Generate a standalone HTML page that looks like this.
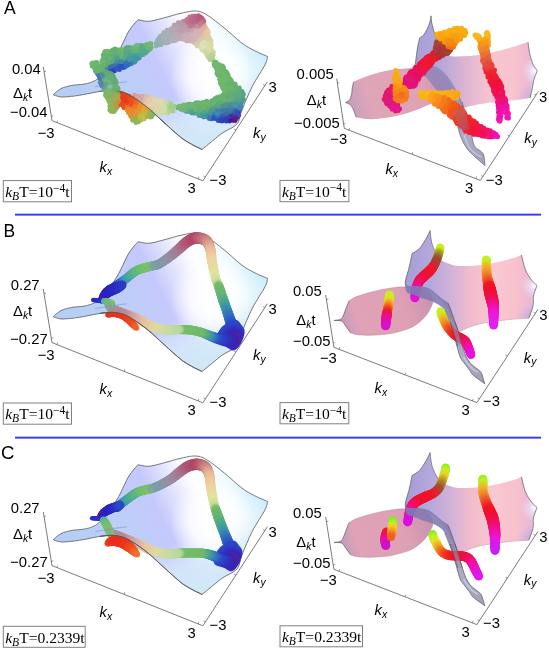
<!DOCTYPE html>
<html><head><meta charset="utf-8"><title>Figure</title>
<style>html,body{margin:0;padding:0;background:#fff}svg{display:block}</style></head>
<body><svg width="549" height="648" viewBox="0 0 549 648">
<defs><linearGradient id="ag" gradientUnits="userSpaceOnUse" x1="60" y1="94" x2="240.6" y2="3.7">
<stop offset="0" stop-color="#b4cef5"/><stop offset="0.3" stop-color="#bccff7"/><stop offset="0.5" stop-color="#c5c8fc"/><stop offset="0.72" stop-color="#ffffff"/><stop offset="0.86" stop-color="#f2fbff"/><stop offset="1" stop-color="#c6ebfa"/></linearGradient>
<radialGradient id="aw" gradientUnits="userSpaceOnUse" cx="212" cy="76" r="42"><stop offset="0" stop-color="#fff" stop-opacity="1"/><stop offset="0.5" stop-color="#fff" stop-opacity="0.8"/><stop offset="1" stop-color="#fff" stop-opacity="0"/></radialGradient>
<linearGradient id="ab" gradientUnits="userSpaceOnUse" x1="196" y1="150" x2="170" y2="100"><stop offset="0" stop-color="#cfe8f8" stop-opacity="1"/><stop offset="0.5" stop-color="#d8ecf9" stop-opacity="0.8"/><stop offset="1" stop-color="#e8f6fd" stop-opacity="0"/></linearGradient>
<clipPath id="ac"><path d="M138 19.7 L138.8 19.9 L139.9 20.1 L141.2 20.4 L142.7 20.7 L144.2 21 L145.9 21.2 L147.6 21.3 L149.3 21.2 L151.1 21 L153 20.6 L155 20.2 L157.1 19.7 L159.2 19.1 L161.3 18.6 L163.3 18 L165.3 17.5 L167.2 17 L169.1 16.5 L170.9 16 L172.7 15.4 L174.5 14.9 L176.3 14.4 L178.2 13.9 L180 13.5 L181.9 13.1 L183.8 12.6 L185.8 12.2 L187.7 11.8 L189.6 11.4 L191.5 11.2 L193.3 11 L195 11 L196.5 11.1 L197.9 11.2 L199.2 11.4 L200.5 11.8 L201.7 12.2 L203.1 12.8 L204.6 13.5 L206.3 14.5 L208.2 15.7 L210.3 17.1 L212.5 18.7 L214.8 20.5 L217.2 22.3 L219.6 24.2 L221.9 26.1 L224.2 27.9 L226.5 29.8 L228.8 31.8 L231.1 33.8 L233.4 35.9 L235.7 37.9 L237.9 39.9 L240 41.6 L242 43.2 L243.8 44.5 L245.6 45.7 L247.2 46.7 L248.7 47.6 L250.2 48.4 L251.7 49.2 L253.2 50 L254.8 50.8 L256.5 51.6 L258.3 52.5 L260.1 53.3 L262 54.1 L263.7 54.8 L265.2 55.4 L266.5 56 L267.5 56.4 L267.4 57 L267.3 57.6 L267.2 58.4 L267.1 59.2 L266.8 60.3 L266.4 61.6 L265.8 63.1 L265 64.8 L263.9 66.9 L262.5 69.2 L260.8 71.9 L259.1 74.7 L257.3 77.6 L255.5 80.6 L253.7 83.6 L252.2 86.5 L250.8 89.4 L249.3 92.5 L248 95.6 L246.6 98.7 L245.3 101.8 L244.1 104.8 L243 107.5 L242 110 L241.2 112.2 L240.6 114.3 L240.1 116.2 L239.7 117.9 L239.3 119.5 L238.7 121.1 L238 122.6 L236.9 124 L235.5 125.4 L233.9 126.6 L232.1 127.7 L230.1 128.8 L228.1 129.8 L226.1 130.8 L224.2 131.9 L222.4 133 L220.7 134.2 L219 135.5 L217.4 136.8 L215.8 138.2 L214.2 139.5 L212.7 140.7 L211.3 141.9 L210 143 L208.7 144 L207.5 145 L206.3 146 L205.2 146.9 L204.2 147.7 L203.3 148.4 L202.6 149 L202 149.5 L200.6 148.8 L198.8 147.9 L196.6 146.9 L194.2 145.7 L191.7 144.3 L189.1 142.9 L186.6 141.4 L184.2 139.9 L181.9 138.3 L179.7 136.4 L177.4 134.5 L175.1 132.5 L172.8 130.5 L170.6 128.5 L168.4 126.5 L166.3 124.6 L164.2 122.7 L162.1 120.8 L160.1 119 L158.1 117.1 L156.2 115.3 L154.3 113.6 L152.6 112 L151 110.6 L149.6 109.4 L148.3 108.3 L147.2 107.3 L146.1 106.5 L145.1 105.7 L144.1 104.9 L143.1 104.2 L142 103.4 L140.9 102.6 L139.8 101.8 L138.7 101 L137.6 100.3 L136.4 99.6 L135.4 98.8 L134.3 98.2 L133.2 97.5 L132.1 96.9 L131.1 96.2 L130.1 95.6 L129 95 L128 94.5 L127 93.9 L126 93.4 L125 93 L124 92.6 L123 92.2 L122 91.9 L121 91.6 L120 91.4 L119 91.2 L118 91 L117 90.8 L116 90.7 L115 90.5 L114 90.5 L113.1 90.4 L112.1 90.4 L111.1 90.4 L110 90.4 L109 90.4 L108 90.4 L107 90.5 L106.1 90.6 L105.1 90.7 L104 90.8 L102.9 91 L101.5 91.2 L100 91.4 L98.2 91.7 L96.1 92.1 L93.9 92.5 L91.5 93 L89.1 93.5 L86.8 93.9 L84.7 94.4 L82.8 94.7 L81.1 95 L79.6 95.2 L78.3 95.5 L77 95.7 L75.7 95.8 L74.5 96 L73.2 96.2 L71.9 96.3 L70.5 96.4 L69.1 96.6 L67.6 96.7 L66.2 96.8 L64.8 96.9 L63.4 97 L62.1 97 L60.9 96.9 L59.7 96.7 L58.5 96.5 L57.4 96.2 L56.3 95.8 L55.3 95.5 L54.4 95.2 L53.7 94.9 L53.1 94.7 L53.7 94.2 L54.4 93.6 L55.3 92.8 L56.3 91.9 L57.4 91 L58.5 90.2 L59.7 89.4 L60.9 88.7 L62.1 88.1 L63.4 87.6 L64.8 87.2 L66.2 86.7 L67.6 86.4 L69.1 86 L70.5 85.7 L71.9 85.4 L73.3 85.2 L74.7 85 L76.1 84.9 L77.5 84.8 L78.9 84.7 L80.2 84.6 L81.5 84.5 L82.8 84.3 L84 84.1 L85.2 83.9 L86.3 83.6 L87.4 83.4 L88.5 83.1 L89.5 82.8 L90.5 82.5 L91.5 82.1 L92.4 81.7 L93.2 81.4 L94 81.1 L94.7 80.7 L95.5 80.3 L96.3 79.7 L97.1 79.1 L98.1 78.3 L99.2 77.4 L100.3 76.3 L101.5 75.2 L102.8 73.9 L104.1 72.6 L105.4 71.2 L106.7 69.6 L108 68 L109.3 66.3 L110.6 64.4 L112 62.4 L113.3 60.4 L114.7 58.3 L116 56.1 L117.4 53.8 L118.7 51.5 L120 49.1 L121.3 46.4 L122.6 43.7 L123.9 40.9 L125.2 38.2 L126.4 35.6 L127.7 33.1 L128.9 31 L130.2 29.1 L131.5 27.3 L132.8 25.6 L134.1 24.1 L135.3 22.7 L136.4 21.5 L137.3 20.5 L138 19.7Z"/></clipPath>
<linearGradient id="bg" gradientUnits="userSpaceOnUse" x1="60" y1="316" x2="240.6" y2="225.7">
<stop offset="0" stop-color="#b4cef5"/><stop offset="0.3" stop-color="#bccff7"/><stop offset="0.5" stop-color="#c5c8fc"/><stop offset="0.72" stop-color="#ffffff"/><stop offset="0.86" stop-color="#f2fbff"/><stop offset="1" stop-color="#c6ebfa"/></linearGradient>
<radialGradient id="bw" gradientUnits="userSpaceOnUse" cx="212" cy="298" r="42"><stop offset="0" stop-color="#fff" stop-opacity="1"/><stop offset="0.5" stop-color="#fff" stop-opacity="0.8"/><stop offset="1" stop-color="#fff" stop-opacity="0"/></radialGradient>
<linearGradient id="bb" gradientUnits="userSpaceOnUse" x1="196" y1="372" x2="170" y2="322"><stop offset="0" stop-color="#cfe8f8" stop-opacity="1"/><stop offset="0.5" stop-color="#d8ecf9" stop-opacity="0.8"/><stop offset="1" stop-color="#e8f6fd" stop-opacity="0"/></linearGradient>
<clipPath id="bc"><path d="M138 241.7 L138.8 241.9 L139.9 242.1 L141.2 242.4 L142.7 242.7 L144.2 243 L145.9 243.2 L147.6 243.3 L149.3 243.2 L151.1 243 L153 242.6 L155 242.2 L157.1 241.7 L159.2 241.1 L161.3 240.6 L163.3 240 L165.3 239.5 L167.2 239 L169.1 238.5 L170.9 238 L172.7 237.4 L174.5 236.9 L176.3 236.4 L178.2 235.9 L180 235.5 L181.9 235.1 L183.8 234.6 L185.8 234.2 L187.7 233.8 L189.6 233.4 L191.5 233.2 L193.3 233 L195 233 L196.5 233.1 L197.9 233.2 L199.2 233.4 L200.5 233.8 L201.7 234.2 L203.1 234.8 L204.6 235.5 L206.3 236.5 L208.2 237.7 L210.3 239.1 L212.5 240.7 L214.8 242.5 L217.2 244.3 L219.6 246.2 L221.9 248.1 L224.2 249.9 L226.5 251.8 L228.8 253.8 L231.1 255.8 L233.4 257.9 L235.7 259.9 L237.9 261.9 L240 263.6 L242 265.2 L243.8 266.5 L245.6 267.7 L247.2 268.7 L248.7 269.6 L250.2 270.4 L251.7 271.2 L253.2 272 L254.8 272.8 L256.5 273.6 L258.3 274.5 L260.1 275.3 L262 276.1 L263.7 276.8 L265.2 277.4 L266.5 278 L267.5 278.4 L267.4 279 L267.3 279.6 L267.2 280.4 L267.1 281.2 L266.8 282.3 L266.4 283.6 L265.8 285.1 L265 286.8 L263.9 288.9 L262.5 291.2 L260.8 293.9 L259.1 296.7 L257.3 299.6 L255.5 302.6 L253.7 305.6 L252.2 308.5 L250.8 311.4 L249.3 314.5 L248 317.6 L246.6 320.7 L245.3 323.8 L244.1 326.8 L243 329.5 L242 332 L241.2 334.2 L240.6 336.3 L240.1 338.2 L239.7 339.9 L239.3 341.5 L238.7 343.1 L238 344.6 L236.9 346 L235.5 347.4 L233.9 348.6 L232.1 349.7 L230.1 350.8 L228.1 351.8 L226.1 352.8 L224.2 353.9 L222.4 355 L220.7 356.2 L219 357.5 L217.4 358.8 L215.8 360.2 L214.2 361.5 L212.7 362.7 L211.3 363.9 L210 365 L208.7 366 L207.5 367 L206.3 368 L205.2 368.9 L204.2 369.7 L203.3 370.4 L202.6 371 L202 371.5 L200.6 370.8 L198.8 369.9 L196.6 368.9 L194.2 367.7 L191.7 366.3 L189.1 364.9 L186.6 363.4 L184.2 361.9 L181.9 360.3 L179.7 358.4 L177.4 356.5 L175.1 354.5 L172.8 352.5 L170.6 350.5 L168.4 348.5 L166.3 346.6 L164.2 344.7 L162.1 342.8 L160.1 341 L158.1 339.1 L156.2 337.3 L154.3 335.6 L152.6 334 L151 332.6 L149.6 331.4 L148.3 330.3 L147.2 329.3 L146.1 328.5 L145.1 327.7 L144.1 326.9 L143.1 326.2 L142 325.4 L140.9 324.6 L139.8 323.8 L138.7 323 L137.6 322.3 L136.4 321.6 L135.4 320.8 L134.3 320.2 L133.2 319.5 L132.1 318.9 L131.1 318.2 L130.1 317.6 L129 317 L128 316.5 L127 315.9 L126 315.4 L125 315 L124 314.6 L123 314.2 L122 313.9 L121 313.6 L120 313.4 L119 313.2 L118 313 L117 312.8 L116 312.7 L115 312.5 L114 312.5 L113.1 312.4 L112.1 312.4 L111.1 312.4 L110 312.4 L109 312.4 L108 312.4 L107 312.5 L106.1 312.6 L105.1 312.7 L104 312.8 L102.9 313 L101.5 313.2 L100 313.4 L98.2 313.7 L96.1 314.1 L93.9 314.5 L91.5 315 L89.1 315.5 L86.8 315.9 L84.7 316.4 L82.8 316.7 L81.1 317 L79.6 317.2 L78.3 317.5 L77 317.7 L75.7 317.8 L74.5 318 L73.2 318.2 L71.9 318.3 L70.5 318.4 L69.1 318.6 L67.6 318.7 L66.2 318.8 L64.8 318.9 L63.4 319 L62.1 319 L60.9 318.9 L59.7 318.7 L58.5 318.5 L57.4 318.2 L56.3 317.8 L55.3 317.5 L54.4 317.2 L53.7 316.9 L53.1 316.7 L53.7 316.2 L54.4 315.6 L55.3 314.8 L56.3 313.9 L57.4 313 L58.5 312.2 L59.7 311.4 L60.9 310.7 L62.1 310.1 L63.4 309.6 L64.8 309.2 L66.2 308.7 L67.6 308.4 L69.1 308 L70.5 307.7 L71.9 307.4 L73.3 307.2 L74.7 307 L76.1 306.9 L77.5 306.8 L78.9 306.7 L80.2 306.6 L81.5 306.5 L82.8 306.3 L84 306.1 L85.2 305.9 L86.3 305.6 L87.4 305.4 L88.5 305.1 L89.5 304.8 L90.5 304.5 L91.5 304.1 L92.4 303.7 L93.2 303.4 L94 303.1 L94.7 302.7 L95.5 302.3 L96.3 301.7 L97.1 301.1 L98.1 300.3 L99.2 299.4 L100.3 298.3 L101.5 297.2 L102.8 295.9 L104.1 294.6 L105.4 293.2 L106.7 291.6 L108 290 L109.3 288.3 L110.6 286.4 L112 284.4 L113.3 282.4 L114.7 280.3 L116 278.1 L117.4 275.8 L118.7 273.5 L120 271.1 L121.3 268.4 L122.6 265.7 L123.9 262.9 L125.2 260.2 L126.4 257.6 L127.7 255.1 L128.9 253 L130.2 251.1 L131.5 249.3 L132.8 247.6 L134.1 246.1 L135.3 244.7 L136.4 243.5 L137.3 242.5 L138 241.7Z"/></clipPath>
<radialGradient id="cg222" gradientUnits="userSpaceOnUse" cx="234.5" cy="339" r="15"><stop offset="0" stop-color="#80168c"/><stop offset="0.3" stop-color="#5a1ea0"/><stop offset="0.6" stop-color="#3426b8"/><stop offset="1" stop-color="#2c44c8"/></radialGradient>
<clipPath id="bfe"><path d="M100 313.7 L100.7 313.6 L101.6 313.5 L102.8 313.3 L104 313.2 L105.3 313 L106.6 312.9 L107.9 312.8 L109 312.7 L110 312.7 L111.1 312.7 L112.1 312.7 L113.1 312.7 L114 312.8 L115 312.8 L116 313 L117 313.1 L118 313.3 L119 313.5 L120 313.7 L121 313.9 L122 314.2 L123 314.5 L124 314.9 L125 315.3 L126 315.7 L127 316.2 L128 316.8 L129.1 317.3 L130.1 317.9 L131.1 318.5 L132.1 319.2 L133.2 319.8 L134.3 320.5 L135.4 321.1 L136.4 321.9 L137.5 322.6 L138.7 323.3 L139.8 324.1 L140.9 324.9 L142 325.7 L143.1 326.5 L144.1 327.2 L145.1 328 L146.1 328.8 L147.2 329.6 L148.3 330.6 L149.6 331.7 L151 332.9 L152.6 334.3 L154.3 335.9 L156.2 337.6 L158.1 339.4 L160.1 341.3 L162.1 343.1 L164.2 345 L166.3 346.9 L168.4 348.8 L170.6 350.8 L172.8 352.8 L175.1 354.8 L177.4 356.8 L179.7 358.7 L181.9 360.6 L184.2 362.2 L186.6 363.7 L189.1 365.2 L191.7 366.6 L194.2 368 L196.6 369.2 L198.8 370.2 L200.6 371.1 L202 371.8 L202 422 L90 422 L90 313.6Z"/></clipPath>
<linearGradient id="cg" gradientUnits="userSpaceOnUse" x1="60" y1="539" x2="240.6" y2="448.7">
<stop offset="0" stop-color="#b4cef5"/><stop offset="0.3" stop-color="#bccff7"/><stop offset="0.5" stop-color="#c5c8fc"/><stop offset="0.72" stop-color="#ffffff"/><stop offset="0.86" stop-color="#f2fbff"/><stop offset="1" stop-color="#c6ebfa"/></linearGradient>
<radialGradient id="cw" gradientUnits="userSpaceOnUse" cx="212" cy="521" r="42"><stop offset="0" stop-color="#fff" stop-opacity="1"/><stop offset="0.5" stop-color="#fff" stop-opacity="0.8"/><stop offset="1" stop-color="#fff" stop-opacity="0"/></radialGradient>
<linearGradient id="cb" gradientUnits="userSpaceOnUse" x1="196" y1="595" x2="170" y2="545"><stop offset="0" stop-color="#cfe8f8" stop-opacity="1"/><stop offset="0.5" stop-color="#d8ecf9" stop-opacity="0.8"/><stop offset="1" stop-color="#e8f6fd" stop-opacity="0"/></linearGradient>
<clipPath id="cc"><path d="M138 464.7 L138.8 464.9 L139.9 465.1 L141.2 465.4 L142.7 465.7 L144.2 466 L145.9 466.2 L147.6 466.3 L149.3 466.2 L151.1 466 L153 465.6 L155 465.2 L157.1 464.7 L159.2 464.1 L161.3 463.6 L163.3 463 L165.3 462.5 L167.2 462 L169.1 461.5 L170.9 461 L172.7 460.4 L174.5 459.9 L176.3 459.4 L178.2 458.9 L180 458.5 L181.9 458.1 L183.8 457.6 L185.8 457.2 L187.7 456.8 L189.6 456.4 L191.5 456.2 L193.3 456 L195 456 L196.5 456.1 L197.9 456.2 L199.2 456.4 L200.5 456.8 L201.7 457.2 L203.1 457.8 L204.6 458.5 L206.3 459.5 L208.2 460.7 L210.3 462.1 L212.5 463.7 L214.8 465.5 L217.2 467.3 L219.6 469.2 L221.9 471.1 L224.2 472.9 L226.5 474.8 L228.8 476.8 L231.1 478.8 L233.4 480.9 L235.7 482.9 L237.9 484.9 L240 486.6 L242 488.2 L243.8 489.5 L245.6 490.7 L247.2 491.7 L248.7 492.6 L250.2 493.4 L251.7 494.2 L253.2 495 L254.8 495.8 L256.5 496.6 L258.3 497.5 L260.1 498.3 L262 499.1 L263.7 499.8 L265.2 500.4 L266.5 501 L267.5 501.4 L267.4 502 L267.3 502.6 L267.2 503.4 L267.1 504.2 L266.8 505.3 L266.4 506.6 L265.8 508.1 L265 509.8 L263.9 511.9 L262.5 514.2 L260.8 516.9 L259.1 519.7 L257.3 522.6 L255.5 525.6 L253.7 528.6 L252.2 531.5 L250.8 534.4 L249.3 537.5 L248 540.6 L246.6 543.7 L245.3 546.8 L244.1 549.8 L243 552.5 L242 555 L241.2 557.2 L240.6 559.3 L240.1 561.2 L239.7 562.9 L239.3 564.5 L238.7 566.1 L238 567.6 L236.9 569 L235.5 570.4 L233.9 571.6 L232.1 572.7 L230.1 573.8 L228.1 574.8 L226.1 575.8 L224.2 576.9 L222.4 578 L220.7 579.2 L219 580.5 L217.4 581.8 L215.8 583.2 L214.2 584.5 L212.7 585.7 L211.3 586.9 L210 588 L208.7 589 L207.5 590 L206.3 591 L205.2 591.9 L204.2 592.7 L203.3 593.4 L202.6 594 L202 594.5 L200.6 593.8 L198.8 592.9 L196.6 591.9 L194.2 590.7 L191.7 589.3 L189.1 587.9 L186.6 586.4 L184.2 584.9 L181.9 583.3 L179.7 581.4 L177.4 579.5 L175.1 577.5 L172.8 575.5 L170.6 573.5 L168.4 571.5 L166.3 569.6 L164.2 567.7 L162.1 565.8 L160.1 564 L158.1 562.1 L156.2 560.3 L154.3 558.6 L152.6 557 L151 555.6 L149.6 554.4 L148.3 553.3 L147.2 552.3 L146.1 551.5 L145.1 550.7 L144.1 549.9 L143.1 549.2 L142 548.4 L140.9 547.6 L139.8 546.8 L138.7 546 L137.6 545.3 L136.4 544.6 L135.4 543.8 L134.3 543.2 L133.2 542.5 L132.1 541.9 L131.1 541.2 L130.1 540.6 L129 540 L128 539.5 L127 538.9 L126 538.4 L125 538 L124 537.6 L123 537.2 L122 536.9 L121 536.6 L120 536.4 L119 536.2 L118 536 L117 535.8 L116 535.7 L115 535.5 L114 535.5 L113.1 535.4 L112.1 535.4 L111.1 535.4 L110 535.4 L109 535.4 L108 535.4 L107 535.5 L106.1 535.6 L105.1 535.7 L104 535.8 L102.9 536 L101.5 536.2 L100 536.4 L98.2 536.7 L96.1 537.1 L93.9 537.5 L91.5 538 L89.1 538.5 L86.8 538.9 L84.7 539.4 L82.8 539.7 L81.1 540 L79.6 540.2 L78.3 540.5 L77 540.7 L75.7 540.8 L74.5 541 L73.2 541.2 L71.9 541.3 L70.5 541.4 L69.1 541.6 L67.6 541.7 L66.2 541.8 L64.8 541.9 L63.4 542 L62.1 542 L60.9 541.9 L59.7 541.7 L58.5 541.5 L57.4 541.2 L56.3 540.8 L55.3 540.5 L54.4 540.2 L53.7 539.9 L53.1 539.7 L53.7 539.2 L54.4 538.6 L55.3 537.8 L56.3 536.9 L57.4 536 L58.5 535.2 L59.7 534.4 L60.9 533.7 L62.1 533.1 L63.4 532.6 L64.8 532.2 L66.2 531.7 L67.6 531.4 L69.1 531 L70.5 530.7 L71.9 530.4 L73.3 530.2 L74.7 530 L76.1 529.9 L77.5 529.8 L78.9 529.7 L80.2 529.6 L81.5 529.5 L82.8 529.3 L84 529.1 L85.2 528.9 L86.3 528.6 L87.4 528.4 L88.5 528.1 L89.5 527.8 L90.5 527.5 L91.5 527.1 L92.4 526.7 L93.2 526.4 L94 526.1 L94.7 525.7 L95.5 525.3 L96.3 524.7 L97.1 524.1 L98.1 523.3 L99.2 522.4 L100.3 521.3 L101.5 520.2 L102.8 518.9 L104.1 517.6 L105.4 516.2 L106.7 514.6 L108 513 L109.3 511.3 L110.6 509.4 L112 507.4 L113.3 505.4 L114.7 503.3 L116 501.1 L117.4 498.8 L118.7 496.5 L120 494.1 L121.3 491.4 L122.6 488.7 L123.9 485.9 L125.2 483.2 L126.4 480.6 L127.7 478.1 L128.9 476 L130.2 474.1 L131.5 472.3 L132.8 470.6 L134.1 469.1 L135.3 467.7 L136.4 466.5 L137.3 465.5 L138 464.7Z"/></clipPath>
<radialGradient id="cg445" gradientUnits="userSpaceOnUse" cx="232.3" cy="559.8" r="15"><stop offset="0" stop-color="#80168c"/><stop offset="0.3" stop-color="#5a1ea0"/><stop offset="0.6" stop-color="#3426b8"/><stop offset="1" stop-color="#2c44c8"/></radialGradient>
<clipPath id="cfe"><path d="M100 536.7 L100.7 536.6 L101.6 536.5 L102.8 536.3 L104 536.2 L105.3 536 L106.6 535.9 L107.9 535.8 L109 535.7 L110 535.7 L111.1 535.7 L112.1 535.7 L113.1 535.7 L114 535.8 L115 535.8 L116 536 L117 536.1 L118 536.3 L119 536.5 L120 536.7 L121 536.9 L122 537.2 L123 537.5 L124 537.9 L125 538.3 L126 538.7 L127 539.2 L128 539.8 L129.1 540.3 L130.1 540.9 L131.1 541.5 L132.1 542.2 L133.2 542.8 L134.3 543.5 L135.4 544.1 L136.4 544.9 L137.5 545.6 L138.7 546.3 L139.8 547.1 L140.9 547.9 L142 548.7 L143.1 549.5 L144.1 550.2 L145.1 551 L146.1 551.8 L147.2 552.6 L148.3 553.6 L149.6 554.7 L151 555.9 L152.6 557.3 L154.3 558.9 L156.2 560.6 L158.1 562.4 L160.1 564.3 L162.1 566.1 L164.2 568 L166.3 569.9 L168.4 571.8 L170.6 573.8 L172.8 575.8 L175.1 577.8 L177.4 579.8 L179.7 581.7 L181.9 583.6 L184.2 585.2 L186.6 586.7 L189.1 588.2 L191.7 589.6 L194.2 591 L196.6 592.2 L198.8 593.2 L200.6 594.1 L202 594.8 L202 645 L90 645 L90 536.6Z"/></clipPath>
<linearGradient id="rbf" gradientUnits="userSpaceOnUse" x1="405" y1="0" x2="537" y2="0">
<stop offset="0" stop-color="#a49cd6"/><stop offset="0.2" stop-color="#b5a9dc"/><stop offset="0.36" stop-color="#d4b2d6"/><stop offset="0.5" stop-color="#f2bccc"/><stop offset="0.68" stop-color="#f9c8d0"/><stop offset="0.85" stop-color="#f7c0cc"/><stop offset="0.95" stop-color="#ecb8d4"/><stop offset="1" stop-color="#dcd8fa"/></linearGradient>
<linearGradient id="rbn" gradientUnits="userSpaceOnUse" x1="340" y1="330" x2="430" y2="300">
<stop offset="0" stop-color="#bc98c0"/><stop offset="0.2" stop-color="#dfa2b6"/><stop offset="0.7" stop-color="#dea0b4"/><stop offset="1" stop-color="#cc94b0"/></linearGradient>
<linearGradient id="rbr" gradientUnits="userSpaceOnUse" x1="410" y1="282" x2="485" y2="383">
<stop offset="0" stop-color="#8078b4"/><stop offset="0.4" stop-color="#867eb0"/><stop offset="0.7" stop-color="#a8a2bc"/><stop offset="1" stop-color="#9a94ac"/></linearGradient>
<radialGradient id="rbh" gradientUnits="userSpaceOnUse" cx="534" cy="286" r="13"><stop offset="0" stop-color="#fff" stop-opacity="0.95"/><stop offset="0.4" stop-color="#e8e6ff" stop-opacity="0.6"/><stop offset="1" stop-color="#e8e6ff" stop-opacity="0"/></radialGradient>
<clipPath id="rbk"><path d="M430.1 230.5 L430.2 231.5 L430.4 232.8 L430.5 234.4 L430.7 236.2 L430.9 238 L431.2 239.9 L431.5 241.6 L431.9 243.2 L432.3 244.7 L432.8 246.2 L433.4 247.6 L434 249 L434.6 250.4 L435.2 251.7 L435.9 253 L436.5 254.1 L437.1 255.1 L437.8 256.1 L438.4 257 L439 257.8 L439.7 258.5 L440.4 259.2 L441.1 259.9 L441.9 260.5 L442.7 261.1 L443.5 261.5 L444.4 262 L445.3 262.4 L446.2 262.7 L447.1 263 L448.1 263.4 L449.1 263.7 L450.1 264 L451 264.4 L452 264.7 L453 265 L454 265.3 L455.2 265.6 L456.6 265.8 L458.2 265.9 L460 266 L462.1 266 L464.4 266 L466.7 266 L469.2 265.9 L471.6 265.8 L474.1 265.7 L476.4 265.5 L478.7 265.3 L480.9 265 L483.2 264.7 L485.5 264.4 L487.8 264.1 L490 263.7 L492.3 263.2 L494.6 262.8 L496.9 262.3 L499.4 261.8 L501.9 261.2 L504.4 260.5 L506.7 259.9 L509 259.3 L511.1 258.7 L512.9 258.2 L514.5 257.7 L515.9 257.2 L517.2 256.7 L518.3 256.2 L519.3 255.8 L520.2 255.4 L520.9 255.1 L521.5 254.8 L521.7 255.8 L522 257.2 L522.4 258.9 L522.8 260.8 L523.3 262.7 L523.8 264.6 L524.3 266.4 L524.8 268 L525.3 269.4 L525.9 270.8 L526.5 272.1 L527.2 273.4 L527.8 274.6 L528.5 275.7 L529.3 276.9 L530 278 L530.8 279.1 L531.8 280.2 L532.8 281.4 L533.8 282.4 L534.8 283.4 L535.7 284.3 L536.4 285 L537 285.6 L536.7 286.4 L536.3 287.5 L535.8 288.8 L535.3 290.2 L534.7 291.7 L534.2 293.2 L533.8 294.6 L533.5 296 L533.3 297.3 L533.2 298.5 L533.3 299.7 L533.3 300.9 L533.3 302.1 L533.3 303.4 L533.2 304.6 L533 306 L532.6 307.5 L532.1 309.2 L531.5 311 L530.9 312.7 L530.3 314.4 L529.7 316 L529.2 317.2 L528.9 318.2 L527.4 318.3 L525.4 318.4 L523 318.5 L520.4 318.7 L517.5 318.8 L514.5 319 L511.5 319.3 L508.5 319.6 L505.4 320 L501.9 320.4 L498.4 320.8 L494.7 321.4 L491.1 321.9 L487.6 322.4 L484.3 323 L481.4 323.6 L478.8 324.2 L476.4 324.9 L474.1 325.5 L472.1 326.2 L470.1 326.9 L468.3 327.6 L466.7 328.3 L465.1 329 L463.6 329.7 L462.3 330.4 L461.1 331.1 L460 331.8 L459.1 332.5 L458.3 333.1 L457.6 333.6 L457 334 L456.6 332.9 L456.1 331.5 L455.5 329.7 L454.9 327.8 L454.2 325.8 L453.4 323.8 L452.7 321.8 L452 320 L451.3 318.3 L450.6 316.6 L449.9 314.9 L449.2 313.2 L448.4 311.6 L447.7 310 L446.9 308.5 L446 307 L445.1 305.6 L444.2 304.2 L443.2 302.9 L442.2 301.6 L441.2 300.3 L440.2 299.1 L439.1 298 L438 297 L436.9 296 L435.7 295.1 L434.5 294.3 L433.2 293.6 L432 292.9 L430.7 292.2 L429.4 291.6 L428 291 L426.6 290.5 L425.1 290 L423.6 289.6 L422 289.2 L420.4 288.8 L418.9 288.5 L417.4 288.3 L416 288 L414.6 287.8 L413.1 287.6 L411.7 287.4 L410.2 287.3 L408.9 287.2 L407.8 287.1 L406.8 287.1 L406 287 L405.9 286.6 L405.8 286.1 L405.6 285.6 L405.4 284.9 L405.3 284.2 L405.2 283.3 L405.3 282.2 L405.4 281 L405.7 279.5 L406.1 277.8 L406.7 275.9 L407.3 273.9 L407.9 271.8 L408.5 269.8 L409 267.8 L409.5 266 L409.9 264.2 L410.3 262.4 L410.7 260.6 L411 258.8 L411.3 257.2 L411.6 255.7 L411.8 254.4 L412 253.5 L412.6 253.2 L413.3 252.7 L414.2 252.2 L415.2 251.7 L416.2 251 L417.3 250.3 L418.3 249.5 L419.2 248.7 L420 247.8 L420.9 246.7 L421.7 245.6 L422.5 244.4 L423.3 243.2 L424.1 242 L424.8 240.8 L425.5 239.6 L426.2 238.4 L426.9 237.1 L427.6 235.8 L428.2 234.5 L428.8 233.2 L429.3 232.1 L429.8 231.2 L430.1 230.5Z"/></clipPath>
<radialGradient id="rbl" gradientUnits="userSpaceOnUse" cx="532" cy="318" r="16"><stop offset="0" stop-color="#b8a8e8" stop-opacity="0.9"/><stop offset="1" stop-color="#c8b0e8" stop-opacity="0"/></radialGradient>
<linearGradient id="rcf" gradientUnits="userSpaceOnUse" x1="405" y1="0" x2="537" y2="0">
<stop offset="0" stop-color="#a49cd6"/><stop offset="0.2" stop-color="#b5a9dc"/><stop offset="0.36" stop-color="#d4b2d6"/><stop offset="0.5" stop-color="#f2bccc"/><stop offset="0.68" stop-color="#f9c8d0"/><stop offset="0.85" stop-color="#f7c0cc"/><stop offset="0.95" stop-color="#ecb8d4"/><stop offset="1" stop-color="#dcd8fa"/></linearGradient>
<linearGradient id="rcn" gradientUnits="userSpaceOnUse" x1="340" y1="552" x2="430" y2="522">
<stop offset="0" stop-color="#bc98c0"/><stop offset="0.2" stop-color="#dfa2b6"/><stop offset="0.7" stop-color="#dea0b4"/><stop offset="1" stop-color="#cc94b0"/></linearGradient>
<linearGradient id="rcr" gradientUnits="userSpaceOnUse" x1="410" y1="504" x2="485" y2="605">
<stop offset="0" stop-color="#8078b4"/><stop offset="0.4" stop-color="#867eb0"/><stop offset="0.7" stop-color="#a8a2bc"/><stop offset="1" stop-color="#9a94ac"/></linearGradient>
<radialGradient id="rch" gradientUnits="userSpaceOnUse" cx="534" cy="508" r="13"><stop offset="0" stop-color="#fff" stop-opacity="0.95"/><stop offset="0.4" stop-color="#e8e6ff" stop-opacity="0.6"/><stop offset="1" stop-color="#e8e6ff" stop-opacity="0"/></radialGradient>
<clipPath id="rck"><path d="M430.1 452.5 L430.2 453.5 L430.4 454.8 L430.5 456.4 L430.7 458.2 L430.9 460 L431.2 461.9 L431.5 463.6 L431.9 465.2 L432.3 466.7 L432.8 468.2 L433.4 469.6 L434 471 L434.6 472.4 L435.2 473.7 L435.9 475 L436.5 476.1 L437.1 477.1 L437.8 478.1 L438.4 479 L439 479.8 L439.7 480.5 L440.4 481.2 L441.1 481.9 L441.9 482.5 L442.7 483.1 L443.5 483.5 L444.4 484 L445.3 484.4 L446.2 484.7 L447.1 485 L448.1 485.4 L449.1 485.7 L450.1 486 L451 486.4 L452 486.7 L453 487 L454 487.3 L455.2 487.6 L456.6 487.8 L458.2 487.9 L460 488 L462.1 488 L464.4 488 L466.7 488 L469.2 487.9 L471.6 487.8 L474.1 487.7 L476.4 487.5 L478.7 487.3 L480.9 487 L483.2 486.7 L485.5 486.4 L487.8 486.1 L490 485.7 L492.3 485.2 L494.6 484.8 L496.9 484.3 L499.4 483.8 L501.9 483.2 L504.4 482.5 L506.7 481.9 L509 481.3 L511.1 480.7 L512.9 480.2 L514.5 479.7 L515.9 479.2 L517.2 478.7 L518.3 478.2 L519.3 477.8 L520.2 477.4 L520.9 477.1 L521.5 476.8 L521.7 477.8 L522 479.2 L522.4 480.9 L522.8 482.8 L523.3 484.7 L523.8 486.6 L524.3 488.4 L524.8 490 L525.3 491.4 L525.9 492.8 L526.5 494.1 L527.2 495.4 L527.8 496.6 L528.5 497.7 L529.3 498.9 L530 500 L530.8 501.1 L531.8 502.2 L532.8 503.4 L533.8 504.4 L534.8 505.4 L535.7 506.3 L536.4 507 L537 507.6 L536.7 508.4 L536.3 509.5 L535.8 510.8 L535.3 512.2 L534.7 513.7 L534.2 515.2 L533.8 516.6 L533.5 518 L533.3 519.3 L533.2 520.5 L533.3 521.7 L533.3 522.9 L533.3 524.1 L533.3 525.4 L533.2 526.6 L533 528 L532.6 529.5 L532.1 531.2 L531.5 533 L530.9 534.7 L530.3 536.4 L529.7 538 L529.2 539.2 L528.9 540.2 L527.4 540.3 L525.4 540.4 L523 540.5 L520.4 540.7 L517.5 540.8 L514.5 541 L511.5 541.3 L508.5 541.6 L505.4 542 L501.9 542.4 L498.4 542.8 L494.7 543.4 L491.1 543.9 L487.6 544.4 L484.3 545 L481.4 545.6 L478.8 546.2 L476.4 546.9 L474.1 547.5 L472.1 548.2 L470.1 548.9 L468.3 549.6 L466.7 550.3 L465.1 551 L463.6 551.7 L462.3 552.4 L461.1 553.1 L460 553.8 L459.1 554.5 L458.3 555.1 L457.6 555.6 L457 556 L456.6 554.9 L456.1 553.5 L455.5 551.7 L454.9 549.8 L454.2 547.8 L453.4 545.8 L452.7 543.8 L452 542 L451.3 540.3 L450.6 538.6 L449.9 536.9 L449.2 535.2 L448.4 533.6 L447.7 532 L446.9 530.5 L446 529 L445.1 527.6 L444.2 526.2 L443.2 524.9 L442.2 523.6 L441.2 522.3 L440.2 521.1 L439.1 520 L438 519 L436.9 518 L435.7 517.1 L434.5 516.3 L433.2 515.6 L432 514.9 L430.7 514.2 L429.4 513.6 L428 513 L426.6 512.5 L425.1 512 L423.6 511.6 L422 511.2 L420.4 510.8 L418.9 510.5 L417.4 510.3 L416 510 L414.6 509.8 L413.1 509.6 L411.7 509.4 L410.2 509.3 L408.9 509.2 L407.8 509.1 L406.8 509.1 L406 509 L405.9 508.6 L405.8 508.1 L405.6 507.6 L405.4 506.9 L405.3 506.2 L405.2 505.3 L405.3 504.2 L405.4 503 L405.7 501.5 L406.1 499.8 L406.7 497.9 L407.3 495.9 L407.9 493.8 L408.5 491.8 L409 489.8 L409.5 488 L409.9 486.2 L410.3 484.4 L410.7 482.6 L411 480.8 L411.3 479.2 L411.6 477.7 L411.8 476.4 L412 475.5 L412.6 475.2 L413.3 474.7 L414.2 474.2 L415.2 473.7 L416.2 473 L417.3 472.3 L418.3 471.5 L419.2 470.7 L420 469.8 L420.9 468.7 L421.7 467.6 L422.5 466.4 L423.3 465.2 L424.1 464 L424.8 462.8 L425.5 461.6 L426.2 460.4 L426.9 459.1 L427.6 457.8 L428.2 456.5 L428.8 455.2 L429.3 454.1 L429.8 453.2 L430.1 452.5Z"/></clipPath>
<radialGradient id="rcl" gradientUnits="userSpaceOnUse" cx="532" cy="540" r="16"><stop offset="0" stop-color="#b8a8e8" stop-opacity="0.9"/><stop offset="1" stop-color="#c8b0e8" stop-opacity="0"/></radialGradient>
<linearGradient id="raf" gradientUnits="userSpaceOnUse" x1="416" y1="0" x2="537" y2="0">
<stop offset="0" stop-color="#a8a0d6"/><stop offset="0.2" stop-color="#b3a6da"/><stop offset="0.38" stop-color="#d8b2d2"/><stop offset="0.6" stop-color="#f6c4d0"/><stop offset="0.8" stop-color="#f8c4ce"/><stop offset="0.93" stop-color="#efb8d0"/><stop offset="1" stop-color="#dcd8fa"/></linearGradient>
<linearGradient id="ran" gradientUnits="userSpaceOnUse" x1="345" y1="110" x2="450" y2="75">
<stop offset="0" stop-color="#c09cc0"/><stop offset="0.25" stop-color="#e0a6b8"/><stop offset="0.7" stop-color="#dea2b4"/><stop offset="1" stop-color="#c496b6"/></linearGradient>
<linearGradient id="rar" gradientUnits="userSpaceOnUse" x1="420" y1="66" x2="485" y2="165">
<stop offset="0" stop-color="#8a82bc"/><stop offset="0.45" stop-color="#8c84b2"/><stop offset="0.7" stop-color="#9c94b6"/><stop offset="1" stop-color="#8e86a8"/></linearGradient>
<radialGradient id="rah" gradientUnits="userSpaceOnUse" cx="534.5" cy="71" r="13"><stop offset="0" stop-color="#fff" stop-opacity="0.95"/><stop offset="0.4" stop-color="#e8e6ff" stop-opacity="0.6"/><stop offset="1" stop-color="#e8e6ff" stop-opacity="0"/></radialGradient><radialGradient id="ral" gradientUnits="userSpaceOnUse" cx="533" cy="98" r="16"><stop offset="0" stop-color="#b8a8e8" stop-opacity="0.9"/><stop offset="1" stop-color="#c8b0e8" stop-opacity="0"/></radialGradient><clipPath id="rak"><path d="M431.1 15.9 L431.1 16.3 L431.1 16.9 L431.1 17.5 L431.2 18.3 L431.2 19.1 L431.3 20 L431.4 21 L431.6 22 L431.8 23.1 L432.1 24.4 L432.5 25.8 L432.9 27.2 L433.2 28.7 L433.6 30.1 L434 31.5 L434.4 32.7 L434.7 33.8 L435.1 34.9 L435.4 35.9 L435.7 36.9 L436.1 37.8 L436.4 38.7 L436.9 39.7 L437.3 40.7 L437.8 41.7 L438.4 42.8 L438.9 43.9 L439.6 45 L440.2 46.1 L440.8 47.2 L441.4 48.1 L442 49 L442.6 49.8 L443.1 50.5 L443.7 51.2 L444.2 51.9 L444.8 52.5 L445.3 53 L445.9 53.5 L446.5 54 L447 54.4 L447.4 54.8 L447.7 55.2 L448 55.5 L448.5 55.8 L449.2 56 L450.3 56.2 L451.7 56.3 L453.6 56.4 L456 56.4 L458.6 56.4 L461.5 56.3 L464.5 56.2 L467.6 56.1 L470.6 55.9 L473.4 55.6 L476.1 55.3 L478.8 54.9 L481.5 54.5 L484.2 54 L486.9 53.5 L489.6 53 L492.3 52.4 L495 51.8 L497.8 51.1 L500.7 50.4 L503.6 49.6 L506.5 48.7 L509.3 47.9 L512 47.1 L514.5 46.4 L516.7 45.7 L518.7 45.1 L520.5 44.5 L522.2 44 L523.7 43.5 L525 43.1 L526.2 42.7 L527.2 42.4 L528 42.1 L528.1 43 L528.3 44.1 L528.4 45.5 L528.6 47.1 L528.9 48.7 L529.1 50.3 L529.4 51.9 L529.7 53.4 L530 54.8 L530.4 56.2 L530.8 57.7 L531.2 59.1 L531.6 60.5 L532.1 61.8 L532.5 63.1 L533 64.2 L533.5 65.3 L534.1 66.3 L534.7 67.2 L535.4 68.1 L536 68.9 L536.5 69.6 L537 70.2 L537.3 70.7 L537 71.4 L536.7 72.2 L536.3 73.2 L535.8 74.4 L535.3 75.6 L534.8 76.9 L534.4 78.2 L534 79.4 L533.7 80.7 L533.4 82 L533.1 83.4 L532.9 84.9 L532.6 86.3 L532.4 87.7 L532.1 89 L531.9 90.2 L531.7 91.4 L531.4 92.5 L531.2 93.6 L530.9 94.7 L530.7 95.6 L530.5 96.5 L530.3 97.2 L530.2 97.8 L529.2 98 L528 98.2 L526.5 98.5 L524.8 98.8 L523 99.1 L521 99.4 L518.9 99.7 L516.7 100 L514.4 100.3 L511.8 100.5 L509.2 100.7 L506.4 101 L503.5 101.2 L500.6 101.5 L497.8 101.8 L495 102.1 L492.2 102.5 L489.3 102.8 L486.4 103.3 L483.5 103.7 L480.7 104.1 L478 104.6 L475.6 105 L473.4 105.4 L471.5 105.8 L469.7 106.3 L468 106.7 L466.6 107.2 L465.3 107.6 L464.2 108 L463.3 108.4 L462.5 108.6 L462 107.6 L461.4 106.4 L460.6 104.9 L459.8 103.2 L458.9 101.4 L458 99.5 L457 97.7 L456 96 L455 94.3 L453.9 92.5 L452.8 90.7 L451.7 88.8 L450.5 87 L449.3 85.3 L448.1 83.6 L447 82 L445.9 80.5 L444.8 79.1 L443.7 77.7 L442.6 76.4 L441.4 75.2 L440.3 74.1 L439.2 73 L438 72 L436.8 71.1 L435.6 70.3 L434.4 69.6 L433.2 68.9 L431.9 68.4 L430.7 67.9 L429.3 67.4 L428 67 L426.5 66.7 L424.9 66.4 L423.2 66.3 L421.4 66.2 L419.8 66.1 L418.3 66.1 L417 66 L416.1 66 L415.4 66 L415.4 65.9 L415.3 65.8 L415.3 65.8 L415.3 65.7 L415.2 65.4 L415.2 65 L415.3 64.3 L415.4 63.3 L415.6 61.9 L415.8 60.1 L416.1 58 L416.4 55.7 L416.7 53.4 L417 51.2 L417.3 49.1 L417.6 47.3 L417.9 45.7 L418.2 44.2 L418.5 42.8 L418.8 41.5 L419.1 40.4 L419.4 39.4 L419.6 38.5 L419.8 37.8 L420.1 37.6 L420.6 37.3 L421.1 37 L421.7 36.6 L422.3 36.2 L422.9 35.6 L423.6 35 L424.2 34.2 L424.8 33.2 L425.5 32.1 L426.2 30.8 L426.9 29.4 L427.6 28 L428.2 26.6 L428.8 25.2 L429.3 24 L429.7 22.8 L430 21.6 L430.3 20.5 L430.5 19.3 L430.7 18.3 L430.9 17.3 L431 16.5 L431.1 15.9Z"/></clipPath></defs>
<rect width="549" height="648" fill="#fff"/>
<text x="4" y="14.2" font-size="17.5" font-family='"Liberation Sans", sans-serif' >A</text>
<text x="3.6" y="236.5" font-size="17.5" font-family='"Liberation Sans", sans-serif' >B</text>
<text x="1" y="459.3" font-size="18.6" font-family='"Liberation Sans", sans-serif' >C</text>
<rect x="15" y="213.7" width="526" height="1.9" fill="#3434ff"/>
<rect x="15" y="436.7" width="526" height="1.9" fill="#3434ff"/>
<line x1="43.3" y1="67" x2="52" y2="120.6" stroke="#5a5a5a" stroke-width="0.8"/>
<line x1="52" y1="120.6" x2="202.9" y2="180.8" stroke="#5a5a5a" stroke-width="0.8"/>
<line x1="202.9" y1="180.8" x2="267.4" y2="81.7" stroke="#5a5a5a" stroke-width="0.8"/>
<line x1="124.2" y1="149.4" x2="124.8" y2="147.2" stroke="#5a5a5a" stroke-width="0.6"/>
<line x1="57" y1="122.6" x2="57.6" y2="120.4" stroke="#5a5a5a" stroke-width="0.6"/>
<line x1="198.2" y1="179" x2="198.8" y2="176.8" stroke="#5a5a5a" stroke-width="0.6"/>
<line x1="236" y1="129.9" x2="234" y2="129.1" stroke="#5a5a5a" stroke-width="0.6"/>
<line x1="205.5" y1="176.8" x2="203.5" y2="176" stroke="#5a5a5a" stroke-width="0.6"/>
<line x1="265" y1="85.4" x2="263" y2="84.6" stroke="#5a5a5a" stroke-width="0.6"/>
<line x1="44" y1="71.5" x2="46" y2="71.2" stroke="#5a5a5a" stroke-width="0.6"/>
<line x1="51.3" y1="116.2" x2="53.3" y2="115.9" stroke="#5a5a5a" stroke-width="0.6"/>
<path d="M138 19.7 L138.8 19.9 L139.9 20.1 L141.2 20.4 L142.7 20.7 L144.2 21 L145.9 21.2 L147.6 21.3 L149.3 21.2 L151.1 21 L153 20.6 L155 20.2 L157.1 19.7 L159.2 19.1 L161.3 18.6 L163.3 18 L165.3 17.5 L167.2 17 L169.1 16.5 L170.9 16 L172.7 15.4 L174.5 14.9 L176.3 14.4 L178.2 13.9 L180 13.5 L181.9 13.1 L183.8 12.6 L185.8 12.2 L187.7 11.8 L189.6 11.4 L191.5 11.2 L193.3 11 L195 11 L196.5 11.1 L197.9 11.2 L199.2 11.4 L200.5 11.8 L201.7 12.2 L203.1 12.8 L204.6 13.5 L206.3 14.5 L208.2 15.7 L210.3 17.1 L212.5 18.7 L214.8 20.5 L217.2 22.3 L219.6 24.2 L221.9 26.1 L224.2 27.9 L226.5 29.8 L228.8 31.8 L231.1 33.8 L233.4 35.9 L235.7 37.9 L237.9 39.9 L240 41.6 L242 43.2 L243.8 44.5 L245.6 45.7 L247.2 46.7 L248.7 47.6 L250.2 48.4 L251.7 49.2 L253.2 50 L254.8 50.8 L256.5 51.6 L258.3 52.5 L260.1 53.3 L262 54.1 L263.7 54.8 L265.2 55.4 L266.5 56 L267.5 56.4 L267.4 57 L267.3 57.6 L267.2 58.4 L267.1 59.2 L266.8 60.3 L266.4 61.6 L265.8 63.1 L265 64.8 L263.9 66.9 L262.5 69.2 L260.8 71.9 L259.1 74.7 L257.3 77.6 L255.5 80.6 L253.7 83.6 L252.2 86.5 L250.8 89.4 L249.3 92.5 L248 95.6 L246.6 98.7 L245.3 101.8 L244.1 104.8 L243 107.5 L242 110 L241.2 112.2 L240.6 114.3 L240.1 116.2 L239.7 117.9 L239.3 119.5 L238.7 121.1 L238 122.6 L236.9 124 L235.5 125.4 L233.9 126.6 L232.1 127.7 L230.1 128.8 L228.1 129.8 L226.1 130.8 L224.2 131.9 L222.4 133 L220.7 134.2 L219 135.5 L217.4 136.8 L215.8 138.2 L214.2 139.5 L212.7 140.7 L211.3 141.9 L210 143 L208.7 144 L207.5 145 L206.3 146 L205.2 146.9 L204.2 147.7 L203.3 148.4 L202.6 149 L202 149.5 L200.6 148.8 L198.8 147.9 L196.6 146.9 L194.2 145.7 L191.7 144.3 L189.1 142.9 L186.6 141.4 L184.2 139.9 L181.9 138.3 L179.7 136.4 L177.4 134.5 L175.1 132.5 L172.8 130.5 L170.6 128.5 L168.4 126.5 L166.3 124.6 L164.2 122.7 L162.1 120.8 L160.1 119 L158.1 117.1 L156.2 115.3 L154.3 113.6 L152.6 112 L151 110.6 L149.6 109.4 L148.3 108.3 L147.2 107.3 L146.1 106.5 L145.1 105.7 L144.1 104.9 L143.1 104.2 L142 103.4 L140.9 102.6 L139.8 101.8 L138.7 101 L137.6 100.3 L136.4 99.6 L135.4 98.8 L134.3 98.2 L133.2 97.5 L132.1 96.9 L131.1 96.2 L130.1 95.6 L129 95 L128 94.5 L127 93.9 L126 93.4 L125 93 L124 92.6 L123 92.2 L122 91.9 L121 91.6 L120 91.4 L119 91.2 L118 91 L117 90.8 L116 90.7 L115 90.5 L114 90.5 L113.1 90.4 L112.1 90.4 L111.1 90.4 L110 90.4 L109 90.4 L108 90.4 L107 90.5 L106.1 90.6 L105.1 90.7 L104 90.8 L102.9 91 L101.5 91.2 L100 91.4 L98.2 91.7 L96.1 92.1 L93.9 92.5 L91.5 93 L89.1 93.5 L86.8 93.9 L84.7 94.4 L82.8 94.7 L81.1 95 L79.6 95.2 L78.3 95.5 L77 95.7 L75.7 95.8 L74.5 96 L73.2 96.2 L71.9 96.3 L70.5 96.4 L69.1 96.6 L67.6 96.7 L66.2 96.8 L64.8 96.9 L63.4 97 L62.1 97 L60.9 96.9 L59.7 96.7 L58.5 96.5 L57.4 96.2 L56.3 95.8 L55.3 95.5 L54.4 95.2 L53.7 94.9 L53.1 94.7 L53.7 94.2 L54.4 93.6 L55.3 92.8 L56.3 91.9 L57.4 91 L58.5 90.2 L59.7 89.4 L60.9 88.7 L62.1 88.1 L63.4 87.6 L64.8 87.2 L66.2 86.7 L67.6 86.4 L69.1 86 L70.5 85.7 L71.9 85.4 L73.3 85.2 L74.7 85 L76.1 84.9 L77.5 84.8 L78.9 84.7 L80.2 84.6 L81.5 84.5 L82.8 84.3 L84 84.1 L85.2 83.9 L86.3 83.6 L87.4 83.4 L88.5 83.1 L89.5 82.8 L90.5 82.5 L91.5 82.1 L92.4 81.7 L93.2 81.4 L94 81.1 L94.7 80.7 L95.5 80.3 L96.3 79.7 L97.1 79.1 L98.1 78.3 L99.2 77.4 L100.3 76.3 L101.5 75.2 L102.8 73.9 L104.1 72.6 L105.4 71.2 L106.7 69.6 L108 68 L109.3 66.3 L110.6 64.4 L112 62.4 L113.3 60.4 L114.7 58.3 L116 56.1 L117.4 53.8 L118.7 51.5 L120 49.1 L121.3 46.4 L122.6 43.7 L123.9 40.9 L125.2 38.2 L126.4 35.6 L127.7 33.1 L128.9 31 L130.2 29.1 L131.5 27.3 L132.8 25.6 L134.1 24.1 L135.3 22.7 L136.4 21.5 L137.3 20.5 L138 19.7Z" fill="url(#ag)" stroke="none" stroke-width="0.8" />
<g clip-path="url(#ac)"><rect x="40" y="0" width="240" height="160" fill="url(#ab)"/><circle cx="212" cy="76" r="42" fill="url(#aw)"/></g>
<path d="M138 19.7 L138.8 19.9 L139.9 20.1 L141.2 20.4 L142.7 20.7 L144.2 21 L145.9 21.2 L147.6 21.3 L149.3 21.2 L151.1 21 L153 20.6 L155 20.2 L157.1 19.7 L159.2 19.1 L161.3 18.6 L163.3 18 L165.3 17.5 L167.2 17 L169.1 16.5 L170.9 16 L172.7 15.4 L174.5 14.9 L176.3 14.4 L178.2 13.9 L180 13.5 L181.9 13.1 L183.8 12.6 L185.8 12.2 L187.7 11.8 L189.6 11.4 L191.5 11.2 L193.3 11 L195 11 L196.5 11.1 L197.9 11.2 L199.2 11.4 L200.5 11.8 L201.7 12.2 L203.1 12.8 L204.6 13.5 L206.3 14.5 L208.2 15.7 L210.3 17.1 L212.5 18.7 L214.8 20.5 L217.2 22.3 L219.6 24.2 L221.9 26.1 L224.2 27.9 L226.5 29.8 L228.8 31.8 L231.1 33.8 L233.4 35.9 L235.7 37.9 L237.9 39.9 L240 41.6 L242 43.2 L243.8 44.5 L245.6 45.7 L247.2 46.7 L248.7 47.6 L250.2 48.4 L251.7 49.2 L253.2 50 L254.8 50.8 L256.5 51.6 L258.3 52.5 L260.1 53.3 L262 54.1 L263.7 54.8 L265.2 55.4 L266.5 56 L267.5 56.4 L267.4 57 L267.3 57.6 L267.2 58.4 L267.1 59.2 L266.8 60.3 L266.4 61.6 L265.8 63.1 L265 64.8 L263.9 66.9 L262.5 69.2 L260.8 71.9 L259.1 74.7 L257.3 77.6 L255.5 80.6 L253.7 83.6 L252.2 86.5 L250.8 89.4 L249.3 92.5 L248 95.6 L246.6 98.7 L245.3 101.8 L244.1 104.8 L243 107.5 L242 110 L241.2 112.2 L240.6 114.3 L240.1 116.2 L239.7 117.9 L239.3 119.5 L238.7 121.1 L238 122.6 L236.9 124 L235.5 125.4 L233.9 126.6 L232.1 127.7 L230.1 128.8 L228.1 129.8 L226.1 130.8 L224.2 131.9 L222.4 133 L220.7 134.2 L219 135.5 L217.4 136.8 L215.8 138.2 L214.2 139.5 L212.7 140.7 L211.3 141.9 L210 143 L208.7 144 L207.5 145 L206.3 146 L205.2 146.9 L204.2 147.7 L203.3 148.4 L202.6 149 L202 149.5 L200.6 148.8 L198.8 147.9 L196.6 146.9 L194.2 145.7 L191.7 144.3 L189.1 142.9 L186.6 141.4 L184.2 139.9 L181.9 138.3 L179.7 136.4 L177.4 134.5 L175.1 132.5 L172.8 130.5 L170.6 128.5 L168.4 126.5 L166.3 124.6 L164.2 122.7 L162.1 120.8 L160.1 119 L158.1 117.1 L156.2 115.3 L154.3 113.6 L152.6 112 L151 110.6 L149.6 109.4 L148.3 108.3 L147.2 107.3 L146.1 106.5 L145.1 105.7 L144.1 104.9 L143.1 104.2 L142 103.4 L140.9 102.6 L139.8 101.8 L138.7 101 L137.6 100.3 L136.4 99.6 L135.4 98.8 L134.3 98.2 L133.2 97.5 L132.1 96.9 L131.1 96.2 L130.1 95.6 L129 95 L128 94.5 L127 93.9 L126 93.4 L125 93 L124 92.6 L123 92.2 L122 91.9 L121 91.6 L120 91.4 L119 91.2 L118 91 L117 90.8 L116 90.7 L115 90.5 L114 90.5 L113.1 90.4 L112.1 90.4 L111.1 90.4 L110 90.4 L109 90.4 L108 90.4 L107 90.5 L106.1 90.6 L105.1 90.7 L104 90.8 L102.9 91 L101.5 91.2 L100 91.4 L98.2 91.7 L96.1 92.1 L93.9 92.5 L91.5 93 L89.1 93.5 L86.8 93.9 L84.7 94.4 L82.8 94.7 L81.1 95 L79.6 95.2 L78.3 95.5 L77 95.7 L75.7 95.8 L74.5 96 L73.2 96.2 L71.9 96.3 L70.5 96.4 L69.1 96.6 L67.6 96.7 L66.2 96.8 L64.8 96.9 L63.4 97 L62.1 97 L60.9 96.9 L59.7 96.7 L58.5 96.5 L57.4 96.2 L56.3 95.8 L55.3 95.5 L54.4 95.2 L53.7 94.9 L53.1 94.7 L53.7 94.2 L54.4 93.6 L55.3 92.8 L56.3 91.9 L57.4 91 L58.5 90.2 L59.7 89.4 L60.9 88.7 L62.1 88.1 L63.4 87.6 L64.8 87.2 L66.2 86.7 L67.6 86.4 L69.1 86 L70.5 85.7 L71.9 85.4 L73.3 85.2 L74.7 85 L76.1 84.9 L77.5 84.8 L78.9 84.7 L80.2 84.6 L81.5 84.5 L82.8 84.3 L84 84.1 L85.2 83.9 L86.3 83.6 L87.4 83.4 L88.5 83.1 L89.5 82.8 L90.5 82.5 L91.5 82.1 L92.4 81.7 L93.2 81.4 L94 81.1 L94.7 80.7 L95.5 80.3 L96.3 79.7 L97.1 79.1 L98.1 78.3 L99.2 77.4 L100.3 76.3 L101.5 75.2 L102.8 73.9 L104.1 72.6 L105.4 71.2 L106.7 69.6 L108 68 L109.3 66.3 L110.6 64.4 L112 62.4 L113.3 60.4 L114.7 58.3 L116 56.1 L117.4 53.8 L118.7 51.5 L120 49.1 L121.3 46.4 L122.6 43.7 L123.9 40.9 L125.2 38.2 L126.4 35.6 L127.7 33.1 L128.9 31 L130.2 29.1 L131.5 27.3 L132.8 25.6 L134.1 24.1 L135.3 22.7 L136.4 21.5 L137.3 20.5 L138 19.7Z" fill="none" stroke="#555" stroke-width="0.8" />
<g><circle cx="207.4" cy="44.3" r="2.3" fill="#dadeaf"/><circle cx="179" cy="35.7" r="2.3" fill="#bca9b6"/><circle cx="208.5" cy="32.3" r="2.3" fill="#eecaa2"/><circle cx="204.9" cy="41" r="2.3" fill="#d9d8b1"/><circle cx="206.5" cy="53.8" r="2.3" fill="#c8d49f"/><circle cx="211.9" cy="55.5" r="2.3" fill="#b2cf90"/><circle cx="194.5" cy="26.7" r="2.3" fill="#c18497"/><circle cx="176.3" cy="39.4" r="2.3" fill="#b2aeb9"/><circle cx="201.8" cy="24.4" r="2.3" fill="#c98893"/><circle cx="193.4" cy="17.3" r="2.3" fill="#b96885"/><circle cx="203" cy="41.4" r="2.3" fill="#d9dab3"/><circle cx="183.7" cy="33.7" r="2.3" fill="#c3a9b6"/><circle cx="166.4" cy="43.2" r="2.3" fill="#a9b0b6"/><circle cx="173.7" cy="37.6" r="2.3" fill="#b1aeb9"/><circle cx="191.6" cy="17.4" r="2.3" fill="#ba6d89"/><circle cx="209.2" cy="51.8" r="2.3" fill="#d2dca2"/><circle cx="190.1" cy="41.3" r="2.3" fill="#cab0b6"/><circle cx="198.4" cy="33.7" r="2.3" fill="#d6b3b9"/><circle cx="204.1" cy="21.4" r="2.3" fill="#c37989"/><circle cx="200.3" cy="28.1" r="2.3" fill="#d0a1a2"/><circle cx="170.9" cy="35.7" r="2.3" fill="#adafb8"/><circle cx="189.7" cy="32.1" r="2.3" fill="#c9a6b0"/><circle cx="198.5" cy="15.5" r="2.3" fill="#b85a79"/><circle cx="185.9" cy="22.4" r="2.3" fill="#be8299"/><circle cx="203" cy="44.6" r="2.3" fill="#dde5b9"/><circle cx="203.7" cy="35.7" r="2.3" fill="#dec1a8"/><circle cx="159.3" cy="41.3" r="2.3" fill="#92b4ae"/><circle cx="168.6" cy="42.5" r="2.3" fill="#abaeb7"/><circle cx="170.9" cy="28.7" r="2.3" fill="#b4a8b2"/><circle cx="163" cy="37.2" r="2.3" fill="#a7b0b6"/><circle cx="187.6" cy="32.4" r="2.3" fill="#c6a6b1"/><circle cx="181.6" cy="26" r="2.3" fill="#ba9ead"/><circle cx="169.8" cy="33.8" r="2.3" fill="#afb0b9"/><circle cx="211.1" cy="48.2" r="2.3" fill="#d6de9e"/><circle cx="195.5" cy="28.3" r="2.3" fill="#cc9ba6"/><circle cx="197.5" cy="28.7" r="2.3" fill="#cda0a8"/><circle cx="184.8" cy="32.1" r="2.3" fill="#c3a7b4"/><circle cx="171.5" cy="30" r="2.3" fill="#b3a8b3"/><circle cx="201.4" cy="18.8" r="2.3" fill="#b85b79"/><circle cx="184.3" cy="37.9" r="2.3" fill="#ccb0bc"/><circle cx="209.8" cy="40.7" r="2.3" fill="#dad2a7"/><circle cx="195.8" cy="25" r="2.3" fill="#be7990"/><circle cx="177.6" cy="34.2" r="2.3" fill="#b7a5b2"/><circle cx="177.2" cy="24.7" r="2.3" fill="#b89eac"/><circle cx="178.1" cy="22.6" r="2.3" fill="#ba9dab"/><circle cx="206.1" cy="32.4" r="2.3" fill="#eac6a0"/><circle cx="199.3" cy="41.1" r="2.3" fill="#d6cdb3"/><circle cx="198.5" cy="19.2" r="2.3" fill="#b75877"/><circle cx="183.3" cy="39.5" r="2.3" fill="#cbb1bc"/><circle cx="207.7" cy="41.5" r="2.3" fill="#d8d5ab"/><circle cx="163.9" cy="32.2" r="2.3" fill="#abaeb5"/><circle cx="192.4" cy="23.3" r="2.3" fill="#ba6a8a"/><circle cx="188.8" cy="41" r="2.3" fill="#cab0b8"/><circle cx="175.7" cy="26.5" r="2.3" fill="#b7a0ae"/><circle cx="174.9" cy="35.2" r="2.3" fill="#b3abb6"/><circle cx="203.1" cy="19.6" r="2.3" fill="#bd6781"/><circle cx="195.5" cy="43" r="2.3" fill="#d3c3b3"/><circle cx="175.3" cy="40.8" r="2.3" fill="#b5b1bd"/><circle cx="209.6" cy="55.4" r="2.3" fill="#b9d195"/><circle cx="197.1" cy="30.2" r="2.3" fill="#d3abb2"/><circle cx="187.6" cy="35.3" r="2.3" fill="#ccafbb"/><circle cx="188.6" cy="26.5" r="2.3" fill="#c0879b"/><circle cx="205.1" cy="48.7" r="2.3" fill="#dae0b2"/><circle cx="204.3" cy="39.1" r="2.3" fill="#dbceae"/><circle cx="210.7" cy="57.3" r="2.3" fill="#b3d192"/><circle cx="199.5" cy="21.5" r="2.3" fill="#bc6581"/><circle cx="207.1" cy="33.5" r="2.3" fill="#eac69f"/><circle cx="213.3" cy="59.5" r="2.3" fill="#afcf8f"/><circle cx="206.6" cy="43" r="2.3" fill="#d8dbb0"/><circle cx="178.1" cy="37.1" r="2.3" fill="#b8acb7"/><circle cx="168.1" cy="39.5" r="2.3" fill="#aab2ba"/><circle cx="198.6" cy="44.7" r="2.3" fill="#d9d9b5"/><circle cx="192.4" cy="41.5" r="2.3" fill="#cfb6b6"/><circle cx="175.1" cy="28" r="2.3" fill="#b8a2b0"/><circle cx="164.4" cy="43" r="2.3" fill="#a3b0b3"/><circle cx="204.8" cy="37.1" r="2.3" fill="#e0c8aa"/><circle cx="172.7" cy="35.7" r="2.3" fill="#b3b0ba"/><circle cx="210.2" cy="39.5" r="2.3" fill="#dccea6"/><circle cx="191.9" cy="28.4" r="2.3" fill="#c592a2"/><circle cx="189.7" cy="39.1" r="2.3" fill="#cdb1ba"/><circle cx="209.1" cy="37.1" r="2.3" fill="#e1c7a3"/><circle cx="186" cy="33.6" r="2.3" fill="#c7abb7"/><circle cx="199.8" cy="42.5" r="2.3" fill="#dad9b5"/><circle cx="199.3" cy="37.6" r="2.3" fill="#d8bcb6"/><circle cx="161.5" cy="41.4" r="2.3" fill="#99b2b0"/><circle cx="167.1" cy="30" r="2.3" fill="#adaab3"/><circle cx="173.6" cy="26.9" r="2.3" fill="#b6a3af"/><circle cx="200.6" cy="26.9" r="2.3" fill="#cf9b9e"/><circle cx="193.2" cy="20.6" r="2.3" fill="#b86988"/><circle cx="171.7" cy="37.1" r="2.3" fill="#b0b0ba"/><circle cx="159.8" cy="42.7" r="2.3" fill="#91b5af"/><circle cx="198.2" cy="39.2" r="2.3" fill="#d7c0b6"/><circle cx="192.9" cy="33.9" r="2.3" fill="#d5b2b9"/><circle cx="207.9" cy="50.6" r="2.3" fill="#d3dba3"/><circle cx="211.5" cy="52.5" r="2.3" fill="#cddb9e"/><circle cx="193.4" cy="35.4" r="2.3" fill="#d4b2b8"/><circle cx="157.8" cy="42.6" r="2.3" fill="#8db4ad"/><circle cx="196.5" cy="19.5" r="2.3" fill="#b9607e"/><circle cx="196.2" cy="21.1" r="2.3" fill="#b96683"/><circle cx="209.8" cy="48.4" r="2.3" fill="#d8e0a2"/><circle cx="177.2" cy="28.1" r="2.3" fill="#b8a0af"/><circle cx="192.1" cy="18.7" r="2.3" fill="#b86987"/><circle cx="181.4" cy="24.4" r="2.3" fill="#bb9cab"/><circle cx="201.1" cy="45.2" r="2.3" fill="#dce3b7"/><circle cx="168.6" cy="36.1" r="2.3" fill="#aab1b9"/><circle cx="194.9" cy="15.8" r="2.3" fill="#ba6581"/><circle cx="202.9" cy="34.2" r="2.3" fill="#ddbda9"/><circle cx="183.1" cy="21.3" r="2.3" fill="#bd8fa1"/><circle cx="187.4" cy="39.6" r="2.3" fill="#cbafbb"/><circle cx="185.2" cy="24.7" r="2.3" fill="#bc8ea1"/><circle cx="165.4" cy="33.5" r="2.3" fill="#aaafb7"/><circle cx="206.9" cy="48" r="2.3" fill="#d8deac"/><circle cx="162.3" cy="43" r="2.3" fill="#9bb3b1"/><circle cx="182.9" cy="32.4" r="2.3" fill="#bea5b3"/><circle cx="172" cy="41.1" r="2.3" fill="#b2afba"/><circle cx="194.1" cy="42.8" r="2.3" fill="#d0bcb3"/><circle cx="194.3" cy="37.7" r="2.3" fill="#d5b5b9"/><circle cx="206.2" cy="49.8" r="2.3" fill="#d4dba9"/><circle cx="202.4" cy="28.2" r="2.3" fill="#d7aca2"/><circle cx="197.6" cy="17.5" r="2.3" fill="#b95a7a"/><circle cx="198.2" cy="24.9" r="2.3" fill="#c48193"/><circle cx="210" cy="42.9" r="2.3" fill="#d6d7a5"/><circle cx="163.2" cy="34.3" r="2.3" fill="#a8afb5"/><circle cx="188.1" cy="18.8" r="2.3" fill="#bb748e"/><circle cx="172.8" cy="28.4" r="2.3" fill="#b7a7b3"/><circle cx="168.9" cy="31.6" r="2.3" fill="#afadb6"/><circle cx="198.1" cy="32.4" r="2.3" fill="#d8b4ba"/><circle cx="201.2" cy="40.9" r="2.3" fill="#d7d3b2"/><circle cx="178.1" cy="29.7" r="2.3" fill="#b8a0b0"/><circle cx="177.9" cy="26.3" r="2.3" fill="#bba2b1"/><circle cx="202.3" cy="39.8" r="2.3" fill="#d8cfb1"/><circle cx="206" cy="35.8" r="2.3" fill="#e6c7a5"/><circle cx="180.4" cy="26.5" r="2.3" fill="#bba1b1"/><circle cx="211.2" cy="41.1" r="2.3" fill="#d9d3a6"/><circle cx="201.8" cy="35.7" r="2.3" fill="#dabdaf"/><circle cx="203.8" cy="24.8" r="2.3" fill="#ce9696"/><circle cx="207.8" cy="46.2" r="2.3" fill="#d8ddaa"/><circle cx="188" cy="29.7" r="2.3" fill="#c59eac"/><circle cx="161.7" cy="39.3" r="2.3" fill="#a1b2b4"/><circle cx="195.1" cy="41.3" r="2.3" fill="#d1bbb2"/><circle cx="196.8" cy="40.8" r="2.3" fill="#d5c2b5"/><circle cx="175.4" cy="37.4" r="2.3" fill="#b4afba"/><circle cx="190.7" cy="33.7" r="2.3" fill="#cfadb5"/><circle cx="157.8" cy="39.8" r="2.3" fill="#93b4ae"/><circle cx="189.7" cy="35.3" r="2.3" fill="#ceb0b9"/><circle cx="185.2" cy="28.5" r="2.3" fill="#be9dac"/><circle cx="180.4" cy="37.8" r="2.3" fill="#bfabb6"/><circle cx="208.2" cy="57.3" r="2.3" fill="#b9d196"/><circle cx="201.7" cy="17.7" r="2.3" fill="#b95d7b"/><circle cx="178.7" cy="24.8" r="2.3" fill="#bca1af"/><circle cx="200.1" cy="32" r="2.3" fill="#d7b3b1"/><circle cx="157.3" cy="40.6" r="2.3" fill="#90b4ae"/><circle cx="174.3" cy="24.9" r="2.3" fill="#b7a1ad"/><circle cx="173.1" cy="32.4" r="2.3" fill="#b2a8b3"/><circle cx="207.1" cy="55.5" r="2.3" fill="#c3d59d"/><circle cx="210.5" cy="46.4" r="2.3" fill="#d6dea0"/><circle cx="205.4" cy="44.4" r="2.3" fill="#d9dfb4"/><circle cx="195.8" cy="39.2" r="2.3" fill="#d3b7b5"/><circle cx="181.9" cy="22.8" r="2.3" fill="#ba94a4"/><circle cx="196.5" cy="45" r="2.3" fill="#d3ccb2"/><circle cx="194.8" cy="23" r="2.3" fill="#b96c89"/><circle cx="200.4" cy="36.1" r="2.3" fill="#d8bab4"/><circle cx="160" cy="39.3" r="2.3" fill="#98b1af"/><circle cx="181.8" cy="30.2" r="2.3" fill="#b79faf"/><circle cx="202.9" cy="22.8" r="2.3" fill="#c37c8b"/><circle cx="201.8" cy="43.2" r="2.3" fill="#dae0b6"/><circle cx="200.6" cy="33.9" r="2.3" fill="#d7b5b1"/><circle cx="210.4" cy="53.6" r="2.3" fill="#c3d599"/><circle cx="212.4" cy="57.9" r="2.3" fill="#b1d191"/><circle cx="212.6" cy="50.7" r="2.3" fill="#d6dfa1"/><circle cx="197.4" cy="35.3" r="2.3" fill="#d7b3ba"/><circle cx="161.4" cy="37.4" r="2.3" fill="#a4b2b5"/><circle cx="190.4" cy="22.3" r="2.3" fill="#b96a89"/><circle cx="186.5" cy="41.1" r="2.3" fill="#c9aeb9"/><circle cx="201.1" cy="30.3" r="2.3" fill="#d6afa8"/><circle cx="213.3" cy="55.4" r="2.3" fill="#b5d293"/><circle cx="200.3" cy="46.5" r="2.3" fill="#d9deb4"/><circle cx="197.2" cy="23.3" r="2.3" fill="#bc7089"/><circle cx="208.2" cy="38.9" r="2.3" fill="#dbcba6"/><circle cx="203.4" cy="30.2" r="2.3" fill="#dfb9a2"/><circle cx="161.2" cy="44.8" r="2.3" fill="#92b2ad"/><circle cx="197.6" cy="43.4" r="2.3" fill="#d5ceb2"/><circle cx="174.7" cy="32.2" r="2.3" fill="#b5a6b2"/><circle cx="195.6" cy="17.4" r="2.3" fill="#ba617f"/><circle cx="187.3" cy="24.2" r="2.3" fill="#bb7d94"/><circle cx="208.7" cy="54" r="2.3" fill="#c5d59c"/><circle cx="210.6" cy="50.4" r="2.3" fill="#d6dfa1"/><circle cx="200.6" cy="37.1" r="2.3" fill="#d7bcb2"/><circle cx="170.1" cy="39.3" r="2.3" fill="#aaaeb7"/><circle cx="163.8" cy="39.7" r="2.3" fill="#a4aeb4"/><circle cx="199.8" cy="39.6" r="2.3" fill="#d8c8b4"/><circle cx="205.5" cy="29.8" r="2.3" fill="#e7c3a1"/><circle cx="188.8" cy="37.9" r="2.3" fill="#cdb1bc"/><circle cx="207.9" cy="42.7" r="2.3" fill="#dbdbaf"/><circle cx="204.2" cy="31.5" r="2.3" fill="#e5c1a2"/><circle cx="197.4" cy="46.2" r="2.3" fill="#d4d1b2"/><circle cx="175.6" cy="30" r="2.3" fill="#b9a4b2"/><circle cx="184.9" cy="21.1" r="2.3" fill="#bc8499"/><circle cx="179.2" cy="32.1" r="2.3" fill="#b9a2b1"/><circle cx="162.1" cy="35.4" r="2.3" fill="#a5aeb3"/><circle cx="156.1" cy="46.1" r="2.3" fill="#8cb3ab"/><circle cx="193.6" cy="31.7" r="2.3" fill="#d6b1b9"/><circle cx="189.6" cy="20.9" r="2.3" fill="#b76a88"/><circle cx="159.2" cy="45.1" r="2.3" fill="#8db3ac"/><circle cx="204.9" cy="26.4" r="2.3" fill="#daad9e"/><circle cx="199" cy="30.3" r="2.3" fill="#d6afb1"/><circle cx="208.1" cy="35.4" r="2.3" fill="#e8c7a2"/><circle cx="184.5" cy="22.7" r="2.3" fill="#bd8b9e"/><circle cx="202.6" cy="47.9" r="2.3" fill="#dae0b5"/><circle cx="207.3" cy="52.4" r="2.3" fill="#cfd9a3"/><circle cx="203.2" cy="37.8" r="2.3" fill="#dcc8ae"/><circle cx="206" cy="39.2" r="2.3" fill="#dacdaa"/><circle cx="182.2" cy="33.4" r="2.3" fill="#bda5b3"/><circle cx="211.6" cy="45.1" r="2.3" fill="#d8dea2"/><circle cx="180.6" cy="28.8" r="2.3" fill="#b9a0b0"/><circle cx="191.3" cy="32.4" r="2.3" fill="#cda9b2"/><circle cx="189.4" cy="28.5" r="2.3" fill="#c494a4"/><circle cx="204.1" cy="50.5" r="2.3" fill="#d7ddb0"/><circle cx="200.2" cy="16.9" r="2.3" fill="#b85979"/><circle cx="213.6" cy="52.3" r="2.3" fill="#cad89c"/><circle cx="169.8" cy="30.6" r="2.3" fill="#b1acb5"/><circle cx="174.4" cy="39.3" r="2.3" fill="#b3afbb"/><circle cx="155.9" cy="43.2" r="2.3" fill="#8db4ac"/><circle cx="206.2" cy="46.3" r="2.3" fill="#d8deb0"/><circle cx="188" cy="33.9" r="2.3" fill="#c8aab5"/><circle cx="164.4" cy="35.4" r="2.3" fill="#a9b0b7"/><circle cx="193.4" cy="25" r="2.3" fill="#b9708b"/><circle cx="187.6" cy="28.7" r="2.3" fill="#c198a7"/><circle cx="187.2" cy="21.2" r="2.3" fill="#bb7791"/><circle cx="189.9" cy="24.5" r="2.3" fill="#bc738f"/><circle cx="192.5" cy="16" r="2.3" fill="#bb6d88"/><circle cx="186" cy="37.7" r="2.3" fill="#caaeba"/><circle cx="186.6" cy="26.4" r="2.3" fill="#bf90a2"/><circle cx="193.7" cy="28.6" r="2.3" fill="#ca99a6"/><circle cx="188.1" cy="22.3" r="2.3" fill="#bc7490"/><circle cx="171.2" cy="34" r="2.3" fill="#afaeb7"/><circle cx="182.1" cy="37.1" r="2.3" fill="#c6adb9"/><circle cx="169.5" cy="37.9" r="2.3" fill="#a9b0b8"/><circle cx="197" cy="37.2" r="2.3" fill="#d6b5b8"/><circle cx="212.1" cy="54.3" r="2.3" fill="#bbd396"/><circle cx="167.8" cy="37.4" r="2.3" fill="#a6aeb6"/><circle cx="166.6" cy="31.8" r="2.3" fill="#abacb4"/><circle cx="185.1" cy="39" r="2.3" fill="#caaeba"/><circle cx="189.7" cy="16.9" r="2.3" fill="#bc738e"/><circle cx="198.4" cy="22.4" r="2.3" fill="#bc6b84"/><circle cx="174.1" cy="40.7" r="2.3" fill="#b2aeba"/><circle cx="173.6" cy="30.2" r="2.3" fill="#b7a7b3"/><circle cx="166.3" cy="35.4" r="2.3" fill="#a7aeb6"/><circle cx="191" cy="24.2" r="2.3" fill="#bb6e8c"/><circle cx="209.8" cy="45.2" r="2.3" fill="#d7dca3"/><circle cx="182.8" cy="35.2" r="2.3" fill="#c3aab6"/><circle cx="204.3" cy="42.4" r="2.3" fill="#dadfb5"/><circle cx="190.5" cy="30.1" r="2.3" fill="#c79da9"/><circle cx="165.3" cy="41.3" r="2.3" fill="#a8b1b7"/><circle cx="193.4" cy="39.5" r="2.3" fill="#d1b5b6"/><circle cx="173.8" cy="33.9" r="2.3" fill="#b4abb6"/><circle cx="202.1" cy="50.3" r="2.3" fill="#d6dab0"/><circle cx="165.7" cy="37" r="2.3" fill="#a7aeb6"/><circle cx="191.6" cy="20.8" r="2.3" fill="#b76887"/><circle cx="157.3" cy="44.4" r="2.3" fill="#8db4ac"/><circle cx="192.3" cy="37.9" r="2.3" fill="#ceb0b5"/><circle cx="182.7" cy="28" r="2.3" fill="#b89ead"/><circle cx="191.6" cy="35.9" r="2.3" fill="#d2b2b9"/><circle cx="183.2" cy="25" r="2.3" fill="#ba97a7"/><circle cx="167" cy="33.4" r="2.3" fill="#acafb7"/><circle cx="186.6" cy="19.6" r="2.3" fill="#bb7a92"/><circle cx="170.7" cy="32.1" r="2.3" fill="#aeaab4"/><circle cx="202.7" cy="26.1" r="2.3" fill="#d29e9c"/><circle cx="198.3" cy="20.7" r="2.3" fill="#ba607d"/><circle cx="196.5" cy="34" r="2.3" fill="#d9b5bd"/><circle cx="203.8" cy="46.8" r="2.3" fill="#dce3b7"/><circle cx="194.8" cy="30.2" r="2.3" fill="#d2aab2"/><circle cx="211.9" cy="59.7" r="2.3" fill="#b1d191"/><circle cx="179.8" cy="29.9" r="2.3" fill="#b8a0b0"/><circle cx="194.9" cy="34.3" r="2.3" fill="#d6b2ba"/><circle cx="180.9" cy="38.9" r="2.3" fill="#c3afba"/><circle cx="205" cy="51.9" r="2.3" fill="#d0d7a7"/><circle cx="165.9" cy="38.9" r="2.3" fill="#a9b1b9"/><circle cx="191.8" cy="39" r="2.3" fill="#d0b4b9"/><circle cx="196.5" cy="26.1" r="2.3" fill="#c58899"/><circle cx="195.9" cy="32" r="2.3" fill="#d6b2ba"/><circle cx="201.8" cy="31.7" r="2.3" fill="#dab6aa"/><circle cx="183.9" cy="29.8" r="2.3" fill="#bca1b0"/><circle cx="202.3" cy="20.9" r="2.3" fill="#bd6981"/><circle cx="178.5" cy="39.2" r="2.3" fill="#b7acb7"/><circle cx="194.5" cy="18.7" r="2.3" fill="#b86684"/><circle cx="200.9" cy="48" r="2.3" fill="#d9deb4"/><circle cx="201.1" cy="23.1" r="2.3" fill="#c2788b"/><circle cx="206.2" cy="28.2" r="2.3" fill="#e2bc9e"/><circle cx="186" cy="30.5" r="2.3" fill="#c0a0ae"/><circle cx="176.4" cy="35.4" r="2.3" fill="#b6abb6"/><circle cx="160.3" cy="36" r="2.3" fill="#a2afb2"/><circle cx="190.6" cy="19.3" r="2.3" fill="#ba6d8b"/><circle cx="176.6" cy="32.4" r="2.3" fill="#b8a4b2"/><circle cx="198.6" cy="26.4" r="2.3" fill="#c88f9a"/><circle cx="162.9" cy="40.8" r="2.3" fill="#a2b1b4"/><circle cx="190.2" cy="37.6" r="2.3" fill="#cbafb7"/><circle cx="209.8" cy="59.7" r="2.3" fill="#b2ce90"/><circle cx="184.5" cy="26.9" r="2.3" fill="#be9cac"/><circle cx="196.1" cy="35.6" r="2.3" fill="#d6b3ba"/><circle cx="192.3" cy="26.8" r="2.3" fill="#bf8096"/><circle cx="172.8" cy="39.7" r="2.3" fill="#b2afba"/><circle cx="199.8" cy="24.3" r="2.3" fill="#c27e8e"/><circle cx="180.8" cy="32.2" r="2.3" fill="#b79fae"/><circle cx="179.2" cy="28.1" r="2.3" fill="#b9a1b0"/><circle cx="179.6" cy="33.8" r="2.3" fill="#baa4b2"/><circle cx="181.3" cy="35.5" r="2.3" fill="#bfa8b4"/><circle cx="169.6" cy="41.4" r="2.3" fill="#aeb1ba"/><circle cx="207.6" cy="37.7" r="2.3" fill="#e1cba8"/><circle cx="167.8" cy="41.6" r="2.3" fill="#a9afb7"/><circle cx="203.7" cy="28.3" r="2.3" fill="#dcb3a1"/><circle cx="202.1" cy="46.5" r="2.3" fill="#dbe2b7"/><circle cx="205.2" cy="34.3" r="2.3" fill="#e8c6a4"/><circle cx="159.1" cy="37.9" r="2.3" fill="#99b0af"/><circle cx="207.7" cy="30.6" r="2.3" fill="#ebc7a0"/><circle cx="192.7" cy="29.8" r="2.3" fill="#cea3ae"/><circle cx="190.7" cy="26.2" r="2.3" fill="#bc7992"/><circle cx="184.8" cy="35.5" r="2.3" fill="#caafba"/><circle cx="179.7" cy="22.6" r="2.3" fill="#b999a8"/><circle cx="176" cy="34.1" r="2.3" fill="#b7a9b5"/></g>
<g><circle cx="230.4" cy="79" r="2.3" fill="#6eb66d"/><circle cx="224.9" cy="95.1" r="2.3" fill="#68b26f"/><circle cx="223.8" cy="67.5" r="2.3" fill="#70b56e"/><circle cx="216.4" cy="117.2" r="2.3" fill="#3260be"/><circle cx="221" cy="98.9" r="2.3" fill="#6db96b"/><circle cx="214.8" cy="98.6" r="2.3" fill="#68b36e"/><circle cx="184.5" cy="105.9" r="2.3" fill="#78b973"/><circle cx="215.4" cy="115.7" r="2.3" fill="#3369b5"/><circle cx="229.6" cy="86.5" r="2.3" fill="#6ab26e"/><circle cx="233.6" cy="88" r="2.3" fill="#6ab26a"/><circle cx="214.2" cy="113.4" r="2.3" fill="#3f7faa"/><circle cx="220.4" cy="73.8" r="2.3" fill="#70b76e"/><circle cx="219.5" cy="75.6" r="2.3" fill="#6eb56c"/><circle cx="227.7" cy="104.5" r="2.3" fill="#4e908f"/><circle cx="222.5" cy="102.8" r="2.3" fill="#60a77b"/><circle cx="220.3" cy="110.3" r="2.3" fill="#3d85a7"/><circle cx="184.2" cy="108.1" r="2.3" fill="#72b471"/><circle cx="224.2" cy="104" r="2.3" fill="#599d87"/><circle cx="222.4" cy="121.1" r="2.3" fill="#2a3ac1"/><circle cx="213.8" cy="64" r="2.3" fill="#73b76d"/><circle cx="192" cy="104.2" r="2.3" fill="#75b96d"/><circle cx="229.4" cy="121.1" r="2.3" fill="#3b209f"/><circle cx="221" cy="106.4" r="2.3" fill="#539691"/><circle cx="215.8" cy="104.8" r="2.3" fill="#65af72"/><circle cx="236.5" cy="93.2" r="2.3" fill="#5da87c"/><circle cx="225.8" cy="111.7" r="2.3" fill="#4177a7"/><circle cx="222" cy="100.3" r="2.3" fill="#69b46c"/><circle cx="227.2" cy="117.2" r="2.3" fill="#3b3fa7"/><circle cx="227.6" cy="97.2" r="2.3" fill="#68b074"/><circle cx="224.4" cy="83.9" r="2.3" fill="#6bb36a"/><circle cx="239.5" cy="94.7" r="2.3" fill="#58a87f"/><circle cx="201" cy="108.3" r="2.3" fill="#65af79"/><circle cx="234.7" cy="104.7" r="2.3" fill="#4a99a1"/><circle cx="230.5" cy="100.7" r="2.3" fill="#62a979"/><circle cx="218" cy="118.5" r="2.3" fill="#325cb9"/><circle cx="234.3" cy="97.4" r="2.3" fill="#5ca67e"/><circle cx="228.8" cy="102.5" r="2.3" fill="#589d83"/><circle cx="230.3" cy="96.6" r="2.3" fill="#69b173"/><circle cx="221.6" cy="97" r="2.3" fill="#6cb768"/><circle cx="215.6" cy="101" r="2.3" fill="#6cb869"/><circle cx="195" cy="113.2" r="2.3" fill="#50a491"/><circle cx="224.4" cy="109.6" r="2.3" fill="#4681a2"/><circle cx="186.1" cy="111.6" r="2.3" fill="#62ac7d"/><circle cx="206.4" cy="113.2" r="2.3" fill="#4b9e99"/><circle cx="225.5" cy="108.3" r="2.3" fill="#4785a1"/><circle cx="224.3" cy="93.6" r="2.3" fill="#68b26c"/><circle cx="198.6" cy="107.8" r="2.3" fill="#67b177"/><circle cx="211.5" cy="108" r="2.3" fill="#59a083"/><circle cx="205.3" cy="114.8" r="2.3" fill="#3d99a7"/><circle cx="205" cy="107.8" r="2.3" fill="#68b26f"/><circle cx="211.2" cy="118.9" r="2.3" fill="#305ebe"/><circle cx="224" cy="90" r="2.3" fill="#6eb96a"/><circle cx="219.7" cy="108.3" r="2.3" fill="#468b9d"/><circle cx="232.3" cy="111.8" r="2.3" fill="#3b73a9"/><circle cx="221.6" cy="71.3" r="2.3" fill="#6db36a"/><circle cx="239.5" cy="87.9" r="2.3" fill="#63ab79"/><circle cx="218.4" cy="109.9" r="2.3" fill="#3c87aa"/><circle cx="222.7" cy="84.7" r="2.3" fill="#6cb46c"/><circle cx="193" cy="109.5" r="2.3" fill="#64b079"/><circle cx="191.1" cy="109.5" r="2.3" fill="#62af81"/><circle cx="223.4" cy="119" r="2.3" fill="#2a3bbe"/><circle cx="225.6" cy="115.3" r="2.3" fill="#3a58a8"/><circle cx="234.1" cy="108.1" r="2.3" fill="#4384a3"/><circle cx="213.3" cy="108.3" r="2.3" fill="#559c8e"/><circle cx="201.5" cy="113.1" r="2.3" fill="#4ba098"/><circle cx="226.7" cy="102.2" r="2.3" fill="#5ba180"/><circle cx="242" cy="91.3" r="2.3" fill="#5ca682"/><circle cx="181.7" cy="108.4" r="2.3" fill="#78b973"/><circle cx="230.8" cy="110" r="2.3" fill="#3a7faf"/><circle cx="225.7" cy="93.7" r="2.3" fill="#67b06d"/><circle cx="199.8" cy="106.6" r="2.3" fill="#65af76"/><circle cx="194.6" cy="107.7" r="2.3" fill="#6eb670"/><circle cx="229.8" cy="108" r="2.3" fill="#3d80ac"/><circle cx="180.1" cy="108.4" r="2.3" fill="#75b671"/><circle cx="219.5" cy="115.4" r="2.3" fill="#3872ad"/><circle cx="240" cy="106.3" r="2.3" fill="#3a8da5"/><circle cx="232.9" cy="102.5" r="2.3" fill="#509992"/><circle cx="225.5" cy="89.7" r="2.3" fill="#6cb868"/><circle cx="229.3" cy="99.2" r="2.3" fill="#68b073"/><circle cx="177.6" cy="107.9" r="2.3" fill="#74b574"/><circle cx="186.9" cy="109.3" r="2.3" fill="#69b17b"/><circle cx="197.2" cy="109.6" r="2.3" fill="#68b274"/><circle cx="238.8" cy="112" r="2.3" fill="#2948bd"/><circle cx="241.7" cy="102.3" r="2.3" fill="#4293a2"/><circle cx="217.3" cy="64" r="2.3" fill="#74b86c"/><circle cx="188" cy="108.3" r="2.3" fill="#6ab27a"/><circle cx="212.2" cy="116.9" r="2.3" fill="#2e5dbb"/><circle cx="218.1" cy="120.8" r="2.3" fill="#3053b8"/><circle cx="200" cy="113.9" r="2.3" fill="#4fa293"/><circle cx="223.4" cy="86.4" r="2.3" fill="#6cb56d"/><circle cx="190.3" cy="107.8" r="2.3" fill="#6db577"/><circle cx="216" cy="102.5" r="2.3" fill="#6ab668"/><circle cx="227.6" cy="82.8" r="2.3" fill="#6cb46e"/><circle cx="188.8" cy="110.1" r="2.3" fill="#62ae83"/><circle cx="240.9" cy="104.2" r="2.3" fill="#398fa6"/><circle cx="224.3" cy="96.8" r="2.3" fill="#68b36b"/><circle cx="239.9" cy="109.6" r="2.3" fill="#396caf"/><circle cx="229.2" cy="113.4" r="2.3" fill="#3e6ca9"/><circle cx="199.5" cy="102.9" r="2.3" fill="#67af73"/><circle cx="193.5" cy="105.8" r="2.3" fill="#71b66d"/><circle cx="233.7" cy="109.4" r="2.3" fill="#3e7aa6"/><circle cx="196.1" cy="112" r="2.3" fill="#5baa83"/><circle cx="208.1" cy="106.6" r="2.3" fill="#66af74"/><circle cx="233.2" cy="84.3" r="2.3" fill="#6bb370"/><circle cx="207.7" cy="102" r="2.3" fill="#6cb470"/><circle cx="194.6" cy="111.6" r="2.3" fill="#55a78c"/><circle cx="235.2" cy="113.1" r="2.3" fill="#3754af"/><circle cx="206.5" cy="111.6" r="2.3" fill="#5daa83"/><circle cx="225.9" cy="71.2" r="2.3" fill="#70b76b"/><circle cx="226.7" cy="84.6" r="2.3" fill="#69b26c"/><circle cx="230" cy="119.1" r="2.3" fill="#3a199f"/><circle cx="231.6" cy="102.6" r="2.3" fill="#549b8d"/><circle cx="194.2" cy="104.1" r="2.3" fill="#6fb56e"/><circle cx="213" cy="111.9" r="2.3" fill="#44889e"/><circle cx="221.9" cy="75.1" r="2.3" fill="#70b86d"/><circle cx="212.6" cy="113.4" r="2.3" fill="#4181a4"/><circle cx="221.9" cy="86.3" r="2.3" fill="#6bb46d"/><circle cx="233.5" cy="106" r="2.3" fill="#468f9e"/><circle cx="186.1" cy="104.7" r="2.3" fill="#73b675"/><circle cx="228.9" cy="80.9" r="2.3" fill="#6eb56f"/><circle cx="198.8" cy="112.1" r="2.3" fill="#5ba985"/><circle cx="237.7" cy="116.9" r="2.3" fill="#4a38a0"/><circle cx="216.3" cy="62.4" r="2.3" fill="#72b66b"/><circle cx="219.6" cy="96.6" r="2.3" fill="#68b36b"/><circle cx="222.6" cy="65.9" r="2.3" fill="#71b56d"/><circle cx="221.5" cy="107.7" r="2.3" fill="#4c8e99"/><circle cx="200.9" cy="115.7" r="2.3" fill="#439a9b"/><circle cx="222.9" cy="116.9" r="2.3" fill="#314cb3"/><circle cx="226.5" cy="121.3" r="2.3" fill="#3338af"/><circle cx="214" cy="106.3" r="2.3" fill="#5da57d"/><circle cx="210.5" cy="102.9" r="2.3" fill="#65ae71"/><circle cx="237.9" cy="105.8" r="2.3" fill="#4593a2"/><circle cx="208.3" cy="116.8" r="2.3" fill="#428aa4"/><circle cx="236.3" cy="104.6" r="2.3" fill="#46969e"/><circle cx="230.8" cy="88.4" r="2.3" fill="#6bb46e"/><circle cx="236.7" cy="96.9" r="2.3" fill="#58a880"/><circle cx="229.9" cy="104" r="2.3" fill="#509391"/><circle cx="226.2" cy="97" r="2.3" fill="#67b073"/><circle cx="183.2" cy="110.2" r="2.3" fill="#6fb374"/><circle cx="203.7" cy="102" r="2.3" fill="#6db56b"/><circle cx="192.8" cy="107.7" r="2.3" fill="#6cb472"/><circle cx="206.7" cy="115.4" r="2.3" fill="#3f95a0"/><circle cx="234.5" cy="115.2" r="2.3" fill="#4044a3"/><circle cx="203.6" cy="113.3" r="2.3" fill="#419ca3"/><circle cx="213.4" cy="100.4" r="2.3" fill="#6ab56b"/><circle cx="241.9" cy="98.8" r="2.3" fill="#55a489"/><circle cx="224.8" cy="91.2" r="2.3" fill="#6eba6a"/><circle cx="221.8" cy="103.9" r="2.3" fill="#5ba07f"/><circle cx="217.8" cy="107.5" r="2.3" fill="#4e9597"/><circle cx="210.5" cy="106.5" r="2.3" fill="#62aa7c"/><circle cx="227.8" cy="89.6" r="2.3" fill="#6ab46b"/><circle cx="233.9" cy="100.4" r="2.3" fill="#569f88"/><circle cx="235.9" cy="100.9" r="2.3" fill="#4e9a90"/><circle cx="219.6" cy="64.5" r="2.3" fill="#72b66b"/><circle cx="238.9" cy="104.2" r="2.3" fill="#3f90a2"/><circle cx="205.9" cy="116.9" r="2.3" fill="#3d94a1"/><circle cx="208.1" cy="113.6" r="2.3" fill="#4c9997"/><circle cx="216.8" cy="73.2" r="2.3" fill="#6eb36d"/><circle cx="228.4" cy="107.7" r="2.3" fill="#3e80a7"/><circle cx="218.4" cy="69.8" r="2.3" fill="#73b76e"/><circle cx="227" cy="95.4" r="2.3" fill="#65ad71"/><circle cx="231.6" cy="80.9" r="2.3" fill="#6ab26f"/><circle cx="224.2" cy="71" r="2.3" fill="#6db46a"/><circle cx="235.6" cy="102.3" r="2.3" fill="#4a979a"/><circle cx="220.6" cy="117.2" r="2.3" fill="#3256b2"/><circle cx="235.3" cy="84.1" r="2.3" fill="#68af6f"/><circle cx="216.3" cy="98.6" r="2.3" fill="#67b16e"/><circle cx="216.1" cy="66.4" r="2.3" fill="#74b86c"/><circle cx="216.7" cy="69.9" r="2.3" fill="#73b76d"/><circle cx="215.6" cy="63.9" r="2.3" fill="#73b76c"/><circle cx="234.2" cy="89.8" r="2.3" fill="#6cb46f"/><circle cx="232.3" cy="97.1" r="2.3" fill="#66ae77"/><circle cx="218.6" cy="116.9" r="2.3" fill="#3565b2"/><circle cx="188.5" cy="104" r="2.3" fill="#72b773"/><circle cx="197.1" cy="113.2" r="2.3" fill="#57a787"/><circle cx="225.6" cy="79.1" r="2.3" fill="#70b86c"/><circle cx="239.1" cy="91.3" r="2.3" fill="#5fa97e"/><circle cx="213.6" cy="115.4" r="2.3" fill="#3469b4"/><circle cx="229.4" cy="106.2" r="2.3" fill="#45869f"/><circle cx="220.8" cy="113.2" r="2.3" fill="#3b7eab"/><circle cx="226.7" cy="87.5" r="2.3" fill="#6bb66c"/><circle cx="234.5" cy="86.3" r="2.3" fill="#6cb46e"/><circle cx="228.1" cy="85.9" r="2.3" fill="#6ab36e"/><circle cx="212.5" cy="102.1" r="2.3" fill="#69b46c"/><circle cx="210.3" cy="109.6" r="2.3" fill="#5aa186"/><circle cx="215.3" cy="111.3" r="2.3" fill="#3d86a7"/><circle cx="205.9" cy="110.2" r="2.3" fill="#67b173"/><circle cx="202.7" cy="111.9" r="2.3" fill="#51a38c"/><circle cx="242.7" cy="100.6" r="2.3" fill="#499795"/><circle cx="224.8" cy="113.4" r="2.3" fill="#3f6ca7"/><circle cx="232.6" cy="93.8" r="2.3" fill="#63ac77"/><circle cx="238.3" cy="90.2" r="2.3" fill="#62ab7a"/><circle cx="183.7" cy="104.7" r="2.3" fill="#76b670"/><circle cx="226.8" cy="80.3" r="2.3" fill="#6fb76d"/><circle cx="224.8" cy="120.4" r="2.3" fill="#2c3cbe"/><circle cx="214.9" cy="107.6" r="2.3" fill="#549b8d"/><circle cx="217.5" cy="71.1" r="2.3" fill="#73b76f"/><circle cx="220.4" cy="69.6" r="2.3" fill="#6fb46b"/><circle cx="196" cy="104.6" r="2.3" fill="#6eb575"/><circle cx="242.6" cy="96.8" r="2.3" fill="#58a787"/><circle cx="228.4" cy="93.3" r="2.3" fill="#65ae70"/><circle cx="228.9" cy="77.4" r="2.3" fill="#70b86a"/><circle cx="240.4" cy="97.5" r="2.3" fill="#59aa81"/><circle cx="219.4" cy="79.2" r="2.3" fill="#6db568"/><circle cx="236.5" cy="108.3" r="2.3" fill="#4182a3"/><circle cx="218.1" cy="66.3" r="2.3" fill="#76ba6e"/><circle cx="239.9" cy="102" r="2.3" fill="#46969e"/><circle cx="223.2" cy="69.2" r="2.3" fill="#6eb46b"/><circle cx="238.3" cy="96.7" r="2.3" fill="#5bad81"/><circle cx="237.6" cy="113.1" r="2.3" fill="#2947bd"/><circle cx="241.5" cy="95.7" r="2.3" fill="#59a983"/><circle cx="209.1" cy="111.3" r="2.3" fill="#569f88"/><circle cx="211.3" cy="115.3" r="2.3" fill="#3c76ab"/><circle cx="228.1" cy="100.3" r="2.3" fill="#64ab78"/><circle cx="229" cy="110" r="2.3" fill="#397eae"/><circle cx="208.8" cy="115.4" r="2.3" fill="#438b9f"/><circle cx="213.8" cy="104.2" r="2.3" fill="#66b16c"/><circle cx="214.4" cy="62.1" r="2.3" fill="#74b86f"/><circle cx="226.7" cy="99.2" r="2.3" fill="#65ad76"/><circle cx="222.1" cy="115.8" r="2.3" fill="#385faf"/><circle cx="232.4" cy="108.4" r="2.3" fill="#4182aa"/><circle cx="232.2" cy="100.2" r="2.3" fill="#5ea57b"/><circle cx="219.5" cy="71.7" r="2.3" fill="#70b56d"/><circle cx="227.1" cy="73" r="2.3" fill="#6fb668"/><circle cx="212.4" cy="106.5" r="2.3" fill="#5fa67f"/><circle cx="188.6" cy="111.4" r="2.3" fill="#5aa883"/><circle cx="191.7" cy="113.1" r="2.3" fill="#4aa196"/><circle cx="222.1" cy="119" r="2.3" fill="#293bbc"/><circle cx="187.5" cy="105.9" r="2.3" fill="#6eb474"/><circle cx="209.2" cy="118.7" r="2.3" fill="#3975ac"/><circle cx="203.5" cy="117.1" r="2.3" fill="#3f9aa6"/><circle cx="219.7" cy="111.3" r="2.3" fill="#3b86ad"/><circle cx="217" cy="97.4" r="2.3" fill="#66b06f"/><circle cx="224.8" cy="102.9" r="2.3" fill="#5da281"/><circle cx="243.4" cy="99.2" r="2.3" fill="#509c8f"/><circle cx="230.4" cy="112" r="2.3" fill="#3a79ab"/><circle cx="208.7" cy="107.6" r="2.3" fill="#62aa76"/><circle cx="218.8" cy="105.8" r="2.3" fill="#599f88"/><circle cx="239.4" cy="98.9" r="2.3" fill="#57a882"/><circle cx="241.3" cy="106.6" r="2.3" fill="#3d90a9"/><circle cx="223.2" cy="113.5" r="2.3" fill="#4072aa"/><circle cx="224.9" cy="73.6" r="2.3" fill="#6fb669"/><circle cx="211.5" cy="100.9" r="2.3" fill="#66b06e"/><circle cx="230.4" cy="115.2" r="2.3" fill="#404aa3"/><circle cx="232.9" cy="94.7" r="2.3" fill="#60a976"/><circle cx="223.3" cy="78.9" r="2.3" fill="#70b869"/><circle cx="207.7" cy="110.3" r="2.3" fill="#5fa97a"/><circle cx="228.4" cy="118.5" r="2.3" fill="#3c2aa3"/><circle cx="226.1" cy="82.6" r="2.3" fill="#6cb46c"/><circle cx="235.7" cy="110.1" r="2.3" fill="#3a6aaa"/><circle cx="224.1" cy="74.9" r="2.3" fill="#6eb568"/><circle cx="178.5" cy="106.5" r="2.3" fill="#74b571"/><circle cx="207.4" cy="104.6" r="2.3" fill="#6bb36c"/><circle cx="243.5" cy="94.8" r="2.3" fill="#57a486"/><circle cx="220.1" cy="82.7" r="2.3" fill="#6eb66b"/><circle cx="229" cy="95.5" r="2.3" fill="#64ac71"/><circle cx="222.6" cy="72.9" r="2.3" fill="#70b76d"/><circle cx="221" cy="76.6" r="2.3" fill="#6db568"/><circle cx="235" cy="98.9" r="2.3" fill="#56a183"/><circle cx="240.2" cy="90.2" r="2.3" fill="#60a97e"/><circle cx="231.4" cy="84" r="2.3" fill="#6bb370"/><circle cx="190.4" cy="104.1" r="2.3" fill="#73b76e"/><circle cx="205.5" cy="102.8" r="2.3" fill="#6eb667"/><circle cx="223.1" cy="77.3" r="2.3" fill="#6eb668"/><circle cx="231.8" cy="118.8" r="2.3" fill="#3c1aa0"/><circle cx="228.2" cy="74.9" r="2.3" fill="#6fb767"/><circle cx="198.8" cy="115.6" r="2.3" fill="#4fa090"/><circle cx="220.5" cy="66.4" r="2.3" fill="#72b66c"/><circle cx="201.8" cy="102.9" r="2.3" fill="#6db571"/><circle cx="219.2" cy="104.5" r="2.3" fill="#5fa67f"/><circle cx="213.9" cy="117.5" r="2.3" fill="#2b55c6"/><circle cx="227.9" cy="78.5" r="2.3" fill="#70b86c"/><circle cx="233.3" cy="120.5" r="2.3" fill="#4f1a92"/><circle cx="238.8" cy="115.3" r="2.3" fill="#344ab8"/><circle cx="217.4" cy="67.7" r="2.3" fill="#74b86c"/><circle cx="218.3" cy="102.3" r="2.3" fill="#65af70"/><circle cx="240.9" cy="100.5" r="2.3" fill="#4d9c91"/><circle cx="230.8" cy="106.1" r="2.3" fill="#44879f"/><circle cx="222.5" cy="80.7" r="2.3" fill="#6fb768"/><circle cx="180.3" cy="106" r="2.3" fill="#78b871"/><circle cx="197" cy="107.7" r="2.3" fill="#6bb473"/><circle cx="191.7" cy="106.5" r="2.3" fill="#72b66d"/><circle cx="232.1" cy="86.4" r="2.3" fill="#6ab26b"/><circle cx="210.9" cy="104.6" r="2.3" fill="#65ae77"/><circle cx="235" cy="88" r="2.3" fill="#6ab26c"/><circle cx="218.3" cy="99.3" r="2.3" fill="#67b06d"/><circle cx="200.9" cy="104.3" r="2.3" fill="#6ab373"/><circle cx="209.8" cy="116.8" r="2.3" fill="#3b77aa"/><circle cx="213.6" cy="118.5" r="2.3" fill="#2951c8"/><circle cx="182.8" cy="105.9" r="2.3" fill="#78b871"/><circle cx="230.8" cy="113.3" r="2.3" fill="#3e6ba8"/><circle cx="230.9" cy="99.2" r="2.3" fill="#67af73"/><circle cx="227.1" cy="77.1" r="2.3" fill="#6eb667"/><circle cx="203" cy="104" r="2.3" fill="#6eb66b"/><circle cx="235.3" cy="91.2" r="2.3" fill="#66ae75"/><circle cx="235.9" cy="115.4" r="2.3" fill="#4046ac"/><circle cx="235.4" cy="116.9" r="2.3" fill="#4f2f97"/><circle cx="224.2" cy="108.4" r="2.3" fill="#46839a"/><circle cx="229.9" cy="82.3" r="2.3" fill="#6ab16e"/><circle cx="233.4" cy="117.2" r="2.3" fill="#482a9b"/><circle cx="222.4" cy="98.8" r="2.3" fill="#6ab667"/><circle cx="219" cy="73" r="2.3" fill="#70b66e"/><circle cx="233.2" cy="113.9" r="2.3" fill="#3f57a6"/><circle cx="228" cy="114.8" r="2.3" fill="#3e58a5"/><circle cx="232.6" cy="115.8" r="2.3" fill="#453fa2"/><circle cx="202.1" cy="106" r="2.3" fill="#68b171"/><circle cx="224.8" cy="80.6" r="2.3" fill="#70b76a"/><circle cx="229.5" cy="91.9" r="2.3" fill="#65ae6f"/><circle cx="200.9" cy="111.9" r="2.3" fill="#56a68b"/><circle cx="235.7" cy="95.3" r="2.3" fill="#5ca980"/><circle cx="224.7" cy="88.3" r="2.3" fill="#6db86a"/><circle cx="237.6" cy="91.8" r="2.3" fill="#5ea97a"/><circle cx="232.9" cy="98.5" r="2.3" fill="#63ab7a"/><circle cx="234.2" cy="119.1" r="2.3" fill="#5d1c8f"/><circle cx="219.4" cy="67.4" r="2.3" fill="#73b76c"/><circle cx="237.3" cy="103" r="2.3" fill="#46959c"/><circle cx="203.1" cy="108.2" r="2.3" fill="#66b071"/><circle cx="232.5" cy="104.2" r="2.3" fill="#4a9298"/><circle cx="221.7" cy="111.2" r="2.3" fill="#3f81a6"/><circle cx="215.5" cy="118.8" r="2.3" fill="#2a52c6"/><circle cx="224.7" cy="117.1" r="2.3" fill="#364bb3"/><circle cx="199.5" cy="110.3" r="2.3" fill="#60ac7e"/><circle cx="216.2" cy="110" r="2.3" fill="#4089a8"/><circle cx="240.5" cy="107.8" r="2.3" fill="#3f89a9"/><circle cx="211" cy="111.2" r="2.3" fill="#4f948f"/><circle cx="222.7" cy="88.2" r="2.3" fill="#6cb66b"/><circle cx="234.7" cy="111.3" r="2.3" fill="#3c67ac"/><circle cx="220.1" cy="119.2" r="2.3" fill="#2e49b8"/><circle cx="235.1" cy="120.7" r="2.3" fill="#701383"/><circle cx="227.6" cy="111.5" r="2.3" fill="#3e7bab"/><circle cx="237.8" cy="109.5" r="2.3" fill="#386bac"/><circle cx="238.5" cy="107.8" r="2.3" fill="#4086a6"/><circle cx="215.7" cy="67.5" r="2.3" fill="#73b76b"/><circle cx="201.4" cy="109.8" r="2.3" fill="#62ae7d"/><circle cx="231" cy="116.9" r="2.3" fill="#3f29a0"/><circle cx="224.1" cy="114.9" r="2.3" fill="#3a5fa9"/><circle cx="206.4" cy="106.2" r="2.3" fill="#6bb470"/><circle cx="233.2" cy="91.9" r="2.3" fill="#66ae73"/><circle cx="226.7" cy="110.3" r="2.3" fill="#3d7ba7"/><circle cx="192.4" cy="111.6" r="2.3" fill="#4ba297"/><circle cx="214.3" cy="65.7" r="2.3" fill="#72b66b"/><circle cx="229.3" cy="84.4" r="2.3" fill="#69b16d"/><circle cx="181.1" cy="109.5" r="2.3" fill="#72b471"/><circle cx="197.5" cy="102.5" r="2.3" fill="#6bb377"/><circle cx="221.2" cy="78.6" r="2.3" fill="#71b96a"/><circle cx="190" cy="112" r="2.3" fill="#54a68d"/><circle cx="217.4" cy="111.7" r="2.3" fill="#3987ae"/><circle cx="222.8" cy="94.7" r="2.3" fill="#68b26c"/><circle cx="227.2" cy="105.9" r="2.3" fill="#4b8c9a"/><circle cx="223" cy="110.2" r="2.3" fill="#4481a2"/><circle cx="235.6" cy="105.8" r="2.3" fill="#4a99a2"/><circle cx="217.8" cy="75.2" r="2.3" fill="#6db36c"/><circle cx="240.7" cy="93.1" r="2.3" fill="#5aa782"/><circle cx="230.8" cy="120.5" r="2.3" fill="#3b1aa0"/><circle cx="204" cy="109.9" r="2.3" fill="#69b373"/><circle cx="237.3" cy="87.7" r="2.3" fill="#66ae72"/><circle cx="221.7" cy="68.1" r="2.3" fill="#71b66d"/><circle cx="236" cy="86.2" r="2.3" fill="#68b06e"/><circle cx="237.2" cy="95.4" r="2.3" fill="#59a87f"/><circle cx="223.5" cy="111.4" r="2.3" fill="#417aa3"/><circle cx="221.9" cy="82" r="2.3" fill="#71b96a"/><circle cx="185.9" cy="108" r="2.3" fill="#70b476"/><circle cx="243.1" cy="93.5" r="2.3" fill="#57a383"/><circle cx="236.4" cy="90.2" r="2.3" fill="#66ae74"/><circle cx="214" cy="109.4" r="2.3" fill="#4b9197"/><circle cx="202.9" cy="114.9" r="2.3" fill="#3a97a5"/><circle cx="193.5" cy="113.3" r="2.3" fill="#49a097"/><circle cx="225.8" cy="75.1" r="2.3" fill="#6fb769"/><circle cx="236.4" cy="118.7" r="2.3" fill="#681987"/><circle cx="225.4" cy="100.4" r="2.3" fill="#65ad77"/><circle cx="210.1" cy="113.2" r="2.3" fill="#4b9099"/><circle cx="217.8" cy="100.9" r="2.3" fill="#69b36f"/><circle cx="206.7" cy="101.1" r="2.3" fill="#6bb36e"/><circle cx="213.9" cy="103" r="2.3" fill="#6cb86b"/><circle cx="228.9" cy="116.8" r="2.3" fill="#4038a4"/><circle cx="223.8" cy="100.2" r="2.3" fill="#67b16f"/><circle cx="219.6" cy="100.8" r="2.3" fill="#67b171"/><circle cx="195.8" cy="106.2" r="2.3" fill="#6eb674"/><circle cx="217.5" cy="115.8" r="2.3" fill="#3873b1"/><circle cx="227" cy="91.2" r="2.3" fill="#6bb66c"/><circle cx="225" cy="76.8" r="2.3" fill="#71b96b"/><circle cx="220.5" cy="102.2" r="2.3" fill="#63ab75"/><circle cx="195.7" cy="102.9" r="2.3" fill="#6bb171"/><circle cx="211.9" cy="110.1" r="2.3" fill="#529891"/><circle cx="226.6" cy="113.6" r="2.3" fill="#3f69a7"/><circle cx="216.4" cy="113.5" r="2.3" fill="#3d86b0"/><circle cx="230.9" cy="94.8" r="2.3" fill="#65ad74"/><circle cx="220.7" cy="83.9" r="2.3" fill="#6eb66d"/><circle cx="238.9" cy="93.8" r="2.3" fill="#5aa980"/><circle cx="226.1" cy="85.9" r="2.3" fill="#6ab46c"/><circle cx="204.5" cy="112" r="2.3" fill="#53a48b"/><circle cx="232.7" cy="90.1" r="2.3" fill="#6ab26d"/><circle cx="225.1" cy="105.7" r="2.3" fill="#4e8e90"/><circle cx="229.3" cy="88.1" r="2.3" fill="#6bb46f"/><circle cx="230.8" cy="92" r="2.3" fill="#67af72"/><circle cx="226.3" cy="118.6" r="2.3" fill="#353dae"/><circle cx="203.6" cy="106.6" r="2.3" fill="#69b270"/><circle cx="218" cy="104" r="2.3" fill="#62aa74"/><circle cx="198.6" cy="104.5" r="2.3" fill="#6ab277"/><circle cx="207" cy="107.6" r="2.3" fill="#66af71"/><circle cx="216.5" cy="106" r="2.3" fill="#5ca480"/><circle cx="224.5" cy="99" r="2.3" fill="#6ab370"/><circle cx="230.4" cy="90.2" r="2.3" fill="#6ab370"/><circle cx="185.3" cy="109.5" r="2.3" fill="#6eb479"/><circle cx="229.8" cy="93.5" r="2.3" fill="#64ac72"/><circle cx="208.8" cy="103.9" r="2.3" fill="#6ab273"/><circle cx="225.8" cy="104.6" r="2.3" fill="#52948c"/><circle cx="238.9" cy="100.7" r="2.3" fill="#509e92"/><circle cx="197.5" cy="106.2" r="2.3" fill="#69b174"/><circle cx="222.6" cy="105.8" r="2.3" fill="#51938b"/><circle cx="218.1" cy="113.2" r="2.3" fill="#3b88b0"/><circle cx="234.2" cy="93.3" r="2.3" fill="#62ab79"/><circle cx="232.6" cy="82.7" r="2.3" fill="#69b16f"/><circle cx="204.8" cy="104.3" r="2.3" fill="#6fb767"/><circle cx="236.7" cy="111.9" r="2.3" fill="#3050b9"/><circle cx="220.3" cy="81" r="2.3" fill="#70b869"/><circle cx="220.7" cy="121" r="2.3" fill="#2d41be"/><circle cx="223.3" cy="82.6" r="2.3" fill="#70b86c"/><circle cx="237.2" cy="99.4" r="2.3" fill="#56a487"/><circle cx="195.5" cy="109.7" r="2.3" fill="#6db670"/><circle cx="189.3" cy="105.9" r="2.3" fill="#6fb470"/></g>
<g><circle cx="113" cy="87.5" r="2.3" fill="#c7888f"/><circle cx="159.6" cy="105.8" r="2.3" fill="#d9d8ac"/><circle cx="137" cy="96.1" r="2.3" fill="#d5a5a9"/><circle cx="157.8" cy="104.2" r="2.3" fill="#e0d9b0"/><circle cx="165.7" cy="105.7" r="2.3" fill="#cddba5"/><circle cx="172.4" cy="107.5" r="2.3" fill="#9fcb87"/><circle cx="159.5" cy="101.8" r="2.3" fill="#e1d9b1"/><circle cx="144.4" cy="101.7" r="2.3" fill="#ddbeaa"/><circle cx="133.3" cy="96.4" r="2.3" fill="#d49ea2"/><circle cx="154.6" cy="108.8" r="2.3" fill="#ddd3ac"/><circle cx="153.5" cy="107.1" r="2.3" fill="#e3d3af"/><circle cx="168.1" cy="112.8" r="2.3" fill="#c0d69d"/><circle cx="150.5" cy="98" r="2.3" fill="#e2ccae"/><circle cx="168.1" cy="105.7" r="2.3" fill="#bdd59b"/><circle cx="162.7" cy="103.4" r="2.3" fill="#dad8ac"/><circle cx="169.4" cy="105.3" r="2.3" fill="#adce90"/><circle cx="149" cy="98.8" r="2.3" fill="#e4ccaf"/><circle cx="160.7" cy="103.7" r="2.3" fill="#ded6ae"/><circle cx="154.7" cy="105.4" r="2.3" fill="#dfd1ac"/><circle cx="152.6" cy="102" r="2.3" fill="#e7d2b1"/><circle cx="160.8" cy="109.7" r="2.3" fill="#d1dfa9"/><circle cx="142.9" cy="101.9" r="2.3" fill="#dcb7ab"/><circle cx="136.5" cy="97.8" r="2.3" fill="#d6a5a9"/><circle cx="161" cy="113.1" r="2.3" fill="#cfd9a5"/><circle cx="158.5" cy="111.1" r="2.3" fill="#d5dbaa"/><circle cx="167" cy="111.5" r="2.3" fill="#c4d79f"/><circle cx="159.8" cy="100.6" r="2.3" fill="#ded6ae"/><circle cx="150.2" cy="103.5" r="2.3" fill="#e6ceae"/><circle cx="139.9" cy="97.9" r="2.3" fill="#d3a3a7"/><circle cx="141.7" cy="100.6" r="2.3" fill="#d6aba8"/><circle cx="147.8" cy="103.4" r="2.3" fill="#e7cfaf"/><circle cx="163" cy="105.9" r="2.3" fill="#d3dfaa"/><circle cx="166.2" cy="107.2" r="2.3" fill="#cddda6"/><circle cx="146.3" cy="102" r="2.3" fill="#e3c9ad"/><circle cx="150.9" cy="102.3" r="2.3" fill="#e5ceae"/><circle cx="165.8" cy="109.8" r="2.3" fill="#cbdba4"/><circle cx="152.6" cy="109.3" r="2.3" fill="#e1d2ae"/><circle cx="152.4" cy="105.4" r="2.3" fill="#e6d0af"/><circle cx="169.1" cy="107.1" r="2.3" fill="#b0d192"/><circle cx="162.1" cy="110.9" r="2.3" fill="#cfdda6"/><circle cx="174.2" cy="106.1" r="2.3" fill="#a0cb88"/><circle cx="152.1" cy="107.4" r="2.3" fill="#e5d1b0"/><circle cx="167.7" cy="109.4" r="2.3" fill="#c1d79d"/><circle cx="143.6" cy="96" r="2.3" fill="#d7aea8"/><circle cx="161.7" cy="105.9" r="2.3" fill="#d6deac"/><circle cx="135.4" cy="96.9" r="2.3" fill="#d5a5a8"/><circle cx="154.8" cy="102" r="2.3" fill="#e1d4af"/><circle cx="171.2" cy="110.8" r="2.3" fill="#a9ce8d"/><circle cx="166" cy="112.9" r="2.3" fill="#c8d8a1"/><circle cx="157.7" cy="107.5" r="2.3" fill="#d7d7aa"/><circle cx="143" cy="100" r="2.3" fill="#d9b1a9"/><circle cx="142" cy="98" r="2.3" fill="#d4a7a6"/><circle cx="146.3" cy="105.6" r="2.3" fill="#e3cbad"/><circle cx="162.1" cy="107.4" r="2.3" fill="#cfdfa7"/><circle cx="162.9" cy="102" r="2.3" fill="#dcd9ae"/><circle cx="118.3" cy="89.3" r="2.3" fill="#c7878f"/><circle cx="164.7" cy="111.2" r="2.3" fill="#cfdea8"/><circle cx="164.5" cy="107.4" r="2.3" fill="#d1e0a9"/><circle cx="145.1" cy="96.8" r="2.3" fill="#d8b4a7"/><circle cx="138.9" cy="96.2" r="2.3" fill="#d6a6aa"/><circle cx="150.4" cy="105.7" r="2.3" fill="#e8d0b0"/><circle cx="145.6" cy="100.5" r="2.3" fill="#e0c3ac"/><circle cx="173.2" cy="110.9" r="2.3" fill="#a6cd8c"/><circle cx="164.8" cy="104" r="2.3" fill="#d4dcaa"/><circle cx="139.5" cy="100.2" r="2.3" fill="#d5a6a9"/><circle cx="144.4" cy="98.1" r="2.3" fill="#dbb6ab"/><circle cx="152.3" cy="100.1" r="2.3" fill="#e4d0af"/><circle cx="146.2" cy="98.2" r="2.3" fill="#ddbfab"/><circle cx="163.1" cy="113.3" r="2.3" fill="#cfdca7"/><circle cx="156.5" cy="100.1" r="2.3" fill="#ded5ad"/><circle cx="169.4" cy="109.1" r="2.3" fill="#b0d192"/><circle cx="160.4" cy="107.1" r="2.3" fill="#d3dca9"/><circle cx="160.1" cy="110.8" r="2.3" fill="#d3deaa"/><circle cx="157.5" cy="101.9" r="2.3" fill="#ded7af"/><circle cx="147.6" cy="96.3" r="2.3" fill="#dcc0aa"/><circle cx="155.9" cy="104.2" r="2.3" fill="#ddd4ac"/><circle cx="156.5" cy="107.5" r="2.3" fill="#d9d6ab"/><circle cx="168.9" cy="111.4" r="2.3" fill="#b8d397"/><circle cx="138.6" cy="97.9" r="2.3" fill="#d4a4a8"/><circle cx="152.7" cy="98" r="2.3" fill="#e1cfae"/><circle cx="151" cy="108.8" r="2.3" fill="#e2cead"/><circle cx="159.3" cy="109.7" r="2.3" fill="#d3dca9"/><circle cx="148.6" cy="102.3" r="2.3" fill="#e5cdae"/><circle cx="115.8" cy="89.4" r="2.3" fill="#ca8a92"/><circle cx="167" cy="103.8" r="2.3" fill="#cad9a3"/><circle cx="148.4" cy="105.4" r="2.3" fill="#e9d1b1"/><circle cx="153.6" cy="100.4" r="2.3" fill="#e3d2b0"/><circle cx="162.9" cy="109.6" r="2.3" fill="#cedea6"/><circle cx="156.8" cy="112.9" r="2.3" fill="#d5d7a9"/><circle cx="141.8" cy="96.5" r="2.3" fill="#d5a8a8"/><circle cx="154.1" cy="111.3" r="2.3" fill="#dbd3ab"/><circle cx="168.7" cy="104.1" r="2.3" fill="#b8d297"/><circle cx="156.4" cy="111.2" r="2.3" fill="#d5d5a8"/><circle cx="170.6" cy="107.8" r="2.3" fill="#a5ce8b"/><circle cx="165.8" cy="101.8" r="2.3" fill="#d1d8a7"/><circle cx="150" cy="107.5" r="2.3" fill="#e4ceae"/><circle cx="171.9" cy="109.7" r="2.3" fill="#a6cf8d"/><circle cx="157.4" cy="109.4" r="2.3" fill="#d7d9ab"/><circle cx="171.5" cy="105.4" r="2.3" fill="#a1cb88"/><circle cx="158.6" cy="99.7" r="2.3" fill="#ddd6ad"/><circle cx="153.9" cy="103.5" r="2.3" fill="#e3d2af"/><circle cx="151.9" cy="103.6" r="2.3" fill="#e6ceae"/><circle cx="148.1" cy="107.2" r="2.3" fill="#e6cfb0"/><circle cx="147.8" cy="99.8" r="2.3" fill="#e2c9ad"/><circle cx="161.7" cy="102.3" r="2.3" fill="#ded7af"/><circle cx="146" cy="104.2" r="2.3" fill="#e4cbae"/><circle cx="159" cy="112.6" r="2.3" fill="#d3daa8"/><circle cx="171" cy="103.4" r="2.3" fill="#add091"/><circle cx="134.4" cy="95.1" r="2.3" fill="#d29fa2"/><circle cx="156.7" cy="105.4" r="2.3" fill="#dbd5ac"/><circle cx="162.2" cy="100.5" r="2.3" fill="#dedab0"/><circle cx="149.8" cy="99.7" r="2.3" fill="#e3cdae"/></g>
<g><circle cx="134.5" cy="54.6" r="2.3" fill="#4a9e96"/><circle cx="125.4" cy="63.9" r="2.3" fill="#306db9"/><circle cx="112.8" cy="71" r="2.3" fill="#2939c9"/><circle cx="109.7" cy="65.5" r="2.3" fill="#4f8a8f"/><circle cx="127.7" cy="49.2" r="2.3" fill="#5ca880"/><circle cx="104.4" cy="56.9" r="2.3" fill="#67b272"/><circle cx="139.2" cy="58.2" r="2.3" fill="#409aa2"/><circle cx="128.3" cy="50.7" r="2.3" fill="#5ba886"/><circle cx="125.3" cy="60.7" r="2.3" fill="#3f83a7"/><circle cx="108.3" cy="53" r="2.3" fill="#6cb96a"/><circle cx="114.1" cy="54.7" r="2.3" fill="#5ea87b"/><circle cx="118.5" cy="67.1" r="2.3" fill="#3159be"/><circle cx="143.9" cy="45.9" r="2.3" fill="#64b080"/><circle cx="134.7" cy="47.1" r="2.3" fill="#71bb6e"/><circle cx="120.4" cy="58" r="2.3" fill="#5fa981"/><circle cx="140" cy="45.6" r="2.3" fill="#65b17d"/><circle cx="121.2" cy="67.4" r="2.3" fill="#2943c7"/><circle cx="139.3" cy="55.2" r="2.3" fill="#4aa095"/><circle cx="119.4" cy="63.6" r="2.3" fill="#3c86b2"/><circle cx="111.2" cy="69.3" r="2.3" fill="#2d42c3"/><circle cx="138.5" cy="51.2" r="2.3" fill="#5eae84"/><circle cx="120.6" cy="60.2" r="2.3" fill="#4a919b"/><circle cx="107.8" cy="62.2" r="2.3" fill="#66b075"/><circle cx="118.2" cy="62.1" r="2.3" fill="#3c89b1"/><circle cx="149" cy="47.5" r="2.3" fill="#70b673"/><circle cx="141.9" cy="53" r="2.3" fill="#51a890"/><circle cx="148.8" cy="49.8" r="2.3" fill="#64b080"/><circle cx="137.3" cy="49.4" r="2.3" fill="#6ab573"/><circle cx="116.1" cy="50.7" r="2.3" fill="#65b173"/><circle cx="127.2" cy="56.7" r="2.3" fill="#4c9e95"/><circle cx="110.4" cy="53.1" r="2.3" fill="#68b56c"/><circle cx="151.3" cy="47.3" r="2.3" fill="#71b672"/><circle cx="114" cy="69.9" r="2.3" fill="#283ac6"/><circle cx="117.6" cy="69.2" r="2.3" fill="#3257bd"/><circle cx="137.2" cy="47.8" r="2.3" fill="#6cb76e"/><circle cx="143.8" cy="52.6" r="2.3" fill="#52aa92"/><circle cx="138.2" cy="57.1" r="2.3" fill="#409aa2"/><circle cx="144.2" cy="48.9" r="2.3" fill="#59ab89"/><circle cx="118.7" cy="59.8" r="2.3" fill="#4790a0"/><circle cx="139.4" cy="53" r="2.3" fill="#52a68d"/><circle cx="123.2" cy="60.4" r="2.3" fill="#4a909b"/><circle cx="102.4" cy="63.9" r="2.3" fill="#6bb76f"/><circle cx="117.4" cy="51.4" r="2.3" fill="#68b471"/><circle cx="132.5" cy="47.7" r="2.3" fill="#6eb972"/><circle cx="130" cy="47.4" r="2.3" fill="#62ae79"/><circle cx="121.4" cy="63.8" r="2.3" fill="#3872b3"/><circle cx="109.2" cy="69.5" r="2.3" fill="#3557b2"/><circle cx="129.2" cy="63.5" r="2.3" fill="#2d6ac2"/><circle cx="110.7" cy="63.7" r="2.3" fill="#5b9f86"/><circle cx="107.3" cy="54.3" r="2.3" fill="#6ab76a"/><circle cx="137.5" cy="52.6" r="2.3" fill="#57a989"/><circle cx="139.5" cy="48.8" r="2.3" fill="#60af7d"/><circle cx="109.4" cy="55.1" r="2.3" fill="#68b46d"/><circle cx="149.5" cy="43.8" r="2.3" fill="#74b871"/><circle cx="133.7" cy="60" r="2.3" fill="#3f98a5"/><circle cx="126.7" cy="58" r="2.3" fill="#4b9b98"/><circle cx="137.8" cy="45.4" r="2.3" fill="#6bb676"/><circle cx="129" cy="49.6" r="2.3" fill="#5ca981"/><circle cx="139.6" cy="56.2" r="2.3" fill="#469e98"/><circle cx="109.9" cy="51.2" r="2.3" fill="#6cb86f"/><circle cx="130.5" cy="55" r="2.3" fill="#489d95"/><circle cx="131" cy="49.3" r="2.3" fill="#63af7a"/><circle cx="106.8" cy="63.5" r="2.3" fill="#67b074"/><circle cx="146.9" cy="44.3" r="2.3" fill="#71b775"/><circle cx="125.9" cy="51.2" r="2.3" fill="#5ca980"/><circle cx="132.8" cy="62.4" r="2.3" fill="#3f8daa"/><circle cx="118.3" cy="55" r="2.3" fill="#61ac7d"/><circle cx="138.9" cy="47.2" r="2.3" fill="#67b478"/><circle cx="135.3" cy="53.3" r="2.3" fill="#54a58d"/><circle cx="112.3" cy="63.5" r="2.3" fill="#53958e"/><circle cx="120.4" cy="61.9" r="2.3" fill="#3d84a9"/><circle cx="114.6" cy="71.1" r="2.3" fill="#2b3ec6"/><circle cx="142.7" cy="51.1" r="2.3" fill="#53aa90"/><circle cx="122.4" cy="51.4" r="2.3" fill="#67b471"/><circle cx="115.1" cy="64.2" r="2.3" fill="#3f82a8"/><circle cx="114.7" cy="52.8" r="2.3" fill="#60ab78"/><circle cx="119.1" cy="49.8" r="2.3" fill="#6cb96b"/><circle cx="105" cy="51.4" r="2.3" fill="#68b46d"/><circle cx="127.8" cy="64" r="2.3" fill="#2e6ac5"/><circle cx="114.3" cy="60.2" r="2.3" fill="#539b8f"/><circle cx="124.5" cy="51" r="2.3" fill="#62ae7a"/><circle cx="128.2" cy="65.3" r="2.3" fill="#2c69bf"/><circle cx="146.3" cy="49.1" r="2.3" fill="#5dad84"/><circle cx="129.4" cy="52.8" r="2.3" fill="#51a18d"/><circle cx="133" cy="58.1" r="2.3" fill="#449ca0"/><circle cx="114.5" cy="67.9" r="2.3" fill="#304fbb"/><circle cx="122.7" cy="53.4" r="2.3" fill="#63af76"/><circle cx="113.4" cy="62.4" r="2.3" fill="#539892"/><circle cx="102.5" cy="60.3" r="2.3" fill="#6cb86e"/><circle cx="115.6" cy="55.1" r="2.3" fill="#5fa981"/><circle cx="147.5" cy="51.3" r="2.3" fill="#57aa8a"/><circle cx="102.8" cy="58.9" r="2.3" fill="#68b36e"/><circle cx="119.7" cy="55.2" r="2.3" fill="#64af78"/><circle cx="135.7" cy="49.2" r="2.3" fill="#6db86c"/><circle cx="119.6" cy="69.7" r="2.3" fill="#3051c3"/><circle cx="128.2" cy="55.2" r="2.3" fill="#4ea096"/><circle cx="143.3" cy="47.1" r="2.3" fill="#5dac83"/><circle cx="128.1" cy="58.8" r="2.3" fill="#479a9b"/><circle cx="117" cy="63.5" r="2.3" fill="#3986ae"/><circle cx="105.4" cy="62.6" r="2.3" fill="#6bb76b"/><circle cx="115" cy="56.9" r="2.3" fill="#5aa385"/><circle cx="103.7" cy="67.4" r="2.3" fill="#5ca07e"/><circle cx="104.5" cy="60.3" r="2.3" fill="#6cb86d"/><circle cx="118.9" cy="56.9" r="2.3" fill="#5ea981"/><circle cx="112.6" cy="56.8" r="2.3" fill="#5fa978"/><circle cx="141.8" cy="45.4" r="2.3" fill="#60ad7e"/><circle cx="134.8" cy="62.2" r="2.3" fill="#3d93a5"/><circle cx="123.5" cy="49.7" r="2.3" fill="#66b273"/><circle cx="124.1" cy="61.8" r="2.3" fill="#3f80aa"/><circle cx="117.9" cy="66" r="2.3" fill="#3970b7"/><circle cx="131.3" cy="63.9" r="2.3" fill="#387cb6"/><circle cx="108.2" cy="56.7" r="2.3" fill="#67b271"/><circle cx="130.1" cy="51.4" r="2.3" fill="#59a787"/><circle cx="121.1" cy="52.7" r="2.3" fill="#66b272"/><circle cx="107.3" cy="58.1" r="2.3" fill="#67b273"/><circle cx="122.3" cy="58" r="2.3" fill="#60ac7a"/><circle cx="127" cy="60.7" r="2.3" fill="#3b80af"/><circle cx="115.5" cy="62.1" r="2.3" fill="#428ba8"/><circle cx="136" cy="60.3" r="2.3" fill="#3b98a8"/><circle cx="129.5" cy="56.5" r="2.3" fill="#489e97"/><circle cx="131.3" cy="60" r="2.3" fill="#45999f"/><circle cx="126.1" cy="47.7" r="2.3" fill="#60ac7d"/><circle cx="135.4" cy="57.1" r="2.3" fill="#3e9aa6"/><circle cx="105.5" cy="69.7" r="2.3" fill="#4c8396"/><circle cx="111.1" cy="55.2" r="2.3" fill="#67b275"/><circle cx="121.3" cy="49.3" r="2.3" fill="#6dba6d"/><circle cx="124.6" cy="66" r="2.3" fill="#3364ba"/><circle cx="136" cy="45.6" r="2.3" fill="#6fb971"/><circle cx="145.4" cy="51.3" r="2.3" fill="#52a88f"/><circle cx="115.3" cy="58" r="2.3" fill="#579f8b"/><circle cx="131.9" cy="53" r="2.3" fill="#55a58f"/><circle cx="125.6" cy="52.6" r="2.3" fill="#5ca981"/><circle cx="113.6" cy="58.7" r="2.3" fill="#5ba480"/><circle cx="111.2" cy="58.5" r="2.3" fill="#67b374"/><circle cx="119.7" cy="51.2" r="2.3" fill="#6cb96c"/><circle cx="125.8" cy="62.1" r="2.3" fill="#3473b6"/><circle cx="131.7" cy="56.8" r="2.3" fill="#479d99"/><circle cx="125" cy="67.2" r="2.3" fill="#3464bc"/><circle cx="115.7" cy="65.8" r="2.3" fill="#3973ad"/><circle cx="117" cy="56.8" r="2.3" fill="#59a287"/><circle cx="127.9" cy="47.2" r="2.3" fill="#5eaa7d"/><circle cx="106.1" cy="67.4" r="2.3" fill="#57958a"/><circle cx="116.7" cy="67.9" r="2.3" fill="#345db8"/><circle cx="110.6" cy="56.4" r="2.3" fill="#63ae72"/><circle cx="123.3" cy="63.7" r="2.3" fill="#376fb1"/><circle cx="108.4" cy="63.8" r="2.3" fill="#5fa57b"/><circle cx="116.7" cy="49.5" r="2.3" fill="#66b26f"/><circle cx="124" cy="55" r="2.3" fill="#63af7a"/><circle cx="108.8" cy="60.3" r="2.3" fill="#69b572"/><circle cx="105.3" cy="65.5" r="2.3" fill="#61a975"/><circle cx="144.7" cy="47" r="2.3" fill="#5fad7e"/><circle cx="125.3" cy="49.2" r="2.3" fill="#5fab7a"/><circle cx="137" cy="58.8" r="2.3" fill="#3a98a7"/><circle cx="135" cy="50.7" r="2.3" fill="#6ab675"/><circle cx="104.4" cy="52.6" r="2.3" fill="#68b46e"/><circle cx="116.7" cy="53.2" r="2.3" fill="#63ae79"/><circle cx="103" cy="61.6" r="2.3" fill="#6dba6c"/><circle cx="121.2" cy="56.2" r="2.3" fill="#66b273"/><circle cx="106.6" cy="52.9" r="2.3" fill="#6db96c"/><circle cx="145.8" cy="53.1" r="2.3" fill="#51a890"/><circle cx="141.4" cy="47.7" r="2.3" fill="#5dad82"/><circle cx="126.9" cy="52.8" r="2.3" fill="#58a588"/><circle cx="147.8" cy="45.7" r="2.3" fill="#71b671"/><circle cx="133.8" cy="52.8" r="2.3" fill="#58a98b"/><circle cx="113.1" cy="52.5" r="2.3" fill="#63ae76"/><circle cx="111.3" cy="51.6" r="2.3" fill="#69b572"/><circle cx="151" cy="43.6" r="2.3" fill="#71b66f"/><circle cx="105" cy="58.4" r="2.3" fill="#67b270"/><circle cx="106.3" cy="56.2" r="2.3" fill="#66b16e"/><circle cx="136.3" cy="55.1" r="2.3" fill="#479e9b"/><circle cx="133.2" cy="56.5" r="2.3" fill="#439a9b"/><circle cx="122.3" cy="66.2" r="2.3" fill="#2e4fc5"/><circle cx="145.9" cy="45.2" r="2.3" fill="#6ab276"/><circle cx="109.7" cy="58.4" r="2.3" fill="#69b473"/><circle cx="107.7" cy="69" r="2.3" fill="#4573a4"/><circle cx="115" cy="48.8" r="2.3" fill="#63ae73"/><circle cx="123.2" cy="67.7" r="2.3" fill="#2e4fc3"/><circle cx="130" cy="58.4" r="2.3" fill="#48a098"/><circle cx="117.1" cy="60.3" r="2.3" fill="#428ca3"/><circle cx="132.6" cy="55" r="2.3" fill="#489d96"/><circle cx="143.2" cy="54.7" r="2.3" fill="#50a890"/><circle cx="130.1" cy="62.1" r="2.3" fill="#3579b6"/><circle cx="108.3" cy="67.1" r="2.3" fill="#4c8298"/><circle cx="128.5" cy="61.8" r="2.3" fill="#306fbc"/><circle cx="122.2" cy="55.2" r="2.3" fill="#69b576"/><circle cx="103" cy="55.1" r="2.3" fill="#67b172"/><circle cx="113.4" cy="65.6" r="2.3" fill="#4176a9"/><circle cx="110.5" cy="59.9" r="2.3" fill="#69b571"/><circle cx="150.5" cy="45.3" r="2.3" fill="#75b971"/><circle cx="106.8" cy="59.9" r="2.3" fill="#65b06f"/><circle cx="125.8" cy="54.6" r="2.3" fill="#5aa787"/><circle cx="112.4" cy="68" r="2.3" fill="#2e48bd"/><circle cx="124.3" cy="58.8" r="2.3" fill="#539c8e"/><circle cx="133.6" cy="49.1" r="2.3" fill="#6eb86e"/><circle cx="113.9" cy="51.6" r="2.3" fill="#65af78"/><circle cx="107" cy="65.6" r="2.3" fill="#5da181"/><circle cx="103.3" cy="65.4" r="2.3" fill="#66af72"/><circle cx="129.1" cy="59.8" r="2.3" fill="#46989f"/><circle cx="126" cy="66.2" r="2.3" fill="#326aba"/><circle cx="147.2" cy="47.3" r="2.3" fill="#6db579"/><circle cx="119.4" cy="53.3" r="2.3" fill="#67b276"/><circle cx="112.8" cy="60.5" r="2.3" fill="#5da67b"/><circle cx="141.6" cy="49" r="2.3" fill="#59ab87"/><circle cx="101.5" cy="61.6" r="2.3" fill="#6bb76e"/><circle cx="134.9" cy="58.4" r="2.3" fill="#3997a6"/><circle cx="150.3" cy="49.2" r="2.3" fill="#6bb379"/><circle cx="141.3" cy="54.9" r="2.3" fill="#4ea590"/><circle cx="104.1" cy="64.4" r="2.3" fill="#69b46e"/><circle cx="110.1" cy="67.5" r="2.3" fill="#3d66ab"/><circle cx="109.1" cy="62.4" r="2.3" fill="#65ae76"/><circle cx="120.1" cy="65.9" r="2.3" fill="#2e52c0"/><circle cx="121.6" cy="61.9" r="2.3" fill="#4385a9"/><circle cx="112.7" cy="49.8" r="2.3" fill="#64af75"/><circle cx="123.4" cy="56.6" r="2.3" fill="#67b278"/><circle cx="110.6" cy="71.3" r="2.3" fill="#2e44c3"/><circle cx="111.1" cy="62.2" r="2.3" fill="#60a977"/><circle cx="107" cy="51" r="2.3" fill="#6cb86d"/><circle cx="116.2" cy="69" r="2.3" fill="#3254be"/><circle cx="140.6" cy="50.7" r="2.3" fill="#55a989"/><circle cx="124.9" cy="56.8" r="2.3" fill="#5ba783"/><circle cx="117.5" cy="58.2" r="2.3" fill="#539b91"/><circle cx="105.1" cy="55.1" r="2.3" fill="#67b36e"/><circle cx="136.3" cy="50.7" r="2.3" fill="#68b477"/><circle cx="133" cy="51.6" r="2.3" fill="#61ae81"/><circle cx="112" cy="66.2" r="2.3" fill="#3f6da8"/></g>
<path d="M202 149.5 L200.6 148.8 L198.8 147.9 L196.6 146.9 L194.2 145.7 L191.7 144.3 L189.1 142.9 L186.6 141.4 L184.2 139.9 L181.9 138.3 L179.7 136.4 L177.4 134.5 L175.1 132.5 L172.8 130.5 L170.6 128.5 L168.4 126.5 L166.3 124.6 L164.2 122.7 L162.1 120.8 L160.1 119 L158.1 117.1 L156.2 115.3 L154.3 113.6 L152.6 112 L151 110.6 L149.6 109.4 L148.3 108.3 L147.2 107.3 L146.1 106.5 L145.1 105.7 L144.1 104.9 L143.1 104.2 L142 103.4 L140.9 102.6 L139.8 101.8 L138.7 101 L137.6 100.3 L136.4 99.6 L135.4 98.8 L134.3 98.2 L133.2 97.5 L132.1 96.9 L131.1 96.2 L130.1 95.6 L129 95 L128 94.5 L127 93.9 L126 93.4 L125 93 L124 92.6 L123 92.2 L122 91.9 L121 91.6 L120 91.4 L119 91.2 L118 91 L117 90.8 L116 90.7 L115 90.5 L114 90.5 L113.1 90.4 L112.1 90.4 L111.1 90.4 L110 90.4 L109 90.4 L107.9 90.5 L106.6 90.6 L105.3 90.7 L104 90.9 L102.8 91 L101.6 91.2 L100.7 91.3 L100 91.4" fill="none" stroke="#555" stroke-width="0.8" />
<g><circle cx="121.6" cy="100.6" r="2.3" fill="#e8431c"/><circle cx="133.1" cy="113.7" r="2.3" fill="#e18a2e"/><circle cx="132.5" cy="102.4" r="2.3" fill="#e94f1c"/><circle cx="126" cy="108" r="2.3" fill="#ed7129"/><circle cx="127.8" cy="111.2" r="2.3" fill="#ef8b2f"/><circle cx="139.6" cy="117" r="2.3" fill="#babf46"/><circle cx="141" cy="109.7" r="2.3" fill="#ea9e30"/><circle cx="141.8" cy="116.7" r="2.3" fill="#b6c646"/><circle cx="133.3" cy="105.9" r="2.3" fill="#ec6323"/><circle cx="136.3" cy="103.8" r="2.3" fill="#e66e25"/><circle cx="118" cy="94.5" r="2.3" fill="#e73618"/><circle cx="115.2" cy="93.6" r="2.3" fill="#e63c19"/><circle cx="129.4" cy="104.2" r="2.3" fill="#ed501f"/><circle cx="146.4" cy="111.8" r="2.3" fill="#cda93e"/><circle cx="145.8" cy="109.9" r="2.3" fill="#e3a235"/><circle cx="120" cy="95.2" r="2.3" fill="#e93a1a"/><circle cx="142.7" cy="107.9" r="2.3" fill="#ee9e2f"/><circle cx="142" cy="111.4" r="2.3" fill="#e5a636"/><circle cx="144.9" cy="114.7" r="2.3" fill="#bdbb45"/><circle cx="117" cy="103.7" r="2.3" fill="#e95b21"/><circle cx="151.6" cy="116.9" r="2.3" fill="#82b65d"/><circle cx="133.1" cy="116.5" r="2.3" fill="#c59a3c"/><circle cx="123.8" cy="96.5" r="2.3" fill="#e83f1c"/><circle cx="141.9" cy="114.9" r="2.3" fill="#bac748"/><circle cx="137.3" cy="106.3" r="2.3" fill="#e78229"/><circle cx="144.4" cy="107.9" r="2.3" fill="#ec9f30"/><circle cx="147.3" cy="112.8" r="2.3" fill="#b5ad46"/><circle cx="133.7" cy="111.8" r="2.3" fill="#ed892a"/><circle cx="127.6" cy="104.1" r="2.3" fill="#eb5320"/><circle cx="123.9" cy="107.9" r="2.3" fill="#e85920"/><circle cx="137.6" cy="117.1" r="2.3" fill="#bbb246"/><circle cx="124.4" cy="95.2" r="2.3" fill="#e8411c"/><circle cx="136.3" cy="114.7" r="2.3" fill="#d09a36"/><circle cx="120.3" cy="101.8" r="2.3" fill="#e74a1b"/><circle cx="126.8" cy="95.2" r="2.3" fill="#e9471f"/><circle cx="115.1" cy="103.9" r="2.3" fill="#e95a21"/><circle cx="143.4" cy="110" r="2.3" fill="#ee9f2f"/><circle cx="131.8" cy="111.1" r="2.3" fill="#ec862d"/><circle cx="141.5" cy="120.1" r="2.3" fill="#b3b846"/><circle cx="150.6" cy="115.1" r="2.3" fill="#82b85f"/><circle cx="128.3" cy="102.2" r="2.3" fill="#ea4c1e"/><circle cx="131.3" cy="106.1" r="2.3" fill="#ed5921"/><circle cx="139.7" cy="109.3" r="2.3" fill="#e99b32"/><circle cx="135.9" cy="122.8" r="2.3" fill="#8ab959"/><circle cx="120.9" cy="96.5" r="2.3" fill="#e73919"/><circle cx="114.3" cy="98.6" r="2.3" fill="#e9441d"/><circle cx="121" cy="93.3" r="2.3" fill="#e9401d"/><circle cx="132.3" cy="118.4" r="2.3" fill="#aea648"/><circle cx="130.5" cy="113" r="2.3" fill="#e8862d"/><circle cx="127" cy="106" r="2.3" fill="#ec5e24"/><circle cx="115.4" cy="96.3" r="2.3" fill="#ea3a1b"/><circle cx="118.9" cy="103.7" r="2.3" fill="#ea5821"/><circle cx="143" cy="106.4" r="2.3" fill="#ed9f33"/><circle cx="134.2" cy="100.9" r="2.3" fill="#e95c21"/><circle cx="130.7" cy="116.5" r="2.3" fill="#d29339"/><circle cx="122.9" cy="106.1" r="2.3" fill="#eb4c1d"/><circle cx="118.5" cy="98.9" r="2.3" fill="#e63717"/><circle cx="138.8" cy="106.3" r="2.3" fill="#e88e2e"/><circle cx="132.1" cy="100.6" r="2.3" fill="#e9521e"/><circle cx="117.4" cy="97.3" r="2.3" fill="#ea361a"/><circle cx="124.7" cy="98.5" r="2.3" fill="#e73719"/><circle cx="148.2" cy="111.6" r="2.3" fill="#b4ac48"/><circle cx="130.5" cy="98.5" r="2.3" fill="#e84e1e"/><circle cx="135.9" cy="100.8" r="2.3" fill="#e76624"/><circle cx="144.4" cy="111.5" r="2.3" fill="#dfa536"/><circle cx="138.6" cy="111.1" r="2.3" fill="#e49732"/><circle cx="125.8" cy="104.2" r="2.3" fill="#e94e1e"/><circle cx="132.4" cy="108.2" r="2.3" fill="#ee7b29"/><circle cx="131" cy="109.9" r="2.3" fill="#ec822c"/><circle cx="128.9" cy="105.8" r="2.3" fill="#eb5820"/><circle cx="144.3" cy="118.9" r="2.3" fill="#b8be48"/><circle cx="138.5" cy="115.4" r="2.3" fill="#c4b442"/><circle cx="146.5" cy="114.7" r="2.3" fill="#b3b347"/><circle cx="149.8" cy="112.8" r="2.3" fill="#91b559"/><circle cx="119.2" cy="96.5" r="2.3" fill="#ea371a"/><circle cx="129.4" cy="96.4" r="2.3" fill="#e84c1f"/><circle cx="134.2" cy="118.8" r="2.3" fill="#9dae4e"/><circle cx="114.3" cy="95.1" r="2.3" fill="#e73d1a"/><circle cx="116" cy="102.6" r="2.3" fill="#e6561e"/><circle cx="131" cy="101.9" r="2.3" fill="#ed501f"/><circle cx="141.6" cy="113.7" r="2.3" fill="#c2bf45"/><circle cx="123.3" cy="104.2" r="2.3" fill="#ea4b1d"/><circle cx="124.3" cy="102.6" r="2.3" fill="#e8431c"/><circle cx="126.8" cy="102.6" r="2.3" fill="#e7451b"/><circle cx="130.2" cy="114.9" r="2.3" fill="#e08830"/><circle cx="126.8" cy="98.3" r="2.3" fill="#e73c1b"/><circle cx="142.2" cy="118.7" r="2.3" fill="#b9c248"/><circle cx="129.9" cy="111.4" r="2.3" fill="#ed882e"/><circle cx="122.1" cy="101.9" r="2.3" fill="#ea481e"/><circle cx="118.8" cy="100.4" r="2.3" fill="#e9461d"/><circle cx="150.8" cy="111.9" r="2.3" fill="#93b55a"/><circle cx="134.1" cy="107.9" r="2.3" fill="#ef8329"/><circle cx="139.5" cy="113.4" r="2.3" fill="#cdaf3e"/><circle cx="127.8" cy="100.7" r="2.3" fill="#e7401a"/><circle cx="134.6" cy="113" r="2.3" fill="#e88d2f"/><circle cx="117.9" cy="106.1" r="2.3" fill="#e95820"/><circle cx="130.1" cy="107.4" r="2.3" fill="#eb6824"/><circle cx="117.5" cy="93.2" r="2.3" fill="#e63918"/><circle cx="126.9" cy="110" r="2.3" fill="#f18a31"/><circle cx="145.8" cy="116.6" r="2.3" fill="#b6ba48"/><circle cx="140.2" cy="115.3" r="2.3" fill="#b9c044"/><circle cx="128" cy="96.9" r="2.3" fill="#ea471f"/><circle cx="116.4" cy="105.6" r="2.3" fill="#ea5b22"/><circle cx="128.4" cy="98.4" r="2.3" fill="#e9451e"/><circle cx="143.6" cy="117" r="2.3" fill="#b9c548"/><circle cx="138.9" cy="120.8" r="2.3" fill="#a0b24b"/><circle cx="138.5" cy="118.6" r="2.3" fill="#b1b64a"/><circle cx="137.3" cy="109.6" r="2.3" fill="#eb8929"/><circle cx="125" cy="105.6" r="2.3" fill="#ea5320"/><circle cx="136.5" cy="118.4" r="2.3" fill="#a5ad49"/><circle cx="127.4" cy="107.5" r="2.3" fill="#ec7128"/><circle cx="116.2" cy="95" r="2.3" fill="#e73718"/><circle cx="138.7" cy="103.8" r="2.3" fill="#e6812c"/><circle cx="153" cy="114.7" r="2.3" fill="#81b860"/><circle cx="135.1" cy="116.4" r="2.3" fill="#c2a03f"/><circle cx="134.2" cy="104.6" r="2.3" fill="#eb6022"/><circle cx="129.8" cy="100.3" r="2.3" fill="#e94d1e"/><circle cx="132" cy="114.9" r="2.3" fill="#db8d32"/><circle cx="115" cy="100.7" r="2.3" fill="#e94e1f"/><circle cx="143.2" cy="112.9" r="2.3" fill="#ceb440"/><circle cx="125.2" cy="100.5" r="2.3" fill="#e8361a"/><circle cx="122.1" cy="95.4" r="2.3" fill="#e93f1c"/><circle cx="137.1" cy="120.2" r="2.3" fill="#95b452"/><circle cx="128.7" cy="109.2" r="2.3" fill="#ee842d"/><circle cx="132" cy="104.2" r="2.3" fill="#eb4d1c"/><circle cx="132.7" cy="109.7" r="2.3" fill="#ee852a"/><circle cx="140" cy="118.7" r="2.3" fill="#b5bb46"/><circle cx="135.5" cy="120.2" r="2.3" fill="#8bb454"/><circle cx="123.5" cy="100.5" r="2.3" fill="#e8391a"/><circle cx="125.3" cy="96.9" r="2.3" fill="#e83d1b"/><circle cx="139.9" cy="107.8" r="2.3" fill="#ea9931"/><circle cx="149.9" cy="117.2" r="2.3" fill="#8bb559"/><circle cx="132.6" cy="120.5" r="2.3" fill="#95b253"/><circle cx="135.1" cy="109.2" r="2.3" fill="#f18929"/><circle cx="115.7" cy="98.2" r="2.3" fill="#e83b1a"/><circle cx="136.2" cy="111.5" r="2.3" fill="#ee8b2c"/><circle cx="152.1" cy="113.6" r="2.3" fill="#82b85f"/><circle cx="148" cy="109.5" r="2.3" fill="#cfa73f"/><circle cx="121" cy="104.6" r="2.3" fill="#e8491b"/><circle cx="140" cy="111.8" r="2.3" fill="#d8a134"/><circle cx="149" cy="114.8" r="2.3" fill="#90b558"/><circle cx="122.6" cy="98.4" r="2.3" fill="#e73c1a"/><circle cx="136.4" cy="107.3" r="2.3" fill="#eb8429"/><circle cx="147.2" cy="116.9" r="2.3" fill="#a8b44b"/><circle cx="120" cy="98.4" r="2.3" fill="#e93c1b"/><circle cx="132.9" cy="98.5" r="2.3" fill="#e75720"/><circle cx="141" cy="105.6" r="2.3" fill="#e7952f"/><circle cx="136.7" cy="113.6" r="2.3" fill="#dc9733"/><circle cx="135.3" cy="102.8" r="2.3" fill="#e86222"/><circle cx="116.9" cy="100.5" r="2.3" fill="#e94a1e"/><circle cx="138.6" cy="108.2" r="2.3" fill="#e68e2c"/><circle cx="137.2" cy="102.6" r="2.3" fill="#e57126"/><circle cx="128.3" cy="112.8" r="2.3" fill="#ec882e"/><circle cx="138.5" cy="121.9" r="2.3" fill="#9ab551"/><circle cx="119" cy="93.4" r="2.3" fill="#e93c1b"/><circle cx="133.8" cy="115.6" r="2.3" fill="#d19839"/><circle cx="140.3" cy="104.5" r="2.3" fill="#e68f2f"/><circle cx="134.8" cy="106.4" r="2.3" fill="#ec7728"/><circle cx="118.4" cy="102.3" r="2.3" fill="#e7531e"/><circle cx="145.5" cy="112.8" r="2.3" fill="#cbaf40"/></g>
<g><circle cx="97" cy="73.4" r="2.3" fill="#599890"/><circle cx="106.9" cy="80.8" r="2.3" fill="#6cb07d"/><circle cx="116.9" cy="97.3" r="2.3" fill="#b2aa4a"/><circle cx="109.9" cy="98.6" r="2.3" fill="#8db45c"/><circle cx="112.5" cy="97.1" r="2.3" fill="#93ac56"/><circle cx="100.8" cy="77.1" r="2.3" fill="#4375b3"/><circle cx="110.3" cy="96.6" r="2.3" fill="#89b160"/><circle cx="112.8" cy="75.1" r="2.3" fill="#5ead73"/><circle cx="115.8" cy="98.5" r="2.3" fill="#b0a94a"/><circle cx="94.1" cy="64" r="2.3" fill="#6dba6b"/><circle cx="104.3" cy="71.9" r="2.3" fill="#61a480"/><circle cx="113.8" cy="91.5" r="2.3" fill="#75b16c"/><circle cx="99.6" cy="74.7" r="2.3" fill="#487dae"/><circle cx="116.6" cy="104" r="2.3" fill="#cc8b3a"/><circle cx="98.6" cy="73.1" r="2.3" fill="#5b9d85"/><circle cx="118" cy="88" r="2.3" fill="#6aaf6c"/><circle cx="109" cy="91.7" r="2.3" fill="#7db964"/><circle cx="108.8" cy="75.5" r="2.3" fill="#62ac79"/><circle cx="109.8" cy="73" r="2.3" fill="#60a878"/><circle cx="115.9" cy="102.8" r="2.3" fill="#be933f"/><circle cx="118.7" cy="100.8" r="2.3" fill="#ba9c45"/><circle cx="116.1" cy="105.8" r="2.3" fill="#c09340"/><circle cx="105.7" cy="88.2" r="2.3" fill="#73b089"/><circle cx="115.7" cy="109.6" r="2.3" fill="#96ae53"/><circle cx="114.5" cy="100.7" r="2.3" fill="#a4ab50"/><circle cx="115.7" cy="91.2" r="2.3" fill="#74b16c"/><circle cx="111.6" cy="109.4" r="2.3" fill="#8ab959"/><circle cx="112.5" cy="104.4" r="2.3" fill="#92b155"/><circle cx="100.9" cy="84" r="2.3" fill="#4a80b4"/><circle cx="118.1" cy="98.7" r="2.3" fill="#aea647"/><circle cx="112.7" cy="100.4" r="2.3" fill="#8fb255"/><circle cx="102.5" cy="71.7" r="2.3" fill="#64aa7e"/><circle cx="105.4" cy="91.5" r="2.3" fill="#79b46a"/><circle cx="101.4" cy="66" r="2.3" fill="#67b071"/><circle cx="113.5" cy="103" r="2.3" fill="#96ae52"/><circle cx="111.2" cy="91.9" r="2.3" fill="#7cb56b"/><circle cx="111.6" cy="106.6" r="2.3" fill="#8db054"/><circle cx="105" cy="76.5" r="2.3" fill="#65a87f"/><circle cx="106.7" cy="97.3" r="2.3" fill="#82b163"/><circle cx="112.2" cy="89.6" r="2.3" fill="#71b374"/><circle cx="115.7" cy="83.8" r="2.3" fill="#6db277"/><circle cx="107.4" cy="73" r="2.3" fill="#63a77e"/><circle cx="98.2" cy="67.7" r="2.3" fill="#6bb76e"/><circle cx="102.7" cy="73" r="2.3" fill="#5e9f87"/><circle cx="106.6" cy="78.7" r="2.3" fill="#69af76"/><circle cx="116.6" cy="93.3" r="2.3" fill="#8baa5b"/><circle cx="99.2" cy="76.4" r="2.3" fill="#3a68bf"/><circle cx="95.1" cy="62.6" r="2.3" fill="#6bb76b"/><circle cx="114.6" cy="107.8" r="2.3" fill="#98ac51"/><circle cx="96.6" cy="65.6" r="2.3" fill="#68b36c"/><circle cx="107.6" cy="83.8" r="2.3" fill="#77b796"/><circle cx="100.3" cy="71.4" r="2.3" fill="#68b36e"/><circle cx="113.6" cy="94.7" r="2.3" fill="#8eab5b"/><circle cx="113.7" cy="106.2" r="2.3" fill="#9daa50"/><circle cx="118.1" cy="91.1" r="2.3" fill="#78ad66"/><circle cx="112" cy="102.7" r="2.3" fill="#8ab858"/><circle cx="104.5" cy="75.1" r="2.3" fill="#5e9f84"/><circle cx="109.2" cy="80.6" r="2.3" fill="#67af7d"/><circle cx="106.3" cy="75.2" r="2.3" fill="#64a881"/><circle cx="109.7" cy="106.2" r="2.3" fill="#8cb256"/><circle cx="104.1" cy="90" r="2.3" fill="#72ad7d"/><circle cx="116.9" cy="100.3" r="2.3" fill="#b2a449"/><circle cx="114.3" cy="111.6" r="2.3" fill="#8cb557"/><circle cx="109.9" cy="77.1" r="2.3" fill="#5dac72"/><circle cx="92.2" cy="66.2" r="2.3" fill="#6ab66a"/><circle cx="91.6" cy="63.8" r="2.3" fill="#6bb869"/><circle cx="114" cy="99.2" r="2.3" fill="#a3ac51"/><circle cx="100.2" cy="82.2" r="2.3" fill="#538ca8"/><circle cx="102.8" cy="69.5" r="2.3" fill="#66ae74"/><circle cx="109.6" cy="88.4" r="2.3" fill="#7ab98b"/><circle cx="108.8" cy="96.9" r="2.3" fill="#86b262"/><circle cx="112.1" cy="107.7" r="2.3" fill="#8cb557"/><circle cx="112.2" cy="93.4" r="2.3" fill="#81b267"/><circle cx="117.7" cy="102.2" r="2.3" fill="#c78d3c"/><circle cx="115" cy="82.3" r="2.3" fill="#6bb179"/><circle cx="113.6" cy="84" r="2.3" fill="#6cb17b"/><circle cx="104.5" cy="82.9" r="2.3" fill="#5e9c90"/><circle cx="105.4" cy="73.6" r="2.3" fill="#5fa281"/><circle cx="114.6" cy="79.2" r="2.3" fill="#5fad72"/><circle cx="96.7" cy="62.2" r="2.3" fill="#69b46c"/><circle cx="98.6" cy="65.9" r="2.3" fill="#6bb572"/><circle cx="106.1" cy="86.3" r="2.3" fill="#74b297"/><circle cx="110.9" cy="111.3" r="2.3" fill="#88b757"/><circle cx="111.5" cy="87.7" r="2.3" fill="#76b785"/><circle cx="116.4" cy="89.7" r="2.3" fill="#69b06c"/><circle cx="113.7" cy="77" r="2.3" fill="#5bac6f"/><circle cx="107.8" cy="98.9" r="2.3" fill="#8ab45f"/><circle cx="112.8" cy="86.6" r="2.3" fill="#6cb378"/><circle cx="115.1" cy="104.1" r="2.3" fill="#b79b46"/><circle cx="110.1" cy="78.4" r="2.3" fill="#5faf74"/><circle cx="101.2" cy="73.2" r="2.3" fill="#5b9c8b"/><circle cx="108.2" cy="85.6" r="2.3" fill="#81c1a1"/><circle cx="98.2" cy="74.9" r="2.3" fill="#4679b2"/><circle cx="94.4" cy="65.7" r="2.3" fill="#6ab66a"/><circle cx="111.4" cy="73.7" r="2.3" fill="#5faa74"/><circle cx="111.6" cy="99.1" r="2.3" fill="#8eb257"/><circle cx="97.6" cy="63.8" r="2.3" fill="#6bb570"/><circle cx="92.3" cy="62.7" r="2.3" fill="#6ebb6c"/><circle cx="101.6" cy="79.2" r="2.3" fill="#61a089"/><circle cx="106.2" cy="82.4" r="2.3" fill="#68aa84"/><circle cx="110.9" cy="108.4" r="2.3" fill="#8bb859"/><circle cx="103.2" cy="80.9" r="2.3" fill="#6bb16e"/><circle cx="97.1" cy="69.7" r="2.3" fill="#6cb86f"/><circle cx="101.2" cy="80.6" r="2.3" fill="#5e9c91"/><circle cx="95.1" cy="69.8" r="2.3" fill="#67b075"/><circle cx="111.2" cy="95.2" r="2.3" fill="#86b263"/><circle cx="99.6" cy="67.4" r="2.3" fill="#69b56d"/><circle cx="118.3" cy="95.4" r="2.3" fill="#a5a74d"/><circle cx="110.5" cy="82.6" r="2.3" fill="#71b489"/><circle cx="112.8" cy="79" r="2.3" fill="#5bac6f"/><circle cx="110.8" cy="75.2" r="2.3" fill="#5fad74"/><circle cx="108.4" cy="89.6" r="2.3" fill="#79b572"/><circle cx="110.5" cy="93.7" r="2.3" fill="#7db365"/><circle cx="114.9" cy="93.5" r="2.3" fill="#89ad60"/><circle cx="106.9" cy="87.5" r="2.3" fill="#7ab893"/><circle cx="106.1" cy="89.9" r="2.3" fill="#78b473"/><circle cx="107.4" cy="76.8" r="2.3" fill="#64ab7a"/><circle cx="116.2" cy="88.3" r="2.3" fill="#66b16e"/><circle cx="111.1" cy="76.8" r="2.3" fill="#5eaf72"/><circle cx="110.3" cy="90.1" r="2.3" fill="#79b572"/><circle cx="101.8" cy="86.1" r="2.3" fill="#4f86ac"/><circle cx="108.4" cy="78.4" r="2.3" fill="#65ae7a"/><circle cx="99" cy="70" r="2.3" fill="#6cb96a"/><circle cx="105.3" cy="95.3" r="2.3" fill="#7db269"/><circle cx="101.8" cy="82.1" r="2.3" fill="#558fa5"/><circle cx="113.8" cy="109.4" r="2.3" fill="#8bb657"/><circle cx="107.8" cy="91.6" r="2.3" fill="#7cb862"/><circle cx="111.9" cy="80.5" r="2.3" fill="#60ae75"/><circle cx="116.3" cy="82.6" r="2.3" fill="#6cb177"/><circle cx="109.2" cy="84.3" r="2.3" fill="#7ebe9c"/><circle cx="113.6" cy="88" r="2.3" fill="#66b06d"/><circle cx="99.8" cy="78.5" r="2.3" fill="#4374b8"/><circle cx="111.3" cy="83.9" r="2.3" fill="#76b88e"/><circle cx="106.1" cy="93.3" r="2.3" fill="#7cb666"/><circle cx="94.1" cy="67.7" r="2.3" fill="#6ab470"/><circle cx="109.3" cy="102.6" r="2.3" fill="#8ab859"/><circle cx="109.6" cy="110" r="2.3" fill="#8ab758"/><circle cx="108.7" cy="82.2" r="2.3" fill="#6eb188"/><circle cx="112.3" cy="82.3" r="2.3" fill="#6cb280"/><circle cx="104.1" cy="86.6" r="2.3" fill="#5f9a9d"/><circle cx="107.7" cy="95.7" r="2.3" fill="#81b567"/><circle cx="105.1" cy="80.7" r="2.3" fill="#6fb66e"/><circle cx="110.9" cy="100.4" r="2.3" fill="#88b556"/><circle cx="110.4" cy="104.4" r="2.3" fill="#8eb759"/><circle cx="108.6" cy="100.5" r="2.3" fill="#8bb75b"/><circle cx="114.9" cy="96.6" r="2.3" fill="#a8aa4f"/><circle cx="113.9" cy="80.9" r="2.3" fill="#62ad75"/><circle cx="109.4" cy="94.9" r="2.3" fill="#7fb464"/><circle cx="114.5" cy="89.6" r="2.3" fill="#66af6c"/><circle cx="110.4" cy="86.5" r="2.3" fill="#7fbf9c"/><circle cx="104.4" cy="78.6" r="2.3" fill="#6fb66f"/><circle cx="112.2" cy="111.8" r="2.3" fill="#87b556"/><circle cx="95.7" cy="63.8" r="2.3" fill="#6bb76b"/><circle cx="95.7" cy="68.2" r="2.3" fill="#69b471"/><circle cx="115.4" cy="94.9" r="2.3" fill="#9daa54"/><circle cx="95.6" cy="71.5" r="2.3" fill="#64ab7b"/><circle cx="103.4" cy="87.7" r="2.3" fill="#649e98"/><circle cx="103.3" cy="76.9" r="2.3" fill="#5f9f84"/><circle cx="101.4" cy="69.2" r="2.3" fill="#6bb671"/><circle cx="102" cy="75.4" r="2.3" fill="#508a9b"/><circle cx="116.6" cy="86.4" r="2.3" fill="#67b06e"/><circle cx="102.8" cy="84.2" r="2.3" fill="#4b81b6"/><circle cx="114.9" cy="85.7" r="2.3" fill="#68b171"/><circle cx="97.7" cy="71.2" r="2.3" fill="#68b46d"/><circle cx="108.1" cy="93.4" r="2.3" fill="#7db965"/><circle cx="117.2" cy="107.5" r="2.3" fill="#b49743"/><circle cx="105.5" cy="84" r="2.3" fill="#64a195"/><circle cx="101.9" cy="68.3" r="2.3" fill="#68b170"/><circle cx="106.7" cy="71.9" r="2.3" fill="#63a77f"/><circle cx="115.8" cy="80.7" r="2.3" fill="#64ac74"/></g>
<path d="M166.3 124.6 L165.1 123.5 L163.4 121.9 L161.4 120.1 L159.2 118 L156.9 116 L154.7 113.9 L152.7 112.1 L151 110.6 L149.6 109.4 L148.3 108.3 L147.2 107.3 L146.1 106.5 L145.1 105.7 L144.1 104.9 L143.1 104.2 L142 103.4 L140.9 102.6 L139.8 101.8 L138.7 101 L137.6 100.3 L136.4 99.6 L135.4 98.8 L134.3 98.2 L133.2 97.5 L132.1 96.9 L131.1 96.2 L130.1 95.6 L129 95 L128 94.5 L127 93.9 L126 93.4 L125 93 L123.9 92.6 L122.8 92.2 L121.6 91.9 L120.5 91.6 L119.4 91.4 L118.4 91.1 L117.6 91 L117 90.8" fill="none" stroke="#555" stroke-width="0.8" />
<path d="M95 86.6 L95.8 86.5 L96.8 86.3 L98 86.1 L99.4 85.9 L100.8 85.7 L102.3 85.4 L103.7 85.2 L105 85 L106.2 84.8 L107.5 84.6 L108.7 84.4 L109.9 84.1 L111.1 83.9 L112.4 83.7 L113.7 83.5 L115 83.3 L116.5 83.1 L118.1 82.9 L119.9 82.7 L121.6 82.4 L123.3 82.2 L124.8 82.1 L126.1 81.9 L127 81.8" fill="none" stroke="#6880c0" stroke-width="0.7" stroke-opacity="0.7"/>
<text x="11.9" y="73.6" font-size="14.8" font-family='"Liberation Sans", sans-serif' >0.04</text>
<text x="13" y="98.2" font-size="14.8" font-family='"Liberation Sans", sans-serif' >Δ<tspan font-style="italic" font-size="10.4" dy="2.8">k</tspan><tspan dy="-2.8">t</tspan></text>
<text x="10" y="117" font-size="14.8" font-family='"Liberation Sans", sans-serif' >−0.04</text>
<text x="37.7" y="138.4" font-size="14.8" font-family='"Liberation Sans", sans-serif' >−3</text>
<text x="99.5" y="171.8" font-size="14.8" font-family='"Liberation Sans", sans-serif' ><tspan font-style="italic">k</tspan><tspan font-style="italic" font-size="10.4" dy="2.8">x</tspan></text>
<text x="187.5" y="193.4" font-size="14.8" font-family='"Liberation Sans", sans-serif' >3</text>
<text x="209.5" y="184.8" font-size="14.8" font-family='"Liberation Sans", sans-serif' >−3</text>
<text x="253.1" y="138.3" font-size="14.8" font-family='"Liberation Sans", sans-serif' ><tspan font-style="italic">k</tspan><tspan font-style="italic" font-size="10.4" dy="2.8">y</tspan></text>
<text x="268.5" y="92.1" font-size="14.8" font-family='"Liberation Sans", sans-serif' >3</text>
<rect x="3.3" y="180.6" width="68.2" height="21.2" fill="#fff" stroke="#808080" stroke-width="1"/>
<text x="5.2" y="196.9" font-size="15.6" font-family='"Liberation Serif", serif' ><tspan font-style="italic">k</tspan><tspan font-style="italic" font-size="11.5" dy="3">B</tspan><tspan dy="-3">T=10</tspan><tspan font-size="11.5" dy="-5.4">−4</tspan><tspan dy="5.4">t</tspan></text>
<line x1="43.3" y1="289" x2="52" y2="342.6" stroke="#5a5a5a" stroke-width="0.8"/>
<line x1="52" y1="342.6" x2="202.9" y2="402.8" stroke="#5a5a5a" stroke-width="0.8"/>
<line x1="202.9" y1="402.8" x2="267.4" y2="303.7" stroke="#5a5a5a" stroke-width="0.8"/>
<line x1="124.2" y1="371.4" x2="124.8" y2="369.2" stroke="#5a5a5a" stroke-width="0.6"/>
<line x1="57" y1="344.6" x2="57.6" y2="342.4" stroke="#5a5a5a" stroke-width="0.6"/>
<line x1="198.2" y1="401" x2="198.8" y2="398.8" stroke="#5a5a5a" stroke-width="0.6"/>
<line x1="236" y1="351.9" x2="234" y2="351.1" stroke="#5a5a5a" stroke-width="0.6"/>
<line x1="205.5" y1="398.8" x2="203.5" y2="398" stroke="#5a5a5a" stroke-width="0.6"/>
<line x1="265" y1="307.4" x2="263" y2="306.6" stroke="#5a5a5a" stroke-width="0.6"/>
<line x1="44" y1="293.5" x2="46" y2="293.2" stroke="#5a5a5a" stroke-width="0.6"/>
<line x1="51.3" y1="338.2" x2="53.3" y2="337.9" stroke="#5a5a5a" stroke-width="0.6"/>
<path d="M138 241.7 L138.8 241.9 L139.9 242.1 L141.2 242.4 L142.7 242.7 L144.2 243 L145.9 243.2 L147.6 243.3 L149.3 243.2 L151.1 243 L153 242.6 L155 242.2 L157.1 241.7 L159.2 241.1 L161.3 240.6 L163.3 240 L165.3 239.5 L167.2 239 L169.1 238.5 L170.9 238 L172.7 237.4 L174.5 236.9 L176.3 236.4 L178.2 235.9 L180 235.5 L181.9 235.1 L183.8 234.6 L185.8 234.2 L187.7 233.8 L189.6 233.4 L191.5 233.2 L193.3 233 L195 233 L196.5 233.1 L197.9 233.2 L199.2 233.4 L200.5 233.8 L201.7 234.2 L203.1 234.8 L204.6 235.5 L206.3 236.5 L208.2 237.7 L210.3 239.1 L212.5 240.7 L214.8 242.5 L217.2 244.3 L219.6 246.2 L221.9 248.1 L224.2 249.9 L226.5 251.8 L228.8 253.8 L231.1 255.8 L233.4 257.9 L235.7 259.9 L237.9 261.9 L240 263.6 L242 265.2 L243.8 266.5 L245.6 267.7 L247.2 268.7 L248.7 269.6 L250.2 270.4 L251.7 271.2 L253.2 272 L254.8 272.8 L256.5 273.6 L258.3 274.5 L260.1 275.3 L262 276.1 L263.7 276.8 L265.2 277.4 L266.5 278 L267.5 278.4 L267.4 279 L267.3 279.6 L267.2 280.4 L267.1 281.2 L266.8 282.3 L266.4 283.6 L265.8 285.1 L265 286.8 L263.9 288.9 L262.5 291.2 L260.8 293.9 L259.1 296.7 L257.3 299.6 L255.5 302.6 L253.7 305.6 L252.2 308.5 L250.8 311.4 L249.3 314.5 L248 317.6 L246.6 320.7 L245.3 323.8 L244.1 326.8 L243 329.5 L242 332 L241.2 334.2 L240.6 336.3 L240.1 338.2 L239.7 339.9 L239.3 341.5 L238.7 343.1 L238 344.6 L236.9 346 L235.5 347.4 L233.9 348.6 L232.1 349.7 L230.1 350.8 L228.1 351.8 L226.1 352.8 L224.2 353.9 L222.4 355 L220.7 356.2 L219 357.5 L217.4 358.8 L215.8 360.2 L214.2 361.5 L212.7 362.7 L211.3 363.9 L210 365 L208.7 366 L207.5 367 L206.3 368 L205.2 368.9 L204.2 369.7 L203.3 370.4 L202.6 371 L202 371.5 L200.6 370.8 L198.8 369.9 L196.6 368.9 L194.2 367.7 L191.7 366.3 L189.1 364.9 L186.6 363.4 L184.2 361.9 L181.9 360.3 L179.7 358.4 L177.4 356.5 L175.1 354.5 L172.8 352.5 L170.6 350.5 L168.4 348.5 L166.3 346.6 L164.2 344.7 L162.1 342.8 L160.1 341 L158.1 339.1 L156.2 337.3 L154.3 335.6 L152.6 334 L151 332.6 L149.6 331.4 L148.3 330.3 L147.2 329.3 L146.1 328.5 L145.1 327.7 L144.1 326.9 L143.1 326.2 L142 325.4 L140.9 324.6 L139.8 323.8 L138.7 323 L137.6 322.3 L136.4 321.6 L135.4 320.8 L134.3 320.2 L133.2 319.5 L132.1 318.9 L131.1 318.2 L130.1 317.6 L129 317 L128 316.5 L127 315.9 L126 315.4 L125 315 L124 314.6 L123 314.2 L122 313.9 L121 313.6 L120 313.4 L119 313.2 L118 313 L117 312.8 L116 312.7 L115 312.5 L114 312.5 L113.1 312.4 L112.1 312.4 L111.1 312.4 L110 312.4 L109 312.4 L108 312.4 L107 312.5 L106.1 312.6 L105.1 312.7 L104 312.8 L102.9 313 L101.5 313.2 L100 313.4 L98.2 313.7 L96.1 314.1 L93.9 314.5 L91.5 315 L89.1 315.5 L86.8 315.9 L84.7 316.4 L82.8 316.7 L81.1 317 L79.6 317.2 L78.3 317.5 L77 317.7 L75.7 317.8 L74.5 318 L73.2 318.2 L71.9 318.3 L70.5 318.4 L69.1 318.6 L67.6 318.7 L66.2 318.8 L64.8 318.9 L63.4 319 L62.1 319 L60.9 318.9 L59.7 318.7 L58.5 318.5 L57.4 318.2 L56.3 317.8 L55.3 317.5 L54.4 317.2 L53.7 316.9 L53.1 316.7 L53.7 316.2 L54.4 315.6 L55.3 314.8 L56.3 313.9 L57.4 313 L58.5 312.2 L59.7 311.4 L60.9 310.7 L62.1 310.1 L63.4 309.6 L64.8 309.2 L66.2 308.7 L67.6 308.4 L69.1 308 L70.5 307.7 L71.9 307.4 L73.3 307.2 L74.7 307 L76.1 306.9 L77.5 306.8 L78.9 306.7 L80.2 306.6 L81.5 306.5 L82.8 306.3 L84 306.1 L85.2 305.9 L86.3 305.6 L87.4 305.4 L88.5 305.1 L89.5 304.8 L90.5 304.5 L91.5 304.1 L92.4 303.7 L93.2 303.4 L94 303.1 L94.7 302.7 L95.5 302.3 L96.3 301.7 L97.1 301.1 L98.1 300.3 L99.2 299.4 L100.3 298.3 L101.5 297.2 L102.8 295.9 L104.1 294.6 L105.4 293.2 L106.7 291.6 L108 290 L109.3 288.3 L110.6 286.4 L112 284.4 L113.3 282.4 L114.7 280.3 L116 278.1 L117.4 275.8 L118.7 273.5 L120 271.1 L121.3 268.4 L122.6 265.7 L123.9 262.9 L125.2 260.2 L126.4 257.6 L127.7 255.1 L128.9 253 L130.2 251.1 L131.5 249.3 L132.8 247.6 L134.1 246.1 L135.3 244.7 L136.4 243.5 L137.3 242.5 L138 241.7Z" fill="url(#bg)" stroke="none" stroke-width="0.8" />
<g clip-path="url(#bc)"><rect x="40" y="222" width="240" height="160" fill="url(#bb)"/><circle cx="212" cy="298" r="42" fill="url(#bw)"/></g>
<path d="M138 241.7 L138.8 241.9 L139.9 242.1 L141.2 242.4 L142.7 242.7 L144.2 243 L145.9 243.2 L147.6 243.3 L149.3 243.2 L151.1 243 L153 242.6 L155 242.2 L157.1 241.7 L159.2 241.1 L161.3 240.6 L163.3 240 L165.3 239.5 L167.2 239 L169.1 238.5 L170.9 238 L172.7 237.4 L174.5 236.9 L176.3 236.4 L178.2 235.9 L180 235.5 L181.9 235.1 L183.8 234.6 L185.8 234.2 L187.7 233.8 L189.6 233.4 L191.5 233.2 L193.3 233 L195 233 L196.5 233.1 L197.9 233.2 L199.2 233.4 L200.5 233.8 L201.7 234.2 L203.1 234.8 L204.6 235.5 L206.3 236.5 L208.2 237.7 L210.3 239.1 L212.5 240.7 L214.8 242.5 L217.2 244.3 L219.6 246.2 L221.9 248.1 L224.2 249.9 L226.5 251.8 L228.8 253.8 L231.1 255.8 L233.4 257.9 L235.7 259.9 L237.9 261.9 L240 263.6 L242 265.2 L243.8 266.5 L245.6 267.7 L247.2 268.7 L248.7 269.6 L250.2 270.4 L251.7 271.2 L253.2 272 L254.8 272.8 L256.5 273.6 L258.3 274.5 L260.1 275.3 L262 276.1 L263.7 276.8 L265.2 277.4 L266.5 278 L267.5 278.4 L267.4 279 L267.3 279.6 L267.2 280.4 L267.1 281.2 L266.8 282.3 L266.4 283.6 L265.8 285.1 L265 286.8 L263.9 288.9 L262.5 291.2 L260.8 293.9 L259.1 296.7 L257.3 299.6 L255.5 302.6 L253.7 305.6 L252.2 308.5 L250.8 311.4 L249.3 314.5 L248 317.6 L246.6 320.7 L245.3 323.8 L244.1 326.8 L243 329.5 L242 332 L241.2 334.2 L240.6 336.3 L240.1 338.2 L239.7 339.9 L239.3 341.5 L238.7 343.1 L238 344.6 L236.9 346 L235.5 347.4 L233.9 348.6 L232.1 349.7 L230.1 350.8 L228.1 351.8 L226.1 352.8 L224.2 353.9 L222.4 355 L220.7 356.2 L219 357.5 L217.4 358.8 L215.8 360.2 L214.2 361.5 L212.7 362.7 L211.3 363.9 L210 365 L208.7 366 L207.5 367 L206.3 368 L205.2 368.9 L204.2 369.7 L203.3 370.4 L202.6 371 L202 371.5 L200.6 370.8 L198.8 369.9 L196.6 368.9 L194.2 367.7 L191.7 366.3 L189.1 364.9 L186.6 363.4 L184.2 361.9 L181.9 360.3 L179.7 358.4 L177.4 356.5 L175.1 354.5 L172.8 352.5 L170.6 350.5 L168.4 348.5 L166.3 346.6 L164.2 344.7 L162.1 342.8 L160.1 341 L158.1 339.1 L156.2 337.3 L154.3 335.6 L152.6 334 L151 332.6 L149.6 331.4 L148.3 330.3 L147.2 329.3 L146.1 328.5 L145.1 327.7 L144.1 326.9 L143.1 326.2 L142 325.4 L140.9 324.6 L139.8 323.8 L138.7 323 L137.6 322.3 L136.4 321.6 L135.4 320.8 L134.3 320.2 L133.2 319.5 L132.1 318.9 L131.1 318.2 L130.1 317.6 L129 317 L128 316.5 L127 315.9 L126 315.4 L125 315 L124 314.6 L123 314.2 L122 313.9 L121 313.6 L120 313.4 L119 313.2 L118 313 L117 312.8 L116 312.7 L115 312.5 L114 312.5 L113.1 312.4 L112.1 312.4 L111.1 312.4 L110 312.4 L109 312.4 L108 312.4 L107 312.5 L106.1 312.6 L105.1 312.7 L104 312.8 L102.9 313 L101.5 313.2 L100 313.4 L98.2 313.7 L96.1 314.1 L93.9 314.5 L91.5 315 L89.1 315.5 L86.8 315.9 L84.7 316.4 L82.8 316.7 L81.1 317 L79.6 317.2 L78.3 317.5 L77 317.7 L75.7 317.8 L74.5 318 L73.2 318.2 L71.9 318.3 L70.5 318.4 L69.1 318.6 L67.6 318.7 L66.2 318.8 L64.8 318.9 L63.4 319 L62.1 319 L60.9 318.9 L59.7 318.7 L58.5 318.5 L57.4 318.2 L56.3 317.8 L55.3 317.5 L54.4 317.2 L53.7 316.9 L53.1 316.7 L53.7 316.2 L54.4 315.6 L55.3 314.8 L56.3 313.9 L57.4 313 L58.5 312.2 L59.7 311.4 L60.9 310.7 L62.1 310.1 L63.4 309.6 L64.8 309.2 L66.2 308.7 L67.6 308.4 L69.1 308 L70.5 307.7 L71.9 307.4 L73.3 307.2 L74.7 307 L76.1 306.9 L77.5 306.8 L78.9 306.7 L80.2 306.6 L81.5 306.5 L82.8 306.3 L84 306.1 L85.2 305.9 L86.3 305.6 L87.4 305.4 L88.5 305.1 L89.5 304.8 L90.5 304.5 L91.5 304.1 L92.4 303.7 L93.2 303.4 L94 303.1 L94.7 302.7 L95.5 302.3 L96.3 301.7 L97.1 301.1 L98.1 300.3 L99.2 299.4 L100.3 298.3 L101.5 297.2 L102.8 295.9 L104.1 294.6 L105.4 293.2 L106.7 291.6 L108 290 L109.3 288.3 L110.6 286.4 L112 284.4 L113.3 282.4 L114.7 280.3 L116 278.1 L117.4 275.8 L118.7 273.5 L120 271.1 L121.3 268.4 L122.6 265.7 L123.9 262.9 L125.2 260.2 L126.4 257.6 L127.7 255.1 L128.9 253 L130.2 251.1 L131.5 249.3 L132.8 247.6 L134.1 246.1 L135.3 244.7 L136.4 243.5 L137.3 242.5 L138 241.7Z" fill="none" stroke="#555" stroke-width="0.8" />
<g><circle cx="114.4" cy="287.2" r="4.6" fill="#2a30c4"/><circle cx="115.2" cy="286.6" r="4.6" fill="#2a36c4"/><circle cx="116" cy="286" r="4.5" fill="#2b3bc4"/><circle cx="116.8" cy="285.4" r="4.5" fill="#2b41c4"/><circle cx="117.6" cy="284.8" r="4.5" fill="#2b47c4"/><circle cx="118.4" cy="284.2" r="4.5" fill="#2b4dc4"/><circle cx="119.2" cy="283.6" r="4.4" fill="#2c52c4"/><circle cx="120" cy="283" r="4.4" fill="#2c58c4"/><circle cx="120.8" cy="282.4" r="4.4" fill="#2e61c1"/><circle cx="121.7" cy="281.8" r="4.4" fill="#3069bf"/><circle cx="122.5" cy="281.2" r="4.4" fill="#3171bc"/><circle cx="123.3" cy="280.7" r="4.4" fill="#337aba"/><circle cx="124.1" cy="280.1" r="4.4" fill="#3582b7"/><circle cx="124.9" cy="279.5" r="4.4" fill="#378bb5"/><circle cx="125.7" cy="278.9" r="4.4" fill="#3993b2"/><circle cx="126.5" cy="278.3" r="4.4" fill="#3a9aaf"/><circle cx="127.3" cy="277.7" r="4.4" fill="#3d9dab"/><circle cx="128.1" cy="277" r="4.4" fill="#409fa8"/><circle cx="128.9" cy="276.4" r="4.4" fill="#43a1a4"/><circle cx="129.6" cy="275.7" r="4.4" fill="#45a3a0"/><circle cx="130.4" cy="275.1" r="4.4" fill="#48a69c"/><circle cx="131.2" cy="274.4" r="4.4" fill="#4ba898"/><circle cx="132" cy="273.8" r="4.5" fill="#4eaa94"/><circle cx="132.7" cy="273.2" r="4.5" fill="#50ad90"/><circle cx="133.5" cy="272.6" r="4.5" fill="#53af8c"/><circle cx="134.4" cy="272" r="4.5" fill="#56b188"/><circle cx="135.2" cy="271.4" r="4.5" fill="#59b385"/><circle cx="136" cy="270.9" r="4.5" fill="#5bb681"/><circle cx="136.9" cy="270.4" r="4.5" fill="#5eb77e"/><circle cx="137.8" cy="270" r="4.5" fill="#61b87c"/><circle cx="138.8" cy="269.6" r="4.5" fill="#64b979"/><circle cx="139.7" cy="269.3" r="4.5" fill="#66ba77"/><circle cx="140.7" cy="269" r="4.5" fill="#69bb75"/><circle cx="141.6" cy="268.7" r="4.6" fill="#6cbc72"/><circle cx="142.6" cy="268.4" r="4.6" fill="#6ebd70"/><circle cx="143.6" cy="268.2" r="4.6" fill="#71be6e"/><circle cx="144.5" cy="267.9" r="4.6" fill="#74bf6c"/><circle cx="145.5" cy="267.6" r="4.6" fill="#77c069"/><circle cx="146.5" cy="267.4" r="4.6" fill="#78c068"/><circle cx="147.4" cy="267.1" r="4.6" fill="#79c068"/><circle cx="148.4" cy="266.9" r="4.6" fill="#79c068"/><circle cx="149.4" cy="266.6" r="4.6" fill="#79c068"/><circle cx="150.4" cy="266.4" r="4.6" fill="#7ac068"/><circle cx="151.4" cy="266.2" r="4.6" fill="#7ac068"/><circle cx="152.3" cy="266" r="4.6" fill="#7ab87b"/><circle cx="153.3" cy="265.8" r="4.6" fill="#7aaf91"/><circle cx="154.3" cy="265.5" r="4.6" fill="#7aa7a0"/><circle cx="155.3" cy="265.4" r="4.6" fill="#7aa5a1"/><circle cx="156.3" cy="265.2" r="4.6" fill="#7ba3a2"/><circle cx="157.2" cy="264.9" r="4.6" fill="#7ba1a2"/><circle cx="158.2" cy="264.5" r="4.6" fill="#7c9fa3"/><circle cx="159.1" cy="264.1" r="4.6" fill="#7c9ca4"/><circle cx="159.9" cy="263.6" r="4.6" fill="#7e9ba4"/><circle cx="160.8" cy="263.1" r="4.6" fill="#7f9aa4"/><circle cx="161.6" cy="262.5" r="4.6" fill="#8199a4"/><circle cx="162.5" cy="262" r="4.7" fill="#8398a4"/><circle cx="163.3" cy="261.4" r="4.7" fill="#8598a4"/><circle cx="164.1" cy="260.8" r="4.7" fill="#8797a4"/><circle cx="165" cy="260.3" r="4.7" fill="#8996a4"/><circle cx="165.8" cy="259.7" r="4.7" fill="#8a95a4"/><circle cx="166.6" cy="259.1" r="4.7" fill="#8c94a4"/><circle cx="167.4" cy="258.5" r="4.8" fill="#8e93a4"/><circle cx="168.2" cy="257.9" r="4.8" fill="#9092a4"/><circle cx="169" cy="257.3" r="4.8" fill="#9291a4"/><circle cx="169.8" cy="256.7" r="4.8" fill="#9490a4"/><circle cx="170.6" cy="256.1" r="4.8" fill="#958fa3"/><circle cx="171.4" cy="255.5" r="4.9" fill="#968da2"/><circle cx="172.2" cy="254.8" r="4.9" fill="#988ba1"/><circle cx="173" cy="254.2" r="4.9" fill="#998a9f"/><circle cx="173.7" cy="253.5" r="4.9" fill="#9b889e"/><circle cx="174.5" cy="252.9" r="5" fill="#9c869d"/><circle cx="175.2" cy="252.2" r="5" fill="#9d859c"/><circle cx="176" cy="251.6" r="5" fill="#9f839b"/><circle cx="176.7" cy="250.9" r="5.1" fill="#a08199"/><circle cx="177.5" cy="250.2" r="5.1" fill="#a18098"/><circle cx="178.2" cy="249.5" r="5.1" fill="#a37e97"/><circle cx="179" cy="248.9" r="5.2" fill="#a47c96"/><circle cx="179.7" cy="248.2" r="5.2" fill="#a67b94"/><circle cx="180.5" cy="247.6" r="5.2" fill="#a77892"/><circle cx="181.2" cy="246.9" r="5.3" fill="#a87490"/><circle cx="182" cy="246.2" r="5.3" fill="#a9718d"/><circle cx="182.7" cy="245.5" r="5.3" fill="#aa6d8a"/><circle cx="183.4" cy="244.8" r="5.3" fill="#ab6a88"/><circle cx="184.2" cy="244.1" r="5.4" fill="#ac6785"/><circle cx="184.9" cy="243.5" r="5.4" fill="#ad6382"/><circle cx="185.7" cy="242.8" r="5.4" fill="#ae6080"/><circle cx="186.5" cy="242.2" r="5.5" fill="#af5c7d"/><circle cx="187.3" cy="241.6" r="5.5" fill="#b0597b"/><circle cx="188.2" cy="241.1" r="5.5" fill="#b05678"/><circle cx="189" cy="240.6" r="5.6" fill="#b05476"/><circle cx="189.9" cy="240.1" r="5.6" fill="#b15274"/><circle cx="190.8" cy="239.6" r="5.6" fill="#b15072"/><circle cx="191.7" cy="239.1" r="5.7" fill="#b14e70"/><circle cx="192.6" cy="238.7" r="5.7" fill="#b14b6d"/><circle cx="193.5" cy="238.4" r="5.7" fill="#b1496b"/><circle cx="194.5" cy="238.2" r="5.8" fill="#b24769"/><circle cx="195.5" cy="238" r="5.8" fill="#b24567"/><circle cx="196.5" cy="238" r="5.8" fill="#b34767"/><circle cx="197.5" cy="238" r="5.8" fill="#b44c69"/><circle cx="198.5" cy="238" r="5.8" fill="#b6526b"/><circle cx="199.5" cy="238.2" r="5.7" fill="#b7576e"/><circle cx="200.5" cy="238.3" r="5.7" fill="#b95c70"/><circle cx="201.5" cy="238.5" r="5.7" fill="#ba6272"/><circle cx="202.5" cy="238.8" r="5.7" fill="#bc6774"/><circle cx="203.4" cy="239.1" r="5.7" fill="#be6c76"/><circle cx="204.3" cy="239.5" r="5.6" fill="#bf7278"/><circle cx="205.2" cy="239.9" r="5.6" fill="#c1777a"/><circle cx="206" cy="240.5" r="5.6" fill="#c27c7c"/><circle cx="206.7" cy="241.2" r="5.5" fill="#c6827f"/><circle cx="207.4" cy="242" r="5.5" fill="#c98881"/><circle cx="207.9" cy="242.9" r="5.4" fill="#cd8d84"/><circle cx="208.4" cy="243.8" r="5.4" fill="#d09387"/><circle cx="208.8" cy="244.7" r="5.3" fill="#d49989"/><circle cx="209.1" cy="245.6" r="5.3" fill="#d89e8c"/><circle cx="209.5" cy="246.6" r="5.2" fill="#dba48f"/><circle cx="209.8" cy="247.5" r="5.1" fill="#dfa991"/><circle cx="210.1" cy="248.5" r="5.1" fill="#e2af94"/><circle cx="210.3" cy="249.5" r="5" fill="#e6b596"/><circle cx="210.6" cy="250.4" r="5" fill="#e8b998"/><circle cx="210.8" cy="251.4" r="5" fill="#e9bb99"/><circle cx="211" cy="252.4" r="5" fill="#eabe9a"/><circle cx="211.1" cy="253.4" r="4.9" fill="#ebc09b"/><circle cx="211.2" cy="254.4" r="4.9" fill="#ecc39c"/><circle cx="211.3" cy="255.4" r="4.9" fill="#ecc59c"/><circle cx="211.4" cy="256.4" r="4.9" fill="#edc79d"/><circle cx="211.4" cy="257.4" r="4.9" fill="#eeca9e"/><circle cx="211.6" cy="258.4" r="4.8" fill="#efcc9f"/><circle cx="211.7" cy="259.4" r="4.8" fill="#f0cfa0"/><circle cx="211.9" cy="260.4" r="4.8" fill="#f0d0a0"/><circle cx="212" cy="261.4" r="4.8" fill="#efd2a0"/><circle cx="212.2" cy="262.3" r="4.8" fill="#eed3a0"/><circle cx="212.4" cy="263.3" r="4.8" fill="#edd4a0"/><circle cx="212.6" cy="264.3" r="4.7" fill="#ecd5a0"/><circle cx="212.8" cy="265.3" r="4.7" fill="#ebd7a0"/><circle cx="213" cy="266.3" r="4.7" fill="#ead8a0"/><circle cx="213.2" cy="267.3" r="4.7" fill="#e9d9a0"/><circle cx="213.3" cy="268.3" r="4.7" fill="#e8daa0"/><circle cx="213.5" cy="269.2" r="4.7" fill="#e7dca0"/><circle cx="213.7" cy="270.2" r="4.7" fill="#e6dda0"/><circle cx="213.9" cy="271.2" r="4.7" fill="#e5dea0"/><circle cx="214.2" cy="272.2" r="4.6" fill="#e4dfa0"/><circle cx="214.4" cy="273.2" r="4.6" fill="#e3e0a0"/><circle cx="214.6" cy="274.2" r="4.6" fill="#e2e2a0"/><circle cx="214.8" cy="275.1" r="4.6" fill="#e1e3a0"/><circle cx="215" cy="276.1" r="4.6" fill="#e0e4a0"/><circle cx="215.3" cy="277.1" r="4.6" fill="#dde39f"/><circle cx="215.5" cy="278.1" r="4.6" fill="#dae29e"/><circle cx="215.8" cy="279" r="4.6" fill="#d6e19d"/><circle cx="216.2" cy="280" r="4.6" fill="#d3e09c"/><circle cx="216.5" cy="280.9" r="4.6" fill="#d0df9b"/><circle cx="216.9" cy="281.9" r="4.6" fill="#cdde9a"/><circle cx="217.2" cy="282.8" r="4.6" fill="#cadd99"/><circle cx="217.6" cy="283.7" r="4.6" fill="#c3da95"/><circle cx="218" cy="284.7" r="4.7" fill="#add288"/><circle cx="218.4" cy="285.5" r="4.7" fill="#96c97c"/><circle cx="218.8" cy="286.5" r="4.8" fill="#80c16f"/><circle cx="219.1" cy="287.4" r="4.8" fill="#73bc68"/><circle cx="219.5" cy="288.4" r="4.8" fill="#72bb6a"/><circle cx="219.8" cy="289.3" r="4.8" fill="#70ba6b"/><circle cx="220.1" cy="290.3" r="4.9" fill="#6fba6c"/><circle cx="220.4" cy="291.3" r="4.9" fill="#6db96d"/><circle cx="220.7" cy="292.2" r="4.9" fill="#6bb86e"/><circle cx="221" cy="293.2" r="4.9" fill="#6ab86f"/><circle cx="221.3" cy="294.1" r="4.9" fill="#68b770"/><circle cx="221.6" cy="295.1" r="4.9" fill="#67b671"/><circle cx="221.9" cy="296" r="5" fill="#65b572"/><circle cx="222.2" cy="297" r="5" fill="#64b573"/><circle cx="222.5" cy="298" r="5" fill="#62b474"/><circle cx="222.8" cy="298.9" r="5" fill="#5fb278"/><circle cx="223.1" cy="299.9" r="5" fill="#5baf7d"/><circle cx="223.5" cy="300.8" r="5" fill="#58ad81"/><circle cx="223.8" cy="301.7" r="5" fill="#55ab85"/><circle cx="224.2" cy="302.7" r="5" fill="#51a88a"/><circle cx="224.5" cy="303.6" r="5" fill="#4ea68e"/><circle cx="224.9" cy="304.6" r="5" fill="#4ba493"/><circle cx="225.2" cy="305.5" r="5" fill="#47a197"/><circle cx="225.5" cy="306.5" r="5" fill="#449f9b"/><circle cx="225.9" cy="307.4" r="5" fill="#409ca0"/><circle cx="226.2" cy="308.4" r="5" fill="#3d9aa4"/><circle cx="226.5" cy="309.3" r="5" fill="#3a98a8"/><circle cx="226.9" cy="310.3" r="5" fill="#3993aa"/><circle cx="227.2" cy="311.2" r="5.1" fill="#388fad"/><circle cx="227.5" cy="312.2" r="5.1" fill="#378baf"/><circle cx="227.8" cy="313.1" r="5.2" fill="#3687b1"/><circle cx="228.1" cy="314.1" r="5.2" fill="#3682b3"/><circle cx="228.4" cy="315" r="5.2" fill="#357eb6"/><circle cx="228.8" cy="316" r="5.3" fill="#347ab8"/><circle cx="229.1" cy="316.9" r="5.3" fill="#3376ba"/><circle cx="229.4" cy="317.9" r="5.3" fill="#3271bc"/><circle cx="229.7" cy="318.8" r="5.4" fill="#316dbf"/><circle cx="230" cy="319.8" r="5.4" fill="#3069c1"/><circle cx="230.3" cy="320.7" r="5.5" fill="#2f65c3"/><circle cx="230.7" cy="321.7" r="5.5" fill="#2f61c5"/><circle cx="231" cy="322.6" r="5.5" fill="#2e5cc8"/><circle cx="231.3" cy="323.6" r="5.6" fill="#2d58ca"/><circle cx="231.6" cy="324.5" r="5.6" fill="#2c54cc"/><circle cx="231.9" cy="325.5" r="5.7" fill="#2d4fca"/><circle cx="232.3" cy="326.4" r="5.9" fill="#2d4bc8"/><circle cx="232.6" cy="327.4" r="6" fill="#2e47c6"/><circle cx="232.9" cy="328.3" r="6.2" fill="#2f42c4"/><circle cx="233.3" cy="329.3" r="6.3" fill="#303ec2"/><circle cx="233.6" cy="330.2" r="6.4" fill="#303ac0"/><circle cx="234" cy="331.2" r="6.6" fill="#3135be"/><circle cx="234.3" cy="332.1" r="6.7" fill="#3231bc"/><circle cx="234.7" cy="333.1" r="6.9" fill="#322cba"/><circle cx="235" cy="334" r="7" fill="#3328b8"/></g>
<path d="M222.7 326 L223.2 325.7 L223.8 325.2 L224.5 324.7 L225.4 324.1 L226.3 323.5 L227.2 323 L228.1 322.4 L229 322 L229.9 321.6 L230.8 321.2 L231.8 320.8 L232.8 320.4 L233.8 320.1 L234.8 320 L235.7 319.9 L236.5 320 L237.3 320.3 L238 320.7 L238.6 321.3 L239.3 322 L239.9 322.8 L240.4 323.6 L241 324.3 L241.5 325 L242 325.6 L242.5 326.3 L243 326.9 L243.5 327.5 L243.9 328.2 L244.2 328.9 L244.5 329.7 L244.6 330.5 L244.6 331.4 L244.6 332.4 L244.5 333.5 L244.3 334.6 L244 335.7 L243.7 336.8 L243.4 337.9 L243 339 L242.6 340.1 L242.1 341.1 L241.6 342.2 L241 343.3 L240.4 344.4 L239.8 345.3 L239.1 346.2 L238.5 347 L237.9 347.7 L237.2 348.4 L236.6 348.9 L235.9 349.5 L235.2 349.9 L234.5 350.2 L233.8 350.4 L233 350.5 L232.2 350.4 L231.4 350.1 L230.6 349.7 L229.7 349.2 L228.8 348.6 L227.9 348 L227 347.5 L226 347 L224.9 346.6 L223.7 346.2 L222.4 345.9 L221.1 345.5 L219.8 345.1 L218.7 344.7 L217.7 344.1 L217 343.5 L216.5 342.7 L216.2 341.9 L216 340.9 L216 339.9 L216.1 338.9 L216.2 337.9 L216.3 336.9 L216.5 336 L216.7 335.2 L217 334.3 L217.4 333.6 L217.8 332.8 L218.2 332 L218.7 331.3 L219.1 330.6 L219.5 330 L219.9 329.4 L220.4 328.8 L220.8 328.2 L221.3 327.6 L221.7 327.1 L222.1 326.7 L222.5 326.3 L222.7 326Z" fill="url(#cg222)" stroke="none" stroke-width="0.8" />
<g><circle cx="232" cy="340" r="7" fill="#4420a8"/><circle cx="231" cy="339.9" r="6.9" fill="#4122ab"/><circle cx="230" cy="339.9" r="6.7" fill="#3e25ae"/><circle cx="229" cy="339.8" r="6.6" fill="#3b27b1"/><circle cx="228" cy="339.8" r="6.4" fill="#3929b3"/><circle cx="227" cy="339.7" r="6.3" fill="#362bb6"/><circle cx="226" cy="339.6" r="6.1" fill="#332eb9"/><circle cx="225" cy="339.5" r="6" fill="#3030bc"/><circle cx="224" cy="339.4" r="5.9" fill="#3033be"/><circle cx="223" cy="339.2" r="5.8" fill="#2f36c0"/><circle cx="222" cy="339.1" r="5.7" fill="#2f39c1"/><circle cx="221" cy="339" r="5.6" fill="#2e3cc3"/><circle cx="220" cy="338.8" r="5.6" fill="#2e3fc5"/><circle cx="219" cy="338.6" r="5.5" fill="#2d43c7"/><circle cx="218" cy="338.4" r="5.4" fill="#2d46c8"/><circle cx="217" cy="338.2" r="5.3" fill="#2c49ca"/><circle cx="216.1" cy="338" r="5.2" fill="#2c4ccc"/><circle cx="215.1" cy="337.8" r="5.1" fill="#2e55c8"/><circle cx="214.1" cy="337.5" r="5.1" fill="#305ec5"/><circle cx="213.2" cy="337.1" r="5" fill="#3267c1"/><circle cx="212.2" cy="336.8" r="5" fill="#3370bd"/><circle cx="211.3" cy="336.4" r="4.9" fill="#3579b9"/><circle cx="210.4" cy="336" r="4.9" fill="#3782b6"/><circle cx="209.4" cy="335.7" r="4.8" fill="#398cb2"/><circle cx="208.5" cy="335.3" r="4.8" fill="#3d93ac"/><circle cx="207.6" cy="334.9" r="4.8" fill="#4298a4"/><circle cx="206.7" cy="334.5" r="4.7" fill="#479c9c"/><circle cx="205.7" cy="334.1" r="4.7" fill="#4da194"/><circle cx="204.8" cy="333.8" r="4.7" fill="#52a68c"/><circle cx="203.9" cy="333.4" r="4.6" fill="#57ab84"/><circle cx="203" cy="333" r="4.6" fill="#5cb07c"/><circle cx="202" cy="332.6" r="4.6" fill="#63b375"/><circle cx="201.1" cy="332.3" r="4.6" fill="#69b56f"/><circle cx="200.1" cy="332" r="4.6" fill="#6fb869"/><circle cx="199.1" cy="331.8" r="4.6" fill="#70b868"/><circle cx="198.1" cy="331.6" r="4.6" fill="#71b968"/><circle cx="197.2" cy="331.4" r="4.6" fill="#71b968"/><circle cx="196.2" cy="331.1" r="4.6" fill="#72ba68"/><circle cx="195.2" cy="330.9" r="4.6" fill="#72ba68"/><circle cx="194.2" cy="330.7" r="4.6" fill="#72ba68"/><circle cx="193.2" cy="330.5" r="4.6" fill="#73bb68"/><circle cx="192.2" cy="330.3" r="4.6" fill="#73bb68"/><circle cx="191.2" cy="330.2" r="4.6" fill="#74bc68"/><circle cx="190.3" cy="330" r="4.6" fill="#74bc68"/><circle cx="189.3" cy="329.9" r="4.6" fill="#74bc68"/><circle cx="188.3" cy="329.8" r="4.6" fill="#74bc68"/><circle cx="187.3" cy="329.8" r="4.6" fill="#74bc68"/><circle cx="186.3" cy="329.7" r="4.6" fill="#74bc68"/><circle cx="185.2" cy="329.7" r="4.6" fill="#74bc68"/><circle cx="184.2" cy="329.7" r="4.6" fill="#74bc68"/><circle cx="183.2" cy="329.6" r="4.6" fill="#74bc68"/><circle cx="182.2" cy="329.6" r="4.6" fill="#74bc68"/><circle cx="181.2" cy="329.6" r="4.6" fill="#74bc68"/><circle cx="180.2" cy="329.6" r="4.6" fill="#85c374"/><circle cx="179.2" cy="329.6" r="4.6" fill="#9acb84"/><circle cx="178.2" cy="329.6" r="4.6" fill="#afd495"/><circle cx="177.2" cy="329.6" r="4.6" fill="#b5d699"/><circle cx="176.2" cy="329.7" r="4.6" fill="#b7d799"/><circle cx="175.2" cy="329.8" r="4.6" fill="#b8d89a"/><circle cx="174.2" cy="329.9" r="4.6" fill="#bad89b"/><circle cx="173.2" cy="330" r="4.6" fill="#bbd99b"/><circle cx="172.2" cy="330.1" r="4.6" fill="#bcd99c"/><circle cx="171.2" cy="330.1" r="4.6" fill="#beda9d"/><circle cx="170.2" cy="330.2" r="4.6" fill="#bfda9e"/><circle cx="169.2" cy="330.2" r="4.6" fill="#c1db9e"/><circle cx="168.2" cy="330.1" r="4.6" fill="#c2db9f"/><circle cx="167.2" cy="330" r="4.6" fill="#c4dca0"/><circle cx="166.2" cy="329.9" r="4.6" fill="#c6dca0"/><circle cx="165.2" cy="329.7" r="4.6" fill="#c8dca0"/><circle cx="164.2" cy="329.6" r="4.6" fill="#c9db9f"/><circle cx="163.2" cy="329.4" r="4.6" fill="#cbdb9f"/><circle cx="162.2" cy="329.2" r="4.6" fill="#cddb9f"/><circle cx="161.2" cy="329" r="4.6" fill="#cfda9e"/><circle cx="160.3" cy="328.8" r="4.6" fill="#d1da9e"/><circle cx="159.3" cy="328.6" r="4.7" fill="#d3da9e"/><circle cx="158.3" cy="328.4" r="4.7" fill="#d5da9e"/><circle cx="157.3" cy="328.1" r="4.7" fill="#d7d99d"/><circle cx="156.4" cy="327.9" r="4.7" fill="#d9d99d"/><circle cx="155.4" cy="327.6" r="4.7" fill="#dbd99d"/><circle cx="154.4" cy="327.3" r="4.7" fill="#ddd99d"/><circle cx="153.5" cy="327" r="4.7" fill="#dfd89c"/><circle cx="152.5" cy="326.7" r="4.7" fill="#e1d89c"/><circle cx="151.6" cy="326.3" r="4.7" fill="#e2d79c"/><circle cx="150.7" cy="326" r="4.7" fill="#e3d69d"/><circle cx="149.7" cy="325.5" r="4.7" fill="#e3d49e"/><circle cx="148.8" cy="325.1" r="4.7" fill="#e4d29e"/><circle cx="148" cy="324.6" r="4.7" fill="#e4d19f"/><circle cx="147.1" cy="324.1" r="4.7" fill="#e5cf9f"/><circle cx="146.2" cy="323.6" r="4.8" fill="#e5cea0"/><circle cx="145.4" cy="323" r="4.8" fill="#e6cca1"/><circle cx="144.5" cy="322.5" r="4.8" fill="#e6caa1"/><circle cx="143.7" cy="322" r="4.8" fill="#e7c9a2"/><circle cx="142.8" cy="321.5" r="4.8" fill="#e7c7a3"/><circle cx="141.9" cy="321" r="4.8" fill="#e7c6a3"/><circle cx="141" cy="320.5" r="4.8" fill="#e8c4a4"/><circle cx="140.1" cy="320.1" r="4.8" fill="#e6c1a4"/><circle cx="139.2" cy="319.7" r="4.8" fill="#e5bfa4"/><circle cx="138.3" cy="319.3" r="4.9" fill="#e3bca4"/><circle cx="137.4" cy="318.9" r="4.9" fill="#e1b9a4"/><circle cx="136.4" cy="318.5" r="4.9" fill="#e0b7a4"/><circle cx="135.5" cy="318.1" r="4.9" fill="#deb4a4"/><circle cx="134.6" cy="317.8" r="4.9" fill="#dcb1a4"/><circle cx="133.6" cy="317.4" r="4.9" fill="#dbaea4"/><circle cx="132.7" cy="317" r="5" fill="#d9aca4"/><circle cx="131.8" cy="316.7" r="5" fill="#d7a9a4"/><circle cx="130.8" cy="316.3" r="5" fill="#d5a6a4"/><circle cx="129.9" cy="316" r="5" fill="#d4a4a4"/><circle cx="128.9" cy="315.6" r="5" fill="#d1a1a2"/><circle cx="128" cy="315.3" r="5" fill="#cf9ea1"/><circle cx="127" cy="314.9" r="5" fill="#cd9c9f"/><circle cx="126.1" cy="314.6" r="5" fill="#cb999e"/><circle cx="125.1" cy="314.3" r="5" fill="#c8969c"/><circle cx="124.2" cy="314" r="5" fill="#c6949b"/><circle cx="123.2" cy="313.6" r="5" fill="#c49199"/><circle cx="122.3" cy="313.3" r="5" fill="#c28e98"/><circle cx="121.3" cy="313" r="5" fill="#bf8c96"/><circle cx="120.4" cy="312.6" r="5" fill="#bd8995"/><circle cx="119.5" cy="312.3" r="5" fill="#ba8894"/><circle cx="118.5" cy="311.9" r="4.9" fill="#b88995"/><circle cx="117.6" cy="311.5" r="4.9" fill="#b58995"/><circle cx="116.7" cy="311.1" r="4.8" fill="#b38a96"/><circle cx="115.8" cy="310.7" r="4.8" fill="#b08a96"/><circle cx="114.8" cy="310.3" r="4.7" fill="#ad8b97"/><circle cx="113.9" cy="309.9" r="4.7" fill="#ab8b97"/><circle cx="113" cy="309.5" r="4.6" fill="#a88c98"/></g>
<g><circle cx="93.3" cy="300" r="2.3" fill="#2a2ac8"/><circle cx="94.4" cy="300.1" r="2.3" fill="#2a2ac8"/><circle cx="95.5" cy="300.3" r="2.3" fill="#2a2ac8"/><circle cx="96.6" cy="300.4" r="2.4" fill="#2a2ac8"/><circle cx="97.7" cy="300.6" r="2.4" fill="#2a2ac8"/><circle cx="98.8" cy="300.7" r="2.4" fill="#2a2cc8"/><circle cx="99.8" cy="300.9" r="2.4" fill="#2a2fc8"/><circle cx="100.9" cy="301.1" r="2.4" fill="#2a31c8"/><circle cx="102" cy="301.3" r="2.4" fill="#2a34c8"/></g>
<g><circle cx="101" cy="298" r="2.6" fill="#4a1cac"/><circle cx="101.7" cy="297.4" r="2.9" fill="#471dae"/><circle cx="102.4" cy="296.7" r="3.3" fill="#441daf"/><circle cx="103" cy="296.1" r="3.6" fill="#411eb1"/><circle cx="103.7" cy="295.5" r="3.9" fill="#3e1eb3"/><circle cx="104.4" cy="294.9" r="4.2" fill="#3b1fb4"/><circle cx="105.1" cy="294.3" r="4.6" fill="#381fb6"/><circle cx="105.8" cy="293.7" r="4.9" fill="#3520b8"/><circle cx="106.5" cy="293.1" r="5.1" fill="#3320b9"/><circle cx="107.3" cy="292.5" r="5.2" fill="#3121ba"/><circle cx="108" cy="291.9" r="5.3" fill="#3021bb"/><circle cx="108.7" cy="291.4" r="5.5" fill="#2e21bd"/><circle cx="109.5" cy="290.9" r="5.6" fill="#2d21be"/><circle cx="110.3" cy="290.4" r="5.7" fill="#2b22bf"/><circle cx="111.1" cy="290" r="5.8" fill="#2a22c0"/><circle cx="111.9" cy="289.6" r="5.7" fill="#2a23c1"/><circle cx="112.8" cy="289.3" r="5.7" fill="#2a24c1"/><circle cx="113.7" cy="289" r="5.6" fill="#2a25c2"/><circle cx="114.6" cy="288.7" r="5.5" fill="#2a26c3"/><circle cx="115.4" cy="288.4" r="5.5" fill="#2a27c3"/><circle cx="116.3" cy="288.1" r="5.4" fill="#2a28c4"/><circle cx="117.1" cy="287.7" r="5.3" fill="#2a2ac4"/><circle cx="118" cy="287.3" r="5.2" fill="#2a2cc5"/><circle cx="118.8" cy="286.8" r="5.1" fill="#2a2fc6"/><circle cx="119.6" cy="286.4" r="5" fill="#2a31c6"/><circle cx="120.4" cy="285.9" r="4.8" fill="#2a33c7"/><circle cx="121.2" cy="285.5" r="4.7" fill="#2a36c7"/><circle cx="122" cy="285" r="4.6" fill="#2a38c8"/></g>
<g><circle cx="104" cy="301" r="3" fill="#40b0b0"/><circle cx="104.9" cy="301.2" r="3.1" fill="#49b3a5"/><circle cx="105.8" cy="301.4" r="3.3" fill="#51b59a"/><circle cx="106.7" cy="301.6" r="3.4" fill="#5ab88f"/><circle cx="107.6" cy="301.9" r="3.5" fill="#62bb85"/><circle cx="108.5" cy="302.2" r="3.5" fill="#69bd7d"/><circle cx="109.4" cy="302.5" r="3.5" fill="#6ebd79"/><circle cx="110.3" cy="302.8" r="3.4" fill="#72be75"/><circle cx="111.1" cy="303.2" r="3.3" fill="#77bf70"/><circle cx="112" cy="303.5" r="3.2" fill="#7cc06c"/></g>
<g><circle cx="108" cy="305" r="3.4" fill="#7cb080"/><circle cx="108.4" cy="305.9" r="3.4" fill="#7fae84"/><circle cx="108.8" cy="306.8" r="3.3" fill="#81ac87"/><circle cx="109.3" cy="307.7" r="3.3" fill="#84ab8b"/><circle cx="109.8" cy="308.6" r="3.2" fill="#87a98e"/><circle cx="110.3" cy="309.4" r="3.2" fill="#8ca491"/><circle cx="111" cy="310.2" r="3.1" fill="#929e92"/><circle cx="111.8" cy="310.8" r="3.1" fill="#999793"/><circle cx="112.5" cy="311.5" r="3" fill="#a09094"/></g>
<path d="M202 371.5 L200.6 370.8 L198.8 369.9 L196.6 368.9 L194.2 367.7 L191.7 366.3 L189.1 364.9 L186.6 363.4 L184.2 361.9 L181.9 360.3 L179.7 358.4 L177.4 356.5 L175.1 354.5 L172.8 352.5 L170.6 350.5 L168.4 348.5 L166.3 346.6 L164.2 344.7 L162.1 342.8 L160.1 341 L158.1 339.1 L156.2 337.3 L154.3 335.6 L152.6 334 L151 332.6 L149.6 331.4 L148.3 330.3 L147.2 329.3 L146.1 328.5 L145.1 327.7 L144.1 326.9 L143.1 326.2 L142 325.4 L140.9 324.6 L139.8 323.8 L138.7 323 L137.6 322.3 L136.4 321.6 L135.4 320.8 L134.3 320.2 L133.2 319.5 L132.1 318.9 L131.1 318.2 L130.1 317.6 L129 317 L128 316.5 L127 315.9 L126 315.4 L125 315 L124 314.6 L123 314.2 L122 313.9 L121 313.6 L120 313.4 L119 313.2 L118 313 L117 312.8 L116 312.7 L115 312.5 L114 312.5 L113.1 312.4 L112.1 312.4 L111.1 312.4 L110 312.4 L109 312.4 L107.9 312.5 L106.6 312.6 L105.3 312.7 L104 312.9 L102.8 313 L101.6 313.2 L100.7 313.3 L100 313.4" fill="none" stroke="#555" stroke-width="0.8" />
<g clip-path="url(#bfe)">
<g><circle cx="108" cy="314.8" r="2.8" fill="#e8301a"/><circle cx="108.8" cy="314.5" r="3" fill="#e8301a"/><circle cx="109.5" cy="314.2" r="3.1" fill="#e8301a"/><circle cx="110.3" cy="313.9" r="3.3" fill="#e8301a"/><circle cx="111" cy="313.7" r="3.4" fill="#e8301a"/><circle cx="111.8" cy="313.5" r="3.6" fill="#e8301a"/><circle cx="112.6" cy="313.4" r="3.6" fill="#e8301a"/><circle cx="113.4" cy="313.4" r="3.7" fill="#e8301a"/><circle cx="114.3" cy="313.3" r="3.7" fill="#e8301a"/><circle cx="115.1" cy="313.4" r="3.7" fill="#e8301a"/><circle cx="115.9" cy="313.4" r="3.8" fill="#e8301a"/><circle cx="116.7" cy="313.5" r="3.8" fill="#e8301a"/><circle cx="117.5" cy="313.7" r="3.8" fill="#e8301a"/><circle cx="118.3" cy="313.9" r="3.8" fill="#e8311a"/><circle cx="119" cy="314.1" r="3.8" fill="#e9311a"/><circle cx="119.8" cy="314.3" r="3.8" fill="#e9321a"/><circle cx="120.6" cy="314.6" r="3.8" fill="#e9321a"/><circle cx="121.3" cy="314.9" r="3.8" fill="#e9331a"/><circle cx="122.1" cy="315.2" r="3.8" fill="#ea331a"/><circle cx="122.8" cy="315.5" r="3.8" fill="#ea341a"/><circle cx="123.5" cy="315.9" r="3.8" fill="#ea351a"/><circle cx="124.2" cy="316.3" r="3.8" fill="#ea361a"/><circle cx="124.9" cy="316.7" r="3.8" fill="#eb371b"/><circle cx="125.6" cy="317.2" r="3.8" fill="#eb381b"/><circle cx="126.3" cy="317.7" r="3.8" fill="#eb391b"/><circle cx="126.9" cy="318.2" r="3.8" fill="#eb3a1b"/><circle cx="127.5" cy="318.7" r="3.8" fill="#ec3a1c"/><circle cx="128.1" cy="319.2" r="3.8" fill="#ec3b1c"/><circle cx="128.7" cy="319.7" r="3.8" fill="#ec3d1c"/><circle cx="129.3" cy="320.3" r="3.7" fill="#ec3f1d"/><circle cx="129.9" cy="320.9" r="3.7" fill="#ed411d"/><circle cx="130.4" cy="321.5" r="3.6" fill="#ed431e"/><circle cx="130.9" cy="322.1" r="3.6" fill="#ed451e"/><circle cx="131.5" cy="322.7" r="3.5" fill="#ed461f"/><circle cx="132" cy="323.4" r="3.5" fill="#ee481f"/><circle cx="132.5" cy="324" r="3.4" fill="#ee4a20"/><circle cx="133.1" cy="324.6" r="3.4" fill="#ee4c20"/><circle cx="133.6" cy="325.1" r="3.3" fill="#ee5021"/><circle cx="134.2" cy="325.7" r="3.2" fill="#ef5423"/><circle cx="134.8" cy="326.3" r="3.1" fill="#ef5824"/><circle cx="135.3" cy="326.9" r="3" fill="#ef5c25"/><circle cx="135.9" cy="327.4" r="2.9" fill="#f06027"/><circle cx="136.5" cy="328" r="2.8" fill="#f06428"/></g>
</g>
<path d="M151 332.6 L150.3 332 L149.4 331.3 L148.3 330.4 L147 329.4 L145.8 328.3 L144.4 327.3 L143.2 326.3 L142 325.4 L140.9 324.6 L139.8 323.8 L138.7 323 L137.6 322.3 L136.4 321.6 L135.4 320.8 L134.3 320.2 L133.2 319.5 L132.1 318.9 L131.1 318.2 L130.1 317.6 L129 317 L128 316.5 L127 315.9 L126 315.4 L125 315 L124 314.6 L123 314.2 L122 313.9 L121 313.6 L120 313.4 L119 313.2 L118 313 L117 312.8 L116 312.7 L115 312.5 L114 312.5 L113.1 312.4 L112.1 312.4 L111.1 312.4 L110 312.4 L109 312.4 L107.9 312.5 L106.6 312.6 L105.3 312.7 L104 312.9 L102.8 313 L101.6 313.2 L100.7 313.3 L100 313.4" fill="none" stroke="#555" stroke-width="0.8" />
<path d="M95 308.6 L95.8 308.5 L96.8 308.3 L98 308.1 L99.4 307.9 L100.8 307.7 L102.3 307.4 L103.7 307.2 L105 307 L106.2 306.8 L107.5 306.6 L108.7 306.4 L109.9 306.1 L111.1 305.9 L112.4 305.7 L113.7 305.5 L115 305.3 L116.5 305.1 L118.1 304.9 L119.9 304.7 L121.6 304.4 L123.3 304.2 L124.8 304.1 L126.1 303.9 L127 303.8" fill="none" stroke="#6880c0" stroke-width="0.7" stroke-opacity="0.7"/>
<text x="10.8" y="289.8" font-size="14.8" font-family='"Liberation Sans", sans-serif' >0.27</text>
<text x="13" y="315.9" font-size="14.8" font-family='"Liberation Sans", sans-serif' >Δ<tspan font-style="italic" font-size="10.4" dy="2.8">k</tspan><tspan dy="-2.8">t</tspan></text>
<text x="10.2" y="344" font-size="14.8" font-family='"Liberation Sans", sans-serif' >−0.27</text>
<text x="37.7" y="360.4" font-size="14.8" font-family='"Liberation Sans", sans-serif' >−3</text>
<text x="99.5" y="393.8" font-size="14.8" font-family='"Liberation Sans", sans-serif' ><tspan font-style="italic">k</tspan><tspan font-style="italic" font-size="10.4" dy="2.8">x</tspan></text>
<text x="187.5" y="415.4" font-size="14.8" font-family='"Liberation Sans", sans-serif' >3</text>
<text x="209.5" y="406.8" font-size="14.8" font-family='"Liberation Sans", sans-serif' >−3</text>
<text x="253.1" y="360.3" font-size="14.8" font-family='"Liberation Sans", sans-serif' ><tspan font-style="italic">k</tspan><tspan font-style="italic" font-size="10.4" dy="2.8">y</tspan></text>
<text x="268.5" y="314.1" font-size="14.8" font-family='"Liberation Sans", sans-serif' >3</text>
<rect x="3.3" y="403" width="68.2" height="21.2" fill="#fff" stroke="#808080" stroke-width="1"/>
<text x="5.2" y="419.3" font-size="15.6" font-family='"Liberation Serif", serif' ><tspan font-style="italic">k</tspan><tspan font-style="italic" font-size="11.5" dy="3">B</tspan><tspan dy="-3">T=10</tspan><tspan font-size="11.5" dy="-5.4">−4</tspan><tspan dy="5.4">t</tspan></text>
<line x1="43.3" y1="512" x2="52" y2="565.6" stroke="#5a5a5a" stroke-width="0.8"/>
<line x1="52" y1="565.6" x2="202.9" y2="625.8" stroke="#5a5a5a" stroke-width="0.8"/>
<line x1="202.9" y1="625.8" x2="267.4" y2="526.7" stroke="#5a5a5a" stroke-width="0.8"/>
<line x1="124.2" y1="594.4" x2="124.8" y2="592.2" stroke="#5a5a5a" stroke-width="0.6"/>
<line x1="57" y1="567.6" x2="57.6" y2="565.4" stroke="#5a5a5a" stroke-width="0.6"/>
<line x1="198.2" y1="624" x2="198.8" y2="621.8" stroke="#5a5a5a" stroke-width="0.6"/>
<line x1="236" y1="574.9" x2="234" y2="574.1" stroke="#5a5a5a" stroke-width="0.6"/>
<line x1="205.5" y1="621.8" x2="203.5" y2="621" stroke="#5a5a5a" stroke-width="0.6"/>
<line x1="265" y1="530.4" x2="263" y2="529.6" stroke="#5a5a5a" stroke-width="0.6"/>
<line x1="44" y1="516.5" x2="46" y2="516.2" stroke="#5a5a5a" stroke-width="0.6"/>
<line x1="51.3" y1="561.2" x2="53.3" y2="560.9" stroke="#5a5a5a" stroke-width="0.6"/>
<path d="M138 464.7 L138.8 464.9 L139.9 465.1 L141.2 465.4 L142.7 465.7 L144.2 466 L145.9 466.2 L147.6 466.3 L149.3 466.2 L151.1 466 L153 465.6 L155 465.2 L157.1 464.7 L159.2 464.1 L161.3 463.6 L163.3 463 L165.3 462.5 L167.2 462 L169.1 461.5 L170.9 461 L172.7 460.4 L174.5 459.9 L176.3 459.4 L178.2 458.9 L180 458.5 L181.9 458.1 L183.8 457.6 L185.8 457.2 L187.7 456.8 L189.6 456.4 L191.5 456.2 L193.3 456 L195 456 L196.5 456.1 L197.9 456.2 L199.2 456.4 L200.5 456.8 L201.7 457.2 L203.1 457.8 L204.6 458.5 L206.3 459.5 L208.2 460.7 L210.3 462.1 L212.5 463.7 L214.8 465.5 L217.2 467.3 L219.6 469.2 L221.9 471.1 L224.2 472.9 L226.5 474.8 L228.8 476.8 L231.1 478.8 L233.4 480.9 L235.7 482.9 L237.9 484.9 L240 486.6 L242 488.2 L243.8 489.5 L245.6 490.7 L247.2 491.7 L248.7 492.6 L250.2 493.4 L251.7 494.2 L253.2 495 L254.8 495.8 L256.5 496.6 L258.3 497.5 L260.1 498.3 L262 499.1 L263.7 499.8 L265.2 500.4 L266.5 501 L267.5 501.4 L267.4 502 L267.3 502.6 L267.2 503.4 L267.1 504.2 L266.8 505.3 L266.4 506.6 L265.8 508.1 L265 509.8 L263.9 511.9 L262.5 514.2 L260.8 516.9 L259.1 519.7 L257.3 522.6 L255.5 525.6 L253.7 528.6 L252.2 531.5 L250.8 534.4 L249.3 537.5 L248 540.6 L246.6 543.7 L245.3 546.8 L244.1 549.8 L243 552.5 L242 555 L241.2 557.2 L240.6 559.3 L240.1 561.2 L239.7 562.9 L239.3 564.5 L238.7 566.1 L238 567.6 L236.9 569 L235.5 570.4 L233.9 571.6 L232.1 572.7 L230.1 573.8 L228.1 574.8 L226.1 575.8 L224.2 576.9 L222.4 578 L220.7 579.2 L219 580.5 L217.4 581.8 L215.8 583.2 L214.2 584.5 L212.7 585.7 L211.3 586.9 L210 588 L208.7 589 L207.5 590 L206.3 591 L205.2 591.9 L204.2 592.7 L203.3 593.4 L202.6 594 L202 594.5 L200.6 593.8 L198.8 592.9 L196.6 591.9 L194.2 590.7 L191.7 589.3 L189.1 587.9 L186.6 586.4 L184.2 584.9 L181.9 583.3 L179.7 581.4 L177.4 579.5 L175.1 577.5 L172.8 575.5 L170.6 573.5 L168.4 571.5 L166.3 569.6 L164.2 567.7 L162.1 565.8 L160.1 564 L158.1 562.1 L156.2 560.3 L154.3 558.6 L152.6 557 L151 555.6 L149.6 554.4 L148.3 553.3 L147.2 552.3 L146.1 551.5 L145.1 550.7 L144.1 549.9 L143.1 549.2 L142 548.4 L140.9 547.6 L139.8 546.8 L138.7 546 L137.6 545.3 L136.4 544.6 L135.4 543.8 L134.3 543.2 L133.2 542.5 L132.1 541.9 L131.1 541.2 L130.1 540.6 L129 540 L128 539.5 L127 538.9 L126 538.4 L125 538 L124 537.6 L123 537.2 L122 536.9 L121 536.6 L120 536.4 L119 536.2 L118 536 L117 535.8 L116 535.7 L115 535.5 L114 535.5 L113.1 535.4 L112.1 535.4 L111.1 535.4 L110 535.4 L109 535.4 L108 535.4 L107 535.5 L106.1 535.6 L105.1 535.7 L104 535.8 L102.9 536 L101.5 536.2 L100 536.4 L98.2 536.7 L96.1 537.1 L93.9 537.5 L91.5 538 L89.1 538.5 L86.8 538.9 L84.7 539.4 L82.8 539.7 L81.1 540 L79.6 540.2 L78.3 540.5 L77 540.7 L75.7 540.8 L74.5 541 L73.2 541.2 L71.9 541.3 L70.5 541.4 L69.1 541.6 L67.6 541.7 L66.2 541.8 L64.8 541.9 L63.4 542 L62.1 542 L60.9 541.9 L59.7 541.7 L58.5 541.5 L57.4 541.2 L56.3 540.8 L55.3 540.5 L54.4 540.2 L53.7 539.9 L53.1 539.7 L53.7 539.2 L54.4 538.6 L55.3 537.8 L56.3 536.9 L57.4 536 L58.5 535.2 L59.7 534.4 L60.9 533.7 L62.1 533.1 L63.4 532.6 L64.8 532.2 L66.2 531.7 L67.6 531.4 L69.1 531 L70.5 530.7 L71.9 530.4 L73.3 530.2 L74.7 530 L76.1 529.9 L77.5 529.8 L78.9 529.7 L80.2 529.6 L81.5 529.5 L82.8 529.3 L84 529.1 L85.2 528.9 L86.3 528.6 L87.4 528.4 L88.5 528.1 L89.5 527.8 L90.5 527.5 L91.5 527.1 L92.4 526.7 L93.2 526.4 L94 526.1 L94.7 525.7 L95.5 525.3 L96.3 524.7 L97.1 524.1 L98.1 523.3 L99.2 522.4 L100.3 521.3 L101.5 520.2 L102.8 518.9 L104.1 517.6 L105.4 516.2 L106.7 514.6 L108 513 L109.3 511.3 L110.6 509.4 L112 507.4 L113.3 505.4 L114.7 503.3 L116 501.1 L117.4 498.8 L118.7 496.5 L120 494.1 L121.3 491.4 L122.6 488.7 L123.9 485.9 L125.2 483.2 L126.4 480.6 L127.7 478.1 L128.9 476 L130.2 474.1 L131.5 472.3 L132.8 470.6 L134.1 469.1 L135.3 467.7 L136.4 466.5 L137.3 465.5 L138 464.7Z" fill="url(#cg)" stroke="none" stroke-width="0.8" />
<g clip-path="url(#cc)"><rect x="40" y="445" width="240" height="160" fill="url(#cb)"/><circle cx="212" cy="521" r="42" fill="url(#cw)"/></g>
<path d="M138 464.7 L138.8 464.9 L139.9 465.1 L141.2 465.4 L142.7 465.7 L144.2 466 L145.9 466.2 L147.6 466.3 L149.3 466.2 L151.1 466 L153 465.6 L155 465.2 L157.1 464.7 L159.2 464.1 L161.3 463.6 L163.3 463 L165.3 462.5 L167.2 462 L169.1 461.5 L170.9 461 L172.7 460.4 L174.5 459.9 L176.3 459.4 L178.2 458.9 L180 458.5 L181.9 458.1 L183.8 457.6 L185.8 457.2 L187.7 456.8 L189.6 456.4 L191.5 456.2 L193.3 456 L195 456 L196.5 456.1 L197.9 456.2 L199.2 456.4 L200.5 456.8 L201.7 457.2 L203.1 457.8 L204.6 458.5 L206.3 459.5 L208.2 460.7 L210.3 462.1 L212.5 463.7 L214.8 465.5 L217.2 467.3 L219.6 469.2 L221.9 471.1 L224.2 472.9 L226.5 474.8 L228.8 476.8 L231.1 478.8 L233.4 480.9 L235.7 482.9 L237.9 484.9 L240 486.6 L242 488.2 L243.8 489.5 L245.6 490.7 L247.2 491.7 L248.7 492.6 L250.2 493.4 L251.7 494.2 L253.2 495 L254.8 495.8 L256.5 496.6 L258.3 497.5 L260.1 498.3 L262 499.1 L263.7 499.8 L265.2 500.4 L266.5 501 L267.5 501.4 L267.4 502 L267.3 502.6 L267.2 503.4 L267.1 504.2 L266.8 505.3 L266.4 506.6 L265.8 508.1 L265 509.8 L263.9 511.9 L262.5 514.2 L260.8 516.9 L259.1 519.7 L257.3 522.6 L255.5 525.6 L253.7 528.6 L252.2 531.5 L250.8 534.4 L249.3 537.5 L248 540.6 L246.6 543.7 L245.3 546.8 L244.1 549.8 L243 552.5 L242 555 L241.2 557.2 L240.6 559.3 L240.1 561.2 L239.7 562.9 L239.3 564.5 L238.7 566.1 L238 567.6 L236.9 569 L235.5 570.4 L233.9 571.6 L232.1 572.7 L230.1 573.8 L228.1 574.8 L226.1 575.8 L224.2 576.9 L222.4 578 L220.7 579.2 L219 580.5 L217.4 581.8 L215.8 583.2 L214.2 584.5 L212.7 585.7 L211.3 586.9 L210 588 L208.7 589 L207.5 590 L206.3 591 L205.2 591.9 L204.2 592.7 L203.3 593.4 L202.6 594 L202 594.5 L200.6 593.8 L198.8 592.9 L196.6 591.9 L194.2 590.7 L191.7 589.3 L189.1 587.9 L186.6 586.4 L184.2 584.9 L181.9 583.3 L179.7 581.4 L177.4 579.5 L175.1 577.5 L172.8 575.5 L170.6 573.5 L168.4 571.5 L166.3 569.6 L164.2 567.7 L162.1 565.8 L160.1 564 L158.1 562.1 L156.2 560.3 L154.3 558.6 L152.6 557 L151 555.6 L149.6 554.4 L148.3 553.3 L147.2 552.3 L146.1 551.5 L145.1 550.7 L144.1 549.9 L143.1 549.2 L142 548.4 L140.9 547.6 L139.8 546.8 L138.7 546 L137.6 545.3 L136.4 544.6 L135.4 543.8 L134.3 543.2 L133.2 542.5 L132.1 541.9 L131.1 541.2 L130.1 540.6 L129 540 L128 539.5 L127 538.9 L126 538.4 L125 538 L124 537.6 L123 537.2 L122 536.9 L121 536.6 L120 536.4 L119 536.2 L118 536 L117 535.8 L116 535.7 L115 535.5 L114 535.5 L113.1 535.4 L112.1 535.4 L111.1 535.4 L110 535.4 L109 535.4 L108 535.4 L107 535.5 L106.1 535.6 L105.1 535.7 L104 535.8 L102.9 536 L101.5 536.2 L100 536.4 L98.2 536.7 L96.1 537.1 L93.9 537.5 L91.5 538 L89.1 538.5 L86.8 538.9 L84.7 539.4 L82.8 539.7 L81.1 540 L79.6 540.2 L78.3 540.5 L77 540.7 L75.7 540.8 L74.5 541 L73.2 541.2 L71.9 541.3 L70.5 541.4 L69.1 541.6 L67.6 541.7 L66.2 541.8 L64.8 541.9 L63.4 542 L62.1 542 L60.9 541.9 L59.7 541.7 L58.5 541.5 L57.4 541.2 L56.3 540.8 L55.3 540.5 L54.4 540.2 L53.7 539.9 L53.1 539.7 L53.7 539.2 L54.4 538.6 L55.3 537.8 L56.3 536.9 L57.4 536 L58.5 535.2 L59.7 534.4 L60.9 533.7 L62.1 533.1 L63.4 532.6 L64.8 532.2 L66.2 531.7 L67.6 531.4 L69.1 531 L70.5 530.7 L71.9 530.4 L73.3 530.2 L74.7 530 L76.1 529.9 L77.5 529.8 L78.9 529.7 L80.2 529.6 L81.5 529.5 L82.8 529.3 L84 529.1 L85.2 528.9 L86.3 528.6 L87.4 528.4 L88.5 528.1 L89.5 527.8 L90.5 527.5 L91.5 527.1 L92.4 526.7 L93.2 526.4 L94 526.1 L94.7 525.7 L95.5 525.3 L96.3 524.7 L97.1 524.1 L98.1 523.3 L99.2 522.4 L100.3 521.3 L101.5 520.2 L102.8 518.9 L104.1 517.6 L105.4 516.2 L106.7 514.6 L108 513 L109.3 511.3 L110.6 509.4 L112 507.4 L113.3 505.4 L114.7 503.3 L116 501.1 L117.4 498.8 L118.7 496.5 L120 494.1 L121.3 491.4 L122.6 488.7 L123.9 485.9 L125.2 483.2 L126.4 480.6 L127.7 478.1 L128.9 476 L130.2 474.1 L131.5 472.3 L132.8 470.6 L134.1 469.1 L135.3 467.7 L136.4 466.5 L137.3 465.5 L138 464.7Z" fill="none" stroke="#555" stroke-width="0.8" />
<g><circle cx="117" cy="507.5" r="4.6" fill="#2a30c4"/><circle cx="117.8" cy="506.8" r="4.6" fill="#2a39c4"/><circle cx="118.5" cy="506.2" r="4.5" fill="#2b41c4"/><circle cx="119.3" cy="505.5" r="4.5" fill="#2b4ac4"/><circle cx="120" cy="504.9" r="4.4" fill="#2c53c4"/><circle cx="120.8" cy="504.2" r="4.4" fill="#2d5dc2"/><circle cx="121.6" cy="503.6" r="4.4" fill="#306abf"/><circle cx="122.3" cy="502.9" r="4.4" fill="#3277bb"/><circle cx="123.1" cy="502.3" r="4.4" fill="#3583b7"/><circle cx="123.9" cy="501.7" r="4.4" fill="#3890b3"/><circle cx="124.7" cy="501.1" r="4.4" fill="#3b9aaf"/><circle cx="125.5" cy="500.5" r="4.4" fill="#3d9cac"/><circle cx="126.3" cy="499.9" r="4.4" fill="#3f9ea9"/><circle cx="127.1" cy="499.3" r="4.4" fill="#42a0a5"/><circle cx="127.9" cy="498.7" r="4.4" fill="#44a2a2"/><circle cx="128.7" cy="498.1" r="4.4" fill="#46a49f"/><circle cx="129.5" cy="497.5" r="4.4" fill="#48a69c"/><circle cx="130.3" cy="496.9" r="4.4" fill="#4ba898"/><circle cx="131.1" cy="496.3" r="4.5" fill="#4daa95"/><circle cx="132" cy="495.7" r="4.5" fill="#4fac92"/><circle cx="132.8" cy="495.2" r="4.5" fill="#52ae8e"/><circle cx="133.6" cy="494.6" r="4.5" fill="#54b08b"/><circle cx="134.4" cy="494" r="4.5" fill="#56b188"/><circle cx="135.3" cy="493.5" r="4.5" fill="#59b385"/><circle cx="136.2" cy="493" r="4.5" fill="#5bb581"/><circle cx="137" cy="492.5" r="4.5" fill="#5eb77e"/><circle cx="137.9" cy="492.1" r="4.5" fill="#61b87c"/><circle cx="138.9" cy="491.7" r="4.5" fill="#64b979"/><circle cx="139.8" cy="491.4" r="4.5" fill="#67ba76"/><circle cx="140.8" cy="491.1" r="4.6" fill="#6abb74"/><circle cx="141.7" cy="490.8" r="4.6" fill="#6ebc71"/><circle cx="142.7" cy="490.6" r="4.6" fill="#71bd6e"/><circle cx="143.7" cy="490.3" r="4.6" fill="#74be6c"/><circle cx="144.7" cy="490.1" r="4.6" fill="#77c069"/><circle cx="145.6" cy="489.8" r="4.6" fill="#78c068"/><circle cx="146.6" cy="489.6" r="4.6" fill="#79c068"/><circle cx="147.6" cy="489.4" r="4.6" fill="#79c068"/><circle cx="148.6" cy="489.2" r="4.6" fill="#79c068"/><circle cx="149.6" cy="489" r="4.6" fill="#7ac068"/><circle cx="150.5" cy="488.8" r="4.6" fill="#7ac069"/><circle cx="151.5" cy="488.6" r="4.6" fill="#7ab67f"/><circle cx="152.5" cy="488.4" r="4.6" fill="#7aad94"/><circle cx="153.4" cy="488" r="4.6" fill="#7aa7a0"/><circle cx="154.4" cy="487.7" r="4.6" fill="#7aa6a1"/><circle cx="155.3" cy="487.3" r="4.6" fill="#7ba4a1"/><circle cx="156.2" cy="486.9" r="4.6" fill="#7ba3a2"/><circle cx="157.2" cy="486.5" r="4.6" fill="#7ba1a2"/><circle cx="158.1" cy="486.1" r="4.6" fill="#7b9fa3"/><circle cx="159" cy="485.7" r="4.6" fill="#7c9ea3"/><circle cx="159.9" cy="485.3" r="4.6" fill="#7c9ca4"/><circle cx="160.8" cy="484.8" r="4.6" fill="#7e9ba4"/><circle cx="161.7" cy="484.3" r="4.6" fill="#809aa4"/><circle cx="162.5" cy="483.9" r="4.6" fill="#8199a4"/><circle cx="163.4" cy="483.4" r="4.7" fill="#8398a4"/><circle cx="164.3" cy="482.9" r="4.7" fill="#8597a4"/><circle cx="165.2" cy="482.5" r="4.7" fill="#8796a4"/><circle cx="166.1" cy="482" r="4.7" fill="#8995a4"/><circle cx="166.9" cy="481.5" r="4.7" fill="#8b95a4"/><circle cx="167.8" cy="481" r="4.7" fill="#8d94a4"/><circle cx="168.7" cy="480.5" r="4.8" fill="#8f93a4"/><circle cx="169.5" cy="479.9" r="4.8" fill="#9192a4"/><circle cx="170.4" cy="479.4" r="4.8" fill="#9391a4"/><circle cx="171.2" cy="478.9" r="4.8" fill="#9490a4"/><circle cx="172" cy="478.3" r="4.8" fill="#968ea2"/><circle cx="172.8" cy="477.7" r="4.9" fill="#978ca1"/><circle cx="173.6" cy="477.1" r="4.9" fill="#998aa0"/><circle cx="174.4" cy="476.4" r="4.9" fill="#9a889e"/><circle cx="175.2" cy="475.8" r="5" fill="#9c869d"/><circle cx="176" cy="475.2" r="5" fill="#9d859c"/><circle cx="176.7" cy="474.5" r="5" fill="#9f839a"/><circle cx="177.5" cy="473.9" r="5.1" fill="#a08199"/><circle cx="178.3" cy="473.2" r="5.1" fill="#a27f98"/><circle cx="179.1" cy="472.6" r="5.1" fill="#a37d96"/><circle cx="179.8" cy="472" r="5.2" fill="#a57b95"/><circle cx="180.6" cy="471.4" r="5.2" fill="#a67993"/><circle cx="181.4" cy="470.8" r="5.2" fill="#a77691"/><circle cx="182.2" cy="470.2" r="5.3" fill="#a8728e"/><circle cx="183" cy="469.6" r="5.3" fill="#a96f8b"/><circle cx="183.8" cy="469" r="5.3" fill="#aa6b88"/><circle cx="184.6" cy="468.4" r="5.4" fill="#ab6786"/><circle cx="185.5" cy="467.8" r="5.4" fill="#ad6483"/><circle cx="186.3" cy="467.2" r="5.4" fill="#ae6080"/><circle cx="187.2" cy="466.7" r="5.5" fill="#af5c7d"/><circle cx="188.1" cy="466.3" r="5.5" fill="#b0597b"/><circle cx="189" cy="465.9" r="5.5" fill="#b05678"/><circle cx="189.9" cy="465.6" r="5.6" fill="#b05476"/><circle cx="190.9" cy="465.2" r="5.6" fill="#b15274"/><circle cx="191.8" cy="465" r="5.6" fill="#b15072"/><circle cx="192.8" cy="464.7" r="5.7" fill="#b14e70"/><circle cx="193.8" cy="464.5" r="5.7" fill="#b14b6d"/><circle cx="194.8" cy="464.4" r="5.7" fill="#b1496b"/><circle cx="195.8" cy="464.3" r="5.8" fill="#b24769"/><circle cx="196.8" cy="464.3" r="5.8" fill="#b24567"/><circle cx="197.8" cy="464.3" r="5.8" fill="#b34867"/><circle cx="198.8" cy="464.5" r="5.8" fill="#b54e6a"/><circle cx="199.8" cy="464.6" r="5.7" fill="#b7546c"/><circle cx="200.8" cy="464.9" r="5.7" fill="#b85a6f"/><circle cx="201.7" cy="465.2" r="5.7" fill="#ba6171"/><circle cx="202.7" cy="465.5" r="5.7" fill="#bc6774"/><circle cx="203.6" cy="465.9" r="5.7" fill="#be6d76"/><circle cx="204.4" cy="466.4" r="5.6" fill="#c07379"/><circle cx="205.2" cy="467.1" r="5.6" fill="#c17a7b"/><circle cx="205.9" cy="467.8" r="5.6" fill="#c4807e"/><circle cx="206.5" cy="468.6" r="5.5" fill="#c88681"/><circle cx="207.1" cy="469.4" r="5.4" fill="#cc8c84"/><circle cx="207.5" cy="470.3" r="5.4" fill="#d09286"/><circle cx="207.9" cy="471.2" r="5.3" fill="#d49889"/><circle cx="208.3" cy="472.1" r="5.3" fill="#d89f8c"/><circle cx="208.6" cy="473.1" r="5.2" fill="#dca58f"/><circle cx="208.9" cy="474.1" r="5.1" fill="#e0ab92"/><circle cx="209.2" cy="475" r="5.1" fill="#e4b195"/><circle cx="209.5" cy="476" r="5" fill="#e8b798"/><circle cx="209.7" cy="477" r="5" fill="#e9ba99"/><circle cx="209.9" cy="477.9" r="5" fill="#e9bc99"/><circle cx="210" cy="478.9" r="4.9" fill="#eabe9a"/><circle cx="210.1" cy="479.9" r="4.9" fill="#ebc09b"/><circle cx="210.2" cy="480.9" r="4.9" fill="#ecc39c"/><circle cx="210.3" cy="481.9" r="4.9" fill="#ecc59c"/><circle cx="210.4" cy="482.9" r="4.9" fill="#edc79d"/><circle cx="210.4" cy="483.9" r="4.9" fill="#eec99e"/><circle cx="210.5" cy="484.9" r="4.8" fill="#eecb9e"/><circle cx="210.7" cy="485.9" r="4.8" fill="#efce9f"/><circle cx="210.8" cy="486.9" r="4.8" fill="#f0d0a0"/><circle cx="210.9" cy="487.9" r="4.8" fill="#efd1a0"/><circle cx="211.1" cy="488.9" r="4.8" fill="#eed3a0"/><circle cx="211.3" cy="489.9" r="4.8" fill="#edd4a0"/><circle cx="211.4" cy="490.9" r="4.7" fill="#ecd6a0"/><circle cx="211.6" cy="491.9" r="4.7" fill="#ead7a0"/><circle cx="211.8" cy="492.9" r="4.7" fill="#e9d8a0"/><circle cx="212" cy="493.8" r="4.7" fill="#e8daa0"/><circle cx="212.1" cy="494.8" r="4.7" fill="#e7dba0"/><circle cx="212.3" cy="495.8" r="4.7" fill="#e6dda0"/><circle cx="212.5" cy="496.8" r="4.7" fill="#e5dea0"/><circle cx="212.7" cy="497.8" r="4.6" fill="#e4dfa0"/><circle cx="212.9" cy="498.8" r="4.6" fill="#e3e1a0"/><circle cx="213.1" cy="499.8" r="4.6" fill="#e1e2a0"/><circle cx="213.2" cy="500.7" r="4.6" fill="#e0e4a0"/><circle cx="213.4" cy="501.7" r="4.6" fill="#dde39f"/><circle cx="213.7" cy="502.7" r="4.6" fill="#d9e29e"/><circle cx="213.9" cy="503.7" r="4.6" fill="#d5e09c"/><circle cx="214.1" cy="504.7" r="4.6" fill="#d1df9b"/><circle cx="214.4" cy="505.6" r="4.6" fill="#cede9a"/><circle cx="214.7" cy="506.6" r="4.6" fill="#cadd99"/><circle cx="215" cy="507.5" r="4.6" fill="#bbd791"/><circle cx="215.3" cy="508.5" r="4.7" fill="#a4ce84"/><circle cx="215.6" cy="509.4" r="4.7" fill="#8ec677"/><circle cx="216" cy="510.4" r="4.8" fill="#77bd6a"/><circle cx="216.3" cy="511.3" r="4.8" fill="#73bb69"/><circle cx="216.6" cy="512.3" r="4.8" fill="#71bb6a"/><circle cx="216.9" cy="513.2" r="4.9" fill="#6fba6b"/><circle cx="217.3" cy="514.2" r="4.9" fill="#6db96c"/><circle cx="217.6" cy="515.1" r="4.9" fill="#6cb86e"/><circle cx="217.9" cy="516.1" r="4.9" fill="#6ab86f"/><circle cx="218.2" cy="517" r="4.9" fill="#68b770"/><circle cx="218.6" cy="518" r="4.9" fill="#67b671"/><circle cx="218.9" cy="518.9" r="5" fill="#65b572"/><circle cx="219.3" cy="519.8" r="5" fill="#63b573"/><circle cx="219.6" cy="520.8" r="5" fill="#61b375"/><circle cx="220" cy="521.7" r="5" fill="#5eb179"/><circle cx="220.3" cy="522.7" r="5" fill="#5baf7e"/><circle cx="220.7" cy="523.6" r="5" fill="#57ad82"/><circle cx="221" cy="524.5" r="5" fill="#54aa86"/><circle cx="221.4" cy="525.5" r="5" fill="#51a88a"/><circle cx="221.7" cy="526.4" r="5" fill="#4ea68e"/><circle cx="222.1" cy="527.3" r="5" fill="#4ba492"/><circle cx="222.5" cy="528.3" r="5" fill="#47a197"/><circle cx="222.8" cy="529.2" r="5" fill="#449f9b"/><circle cx="223.2" cy="530.1" r="5" fill="#419d9f"/><circle cx="223.6" cy="531.1" r="5" fill="#3e9ba3"/><circle cx="223.9" cy="532" r="5" fill="#3b98a7"/><circle cx="224.3" cy="533" r="5" fill="#3994aa"/><circle cx="224.7" cy="533.9" r="5.1" fill="#388fad"/><circle cx="225" cy="534.8" r="5.1" fill="#378aaf"/><circle cx="225.4" cy="535.8" r="5.2" fill="#3685b2"/><circle cx="225.8" cy="536.7" r="5.2" fill="#3580b5"/><circle cx="226.1" cy="537.6" r="5.3" fill="#347bb7"/><circle cx="226.5" cy="538.6" r="5.3" fill="#3376ba"/><circle cx="226.9" cy="539.5" r="5.3" fill="#3271bc"/><circle cx="227.2" cy="540.4" r="5.4" fill="#316cbf"/><circle cx="227.6" cy="541.4" r="5.4" fill="#3067c2"/><circle cx="228" cy="542.3" r="5.5" fill="#2f62c4"/><circle cx="228.3" cy="543.2" r="5.5" fill="#2e5dc7"/><circle cx="228.7" cy="544.2" r="5.6" fill="#2d58ca"/><circle cx="229" cy="545.1" r="5.6" fill="#2c54cc"/><circle cx="229.4" cy="546" r="5.8" fill="#2d4fca"/><circle cx="229.7" cy="547" r="5.9" fill="#2d4bc8"/><circle cx="230.1" cy="547.9" r="6" fill="#2e47c6"/><circle cx="230.4" cy="548.8" r="6.2" fill="#2f42c4"/><circle cx="230.8" cy="549.8" r="6.3" fill="#303ec2"/><circle cx="231.1" cy="550.7" r="6.4" fill="#3039c0"/><circle cx="231.5" cy="551.7" r="6.6" fill="#3135be"/><circle cx="231.8" cy="552.6" r="6.7" fill="#3231bc"/><circle cx="232.2" cy="553.6" r="6.9" fill="#322cba"/><circle cx="232.5" cy="554.5" r="7" fill="#3328b8"/></g>
<path d="M220.5 546.8 L221 546.5 L221.6 546 L222.3 545.5 L223.2 544.9 L224.1 544.3 L225 543.8 L225.9 543.2 L226.8 542.8 L227.7 542.4 L228.6 542 L229.6 541.6 L230.6 541.2 L231.6 540.9 L232.6 540.8 L233.5 540.7 L234.3 540.8 L235.1 541.1 L235.8 541.5 L236.4 542.1 L237.1 542.8 L237.7 543.6 L238.2 544.4 L238.8 545.1 L239.3 545.8 L239.8 546.4 L240.3 547.1 L240.8 547.7 L241.3 548.3 L241.7 549 L242 549.7 L242.3 550.5 L242.4 551.3 L242.4 552.2 L242.4 553.2 L242.3 554.3 L242.1 555.4 L241.8 556.5 L241.5 557.6 L241.2 558.7 L240.8 559.8 L240.4 560.9 L239.9 561.9 L239.4 563 L238.8 564.1 L238.2 565.2 L237.6 566.1 L236.9 567 L236.3 567.8 L235.7 568.5 L235 569.2 L234.4 569.7 L233.7 570.3 L233 570.7 L232.3 571 L231.6 571.2 L230.8 571.3 L230 571.2 L229.2 570.9 L228.4 570.5 L227.5 570 L226.6 569.4 L225.7 568.8 L224.8 568.3 L223.8 567.8 L222.7 567.4 L221.5 567 L220.2 566.7 L218.9 566.3 L217.6 565.9 L216.5 565.5 L215.5 564.9 L214.8 564.3 L214.3 563.5 L214 562.7 L213.8 561.7 L213.8 560.7 L213.9 559.7 L214 558.7 L214.1 557.7 L214.3 556.8 L214.5 556 L214.8 555.1 L215.2 554.4 L215.6 553.6 L216 552.8 L216.5 552.1 L216.9 551.4 L217.3 550.8 L217.7 550.2 L218.2 549.6 L218.6 549 L219.1 548.4 L219.5 547.9 L219.9 547.5 L220.3 547.1 L220.5 546.8Z" fill="url(#cg445)" stroke="none" stroke-width="0.8" />
<g><circle cx="230" cy="561.5" r="7" fill="#4420a8"/><circle cx="229" cy="561.4" r="6.8" fill="#4123ab"/><circle cx="228" cy="561.3" r="6.7" fill="#3d25af"/><circle cx="227" cy="561.1" r="6.5" fill="#3a28b2"/><circle cx="226" cy="561" r="6.3" fill="#372bb5"/><circle cx="225" cy="560.8" r="6.2" fill="#342db8"/><circle cx="224.1" cy="560.5" r="6" fill="#3030bc"/><circle cx="223.1" cy="560.2" r="5.9" fill="#3033be"/><circle cx="222.2" cy="559.8" r="5.8" fill="#2f37c0"/><circle cx="221.3" cy="559.4" r="5.7" fill="#2e3bc2"/><circle cx="220.4" cy="559" r="5.6" fill="#2e3ec4"/><circle cx="219.5" cy="558.6" r="5.5" fill="#2d42c6"/><circle cx="218.5" cy="558.2" r="5.4" fill="#2d46c8"/><circle cx="217.6" cy="557.8" r="5.3" fill="#2c4acb"/><circle cx="216.7" cy="557.4" r="5.2" fill="#2d4fcb"/><circle cx="215.8" cy="557" r="5.1" fill="#2e57c8"/><circle cx="214.8" cy="556.6" r="5.1" fill="#305fc4"/><circle cx="213.9" cy="556.3" r="5" fill="#3167c1"/><circle cx="213" cy="555.9" r="5" fill="#336fbe"/><circle cx="212" cy="555.5" r="5" fill="#3576bb"/><circle cx="211.1" cy="555.2" r="4.9" fill="#367eb7"/><circle cx="210.1" cy="554.9" r="4.9" fill="#3886b4"/><circle cx="209.2" cy="554.6" r="4.8" fill="#3a8eb1"/><circle cx="208.2" cy="554.3" r="4.8" fill="#3e94a9"/><circle cx="207.3" cy="554" r="4.7" fill="#4499a1"/><circle cx="206.3" cy="553.8" r="4.7" fill="#4a9f98"/><circle cx="205.3" cy="553.7" r="4.7" fill="#4fa490"/><circle cx="204.3" cy="553.5" r="4.6" fill="#55a987"/><circle cx="203.3" cy="553.3" r="4.6" fill="#5aae7f"/><circle cx="202.3" cy="553.2" r="4.6" fill="#61b277"/><circle cx="201.3" cy="553" r="4.6" fill="#67b471"/><circle cx="200.3" cy="553" r="4.6" fill="#6eb76a"/><circle cx="199.3" cy="553" r="4.6" fill="#70b868"/><circle cx="198.3" cy="553" r="4.6" fill="#71b968"/><circle cx="197.3" cy="553" r="4.6" fill="#71b968"/><circle cx="196.3" cy="553" r="4.6" fill="#71b968"/><circle cx="195.3" cy="553" r="4.6" fill="#72ba68"/><circle cx="194.3" cy="553" r="4.6" fill="#72ba68"/><circle cx="193.3" cy="553" r="4.6" fill="#73bb68"/><circle cx="192.3" cy="553" r="4.6" fill="#73bb68"/><circle cx="191.3" cy="553" r="4.6" fill="#73bb68"/><circle cx="190.3" cy="553" r="4.6" fill="#74bc68"/><circle cx="189.3" cy="553" r="4.6" fill="#74bc68"/><circle cx="188.3" cy="553" r="4.6" fill="#74bc68"/><circle cx="187.3" cy="553" r="4.6" fill="#74bc68"/><circle cx="186.3" cy="553.1" r="4.6" fill="#74bc68"/><circle cx="185.3" cy="553.1" r="4.6" fill="#74bc68"/><circle cx="184.3" cy="553.1" r="4.6" fill="#74bc68"/><circle cx="183.3" cy="553.1" r="4.6" fill="#74bc68"/><circle cx="182.3" cy="553.2" r="4.6" fill="#74bc68"/><circle cx="181.3" cy="553.2" r="4.6" fill="#74bc68"/><circle cx="180.3" cy="553.2" r="4.6" fill="#84c274"/><circle cx="179.3" cy="553.3" r="4.6" fill="#99cb84"/><circle cx="178.3" cy="553.4" r="4.6" fill="#aed494"/><circle cx="177.3" cy="553.5" r="4.6" fill="#b5d699"/><circle cx="176.3" cy="553.6" r="4.6" fill="#b7d799"/><circle cx="175.3" cy="553.7" r="4.6" fill="#b8d79a"/><circle cx="174.3" cy="553.8" r="4.6" fill="#b9d89b"/><circle cx="173.3" cy="553.9" r="4.6" fill="#bbd99b"/><circle cx="172.3" cy="554" r="4.6" fill="#bcd99c"/><circle cx="171.3" cy="554.1" r="4.6" fill="#beda9d"/><circle cx="170.3" cy="554.1" r="4.6" fill="#bfda9e"/><circle cx="169.3" cy="554.1" r="4.6" fill="#c1db9e"/><circle cx="168.3" cy="554.1" r="4.6" fill="#c2db9f"/><circle cx="167.3" cy="554" r="4.6" fill="#c4dca0"/><circle cx="166.3" cy="553.9" r="4.6" fill="#c5dca0"/><circle cx="165.3" cy="553.8" r="4.6" fill="#c7dca0"/><circle cx="164.3" cy="553.7" r="4.6" fill="#c9db9f"/><circle cx="163.3" cy="553.5" r="4.6" fill="#cbdb9f"/><circle cx="162.3" cy="553.3" r="4.6" fill="#cddb9f"/><circle cx="161.3" cy="553.1" r="4.6" fill="#cfdb9f"/><circle cx="160.3" cy="553" r="4.6" fill="#d1da9e"/><circle cx="159.4" cy="552.8" r="4.7" fill="#d3da9e"/><circle cx="158.4" cy="552.5" r="4.7" fill="#d5da9e"/><circle cx="157.4" cy="552.3" r="4.7" fill="#d7d99d"/><circle cx="156.4" cy="552.1" r="4.7" fill="#d9d99d"/><circle cx="155.5" cy="551.8" r="4.7" fill="#dbd99d"/><circle cx="154.5" cy="551.6" r="4.7" fill="#ddd99d"/><circle cx="153.5" cy="551.3" r="4.7" fill="#dfd89c"/><circle cx="152.6" cy="551" r="4.7" fill="#e1d89c"/><circle cx="151.6" cy="550.7" r="4.7" fill="#e2d79c"/><circle cx="150.7" cy="550.3" r="4.7" fill="#e3d69d"/><circle cx="149.8" cy="549.9" r="4.7" fill="#e3d49e"/><circle cx="148.9" cy="549.5" r="4.7" fill="#e4d29e"/><circle cx="148" cy="549" r="4.7" fill="#e4d19f"/><circle cx="147.1" cy="548.6" r="4.7" fill="#e5cfa0"/><circle cx="146.2" cy="548.1" r="4.8" fill="#e5cea0"/><circle cx="145.3" cy="547.6" r="4.8" fill="#e6cca1"/><circle cx="144.5" cy="547.1" r="4.8" fill="#e6caa1"/><circle cx="143.6" cy="546.6" r="4.8" fill="#e7c9a2"/><circle cx="142.7" cy="546.1" r="4.8" fill="#e7c7a3"/><circle cx="141.8" cy="545.7" r="4.8" fill="#e8c5a3"/><circle cx="140.9" cy="545.3" r="4.8" fill="#e8c4a4"/><circle cx="140" cy="544.9" r="4.8" fill="#e6c1a4"/><circle cx="139" cy="544.5" r="4.8" fill="#e4bea4"/><circle cx="138.1" cy="544.1" r="4.9" fill="#e3bca4"/><circle cx="137.2" cy="543.7" r="4.9" fill="#e1b9a4"/><circle cx="136.2" cy="543.4" r="4.9" fill="#dfb6a4"/><circle cx="135.3" cy="543" r="4.9" fill="#deb3a4"/><circle cx="134.4" cy="542.7" r="4.9" fill="#dcb1a4"/><circle cx="133.4" cy="542.3" r="4.9" fill="#daaea4"/><circle cx="132.5" cy="542" r="5" fill="#d9aba4"/><circle cx="131.6" cy="541.6" r="5" fill="#d7a9a4"/><circle cx="130.6" cy="541.2" r="5" fill="#d5a6a4"/><circle cx="129.7" cy="540.9" r="5" fill="#d3a3a3"/><circle cx="128.8" cy="540.5" r="5" fill="#d1a1a2"/><circle cx="127.8" cy="540.1" r="5" fill="#cf9ea1"/><circle cx="126.9" cy="539.8" r="5" fill="#cd9b9f"/><circle cx="126" cy="539.4" r="5" fill="#ca999e"/><circle cx="125" cy="539" r="5" fill="#c8969c"/><circle cx="124.1" cy="538.7" r="5" fill="#c6939b"/><circle cx="123.2" cy="538.3" r="5" fill="#c49199"/><circle cx="122.2" cy="537.9" r="5" fill="#c18e98"/><circle cx="121.3" cy="537.5" r="5" fill="#bf8c96"/><circle cx="120.4" cy="537.2" r="5" fill="#bd8995"/><circle cx="119.4" cy="536.8" r="5" fill="#ba8894"/><circle cx="118.5" cy="536.4" r="4.9" fill="#b88995"/><circle cx="117.6" cy="536" r="4.9" fill="#b58995"/><circle cx="116.7" cy="535.6" r="4.8" fill="#b38a96"/><circle cx="115.8" cy="535.2" r="4.8" fill="#b08a96"/><circle cx="114.8" cy="534.8" r="4.7" fill="#ad8b97"/><circle cx="113.9" cy="534.4" r="4.7" fill="#ab8b97"/><circle cx="113" cy="534" r="4.6" fill="#a88c98"/></g>
<g><circle cx="92.2" cy="518.2" r="2.3" fill="#2a2ac8"/><circle cx="93.3" cy="518.3" r="2.3" fill="#2a2ac8"/><circle cx="94.4" cy="518.3" r="2.4" fill="#2a2ac8"/><circle cx="95.5" cy="518.4" r="2.4" fill="#2a2ac8"/><circle cx="96.7" cy="518.4" r="2.4" fill="#2a2cc8"/><circle cx="97.8" cy="518.5" r="2.4" fill="#2a2ec8"/><circle cx="98.9" cy="518.5" r="2.4" fill="#2a31c8"/><circle cx="100" cy="518.6" r="2.4" fill="#2a34c8"/></g>
<g><circle cx="99.5" cy="516" r="2.4" fill="#5a1ca4"/><circle cx="100.2" cy="515.4" r="2.7" fill="#551da7"/><circle cx="100.9" cy="514.9" r="3" fill="#501da9"/><circle cx="101.6" cy="514.3" r="3.3" fill="#4b1eac"/><circle cx="102.3" cy="513.7" r="3.5" fill="#461fae"/><circle cx="103" cy="513.2" r="3.8" fill="#411fb1"/><circle cx="103.8" cy="512.7" r="4.1" fill="#3c20b3"/><circle cx="104.5" cy="512.2" r="4.3" fill="#3820b5"/><circle cx="105.3" cy="511.7" r="4.4" fill="#3621b7"/><circle cx="106" cy="511.2" r="4.4" fill="#3321b9"/><circle cx="106.8" cy="510.7" r="4.5" fill="#3121bb"/><circle cx="107.6" cy="510.3" r="4.6" fill="#2e21bd"/><circle cx="108.4" cy="509.8" r="4.7" fill="#2c22bf"/><circle cx="109.2" cy="509.4" r="4.8" fill="#2a22c0"/><circle cx="110" cy="509" r="4.8" fill="#2a24c1"/><circle cx="110.8" cy="508.7" r="4.7" fill="#2a25c1"/><circle cx="111.6" cy="508.3" r="4.7" fill="#2a26c2"/><circle cx="112.5" cy="508" r="4.7" fill="#2a28c2"/><circle cx="113.3" cy="507.7" r="4.7" fill="#2a29c3"/><circle cx="114.1" cy="507.3" r="4.6" fill="#2a2bc3"/><circle cx="115" cy="507" r="4.6" fill="#2a2cc4"/><circle cx="115.8" cy="506.7" r="4.6" fill="#2a31c5"/><circle cx="116.7" cy="506.3" r="4.5" fill="#2a35c5"/><circle cx="117.5" cy="506" r="4.5" fill="#2a3ac6"/><circle cx="118.3" cy="505.7" r="4.5" fill="#2a3fc7"/><circle cx="119.2" cy="505.3" r="4.4" fill="#2a43c7"/><circle cx="120" cy="505" r="4.4" fill="#2a48c8"/></g>
<g><circle cx="103.5" cy="520" r="3.6" fill="#48b0a8"/><circle cx="104" cy="520.8" r="3.7" fill="#50b29e"/><circle cx="104.5" cy="521.5" r="3.8" fill="#58b594"/><circle cx="105" cy="522.3" r="4" fill="#5fb789"/><circle cx="105.5" cy="523.1" r="4.1" fill="#67b97f"/><circle cx="105.9" cy="523.9" r="4.2" fill="#6fbc75"/><circle cx="106.4" cy="524.7" r="4.2" fill="#72bd73"/><circle cx="106.8" cy="525.5" r="4.2" fill="#74bd72"/><circle cx="107.2" cy="526.4" r="4.2" fill="#76be70"/><circle cx="107.7" cy="527.2" r="4.2" fill="#78bf6f"/><circle cx="108" cy="528" r="4.2" fill="#7abf6e"/><circle cx="108.4" cy="528.9" r="4.2" fill="#7cc06c"/><circle cx="108.8" cy="529.7" r="4.1" fill="#7dbe6e"/><circle cx="109.2" cy="530.6" r="4.1" fill="#7fbc71"/><circle cx="109.5" cy="531.4" r="4" fill="#80ba74"/><circle cx="109.8" cy="532.3" r="3.9" fill="#81b877"/><circle cx="110.2" cy="533.1" r="3.9" fill="#83b679"/><circle cx="110.5" cy="534" r="3.8" fill="#84b47c"/></g>
<path d="M202 594.5 L200.6 593.8 L198.8 592.9 L196.6 591.9 L194.2 590.7 L191.7 589.3 L189.1 587.9 L186.6 586.4 L184.2 584.9 L181.9 583.3 L179.7 581.4 L177.4 579.5 L175.1 577.5 L172.8 575.5 L170.6 573.5 L168.4 571.5 L166.3 569.6 L164.2 567.7 L162.1 565.8 L160.1 564 L158.1 562.1 L156.2 560.3 L154.3 558.6 L152.6 557 L151 555.6 L149.6 554.4 L148.3 553.3 L147.2 552.3 L146.1 551.5 L145.1 550.7 L144.1 549.9 L143.1 549.2 L142 548.4 L140.9 547.6 L139.8 546.8 L138.7 546 L137.6 545.3 L136.4 544.6 L135.4 543.8 L134.3 543.2 L133.2 542.5 L132.1 541.9 L131.1 541.2 L130.1 540.6 L129 540 L128 539.5 L127 538.9 L126 538.4 L125 538 L124 537.6 L123 537.2 L122 536.9 L121 536.6 L120 536.4 L119 536.2 L118 536 L117 535.8 L116 535.7 L115 535.5 L114 535.5 L113.1 535.4 L112.1 535.4 L111.1 535.4 L110 535.4 L109 535.4 L107.9 535.5 L106.6 535.6 L105.3 535.7 L104 535.9 L102.8 536 L101.6 536.2 L100.7 536.3 L100 536.4" fill="none" stroke="#555" stroke-width="0.8" />
<g clip-path="url(#cfe)">
<g><circle cx="107.5" cy="543.5" r="3" fill="#ec5024"/><circle cx="108.2" cy="543.1" r="3.3" fill="#eb4b22"/><circle cx="108.8" cy="542.6" r="3.6" fill="#ea4621"/><circle cx="109.5" cy="542.2" r="4" fill="#ea421f"/><circle cx="110.2" cy="541.8" r="4.3" fill="#e93d1e"/><circle cx="111" cy="541.5" r="4.6" fill="#e8381c"/><circle cx="111.8" cy="541.3" r="4.7" fill="#e8371c"/><circle cx="112.6" cy="541.1" r="4.8" fill="#e8351b"/><circle cx="113.4" cy="541" r="4.9" fill="#e8341b"/><circle cx="114.2" cy="541" r="5" fill="#e8331b"/><circle cx="115" cy="540.9" r="5.1" fill="#e8321a"/><circle cx="115.8" cy="541" r="5.2" fill="#e8301a"/><circle cx="116.6" cy="541.1" r="5.2" fill="#e8301a"/><circle cx="117.4" cy="541.2" r="5.2" fill="#e8301a"/><circle cx="118.2" cy="541.3" r="5.3" fill="#e8301a"/><circle cx="118.9" cy="541.5" r="5.3" fill="#e8301a"/><circle cx="119.7" cy="541.7" r="5.3" fill="#e8301a"/><circle cx="120.5" cy="541.9" r="5.3" fill="#e8301a"/><circle cx="121.3" cy="542.2" r="5.4" fill="#e8301a"/><circle cx="122" cy="542.5" r="5.4" fill="#e8301a"/><circle cx="122.7" cy="542.8" r="5.4" fill="#e8311a"/><circle cx="123.5" cy="543.2" r="5.4" fill="#e8321a"/><circle cx="124.2" cy="543.6" r="5.3" fill="#e9331b"/><circle cx="124.9" cy="544" r="5.3" fill="#e9341b"/><circle cx="125.6" cy="544.4" r="5.3" fill="#e9351b"/><circle cx="126.3" cy="544.8" r="5.3" fill="#e9361b"/><circle cx="126.9" cy="545.2" r="5.2" fill="#ea361c"/><circle cx="127.6" cy="545.7" r="5.2" fill="#ea371c"/><circle cx="128.2" cy="546.2" r="5.2" fill="#ea391c"/><circle cx="128.9" cy="546.7" r="5.1" fill="#eb3c1d"/><circle cx="129.5" cy="547.2" r="5" fill="#eb3f1d"/><circle cx="130.1" cy="547.7" r="4.9" fill="#ec421e"/><circle cx="130.7" cy="548.3" r="4.8" fill="#ec451e"/><circle cx="131.3" cy="548.8" r="4.7" fill="#ed471f"/><circle cx="131.8" cy="549.4" r="4.6" fill="#ed4a1f"/><circle cx="132.4" cy="550" r="4.5" fill="#ee4d20"/><circle cx="133" cy="550.5" r="4.4" fill="#ee5020"/><circle cx="133.6" cy="551.1" r="4.2" fill="#ee5522"/><circle cx="134.2" cy="551.6" r="4" fill="#ef5925"/><circle cx="134.7" cy="552.2" r="3.8" fill="#ef5e27"/><circle cx="135.3" cy="552.8" r="3.6" fill="#ef6229"/><circle cx="135.9" cy="553.3" r="3.4" fill="#ef672b"/><circle cx="136.4" cy="553.9" r="3.2" fill="#f06b2e"/><circle cx="137" cy="554.5" r="3" fill="#f07030"/></g>
</g>
<path d="M151 555.6 L150.3 555 L149.4 554.3 L148.3 553.4 L147 552.4 L145.8 551.3 L144.4 550.3 L143.2 549.3 L142 548.4 L140.9 547.6 L139.8 546.8 L138.7 546 L137.6 545.3 L136.4 544.6 L135.4 543.8 L134.3 543.2 L133.2 542.5 L132.1 541.9 L131.1 541.2 L130.1 540.6 L129 540 L128 539.5 L127 538.9 L126 538.4 L125 538 L124 537.6 L123 537.2 L122 536.9 L121 536.6 L120 536.4 L119 536.2 L118 536 L117 535.8 L116 535.7 L115 535.5 L114 535.5 L113.1 535.4 L112.1 535.4 L111.1 535.4 L110 535.4 L109 535.4 L107.9 535.5 L106.6 535.6 L105.3 535.7 L104 535.9 L102.8 536 L101.6 536.2 L100.7 536.3 L100 536.4" fill="none" stroke="#555" stroke-width="0.8" />
<path d="M95 531.6 L95.8 531.5 L96.8 531.3 L98 531.1 L99.4 530.9 L100.8 530.7 L102.3 530.4 L103.7 530.2 L105 530 L106.2 529.8 L107.5 529.6 L108.7 529.4 L109.9 529.1 L111.1 528.9 L112.4 528.7 L113.7 528.5 L115 528.3 L116.5 528.1 L118.1 527.9 L119.9 527.7 L121.6 527.4 L123.3 527.2 L124.8 527.1 L126.1 526.9 L127 526.8" fill="none" stroke="#6880c0" stroke-width="0.7" stroke-opacity="0.7"/>
<text x="10.8" y="512.8" font-size="14.8" font-family='"Liberation Sans", sans-serif' >0.27</text>
<text x="13" y="538.9" font-size="14.8" font-family='"Liberation Sans", sans-serif' >Δ<tspan font-style="italic" font-size="10.4" dy="2.8">k</tspan><tspan dy="-2.8">t</tspan></text>
<text x="10.2" y="567" font-size="14.8" font-family='"Liberation Sans", sans-serif' >−0.27</text>
<text x="37.7" y="583.4" font-size="14.8" font-family='"Liberation Sans", sans-serif' >−3</text>
<text x="99.5" y="616.8" font-size="14.8" font-family='"Liberation Sans", sans-serif' ><tspan font-style="italic">k</tspan><tspan font-style="italic" font-size="10.4" dy="2.8">x</tspan></text>
<text x="187.5" y="638.4" font-size="14.8" font-family='"Liberation Sans", sans-serif' >3</text>
<text x="209.5" y="629.8" font-size="14.8" font-family='"Liberation Sans", sans-serif' >−3</text>
<text x="253.1" y="583.3" font-size="14.8" font-family='"Liberation Sans", sans-serif' ><tspan font-style="italic">k</tspan><tspan font-style="italic" font-size="10.4" dy="2.8">y</tspan></text>
<text x="268.5" y="537.1" font-size="14.8" font-family='"Liberation Sans", sans-serif' >3</text>
<rect x="3.3" y="626.3" width="81.9" height="21" fill="#fff" stroke="#808080" stroke-width="1"/>
<text x="5.2" y="642.6" font-size="15.6" font-family='"Liberation Serif", serif' ><tspan font-style="italic">k</tspan><tspan font-style="italic" font-size="11.5" dy="3">B</tspan><tspan dy="-3">T=0.2339t</tspan></text>
<line x1="325.7" y1="295" x2="333.9" y2="347.3" stroke="#5a5a5a" stroke-width="0.8"/>
<line x1="333.9" y1="347.3" x2="476.9" y2="402.6" stroke="#5a5a5a" stroke-width="0.8"/>
<line x1="476.9" y1="402.6" x2="537.9" y2="309.5" stroke="#5a5a5a" stroke-width="0.8"/>
<line x1="405" y1="374.8" x2="405.6" y2="372.6" stroke="#5a5a5a" stroke-width="0.6"/>
<line x1="339" y1="349.3" x2="339.6" y2="347.1" stroke="#5a5a5a" stroke-width="0.6"/>
<line x1="472.5" y1="400.9" x2="473.1" y2="398.7" stroke="#5a5a5a" stroke-width="0.6"/>
<line x1="507.5" y1="356" x2="505.5" y2="355.2" stroke="#5a5a5a" stroke-width="0.6"/>
<line x1="479.5" y1="398.6" x2="477.5" y2="397.8" stroke="#5a5a5a" stroke-width="0.6"/>
<line x1="535.5" y1="313.2" x2="533.5" y2="312.4" stroke="#5a5a5a" stroke-width="0.6"/>
<line x1="326.4" y1="299.5" x2="328.4" y2="299.2" stroke="#5a5a5a" stroke-width="0.6"/>
<line x1="333.2" y1="343" x2="335.2" y2="342.7" stroke="#5a5a5a" stroke-width="0.6"/>
<path d="M430.1 230.5 L430.2 231.5 L430.4 232.8 L430.5 234.4 L430.7 236.2 L430.9 238 L431.2 239.9 L431.5 241.6 L431.9 243.2 L432.3 244.7 L432.8 246.2 L433.4 247.6 L434 249 L434.6 250.4 L435.2 251.7 L435.9 253 L436.5 254.1 L437.1 255.1 L437.8 256.1 L438.4 257 L439 257.8 L439.7 258.5 L440.4 259.2 L441.1 259.9 L441.9 260.5 L442.7 261.1 L443.5 261.5 L444.4 262 L445.3 262.4 L446.2 262.7 L447.1 263 L448.1 263.4 L449.1 263.7 L450.1 264 L451 264.4 L452 264.7 L453 265 L454 265.3 L455.2 265.6 L456.6 265.8 L458.2 265.9 L460 266 L462.1 266 L464.4 266 L466.7 266 L469.2 265.9 L471.6 265.8 L474.1 265.7 L476.4 265.5 L478.7 265.3 L480.9 265 L483.2 264.7 L485.5 264.4 L487.8 264.1 L490 263.7 L492.3 263.2 L494.6 262.8 L496.9 262.3 L499.4 261.8 L501.9 261.2 L504.4 260.5 L506.7 259.9 L509 259.3 L511.1 258.7 L512.9 258.2 L514.5 257.7 L515.9 257.2 L517.2 256.7 L518.3 256.2 L519.3 255.8 L520.2 255.4 L520.9 255.1 L521.5 254.8 L521.7 255.8 L522 257.2 L522.4 258.9 L522.8 260.8 L523.3 262.7 L523.8 264.6 L524.3 266.4 L524.8 268 L525.3 269.4 L525.9 270.8 L526.5 272.1 L527.2 273.4 L527.8 274.6 L528.5 275.7 L529.3 276.9 L530 278 L530.8 279.1 L531.8 280.2 L532.8 281.4 L533.8 282.4 L534.8 283.4 L535.7 284.3 L536.4 285 L537 285.6 L536.7 286.4 L536.3 287.5 L535.8 288.8 L535.3 290.2 L534.7 291.7 L534.2 293.2 L533.8 294.6 L533.5 296 L533.3 297.3 L533.2 298.5 L533.3 299.7 L533.3 300.9 L533.3 302.1 L533.3 303.4 L533.2 304.6 L533 306 L532.6 307.5 L532.1 309.2 L531.5 311 L530.9 312.7 L530.3 314.4 L529.7 316 L529.2 317.2 L528.9 318.2 L527.4 318.3 L525.4 318.4 L523 318.5 L520.4 318.7 L517.5 318.8 L514.5 319 L511.5 319.3 L508.5 319.6 L505.4 320 L501.9 320.4 L498.4 320.8 L494.7 321.4 L491.1 321.9 L487.6 322.4 L484.3 323 L481.4 323.6 L478.8 324.2 L476.4 324.9 L474.1 325.5 L472.1 326.2 L470.1 326.9 L468.3 327.6 L466.7 328.3 L465.1 329 L463.6 329.7 L462.3 330.4 L461.1 331.1 L460 331.8 L459.1 332.5 L458.3 333.1 L457.6 333.6 L457 334 L456.6 332.9 L456.1 331.5 L455.5 329.7 L454.9 327.8 L454.2 325.8 L453.4 323.8 L452.7 321.8 L452 320 L451.3 318.3 L450.6 316.6 L449.9 314.9 L449.2 313.2 L448.4 311.6 L447.7 310 L446.9 308.5 L446 307 L445.1 305.6 L444.2 304.2 L443.2 302.9 L442.2 301.6 L441.2 300.3 L440.2 299.1 L439.1 298 L438 297 L436.9 296 L435.7 295.1 L434.5 294.3 L433.2 293.6 L432 292.9 L430.7 292.2 L429.4 291.6 L428 291 L426.6 290.5 L425.1 290 L423.6 289.6 L422 289.2 L420.4 288.8 L418.9 288.5 L417.4 288.3 L416 288 L414.6 287.8 L413.1 287.6 L411.7 287.4 L410.2 287.3 L408.9 287.2 L407.8 287.1 L406.8 287.1 L406 287 L405.9 286.6 L405.8 286.1 L405.6 285.6 L405.4 284.9 L405.3 284.2 L405.2 283.3 L405.3 282.2 L405.4 281 L405.7 279.5 L406.1 277.8 L406.7 275.9 L407.3 273.9 L407.9 271.8 L408.5 269.8 L409 267.8 L409.5 266 L409.9 264.2 L410.3 262.4 L410.7 260.6 L411 258.8 L411.3 257.2 L411.6 255.7 L411.8 254.4 L412 253.5 L412.6 253.2 L413.3 252.7 L414.2 252.2 L415.2 251.7 L416.2 251 L417.3 250.3 L418.3 249.5 L419.2 248.7 L420 247.8 L420.9 246.7 L421.7 245.6 L422.5 244.4 L423.3 243.2 L424.1 242 L424.8 240.8 L425.5 239.6 L426.2 238.4 L426.9 237.1 L427.6 235.8 L428.2 234.5 L428.8 233.2 L429.3 232.1 L429.8 231.2 L430.1 230.5Z" fill="url(#rbf)" stroke="none" stroke-width="0.8" />
<g clip-path="url(#rbk)"><circle cx="532" cy="318" r="16" fill="url(#rbl)"/><circle cx="534" cy="286" r="13" fill="url(#rbh)"/></g>
<path d="M521.5 254.8 L521.7 255.8 L522 257.2 L522.4 258.9 L522.8 260.8 L523.3 262.7 L523.8 264.6 L524.3 266.4 L524.8 268 L525.3 269.4 L525.9 270.8 L526.5 272.1 L527.2 273.4 L527.8 274.6 L528.5 275.7 L529.3 276.9 L530 278 L530.8 279.1 L531.8 280.2 L532.8 281.4 L533.8 282.4 L534.8 283.4 L535.7 284.3 L536.4 285 L537 285.6" fill="none" stroke="#555" stroke-width="0.7" />
<path d="M537 285.6 L536.7 286.4 L536.3 287.5 L535.8 288.8 L535.3 290.2 L534.7 291.7 L534.2 293.2 L533.8 294.6 L533.5 296 L533.3 297.3 L533.2 298.5 L533.3 299.7 L533.3 300.9 L533.3 302.1 L533.3 303.4 L533.2 304.6 L533 306 L532.6 307.5 L532.1 309.2 L531.5 311 L530.9 312.7 L530.3 314.4 L529.7 316 L529.2 317.2 L528.9 318.2" fill="none" stroke="#555" stroke-width="0.7" />
<path d="M406 287 L405.9 286.6 L405.8 286.1 L405.6 285.6 L405.4 284.9 L405.3 284.2 L405.2 283.3 L405.3 282.2 L405.4 281 L405.7 279.5 L406.1 277.8 L406.7 275.9 L407.3 273.9 L407.9 271.8 L408.5 269.8 L409 267.8 L409.5 266 L409.9 264.2 L410.3 262.4 L410.7 260.6 L411 258.8 L411.3 257.2 L411.6 255.7 L411.8 254.4 L412 253.5" fill="none" stroke="#555" stroke-width="0.7" />
<path d="M412 253.5 L412.6 253.2 L413.3 252.7 L414.2 252.2 L415.2 251.7 L416.2 251 L417.3 250.3 L418.3 249.5 L419.2 248.7 L420 247.8 L420.9 246.7 L421.7 245.6 L422.5 244.4 L423.3 243.2 L424.1 242 L424.8 240.8 L425.5 239.6 L426.2 238.4 L426.9 237.1 L427.6 235.8 L428.2 234.5 L428.8 233.2 L429.3 232.1 L429.8 231.2 L430.1 230.5" fill="none" stroke="#555" stroke-width="0.7" />
<path d="M430.1 230.5 L430.2 231.5 L430.4 232.8 L430.5 234.4 L430.7 236.2 L430.9 238 L431.2 239.9 L431.5 241.6 L431.9 243.2 L432.3 244.7 L432.9 246.2 L433.4 247.7 L434 249.1 L434.7 250.5 L435.3 251.8 L435.9 253 L436.5 254.1 L437.1 255.1 L437.7 256 L438.4 256.8 L439 257.5 L439.6 258.1 L440.2 258.7 L440.7 259.1 L441 259.5" fill="none" stroke="#666" stroke-width="0.7" />
<path d="M528.9 318.2 L527.4 318.3 L525.4 318.4 L523 318.5 L520.4 318.7 L517.5 318.8 L514.5 319 L511.5 319.3 L508.5 319.6 L505.4 320 L501.9 320.4 L498.4 320.8 L494.7 321.4 L491.1 321.9 L487.6 322.4 L484.3 323 L481.4 323.6 L478.8 324.2 L476.4 324.9 L474.1 325.5 L472.1 326.2 L470.1 326.9 L468.3 327.6 L466.7 328.3 L465.1 329 L463.6 329.7 L462.3 330.4 L461.1 331.1 L460 331.8 L459.1 332.5 L458.3 333.1 L457.6 333.6 L457 334" fill="none" stroke="#c8a0b4" stroke-width="0.6" />
<g><circle cx="486.3" cy="259.9" r="4.5" fill="#c4f020"/><circle cx="486.3" cy="260.9" r="4.5" fill="#c4f020"/><circle cx="486.3" cy="261.9" r="4.6" fill="#c4f020"/><circle cx="486.4" cy="262.9" r="4.7" fill="#c4f020"/><circle cx="486.4" cy="263.9" r="4.7" fill="#c4f020"/><circle cx="486.4" cy="265" r="4.7" fill="#d0e324"/><circle cx="486.4" cy="266" r="4.7" fill="#dcd428"/><circle cx="486.5" cy="267" r="4.7" fill="#e8c62c"/><circle cx="486.5" cy="268" r="4.7" fill="#f4b830"/><circle cx="486.5" cy="269" r="4.7" fill="#f4b230"/><circle cx="486.5" cy="270" r="4.8" fill="#f3ad2f"/><circle cx="486.5" cy="271" r="4.8" fill="#f3a72f"/><circle cx="486.6" cy="272" r="4.8" fill="#f2a12e"/><circle cx="486.6" cy="273.1" r="4.9" fill="#f29b2e"/><circle cx="486.6" cy="274.1" r="4.9" fill="#f1962d"/><circle cx="486.7" cy="275.1" r="4.9" fill="#f1902d"/><circle cx="486.8" cy="276.1" r="5" fill="#f08a2c"/><circle cx="487" cy="277.1" r="5" fill="#f0822c"/><circle cx="487.2" cy="278.1" r="5.1" fill="#f0792b"/><circle cx="487.4" cy="279.1" r="5.2" fill="#f0712b"/><circle cx="487.6" cy="280.1" r="5.2" fill="#f0692b"/><circle cx="487.9" cy="281" r="5.3" fill="#f0612b"/><circle cx="488.2" cy="282" r="5.4" fill="#f0582a"/><circle cx="488.4" cy="283" r="5.4" fill="#f0502a"/><circle cx="488.6" cy="284" r="5.6" fill="#f0442a"/><circle cx="488.8" cy="285" r="5.7" fill="#f03829"/><circle cx="489" cy="286" r="5.8" fill="#f02c29"/><circle cx="489.2" cy="287" r="6" fill="#f02028"/><circle cx="489.4" cy="288" r="6.1" fill="#f01528"/><circle cx="489.6" cy="288.9" r="6.2" fill="#f01329"/><circle cx="489.8" cy="289.9" r="6.2" fill="#f0132a"/><circle cx="490" cy="290.9" r="6.2" fill="#f0122b"/><circle cx="490.2" cy="291.9" r="6.3" fill="#f0122c"/><circle cx="490.4" cy="292.9" r="6.3" fill="#f0112e"/><circle cx="490.6" cy="293.9" r="6.3" fill="#f0112f"/><circle cx="490.9" cy="294.9" r="6.4" fill="#f01030"/><circle cx="491.1" cy="295.9" r="6.3" fill="#f01035"/><circle cx="491.3" cy="296.9" r="6.3" fill="#f0103a"/><circle cx="491.6" cy="297.8" r="6.3" fill="#f01040"/><circle cx="491.8" cy="298.8" r="6.2" fill="#f01046"/><circle cx="492.1" cy="299.8" r="6.2" fill="#f0104b"/><circle cx="492.3" cy="300.8" r="6.2" fill="#f01051"/><circle cx="492.6" cy="301.8" r="6.1" fill="#f01057"/><circle cx="492.7" cy="302.8" r="6" fill="#f01061"/><circle cx="492.9" cy="303.8" r="5.9" fill="#f0106d"/><circle cx="493.1" cy="304.8" r="5.8" fill="#f01079"/><circle cx="493.2" cy="305.8" r="5.7" fill="#f01085"/><circle cx="493.3" cy="306.8" r="5.6" fill="#f01091"/><circle cx="493.4" cy="307.8" r="5.5" fill="#f0109d"/><circle cx="493.4" cy="308.8" r="5.4" fill="#f011a6"/><circle cx="493.5" cy="309.8" r="5.3" fill="#f012ad"/><circle cx="493.5" cy="310.8" r="5.3" fill="#f013b4"/><circle cx="493.6" cy="311.8" r="5.2" fill="#f014bb"/><circle cx="493.6" cy="312.8" r="5.1" fill="#f015c2"/><circle cx="493.6" cy="313.9" r="5.1" fill="#f016c9"/><circle cx="493.6" cy="314.9" r="5" fill="#f017d0"/><circle cx="493.6" cy="315.9" r="5" fill="#f018d7"/><circle cx="493.6" cy="316.9" r="4.9" fill="#ee19da"/><circle cx="493.6" cy="317.9" r="4.9" fill="#ed1add"/><circle cx="493.6" cy="318.9" r="4.8" fill="#eb1be0"/><circle cx="493.6" cy="319.9" r="4.7" fill="#e91be2"/><circle cx="493.6" cy="320.9" r="4.7" fill="#e71ce5"/><circle cx="493.6" cy="322" r="4.6" fill="#e51de8"/><circle cx="493.6" cy="323" r="4.6" fill="#e41eeb"/><circle cx="493.6" cy="324" r="4.5" fill="#e21fed"/><circle cx="493.6" cy="325" r="4.5" fill="#e020f0"/></g>
<g><circle cx="440.2" cy="247.6" r="4.2" fill="#c4f020"/><circle cx="440" cy="248.6" r="4.3" fill="#c4f020"/><circle cx="439.8" cy="249.6" r="4.4" fill="#c4f020"/><circle cx="439.6" cy="250.6" r="4.5" fill="#c4f020"/><circle cx="439.3" cy="251.6" r="4.5" fill="#c0e221"/><circle cx="439" cy="252.5" r="4.5" fill="#bac922"/><circle cx="438.7" cy="253.5" r="4.5" fill="#b3b123"/><circle cx="438.4" cy="254.5" r="4.5" fill="#ad9e25"/><circle cx="438.1" cy="255.4" r="4.5" fill="#a79226"/><circle cx="437.8" cy="256.4" r="4.5" fill="#a18627"/><circle cx="437.5" cy="257.4" r="4.5" fill="#9a7a29"/><circle cx="437.2" cy="258.3" r="4.5" fill="#946e2a"/><circle cx="436.8" cy="259.3" r="4.5" fill="#8e622b"/><circle cx="436.5" cy="260.2" r="4.5" fill="#8d582c"/><circle cx="436" cy="261.2" r="4.5" fill="#95512d"/><circle cx="435.6" cy="262.1" r="4.6" fill="#9d4b2d"/><circle cx="435.2" cy="263" r="4.6" fill="#a5452e"/><circle cx="434.7" cy="263.9" r="4.6" fill="#ad3f2f"/><circle cx="434.2" cy="264.8" r="4.7" fill="#b5392f"/><circle cx="433.7" cy="265.7" r="4.7" fill="#bd3230"/><circle cx="433.2" cy="266.5" r="4.8" fill="#c52d2f"/><circle cx="432.6" cy="267.4" r="4.9" fill="#cd292e"/><circle cx="432" cy="268.2" r="4.9" fill="#d6252c"/><circle cx="431.4" cy="269" r="5" fill="#de212b"/><circle cx="430.7" cy="269.8" r="5.1" fill="#e61d2a"/><circle cx="430" cy="270.5" r="5.2" fill="#ee1928"/><circle cx="429.3" cy="271.3" r="5.2" fill="#f01729"/><circle cx="428.6" cy="272" r="5.2" fill="#f0162a"/><circle cx="427.8" cy="272.6" r="5.2" fill="#f0152b"/><circle cx="427.1" cy="273.3" r="5.2" fill="#f0142c"/><circle cx="426.3" cy="273.9" r="5.2" fill="#f0132d"/><circle cx="425.5" cy="274.6" r="5.2" fill="#f0122e"/><circle cx="424.8" cy="275.3" r="5.2" fill="#f0112f"/><circle cx="424" cy="276" r="5.2" fill="#f01030"/><circle cx="423.3" cy="276.7" r="5.2" fill="#f01034"/><circle cx="422.6" cy="277.4" r="5.1" fill="#f01039"/><circle cx="421.8" cy="278.1" r="5.1" fill="#f0103d"/><circle cx="421.1" cy="278.8" r="5.1" fill="#f01041"/><circle cx="420.4" cy="279.6" r="5" fill="#f01045"/><circle cx="419.8" cy="280.4" r="5" fill="#f0104a"/><circle cx="419.2" cy="281.2" r="5" fill="#f0104e"/><circle cx="418.7" cy="282.1" r="4.9" fill="#ef1055"/><circle cx="418.3" cy="283" r="4.9" fill="#ef105e"/><circle cx="417.9" cy="284" r="4.9" fill="#ee1067"/><circle cx="417.5" cy="284.9" r="4.9" fill="#ed1070"/><circle cx="417.2" cy="285.9" r="4.8" fill="#ec1079"/><circle cx="416.9" cy="286.8" r="4.8" fill="#eb1083"/><circle cx="416.6" cy="287.8" r="4.8" fill="#ea108c"/><circle cx="416.3" cy="288.8" r="4.8" fill="#e91095"/><circle cx="416.1" cy="289.8" r="4.7" fill="#e8109e"/><circle cx="415.8" cy="290.8" r="4.7" fill="#e710a5"/><circle cx="415.6" cy="291.7" r="4.7" fill="#e610ad"/><circle cx="415.5" cy="292.8" r="4.6" fill="#e510b4"/><circle cx="415.3" cy="293.8" r="4.6" fill="#e410bb"/><circle cx="415.2" cy="294.8" r="4.6" fill="#e310c2"/><circle cx="415.1" cy="295.8" r="4.5" fill="#e210ca"/><circle cx="415" cy="296.8" r="4.5" fill="#e110d1"/><circle cx="414.9" cy="297.8" r="4.5" fill="#e010d8"/></g>
<path d="M334.1 320.5 L334.7 320.4 L335.4 320.3 L336.3 320.2 L337.3 320.1 L338.3 319.9 L339.3 319.7 L340.2 319.4 L340.9 319.1 L341.4 318.7 L341.9 318.3 L342.2 317.8 L342.6 317.2 L342.8 316.6 L343.1 316 L343.4 315.3 L343.7 314.6 L344 313.8 L344.4 313 L344.7 312 L345.1 311.1 L345.4 310.1 L345.7 309.1 L346.1 308.2 L346.4 307.3 L346.8 306.4 L347.1 305.4 L347.5 304.5 L347.9 303.5 L348.3 302.7 L348.6 301.9 L348.9 301.2 L349.1 300.7 L349.5 300.4 L350.1 300.1 L350.7 299.7 L351.5 299.2 L352.3 298.7 L353.2 298.2 L354.1 297.7 L355 297.3 L356 296.9 L357 296.5 L358.1 296.1 L359.3 295.7 L360.5 295.3 L361.7 294.9 L363 294.5 L364.2 294.1 L365.5 293.7 L366.8 293.3 L368.1 293 L369.4 292.6 L370.8 292.2 L372.2 291.9 L373.6 291.5 L375 291.2 L376.4 290.9 L377.9 290.5 L379.3 290.2 L380.8 289.9 L382.3 289.6 L383.8 289.3 L385.3 289 L386.9 288.7 L388.5 288.4 L390.1 288.2 L391.8 287.9 L393.4 287.7 L395.1 287.5 L396.8 287.3 L398.4 287.1 L400 287 L401.6 286.9 L403.1 286.9 L404.7 286.9 L406.2 286.9 L407.7 286.9 L409.2 287 L410.6 287.1 L412 287.2 L413.4 287.3 L414.7 287.5 L416 287.6 L417.2 287.8 L418.5 288.1 L419.7 288.3 L420.9 288.6 L422 289 L423.1 289.4 L424.3 289.9 L425.4 290.4 L426.4 290.9 L427.5 291.5 L428.4 292.1 L429.3 292.8 L430 293.5 L430.7 294.3 L431.2 295.2 L431.8 296.1 L432.2 297 L432.5 298 L432.8 299 L432.9 300 L433 301 L432.9 302 L432.7 303 L432.4 304 L432 305 L431.5 306 L431 307 L430.5 308 L430 309 L429.5 310 L429.1 310.9 L428.6 311.8 L428.1 312.7 L427.5 313.6 L426.8 314.6 L426 315.6 L425 316.7 L423.8 317.9 L422.6 319.2 L421.2 320.5 L419.7 321.9 L418 323.2 L416.3 324.6 L414.4 325.8 L412.4 326.9 L410.2 327.9 L407.8 328.9 L405.2 329.8 L402.5 330.6 L399.7 331.4 L397 332.1 L394.4 332.8 L392 333.3 L389.7 333.7 L387.3 334.1 L385 334.3 L382.8 334.5 L380.6 334.7 L378.6 334.8 L376.7 334.9 L375 335 L373.5 335.1 L372.2 335.2 L371 335.2 L370 335.2 L369 335.2 L368.1 335.2 L367.1 335.2 L366 335.2 L364.8 335.2 L363.7 335.1 L362.5 335.1 L361.3 335 L360.1 334.9 L359 334.9 L357.9 334.7 L356.9 334.6 L355.9 334.4 L355 334.2 L354 333.9 L353.1 333.7 L352.3 333.4 L351.6 333.2 L351 332.9 L350.5 332.8 L350.1 332.3 L349.7 331.6 L349.1 330.8 L348.5 329.9 L347.8 329 L347.1 328.1 L346.5 327.2 L345.9 326.4 L345.4 325.7 L344.9 324.9 L344.5 324.2 L344 323.4 L343.6 322.8 L343.1 322.2 L342.5 321.6 L341.8 321.2 L341 320.9 L339.9 320.7 L338.8 320.6 L337.7 320.5 L336.6 320.5 L335.6 320.5 L334.7 320.5 L334.1 320.5Z" fill="url(#rbn)" stroke="none" stroke-width="0.8" />
<path d="M334.1 320.5 L334.7 320.4 L335.4 320.3 L336.3 320.2 L337.3 320.1 L338.3 319.9 L339.3 319.7 L340.2 319.4 L340.9 319.1 L341.4 318.7 L341.9 318.3 L342.2 317.8 L342.6 317.2 L342.8 316.6 L343.1 316 L343.4 315.3 L343.7 314.6 L344 313.8 L344.4 313 L344.7 312 L345.1 311.1 L345.4 310.1 L345.7 309.1 L346.1 308.2 L346.4 307.3 L346.8 306.4 L347.1 305.4 L347.5 304.5 L347.9 303.5 L348.3 302.7 L348.6 301.9 L348.9 301.2 L349.1 300.7" fill="none" stroke="#555" stroke-width="0.7" />
<path d="M350.5 332.8 L350.1 332.3 L349.7 331.6 L349.1 330.8 L348.5 329.9 L347.8 329 L347.1 328.1 L346.5 327.2 L345.9 326.4 L345.4 325.7 L344.9 324.9 L344.5 324.2 L344 323.4 L343.6 322.8 L343.1 322.2 L342.5 321.6 L341.8 321.2 L341 320.9 L339.9 320.7 L338.8 320.6 L337.7 320.5 L336.6 320.5 L335.6 320.5 L334.7 320.5 L334.1 320.5" fill="none" stroke="#555" stroke-width="0.7" />
<path d="M349.1 300.7 L349.5 300.4 L350.1 300.1 L350.7 299.7 L351.5 299.2 L352.3 298.7 L353.2 298.2 L354.1 297.7 L355 297.3 L356 296.9 L357 296.5 L358.1 296.1 L359.3 295.7 L360.5 295.3 L361.7 294.9 L363 294.5 L364.2 294.1 L365.5 293.7 L366.8 293.3 L368.1 293 L369.4 292.6 L370.8 292.2 L372.2 291.9 L373.6 291.5 L375 291.2 L376.4 290.9 L377.9 290.5 L379.3 290.2 L380.8 289.9 L382.3 289.6 L383.8 289.3 L385.3 289 L386.9 288.7 L388.5 288.4 L390.1 288.2 L391.8 287.9 L393.4 287.7 L395.1 287.5 L396.8 287.3 L398.4 287.1 L400 287 L401.6 286.9 L403.1 286.9 L404.7 286.9 L406.2 286.9 L407.7 286.9 L409.2 287 L410.6 287.1 L412 287.2 L413.4 287.3 L414.7 287.5 L416 287.6 L417.2 287.8 L418.5 288.1 L419.7 288.3 L420.9 288.6 L422 289 L423.1 289.4 L424.3 289.9 L425.4 290.4 L426.4 290.9 L427.5 291.5 L428.4 292.1 L429.3 292.8 L430 293.5 L430.7 294.3 L431.2 295.2 L431.8 296.1 L432.2 297 L432.5 298 L432.8 299 L432.9 300 L433 301 L432.9 302 L432.7 303 L432.4 304 L432 305 L431.5 306 L431 307 L430.5 308 L430 309 L429.5 310 L429.1 310.9 L428.6 311.8 L428.1 312.7 L427.5 313.6 L426.8 314.6 L426 315.6 L425 316.7 L423.8 317.9 L422.6 319.2 L421.2 320.5 L419.7 321.9 L418 323.2 L416.3 324.6 L414.4 325.8 L412.4 326.9 L410.2 327.9 L407.8 328.9 L405.2 329.8 L402.5 330.6 L399.7 331.4 L397 332.1 L394.4 332.8 L392 333.3 L389.7 333.7 L387.3 334.1 L385 334.3 L382.8 334.5 L380.6 334.7 L378.6 334.8 L376.7 334.9 L375 335 L373.5 335.1 L372.2 335.2 L371 335.2 L370 335.2 L369 335.2 L368.1 335.2 L367.1 335.2 L366 335.2 L364.8 335.2 L363.7 335.1 L362.5 335.1 L361.3 335 L360.1 334.9 L359 334.9 L357.9 334.7 L356.9 334.6 L355.9 334.4 L355 334.2 L354 333.9 L353.1 333.7 L352.3 333.4 L351.6 333.2 L351 332.9 L350.5 332.8" fill="none" stroke="#b88ca4" stroke-width="0.6" />
<g><circle cx="424" cy="276" r="5.2" fill="#f01030"/><circle cx="423.3" cy="276.7" r="5.2" fill="#f01034"/><circle cx="422.6" cy="277.4" r="5.1" fill="#f01039"/><circle cx="421.8" cy="278.1" r="5.1" fill="#f0103d"/><circle cx="421.1" cy="278.9" r="5.1" fill="#f01041"/><circle cx="420.4" cy="279.6" r="5" fill="#f01046"/><circle cx="419.8" cy="280.4" r="5" fill="#f0104a"/><circle cx="419.2" cy="281.2" r="5" fill="#f0104e"/><circle cx="418.7" cy="282.1" r="4.9" fill="#ef1055"/><circle cx="418.3" cy="283" r="4.9" fill="#ef105e"/><circle cx="417.9" cy="284" r="4.9" fill="#ee1067"/><circle cx="417.5" cy="284.9" r="4.9" fill="#ed1071"/><circle cx="417.2" cy="285.9" r="4.8" fill="#ec107a"/><circle cx="416.9" cy="286.8" r="4.8" fill="#eb1083"/><circle cx="416.6" cy="287.8" r="4.8" fill="#ea108c"/><circle cx="416.3" cy="288.8" r="4.8" fill="#e91095"/><circle cx="416.1" cy="289.8" r="4.7" fill="#e8109e"/><circle cx="415.8" cy="290.8" r="4.7" fill="#e710a6"/><circle cx="415.6" cy="291.8" r="4.7" fill="#e610ad"/><circle cx="415.5" cy="292.8" r="4.6" fill="#e510b4"/><circle cx="415.3" cy="293.8" r="4.6" fill="#e410bb"/><circle cx="415.2" cy="294.8" r="4.6" fill="#e310c2"/><circle cx="415.1" cy="295.8" r="4.5" fill="#e210ca"/><circle cx="415" cy="296.8" r="4.5" fill="#e110d1"/><circle cx="414.9" cy="297.8" r="4.5" fill="#e010d8"/></g>
<g><circle cx="389.5" cy="295" r="4.5" fill="#c4f020"/><circle cx="389.4" cy="296" r="4.5" fill="#c4f020"/><circle cx="389.3" cy="297" r="4.6" fill="#c4f020"/><circle cx="389.2" cy="298.1" r="4.6" fill="#c5f020"/><circle cx="389.1" cy="299.1" r="4.6" fill="#d3ea20"/><circle cx="388.9" cy="300.1" r="4.6" fill="#e0e520"/><circle cx="388.8" cy="301.1" r="4.6" fill="#ecde20"/><circle cx="388.7" cy="302.2" r="4.6" fill="#edcf20"/><circle cx="388.6" cy="303.2" r="4.6" fill="#eec020"/><circle cx="388.5" cy="304.2" r="4.7" fill="#eeb120"/><circle cx="388.4" cy="305.2" r="4.7" fill="#efa320"/><circle cx="388.2" cy="306.2" r="4.7" fill="#f09420"/><circle cx="388.1" cy="307.3" r="4.7" fill="#f08220"/><circle cx="387.9" cy="308.3" r="4.7" fill="#f07020"/><circle cx="387.7" cy="309.3" r="4.7" fill="#f05e20"/><circle cx="387.5" cy="310.3" r="4.7" fill="#f04c20"/><circle cx="387.3" cy="311.3" r="4.7" fill="#f03c22"/><circle cx="387.2" cy="312.3" r="4.8" fill="#f02f2a"/><circle cx="387" cy="313.3" r="4.9" fill="#f02332"/><circle cx="386.9" cy="314.4" r="5" fill="#f0183a"/><circle cx="386.7" cy="315.4" r="5" fill="#ee164a"/><circle cx="386.5" cy="316.4" r="5" fill="#ed1559"/><circle cx="386.4" cy="317.4" r="5" fill="#ec1469"/><circle cx="386.2" cy="318.4" r="5" fill="#ea1278"/><circle cx="386.1" cy="319.4" r="5" fill="#e91188"/><circle cx="386" cy="320.5" r="4.9" fill="#e71095"/><circle cx="385.9" cy="321.5" r="4.9" fill="#e4109f"/><circle cx="385.8" cy="322.5" r="4.8" fill="#e110a9"/><circle cx="385.7" cy="323.5" r="4.8" fill="#de10b3"/><circle cx="385.7" cy="324.6" r="4.8" fill="#db10be"/><circle cx="385.6" cy="325.6" r="4.7" fill="#d810c8"/></g>
<path d="M405.4 281 L405.5 281.4 L405.6 281.9 L405.7 282.5 L405.8 283.2 L406 283.9 L406.3 284.6 L406.7 285.1 L407.3 285.5 L408.1 285.7 L409 285.9 L410.1 285.9 L411.3 285.9 L412.5 285.9 L413.8 285.9 L415.1 285.9 L416.4 286 L417.7 286.1 L419.1 286.3 L420.6 286.5 L422 286.6 L423.5 286.9 L424.9 287.1 L426.2 287.4 L427.4 287.8 L428.5 288.2 L429.5 288.7 L430.4 289.3 L431.2 289.8 L432.1 290.4 L432.9 291.1 L433.7 291.7 L434.6 292.4 L435.5 293.1 L436.5 293.9 L437.4 294.7 L438.3 295.5 L439.3 296.3 L440.2 297.1 L441.1 297.8 L441.9 298.5 L442.7 299.1 L443.5 299.6 L444.3 300.1 L445.1 300.5 L445.9 301 L446.6 301.4 L447.2 302 L447.8 302.7 L448.3 303.4 L448.7 304.2 L449.1 305 L449.4 305.8 L449.7 306.8 L450 307.8 L450.4 309 L450.9 310.4 L451.5 312 L452.1 313.7 L452.8 315.6 L453.5 317.7 L454.2 319.8 L455 321.8 L455.6 323.9 L456.3 325.9 L456.9 327.8 L457.5 329.8 L458 331.7 L458.6 333.6 L459.2 335.5 L459.7 337.5 L460.3 339.4 L460.9 341.3 L461.5 343.3 L462.2 345.3 L462.9 347.4 L463.5 349.5 L464.2 351.5 L464.9 353.4 L465.6 355.1 L466.3 356.7 L467 358 L467.6 359.2 L468.2 360.2 L468.9 361.1 L469.5 362 L470.2 362.8 L470.9 363.6 L471.7 364.4 L472.6 365.3 L473.6 366.1 L474.7 367 L475.7 367.8 L476.8 368.6 L477.8 369.3 L478.7 370 L479.4 370.6 L479.9 371.1 L480.3 371.4 L480.6 371.7 L480.8 371.9 L481 372.2 L481.2 372.5 L481.4 373 L481.7 373.7 L482.1 374.7 L482.5 375.9 L482.9 377.4 L483.4 378.9 L483.8 380.4 L484.2 381.7 L484.6 382.9 L484.8 383.7 L483.9 383.1 L482.6 382.2 L481.1 381.1 L479.4 379.9 L477.7 378.7 L476.1 377.6 L474.7 376.5 L473.6 375.6 L472.8 374.9 L472.2 374.2 L471.8 373.7 L471.5 373.2 L471.2 372.7 L471 372.2 L470.6 371.6 L470.2 371 L469.7 370.3 L469.2 369.6 L468.6 368.9 L468 368.1 L467.4 367.3 L466.8 366.5 L466.2 365.7 L465.6 364.8 L465 364 L464.3 363.1 L463.6 362.3 L462.9 361.5 L462.2 360.6 L461.5 359.5 L460.8 358.4 L460.2 357 L459.6 355.4 L459 353.7 L458.4 351.7 L457.9 349.7 L457.3 347.6 L456.7 345.5 L456.2 343.5 L455.6 341.5 L455 339.6 L454.5 337.7 L453.9 335.7 L453.3 333.8 L452.8 331.9 L452.2 330 L451.6 328.1 L450.9 326.2 L450.2 324.2 L449.5 322.2 L448.8 320.1 L448 318.1 L447.2 316.1 L446.4 314.2 L445.6 312.5 L444.8 311 L443.9 309.7 L443.1 308.6 L442.2 307.6 L441.3 306.8 L440.3 306 L439.4 305.3 L438.5 304.7 L437.5 304 L436.5 303.4 L435.5 302.9 L434.6 302.4 L433.5 302 L432.5 301.6 L431.5 301.2 L430.5 300.9 L429.5 300.5 L428.5 300.1 L427.5 299.8 L426.5 299.5 L425.5 299.2 L424.5 299 L423.5 298.7 L422.5 298.4 L421.5 298 L420.5 297.6 L419.5 297.2 L418.5 296.7 L417.4 296.3 L416.4 295.8 L415.4 295.4 L414.5 294.9 L413.5 294.5 L412.5 294.2 L411.5 293.9 L410.5 293.7 L409.5 293.4 L408.6 293.2 L407.7 292.8 L407 292.2 L406.4 291.5 L406 290.5 L405.7 289.2 L405.5 287.7 L405.5 286.1 L405.4 284.5 L405.4 283.1 L405.4 281.9 L405.4 281Z" fill="url(#rbr)" stroke="none" stroke-width="0.7" fill-opacity="0.9"/>
<path d="M447.8 302.7 L448 303.2 L448.3 303.9 L448.6 304.7 L449 305.6 L449.4 306.6 L449.9 307.7 L450.4 309 L450.9 310.4 L451.5 312 L452.1 313.7 L452.8 315.6 L453.5 317.7 L454.2 319.8 L455 321.8 L455.6 323.9 L456.3 325.9 L456.9 327.8 L457.5 329.8 L458 331.7 L458.6 333.6 L459.2 335.5 L459.7 337.5 L460.3 339.4 L460.9 341.3 L461.5 343.3 L462.2 345.3 L462.9 347.4 L463.5 349.5 L464.2 351.5 L464.9 353.4 L465.6 355.1 L466.3 356.7 L467 358 L467.6 359.2 L468.2 360.2 L468.9 361.1 L469.5 362 L470.2 362.8 L470.9 363.6 L471.7 364.4 L472.6 365.3 L473.6 366.1 L474.7 367 L475.7 367.8 L476.8 368.6 L477.8 369.3 L478.7 370 L479.4 370.6 L479.9 371.1 L480.3 371.4 L480.6 371.7 L480.8 371.9 L481 372.2 L481.2 372.5 L481.4 373 L481.7 373.7 L482.1 374.7 L482.5 375.9 L482.9 377.4 L483.4 378.9 L483.8 380.4 L484.2 381.7 L484.6 382.9 L484.8 383.7" fill="none" stroke="#555" stroke-width="0.7" />
<path d="M484.8 383.7 L483.9 383.1 L482.6 382.2 L481.1 381.1 L479.4 379.9 L477.7 378.7 L476.1 377.6 L474.7 376.5 L473.6 375.6 L472.8 374.9 L472.2 374.2 L471.8 373.7 L471.5 373.2 L471.2 372.7 L471 372.2 L470.6 371.6 L470.2 371 L469.7 370.3 L469.2 369.6 L468.6 368.9 L468 368.1 L467.4 367.3 L466.8 366.5 L466.2 365.7 L465.6 364.8 L465 364 L464.3 363.1 L463.6 362.3 L462.9 361.5 L462.2 360.6 L461.5 359.5 L460.8 358.4 L460.2 357 L459.6 355.4 L459 353.7 L458.4 351.7 L457.9 349.7 L457.3 347.6 L456.7 345.5 L456.2 343.5 L455.6 341.5 L455 339.6 L454.5 337.7 L453.9 335.7 L453.3 333.8 L452.8 331.9 L452.2 330 L451.6 328.1 L450.9 326.2 L450.2 324.2 L449.3 322 L448.4 319.8 L447.6 317.6 L446.7 315.6 L445.9 313.7 L445.3 312.2 L444.8 311" fill="none" stroke="#555" stroke-width="0.7" />
<path d="M463.5 357 L463.9 357.6 L464.4 358.4 L465 359.4 L465.7 360.4 L466.4 361.5 L467.1 362.6 L467.8 363.6 L468.5 364.5 L469.1 365.3 L469.8 366 L470.4 366.7 L471 367.3 L471.7 367.9 L472.3 368.5 L472.9 369 L473.5 369.5 L474.1 369.9 L474.8 370.4 L475.4 370.7 L476.1 371.1 L476.7 371.4 L477.2 371.6 L477.7 371.8 L478 372" fill="none" stroke="#bcd2ec" stroke-width="1.6" stroke-opacity="0.9"/>
<g><circle cx="440.7" cy="311.4" r="4.2" fill="#c4f020"/><circle cx="440.9" cy="312.4" r="4.3" fill="#c4f020"/><circle cx="441.1" cy="313.4" r="4.3" fill="#c4f020"/><circle cx="441.4" cy="314.4" r="4.3" fill="#c4f020"/><circle cx="441.7" cy="315.3" r="4.4" fill="#c8ed20"/><circle cx="442.1" cy="316.3" r="4.4" fill="#d3e320"/><circle cx="442.6" cy="317.2" r="4.4" fill="#ded920"/><circle cx="443" cy="318.1" r="4.4" fill="#e8cf20"/><circle cx="443.4" cy="319" r="4.4" fill="#e9c720"/><circle cx="443.8" cy="320" r="4.4" fill="#eabe20"/><circle cx="444.2" cy="320.9" r="4.4" fill="#ebb620"/><circle cx="444.6" cy="321.8" r="4.4" fill="#ecad20"/><circle cx="445" cy="322.8" r="4.4" fill="#eda520"/><circle cx="445.4" cy="323.7" r="4.5" fill="#ee9c20"/><circle cx="445.9" cy="324.6" r="4.5" fill="#f09420"/><circle cx="446.4" cy="325.5" r="4.5" fill="#f08a20"/><circle cx="447" cy="326.3" r="4.5" fill="#f08020"/><circle cx="447.6" cy="327.1" r="4.6" fill="#f07620"/><circle cx="448.2" cy="327.9" r="4.6" fill="#f06c20"/><circle cx="448.9" cy="328.7" r="4.7" fill="#f06120"/><circle cx="449.5" cy="329.5" r="4.7" fill="#f05720"/><circle cx="450.2" cy="330.2" r="4.7" fill="#f04e20"/><circle cx="450.9" cy="331" r="4.7" fill="#f04620"/><circle cx="451.5" cy="331.8" r="4.7" fill="#f03e20"/><circle cx="452.2" cy="332.5" r="4.7" fill="#f03620"/><circle cx="452.9" cy="333.3" r="4.7" fill="#f02e20"/><circle cx="453.7" cy="334" r="4.7" fill="#f02620"/><circle cx="454.4" cy="334.6" r="4.7" fill="#f02020"/><circle cx="455.3" cy="335.2" r="4.8" fill="#f01d23"/><circle cx="456.1" cy="335.8" r="4.8" fill="#f01b25"/><circle cx="457" cy="336.3" r="4.8" fill="#f01828"/><circle cx="457.9" cy="336.8" r="4.9" fill="#f0162a"/><circle cx="458.8" cy="337.3" r="4.9" fill="#f0132d"/><circle cx="459.6" cy="337.8" r="4.9" fill="#f0112f"/><circle cx="460.5" cy="338.3" r="5" fill="#f01033"/><circle cx="461.4" cy="338.8" r="5" fill="#f01038"/><circle cx="462.3" cy="339.3" r="5" fill="#f0103e"/><circle cx="463.2" cy="339.7" r="5" fill="#f01043"/><circle cx="464" cy="340.3" r="5" fill="#f01048"/><circle cx="464.8" cy="341" r="5" fill="#f0104e"/><circle cx="465.5" cy="341.8" r="4.9" fill="#f01056"/><circle cx="466" cy="342.6" r="4.9" fill="#f01061"/><circle cx="466.5" cy="343.5" r="4.9" fill="#f0106c"/><circle cx="467" cy="344.4" r="4.8" fill="#f01077"/><circle cx="467.4" cy="345.3" r="4.8" fill="#f01081"/><circle cx="467.8" cy="346.3" r="4.8" fill="#f0108c"/><circle cx="468.2" cy="347.2" r="4.7" fill="#f01097"/><circle cx="468.6" cy="348.2" r="4.7" fill="#f010a1"/><circle cx="469" cy="349.1" r="4.6" fill="#ef10aa"/><circle cx="469.3" cy="350" r="4.6" fill="#ee10b3"/><circle cx="469.7" cy="351" r="4.5" fill="#ec10bc"/><circle cx="470.1" cy="351.9" r="4.4" fill="#eb10c5"/><circle cx="470.4" cy="352.9" r="4.4" fill="#ea10ce"/><circle cx="470.7" cy="353.8" r="4.3" fill="#e910d7"/><circle cx="471.1" cy="354.8" r="4.2" fill="#e810e0"/></g>
<path d="M455 322 L456.3 325.9 L458.8 333.5 L460.9 341.3 L462.5 346 L458 346 L456.3 341.3 L453.8 333.5 L451.6 325.9 L450.3 322Z" fill="url(#rbr)" stroke="none" stroke-width="0.7" fill-opacity="0.6"/>
<path d="M455 322 L455.1 322.3 L455.2 322.6 L455.3 323 L455.5 323.5 L455.7 324 L455.9 324.6 L456.1 325.2 L456.3 325.9 L456.6 326.7 L456.9 327.5 L457.2 328.5 L457.5 329.5 L457.8 330.5 L458.2 331.5 L458.5 332.5 L458.8 333.5 L459.1 334.5 L459.4 335.5 L459.6 336.5 L459.9 337.6 L460.2 338.6 L460.4 339.6 L460.7 340.5 L460.9 341.3 L461.1 342.1 L461.4 342.8 L461.6 343.5 L461.8 344.1 L462 344.7 L462.2 345.2 L462.4 345.7 L462.5 346" fill="none" stroke="#555" stroke-width="0.7" />
<path d="M458 346 L457.9 345.7 L457.7 345.2 L457.5 344.7 L457.3 344.1 L457.1 343.5 L456.8 342.8 L456.6 342.1 L456.3 341.3 L456 340.5 L455.7 339.6 L455.4 338.6 L455.1 337.6 L454.8 336.5 L454.4 335.5 L454.1 334.5 L453.8 333.5 L453.5 332.5 L453.2 331.5 L452.9 330.5 L452.6 329.5 L452.3 328.5 L452.1 327.5 L451.8 326.7 L451.6 325.9 L451.4 325.2 L451.2 324.6 L451 324 L450.8 323.5 L450.7 323 L450.5 322.6 L450.4 322.3 L450.3 322" fill="none" stroke="#555" stroke-width="0.7" />
<text x="292.9" y="295.5" font-size="14.8" font-family='"Liberation Sans", sans-serif' >0.05</text>
<text x="296.3" y="325.2" font-size="14.8" font-family='"Liberation Sans", sans-serif' >Δ<tspan font-style="italic" font-size="10.4" dy="2.8">k</tspan><tspan dy="-2.8">t</tspan></text>
<text x="293.1" y="346.2" font-size="14.8" font-family='"Liberation Sans", sans-serif' >−0.05</text>
<text x="319.9" y="363.2" font-size="14.8" font-family='"Liberation Sans", sans-serif' >−3</text>
<text x="374.5" y="393" font-size="14.8" font-family='"Liberation Sans", sans-serif' ><tspan font-style="italic">k</tspan><tspan font-style="italic" font-size="10.4" dy="2.8">x</tspan></text>
<text x="461.4" y="415.1" font-size="14.8" font-family='"Liberation Sans", sans-serif' >3</text>
<text x="483" y="406.3" font-size="14.8" font-family='"Liberation Sans", sans-serif' >−3</text>
<text x="523.8" y="362.5" font-size="14.8" font-family='"Liberation Sans", sans-serif' ><tspan font-style="italic">k</tspan><tspan font-style="italic" font-size="10.4" dy="2.8">y</tspan></text>
<text x="539.3" y="319.6" font-size="14.8" font-family='"Liberation Sans", sans-serif' >3</text>
<rect x="280" y="402.6" width="68.8" height="21.2" fill="#fff" stroke="#808080" stroke-width="1"/>
<text x="281.9" y="418.9" font-size="15.6" font-family='"Liberation Serif", serif' ><tspan font-style="italic">k</tspan><tspan font-style="italic" font-size="11.5" dy="3">B</tspan><tspan dy="-3">T=10</tspan><tspan font-size="11.5" dy="-5.4">−4</tspan><tspan dy="5.4">t</tspan></text>
<line x1="325.7" y1="517" x2="333.9" y2="569.3" stroke="#5a5a5a" stroke-width="0.8"/>
<line x1="333.9" y1="569.3" x2="476.9" y2="624.6" stroke="#5a5a5a" stroke-width="0.8"/>
<line x1="476.9" y1="624.6" x2="537.9" y2="531.5" stroke="#5a5a5a" stroke-width="0.8"/>
<line x1="405" y1="596.8" x2="405.6" y2="594.6" stroke="#5a5a5a" stroke-width="0.6"/>
<line x1="339" y1="571.3" x2="339.6" y2="569.1" stroke="#5a5a5a" stroke-width="0.6"/>
<line x1="472.5" y1="622.9" x2="473.1" y2="620.7" stroke="#5a5a5a" stroke-width="0.6"/>
<line x1="507.5" y1="578" x2="505.5" y2="577.2" stroke="#5a5a5a" stroke-width="0.6"/>
<line x1="479.5" y1="620.6" x2="477.5" y2="619.8" stroke="#5a5a5a" stroke-width="0.6"/>
<line x1="535.5" y1="535.2" x2="533.5" y2="534.4" stroke="#5a5a5a" stroke-width="0.6"/>
<line x1="326.4" y1="521.5" x2="328.4" y2="521.2" stroke="#5a5a5a" stroke-width="0.6"/>
<line x1="333.2" y1="565" x2="335.2" y2="564.7" stroke="#5a5a5a" stroke-width="0.6"/>
<path d="M430.1 452.5 L430.2 453.5 L430.4 454.8 L430.5 456.4 L430.7 458.2 L430.9 460 L431.2 461.9 L431.5 463.6 L431.9 465.2 L432.3 466.7 L432.8 468.2 L433.4 469.6 L434 471 L434.6 472.4 L435.2 473.7 L435.9 475 L436.5 476.1 L437.1 477.1 L437.8 478.1 L438.4 479 L439 479.8 L439.7 480.5 L440.4 481.2 L441.1 481.9 L441.9 482.5 L442.7 483.1 L443.5 483.5 L444.4 484 L445.3 484.4 L446.2 484.7 L447.1 485 L448.1 485.4 L449.1 485.7 L450.1 486 L451 486.4 L452 486.7 L453 487 L454 487.3 L455.2 487.6 L456.6 487.8 L458.2 487.9 L460 488 L462.1 488 L464.4 488 L466.7 488 L469.2 487.9 L471.6 487.8 L474.1 487.7 L476.4 487.5 L478.7 487.3 L480.9 487 L483.2 486.7 L485.5 486.4 L487.8 486.1 L490 485.7 L492.3 485.2 L494.6 484.8 L496.9 484.3 L499.4 483.8 L501.9 483.2 L504.4 482.5 L506.7 481.9 L509 481.3 L511.1 480.7 L512.9 480.2 L514.5 479.7 L515.9 479.2 L517.2 478.7 L518.3 478.2 L519.3 477.8 L520.2 477.4 L520.9 477.1 L521.5 476.8 L521.7 477.8 L522 479.2 L522.4 480.9 L522.8 482.8 L523.3 484.7 L523.8 486.6 L524.3 488.4 L524.8 490 L525.3 491.4 L525.9 492.8 L526.5 494.1 L527.2 495.4 L527.8 496.6 L528.5 497.7 L529.3 498.9 L530 500 L530.8 501.1 L531.8 502.2 L532.8 503.4 L533.8 504.4 L534.8 505.4 L535.7 506.3 L536.4 507 L537 507.6 L536.7 508.4 L536.3 509.5 L535.8 510.8 L535.3 512.2 L534.7 513.7 L534.2 515.2 L533.8 516.6 L533.5 518 L533.3 519.3 L533.2 520.5 L533.3 521.7 L533.3 522.9 L533.3 524.1 L533.3 525.4 L533.2 526.6 L533 528 L532.6 529.5 L532.1 531.2 L531.5 533 L530.9 534.7 L530.3 536.4 L529.7 538 L529.2 539.2 L528.9 540.2 L527.4 540.3 L525.4 540.4 L523 540.5 L520.4 540.7 L517.5 540.8 L514.5 541 L511.5 541.3 L508.5 541.6 L505.4 542 L501.9 542.4 L498.4 542.8 L494.7 543.4 L491.1 543.9 L487.6 544.4 L484.3 545 L481.4 545.6 L478.8 546.2 L476.4 546.9 L474.1 547.5 L472.1 548.2 L470.1 548.9 L468.3 549.6 L466.7 550.3 L465.1 551 L463.6 551.7 L462.3 552.4 L461.1 553.1 L460 553.8 L459.1 554.5 L458.3 555.1 L457.6 555.6 L457 556 L456.6 554.9 L456.1 553.5 L455.5 551.7 L454.9 549.8 L454.2 547.8 L453.4 545.8 L452.7 543.8 L452 542 L451.3 540.3 L450.6 538.6 L449.9 536.9 L449.2 535.2 L448.4 533.6 L447.7 532 L446.9 530.5 L446 529 L445.1 527.6 L444.2 526.2 L443.2 524.9 L442.2 523.6 L441.2 522.3 L440.2 521.1 L439.1 520 L438 519 L436.9 518 L435.7 517.1 L434.5 516.3 L433.2 515.6 L432 514.9 L430.7 514.2 L429.4 513.6 L428 513 L426.6 512.5 L425.1 512 L423.6 511.6 L422 511.2 L420.4 510.8 L418.9 510.5 L417.4 510.3 L416 510 L414.6 509.8 L413.1 509.6 L411.7 509.4 L410.2 509.3 L408.9 509.2 L407.8 509.1 L406.8 509.1 L406 509 L405.9 508.6 L405.8 508.1 L405.6 507.6 L405.4 506.9 L405.3 506.2 L405.2 505.3 L405.3 504.2 L405.4 503 L405.7 501.5 L406.1 499.8 L406.7 497.9 L407.3 495.9 L407.9 493.8 L408.5 491.8 L409 489.8 L409.5 488 L409.9 486.2 L410.3 484.4 L410.7 482.6 L411 480.8 L411.3 479.2 L411.6 477.7 L411.8 476.4 L412 475.5 L412.6 475.2 L413.3 474.7 L414.2 474.2 L415.2 473.7 L416.2 473 L417.3 472.3 L418.3 471.5 L419.2 470.7 L420 469.8 L420.9 468.7 L421.7 467.6 L422.5 466.4 L423.3 465.2 L424.1 464 L424.8 462.8 L425.5 461.6 L426.2 460.4 L426.9 459.1 L427.6 457.8 L428.2 456.5 L428.8 455.2 L429.3 454.1 L429.8 453.2 L430.1 452.5Z" fill="url(#rcf)" stroke="none" stroke-width="0.8" />
<g clip-path="url(#rck)"><circle cx="532" cy="540" r="16" fill="url(#rcl)"/><circle cx="534" cy="508" r="13" fill="url(#rch)"/></g>
<path d="M521.5 476.8 L521.7 477.8 L522 479.2 L522.4 480.9 L522.8 482.8 L523.3 484.7 L523.8 486.6 L524.3 488.4 L524.8 490 L525.3 491.4 L525.9 492.8 L526.5 494.1 L527.2 495.4 L527.8 496.6 L528.5 497.7 L529.3 498.9 L530 500 L530.8 501.1 L531.8 502.2 L532.8 503.4 L533.8 504.4 L534.8 505.4 L535.7 506.3 L536.4 507 L537 507.6" fill="none" stroke="#555" stroke-width="0.7" />
<path d="M537 507.6 L536.7 508.4 L536.3 509.5 L535.8 510.8 L535.3 512.2 L534.7 513.7 L534.2 515.2 L533.8 516.6 L533.5 518 L533.3 519.3 L533.2 520.5 L533.3 521.7 L533.3 522.9 L533.3 524.1 L533.3 525.4 L533.2 526.6 L533 528 L532.6 529.5 L532.1 531.2 L531.5 533 L530.9 534.7 L530.3 536.4 L529.7 538 L529.2 539.2 L528.9 540.2" fill="none" stroke="#555" stroke-width="0.7" />
<path d="M406 509 L405.9 508.6 L405.8 508.1 L405.6 507.6 L405.4 506.9 L405.3 506.2 L405.2 505.3 L405.3 504.2 L405.4 503 L405.7 501.5 L406.1 499.8 L406.7 497.9 L407.3 495.9 L407.9 493.8 L408.5 491.8 L409 489.8 L409.5 488 L409.9 486.2 L410.3 484.4 L410.7 482.6 L411 480.8 L411.3 479.2 L411.6 477.7 L411.8 476.4 L412 475.5" fill="none" stroke="#555" stroke-width="0.7" />
<path d="M412 475.5 L412.6 475.2 L413.3 474.7 L414.2 474.2 L415.2 473.7 L416.2 473 L417.3 472.3 L418.3 471.5 L419.2 470.7 L420 469.8 L420.9 468.7 L421.7 467.6 L422.5 466.4 L423.3 465.2 L424.1 464 L424.8 462.8 L425.5 461.6 L426.2 460.4 L426.9 459.1 L427.6 457.8 L428.2 456.5 L428.8 455.2 L429.3 454.1 L429.8 453.2 L430.1 452.5" fill="none" stroke="#555" stroke-width="0.7" />
<path d="M430.1 452.5 L430.2 453.5 L430.4 454.8 L430.5 456.4 L430.7 458.2 L430.9 460 L431.2 461.9 L431.5 463.6 L431.9 465.2 L432.3 466.7 L432.9 468.2 L433.4 469.7 L434 471.1 L434.7 472.5 L435.3 473.8 L435.9 475 L436.5 476.1 L437.1 477.1 L437.7 478 L438.4 478.8 L439 479.5 L439.6 480.1 L440.2 480.7 L440.7 481.1 L441 481.5" fill="none" stroke="#666" stroke-width="0.7" />
<path d="M528.9 540.2 L527.4 540.3 L525.4 540.4 L523 540.5 L520.4 540.7 L517.5 540.8 L514.5 541 L511.5 541.3 L508.5 541.6 L505.4 542 L501.9 542.4 L498.4 542.8 L494.7 543.4 L491.1 543.9 L487.6 544.4 L484.3 545 L481.4 545.6 L478.8 546.2 L476.4 546.9 L474.1 547.5 L472.1 548.2 L470.1 548.9 L468.3 549.6 L466.7 550.3 L465.1 551 L463.6 551.7 L462.3 552.4 L461.1 553.1 L460 553.8 L459.1 554.5 L458.3 555.1 L457.6 555.6 L457 556" fill="none" stroke="#c8a0b4" stroke-width="0.6" />
<g><circle cx="482.8" cy="479.3" r="4.5" fill="#90f020"/><circle cx="482.8" cy="480.3" r="4.5" fill="#9bf020"/><circle cx="482.8" cy="481.3" r="4.6" fill="#a6f020"/><circle cx="482.8" cy="482.3" r="4.6" fill="#b1f020"/><circle cx="482.8" cy="483.3" r="4.7" fill="#bcf020"/><circle cx="482.8" cy="484.3" r="4.7" fill="#c6ed21"/><circle cx="482.8" cy="485.3" r="4.7" fill="#cde423"/><circle cx="482.7" cy="486.3" r="4.7" fill="#d4da25"/><circle cx="482.7" cy="487.3" r="4.7" fill="#dcd028"/><circle cx="482.7" cy="488.3" r="4.7" fill="#e3c72a"/><circle cx="482.7" cy="489.3" r="4.7" fill="#eabd2d"/><circle cx="482.8" cy="490.3" r="4.7" fill="#f1b42f"/><circle cx="482.9" cy="491.3" r="4.7" fill="#f4ac30"/><circle cx="483" cy="492.3" r="4.8" fill="#f3a62f"/><circle cx="483.2" cy="493.3" r="4.8" fill="#f39f2f"/><circle cx="483.5" cy="494.2" r="4.8" fill="#f2992e"/><circle cx="483.7" cy="495.2" r="4.9" fill="#f2932e"/><circle cx="484" cy="496.2" r="4.9" fill="#f18c2d"/><circle cx="484.2" cy="497.1" r="4.9" fill="#f0862c"/><circle cx="484.5" cy="498.1" r="5" fill="#f07f2c"/><circle cx="484.8" cy="499.1" r="5" fill="#f0762b"/><circle cx="485.2" cy="500" r="5" fill="#f06d2b"/><circle cx="485.5" cy="500.9" r="5.1" fill="#f0642a"/><circle cx="485.9" cy="501.9" r="5.1" fill="#f05b2a"/><circle cx="486.2" cy="502.8" r="5.1" fill="#f05229"/><circle cx="486.6" cy="503.7" r="5.2" fill="#f04928"/><circle cx="486.9" cy="504.7" r="5.2" fill="#f04128"/><circle cx="487.3" cy="505.6" r="5.3" fill="#f03b28"/><circle cx="487.7" cy="506.5" r="5.4" fill="#f03428"/><circle cx="488.1" cy="507.5" r="5.5" fill="#f02d28"/><circle cx="488.4" cy="508.4" r="5.6" fill="#f02728"/><circle cx="488.8" cy="509.3" r="5.7" fill="#f02028"/><circle cx="489.2" cy="510.2" r="5.8" fill="#f01928"/><circle cx="489.6" cy="511.2" r="5.9" fill="#f01428"/><circle cx="490" cy="512.1" r="5.9" fill="#f01329"/><circle cx="490.4" cy="513" r="6" fill="#f0132a"/><circle cx="490.8" cy="513.9" r="6" fill="#f0122b"/><circle cx="491.2" cy="514.8" r="6" fill="#f0122d"/><circle cx="491.6" cy="515.7" r="6.1" fill="#f0112e"/><circle cx="491.9" cy="516.7" r="6.1" fill="#f0112f"/><circle cx="492.2" cy="517.6" r="6.1" fill="#f01030"/><circle cx="492.5" cy="518.6" r="6.1" fill="#f01035"/><circle cx="492.8" cy="519.6" r="6.1" fill="#f0103a"/><circle cx="493" cy="520.5" r="6.1" fill="#f01040"/><circle cx="493.2" cy="521.5" r="6" fill="#f01046"/><circle cx="493.4" cy="522.5" r="6" fill="#f0104c"/><circle cx="493.6" cy="523.5" r="6" fill="#f01051"/><circle cx="493.7" cy="524.5" r="5.9" fill="#f01057"/><circle cx="493.9" cy="525.5" r="5.9" fill="#f0105d"/><circle cx="494.1" cy="526.4" r="5.9" fill="#f01064"/><circle cx="494.2" cy="527.4" r="5.8" fill="#f0106d"/><circle cx="494.4" cy="528.4" r="5.8" fill="#f01076"/><circle cx="494.5" cy="529.4" r="5.7" fill="#f0107e"/><circle cx="494.6" cy="530.4" r="5.6" fill="#f01087"/><circle cx="494.8" cy="531.4" r="5.6" fill="#f01090"/><circle cx="494.9" cy="532.4" r="5.5" fill="#f01099"/><circle cx="495" cy="533.4" r="5.5" fill="#f010a2"/><circle cx="495" cy="534.4" r="5.4" fill="#f010aa"/><circle cx="495.1" cy="535.4" r="5.4" fill="#ef11b1"/><circle cx="495.1" cy="536.4" r="5.3" fill="#ee12b8"/><circle cx="495.1" cy="537.4" r="5.2" fill="#ed13bf"/><circle cx="495.1" cy="538.4" r="5.2" fill="#ec14c6"/><circle cx="495" cy="539.4" r="5.1" fill="#eb15ce"/><circle cx="495" cy="540.4" r="5.1" fill="#ea16d5"/><circle cx="495" cy="541.4" r="5" fill="#e917dc"/><circle cx="495" cy="542.4" r="4.9" fill="#e618e1"/><circle cx="495" cy="543.4" r="4.9" fill="#e319e3"/><circle cx="495" cy="544.4" r="4.8" fill="#df1ae5"/><circle cx="495" cy="545.4" r="4.8" fill="#db1be6"/><circle cx="495" cy="546.4" r="4.7" fill="#d71ce8"/><circle cx="495" cy="547.4" r="4.7" fill="#d31dea"/><circle cx="495" cy="548.4" r="4.6" fill="#d01eec"/><circle cx="495" cy="549.4" r="4.5" fill="#cc1fee"/><circle cx="495" cy="550.4" r="4.5" fill="#c820f0"/></g>
<g><circle cx="445.6" cy="467.6" r="4.2" fill="#80f020"/><circle cx="445.5" cy="468.6" r="4.3" fill="#8ff020"/><circle cx="445.4" cy="469.6" r="4.4" fill="#9ff020"/><circle cx="445.3" cy="470.6" r="4.4" fill="#aef020"/><circle cx="445.1" cy="471.6" r="4.5" fill="#bdf020"/><circle cx="444.9" cy="472.5" r="4.5" fill="#c8ed21"/><circle cx="444.6" cy="473.5" r="4.5" fill="#cfe822"/><circle cx="444.3" cy="474.5" r="4.5" fill="#d5e324"/><circle cx="444" cy="475.4" r="4.5" fill="#dcdd25"/><circle cx="443.6" cy="476.4" r="4.5" fill="#e3d827"/><circle cx="443.3" cy="477.3" r="4.5" fill="#e6d228"/><circle cx="443" cy="478.3" r="4.5" fill="#dfc728"/><circle cx="442.7" cy="479.2" r="4.5" fill="#d7bd28"/><circle cx="442.4" cy="480.2" r="4.5" fill="#cfb228"/><circle cx="442.1" cy="481.1" r="4.5" fill="#c8a828"/><circle cx="441.8" cy="482.1" r="4.5" fill="#c09e28"/><circle cx="441.4" cy="483" r="4.5" fill="#b89328"/><circle cx="441" cy="483.9" r="4.5" fill="#b18928"/><circle cx="440.6" cy="484.8" r="4.5" fill="#ae7f29"/><circle cx="440.2" cy="485.8" r="4.5" fill="#ab762b"/><circle cx="439.7" cy="486.7" r="4.5" fill="#a86d2c"/><circle cx="439.3" cy="487.5" r="4.6" fill="#a6642d"/><circle cx="438.7" cy="488.4" r="4.6" fill="#a35b2e"/><circle cx="438.1" cy="489.2" r="4.6" fill="#a05230"/><circle cx="437.4" cy="489.9" r="4.6" fill="#a74b30"/><circle cx="436.7" cy="490.6" r="4.6" fill="#b04530"/><circle cx="436" cy="491.3" r="4.7" fill="#b83f30"/><circle cx="435.2" cy="491.9" r="4.7" fill="#c13930"/><circle cx="434.4" cy="492.5" r="4.7" fill="#c93230"/><circle cx="433.6" cy="493.1" r="4.7" fill="#d22c30"/><circle cx="432.8" cy="493.6" r="4.7" fill="#d92730"/><circle cx="431.9" cy="494.1" r="4.8" fill="#dd242e"/><circle cx="431" cy="494.5" r="4.8" fill="#e1212d"/><circle cx="430" cy="494.9" r="4.8" fill="#e41e2c"/><circle cx="429.1" cy="495.2" r="4.9" fill="#e81b2b"/><circle cx="428.2" cy="495.6" r="4.9" fill="#ec1829"/><circle cx="427.2" cy="496" r="5" fill="#ef1528"/><circle cx="426.3" cy="496.5" r="5" fill="#f01429"/><circle cx="425.4" cy="496.9" r="5" fill="#f01329"/><circle cx="424.5" cy="497.3" r="5" fill="#f0132a"/><circle cx="423.6" cy="497.7" r="5" fill="#f0132b"/><circle cx="422.7" cy="498.2" r="5" fill="#f0122b"/><circle cx="421.8" cy="498.6" r="5" fill="#f0122c"/><circle cx="420.9" cy="499" r="5" fill="#f0122d"/><circle cx="420" cy="499.5" r="5" fill="#f0112d"/><circle cx="419.1" cy="499.9" r="5" fill="#f0112e"/><circle cx="418.2" cy="500.4" r="5" fill="#f0112e"/><circle cx="417.4" cy="500.9" r="5" fill="#f0102f"/><circle cx="416.5" cy="501.4" r="5" fill="#f01030"/><circle cx="415.7" cy="502" r="5" fill="#f01035"/><circle cx="414.9" cy="502.7" r="5" fill="#f0103b"/><circle cx="414.2" cy="503.4" r="5" fill="#f01042"/><circle cx="413.5" cy="504.1" r="5" fill="#f01049"/><circle cx="412.9" cy="504.9" r="5" fill="#f0104f"/><circle cx="412.3" cy="505.7" r="5" fill="#f01056"/><circle cx="411.8" cy="506.5" r="5" fill="#f0105c"/><circle cx="411.3" cy="507.4" r="4.9" fill="#ef1066"/><circle cx="410.8" cy="508.3" r="4.9" fill="#ee1072"/><circle cx="410.4" cy="509.2" r="4.9" fill="#ed107f"/><circle cx="410.1" cy="510.1" r="4.8" fill="#eb108b"/><circle cx="409.8" cy="511.1" r="4.8" fill="#ea1097"/><circle cx="409.6" cy="512.1" r="4.7" fill="#e810a4"/><circle cx="409.3" cy="513.1" r="4.7" fill="#e710ac"/><circle cx="409.1" cy="514" r="4.7" fill="#e510b2"/><circle cx="408.9" cy="515" r="4.7" fill="#e410b7"/><circle cx="408.7" cy="516" r="4.6" fill="#e210bd"/><circle cx="408.5" cy="517" r="4.6" fill="#e010c3"/><circle cx="408.3" cy="518" r="4.6" fill="#df10c9"/><circle cx="408.2" cy="518.9" r="4.6" fill="#dd10cf"/><circle cx="408" cy="519.9" r="4.5" fill="#db10d4"/><circle cx="407.8" cy="520.9" r="4.5" fill="#da10da"/><circle cx="407.6" cy="521.9" r="4.5" fill="#d810e0"/></g>
<path d="M334.1 542.5 L334.7 542.4 L335.4 542.3 L336.3 542.2 L337.3 542.1 L338.3 541.9 L339.3 541.7 L340.2 541.4 L340.9 541.1 L341.4 540.7 L341.9 540.3 L342.2 539.8 L342.6 539.2 L342.8 538.6 L343.1 538 L343.4 537.3 L343.7 536.6 L344 535.8 L344.4 535 L344.7 534 L345.1 533.1 L345.4 532.1 L345.7 531.1 L346.1 530.2 L346.4 529.3 L346.8 528.4 L347.1 527.4 L347.5 526.5 L347.9 525.5 L348.3 524.7 L348.6 523.9 L348.9 523.2 L349.1 522.7 L349.5 522.4 L350.1 522.1 L350.7 521.7 L351.5 521.2 L352.3 520.7 L353.2 520.2 L354.1 519.7 L355 519.3 L356 518.9 L357 518.5 L358.1 518.1 L359.3 517.7 L360.5 517.3 L361.7 516.9 L363 516.5 L364.2 516.1 L365.5 515.7 L366.8 515.3 L368.1 515 L369.4 514.6 L370.8 514.2 L372.2 513.9 L373.6 513.5 L375 513.2 L376.4 512.9 L377.9 512.5 L379.3 512.2 L380.8 511.9 L382.3 511.6 L383.8 511.3 L385.3 511 L386.9 510.7 L388.5 510.4 L390.1 510.2 L391.8 509.9 L393.4 509.7 L395.1 509.5 L396.8 509.3 L398.4 509.1 L400 509 L401.6 508.9 L403.1 508.9 L404.7 508.9 L406.2 508.9 L407.7 508.9 L409.2 509 L410.6 509.1 L412 509.2 L413.4 509.3 L414.7 509.5 L416 509.6 L417.2 509.8 L418.5 510.1 L419.7 510.3 L420.9 510.6 L422 511 L423.1 511.4 L424.3 511.9 L425.4 512.4 L426.4 512.9 L427.5 513.5 L428.4 514.1 L429.3 514.8 L430 515.5 L430.7 516.3 L431.2 517.2 L431.8 518.1 L432.2 519 L432.5 520 L432.8 521 L432.9 522 L433 523 L432.9 524 L432.7 525 L432.4 526 L432 527 L431.5 528 L431 529 L430.5 530 L430 531 L429.5 532 L429.1 532.9 L428.6 533.8 L428.1 534.7 L427.5 535.6 L426.8 536.6 L426 537.6 L425 538.7 L423.8 539.9 L422.6 541.2 L421.2 542.5 L419.7 543.9 L418 545.2 L416.3 546.6 L414.4 547.8 L412.4 548.9 L410.2 549.9 L407.8 550.9 L405.2 551.8 L402.5 552.6 L399.7 553.4 L397 554.1 L394.4 554.8 L392 555.3 L389.7 555.7 L387.3 556.1 L385 556.3 L382.8 556.5 L380.6 556.7 L378.6 556.8 L376.7 556.9 L375 557 L373.5 557.1 L372.2 557.2 L371 557.2 L370 557.2 L369 557.2 L368.1 557.2 L367.1 557.2 L366 557.2 L364.8 557.2 L363.7 557.1 L362.5 557.1 L361.3 557 L360.1 556.9 L359 556.9 L357.9 556.7 L356.9 556.6 L355.9 556.4 L355 556.2 L354 555.9 L353.1 555.7 L352.3 555.4 L351.6 555.2 L351 554.9 L350.5 554.8 L350.1 554.3 L349.7 553.6 L349.1 552.8 L348.5 551.9 L347.8 551 L347.1 550.1 L346.5 549.2 L345.9 548.4 L345.4 547.7 L344.9 546.9 L344.5 546.2 L344 545.4 L343.6 544.8 L343.1 544.2 L342.5 543.6 L341.8 543.2 L341 542.9 L339.9 542.7 L338.8 542.6 L337.7 542.5 L336.6 542.5 L335.6 542.5 L334.7 542.5 L334.1 542.5Z" fill="url(#rcn)" stroke="none" stroke-width="0.8" />
<path d="M334.1 542.5 L334.7 542.4 L335.4 542.3 L336.3 542.2 L337.3 542.1 L338.3 541.9 L339.3 541.7 L340.2 541.4 L340.9 541.1 L341.4 540.7 L341.9 540.3 L342.2 539.8 L342.6 539.2 L342.8 538.6 L343.1 538 L343.4 537.3 L343.7 536.6 L344 535.8 L344.4 535 L344.7 534 L345.1 533.1 L345.4 532.1 L345.7 531.1 L346.1 530.2 L346.4 529.3 L346.8 528.4 L347.1 527.4 L347.5 526.5 L347.9 525.5 L348.3 524.7 L348.6 523.9 L348.9 523.2 L349.1 522.7" fill="none" stroke="#555" stroke-width="0.7" />
<path d="M350.5 554.8 L350.1 554.3 L349.7 553.6 L349.1 552.8 L348.5 551.9 L347.8 551 L347.1 550.1 L346.5 549.2 L345.9 548.4 L345.4 547.7 L344.9 546.9 L344.5 546.2 L344 545.4 L343.6 544.8 L343.1 544.2 L342.5 543.6 L341.8 543.2 L341 542.9 L339.9 542.7 L338.8 542.6 L337.7 542.5 L336.6 542.5 L335.6 542.5 L334.7 542.5 L334.1 542.5" fill="none" stroke="#555" stroke-width="0.7" />
<path d="M349.1 522.7 L349.5 522.4 L350.1 522.1 L350.7 521.7 L351.5 521.2 L352.3 520.7 L353.2 520.2 L354.1 519.7 L355 519.3 L356 518.9 L357 518.5 L358.1 518.1 L359.3 517.7 L360.5 517.3 L361.7 516.9 L363 516.5 L364.2 516.1 L365.5 515.7 L366.8 515.3 L368.1 515 L369.4 514.6 L370.8 514.2 L372.2 513.9 L373.6 513.5 L375 513.2 L376.4 512.9 L377.9 512.5 L379.3 512.2 L380.8 511.9 L382.3 511.6 L383.8 511.3 L385.3 511 L386.9 510.7 L388.5 510.4 L390.1 510.2 L391.8 509.9 L393.4 509.7 L395.1 509.5 L396.8 509.3 L398.4 509.1 L400 509 L401.6 508.9 L403.1 508.9 L404.7 508.9 L406.2 508.9 L407.7 508.9 L409.2 509 L410.6 509.1 L412 509.2 L413.4 509.3 L414.7 509.5 L416 509.6 L417.2 509.8 L418.5 510.1 L419.7 510.3 L420.9 510.6 L422 511 L423.1 511.4 L424.3 511.9 L425.4 512.4 L426.4 512.9 L427.5 513.5 L428.4 514.1 L429.3 514.8 L430 515.5 L430.7 516.3 L431.2 517.2 L431.8 518.1 L432.2 519 L432.5 520 L432.8 521 L432.9 522 L433 523 L432.9 524 L432.7 525 L432.4 526 L432 527 L431.5 528 L431 529 L430.5 530 L430 531 L429.5 532 L429.1 532.9 L428.6 533.8 L428.1 534.7 L427.5 535.6 L426.8 536.6 L426 537.6 L425 538.7 L423.8 539.9 L422.6 541.2 L421.2 542.5 L419.7 543.9 L418 545.2 L416.3 546.6 L414.4 547.8 L412.4 548.9 L410.2 549.9 L407.8 550.9 L405.2 551.8 L402.5 552.6 L399.7 553.4 L397 554.1 L394.4 554.8 L392 555.3 L389.7 555.7 L387.3 556.1 L385 556.3 L382.8 556.5 L380.6 556.7 L378.6 556.8 L376.7 556.9 L375 557 L373.5 557.1 L372.2 557.2 L371 557.2 L370 557.2 L369 557.2 L368.1 557.2 L367.1 557.2 L366 557.2 L364.8 557.2 L363.7 557.1 L362.5 557.1 L361.3 557 L360.1 556.9 L359 556.9 L357.9 556.7 L356.9 556.6 L355.9 556.4 L355 556.2 L354 555.9 L353.1 555.7 L352.3 555.4 L351.6 555.2 L351 554.9 L350.5 554.8" fill="none" stroke="#b88ca4" stroke-width="0.6" />
<g><circle cx="427.1" cy="496.1" r="5" fill="#f01428"/><circle cx="426.2" cy="496.5" r="5" fill="#f01429"/><circle cx="425.2" cy="497" r="5" fill="#f01329"/><circle cx="424.3" cy="497.4" r="5" fill="#f0132a"/><circle cx="423.4" cy="497.9" r="5" fill="#f0132b"/><circle cx="422.5" cy="498.3" r="5" fill="#f0122b"/><circle cx="421.5" cy="498.7" r="5" fill="#f0122c"/><circle cx="420.6" cy="499.2" r="5" fill="#f0122d"/><circle cx="419.7" cy="499.7" r="5" fill="#f0112d"/><circle cx="418.8" cy="500.1" r="5" fill="#f0112e"/><circle cx="417.9" cy="500.6" r="5" fill="#f0112f"/><circle cx="417" cy="501.1" r="5" fill="#f0102f"/><circle cx="416.2" cy="501.7" r="5" fill="#f01031"/><circle cx="415.3" cy="502.3" r="5" fill="#f01038"/><circle cx="414.6" cy="503" r="5" fill="#f0103f"/><circle cx="413.8" cy="503.7" r="5" fill="#f01046"/><circle cx="413.2" cy="504.5" r="5" fill="#f0104c"/><circle cx="412.6" cy="505.3" r="5" fill="#f01053"/><circle cx="412" cy="506.2" r="5" fill="#f0105a"/><circle cx="411.5" cy="507.1" r="5" fill="#f01061"/><circle cx="410.9" cy="508" r="4.9" fill="#ee106e"/><circle cx="410.5" cy="508.9" r="4.9" fill="#ed107b"/><circle cx="410.2" cy="509.9" r="4.8" fill="#ec1087"/><circle cx="409.9" cy="510.9" r="4.8" fill="#ea1094"/><circle cx="409.6" cy="511.8" r="4.7" fill="#e910a1"/><circle cx="409.4" cy="512.8" r="4.7" fill="#e710ab"/><circle cx="409.2" cy="513.8" r="4.7" fill="#e610b1"/><circle cx="408.9" cy="514.8" r="4.7" fill="#e410b6"/><circle cx="408.7" cy="515.8" r="4.6" fill="#e210bc"/><circle cx="408.5" cy="516.9" r="4.6" fill="#e010c2"/><circle cx="408.4" cy="517.9" r="4.6" fill="#df10c8"/><circle cx="408.2" cy="518.9" r="4.6" fill="#dd10ce"/><circle cx="408" cy="519.9" r="4.5" fill="#db10d4"/><circle cx="407.8" cy="520.9" r="4.5" fill="#da10da"/><circle cx="407.6" cy="521.9" r="4.5" fill="#d810e0"/></g>
<g><circle cx="386.5" cy="532" r="4.5" fill="#f01830"/><circle cx="386.2" cy="533" r="4.5" fill="#f01638"/><circle cx="385.9" cy="534" r="4.6" fill="#f01540"/><circle cx="385.6" cy="535.1" r="4.6" fill="#f01349"/><circle cx="385.4" cy="536.1" r="4.7" fill="#f01151"/><circle cx="385.2" cy="537.1" r="4.7" fill="#f0105a"/><circle cx="385" cy="538.2" r="4.7" fill="#ee106d"/><circle cx="385" cy="539.2" r="4.7" fill="#ec1080"/><circle cx="385" cy="540.3" r="4.7" fill="#e91093"/><circle cx="385" cy="541.3" r="4.7" fill="#e610a3"/><circle cx="385.2" cy="542.4" r="4.6" fill="#e110ac"/><circle cx="385.4" cy="543.4" r="4.6" fill="#db10b5"/><circle cx="385.6" cy="544.5" r="4.5" fill="#d610bf"/><circle cx="385.8" cy="545.5" r="4.5" fill="#d010c8"/></g>
<g><circle cx="392.6" cy="520.5" r="4.2" fill="#70f020"/><circle cx="392.6" cy="521.5" r="4.3" fill="#7ef020"/><circle cx="392.6" cy="522.6" r="4.4" fill="#8cf020"/><circle cx="392.6" cy="523.6" r="4.5" fill="#9bf020"/><circle cx="392.6" cy="524.7" r="4.5" fill="#aced20"/><circle cx="392.5" cy="525.7" r="4.5" fill="#bee920"/><circle cx="392.4" cy="526.7" r="4.5" fill="#d1e520"/><circle cx="392.3" cy="527.8" r="4.5" fill="#e4e120"/><circle cx="392.2" cy="528.8" r="4.5" fill="#ebd620"/><circle cx="392.1" cy="529.8" r="4.5" fill="#eec920"/><circle cx="392" cy="530.9" r="4.5" fill="#f1bb20"/><circle cx="391.9" cy="531.9" r="4.5" fill="#f4ae20"/><circle cx="391.8" cy="532.9" r="4.5" fill="#f8a120"/><circle cx="391.6" cy="534" r="4.4" fill="#f69120"/><circle cx="391.4" cy="535" r="4.3" fill="#f48120"/><circle cx="391.2" cy="536" r="4.1" fill="#f27020"/><circle cx="391" cy="537" r="4" fill="#f06020"/></g>
<path d="M405.4 503 L405.5 503.4 L405.6 503.9 L405.7 504.5 L405.8 505.2 L406 505.9 L406.3 506.6 L406.7 507.1 L407.3 507.5 L408.1 507.7 L409 507.9 L410.1 507.9 L411.3 507.9 L412.5 507.9 L413.8 507.9 L415.1 507.9 L416.4 508 L417.7 508.1 L419.1 508.3 L420.6 508.5 L422 508.6 L423.5 508.9 L424.9 509.1 L426.2 509.4 L427.4 509.8 L428.5 510.2 L429.5 510.7 L430.4 511.3 L431.2 511.8 L432.1 512.4 L432.9 513.1 L433.7 513.7 L434.6 514.4 L435.5 515.1 L436.5 515.9 L437.4 516.7 L438.3 517.5 L439.3 518.3 L440.2 519.1 L441.1 519.8 L441.9 520.5 L442.7 521.1 L443.5 521.6 L444.3 522.1 L445.1 522.5 L445.9 523 L446.6 523.4 L447.2 524 L447.8 524.7 L448.3 525.4 L448.7 526.2 L449.1 527 L449.4 527.8 L449.7 528.8 L450 529.8 L450.4 531 L450.9 532.4 L451.5 534 L452.1 535.7 L452.8 537.6 L453.5 539.7 L454.2 541.8 L455 543.8 L455.6 545.9 L456.3 547.9 L456.9 549.8 L457.5 551.8 L458 553.7 L458.6 555.6 L459.2 557.5 L459.7 559.5 L460.3 561.4 L460.9 563.3 L461.5 565.3 L462.2 567.3 L462.9 569.4 L463.5 571.5 L464.2 573.5 L464.9 575.4 L465.6 577.1 L466.3 578.7 L467 580 L467.6 581.2 L468.2 582.2 L468.9 583.1 L469.5 584 L470.2 584.8 L470.9 585.6 L471.7 586.4 L472.6 587.3 L473.6 588.1 L474.7 589 L475.7 589.8 L476.8 590.6 L477.8 591.3 L478.7 592 L479.4 592.6 L479.9 593.1 L480.3 593.4 L480.6 593.7 L480.8 593.9 L481 594.2 L481.2 594.5 L481.4 595 L481.7 595.7 L482.1 596.7 L482.5 597.9 L482.9 599.4 L483.4 600.9 L483.8 602.4 L484.2 603.7 L484.6 604.9 L484.8 605.7 L483.9 605.1 L482.6 604.2 L481.1 603.1 L479.4 601.9 L477.7 600.7 L476.1 599.6 L474.7 598.5 L473.6 597.6 L472.8 596.9 L472.2 596.2 L471.8 595.7 L471.5 595.2 L471.2 594.7 L471 594.2 L470.6 593.6 L470.2 593 L469.7 592.3 L469.2 591.6 L468.6 590.9 L468 590.1 L467.4 589.3 L466.8 588.5 L466.2 587.7 L465.6 586.8 L465 586 L464.3 585.1 L463.6 584.3 L462.9 583.5 L462.2 582.6 L461.5 581.5 L460.8 580.4 L460.2 579 L459.6 577.4 L459 575.7 L458.4 573.7 L457.9 571.7 L457.3 569.6 L456.7 567.5 L456.2 565.5 L455.6 563.5 L455 561.6 L454.5 559.7 L453.9 557.7 L453.3 555.8 L452.8 553.9 L452.2 552 L451.6 550.1 L450.9 548.2 L450.2 546.2 L449.5 544.2 L448.8 542.1 L448 540.1 L447.2 538.1 L446.4 536.2 L445.6 534.5 L444.8 533 L443.9 531.7 L443.1 530.6 L442.2 529.6 L441.3 528.8 L440.3 528 L439.4 527.3 L438.5 526.7 L437.5 526 L436.5 525.4 L435.5 524.9 L434.6 524.4 L433.5 524 L432.5 523.6 L431.5 523.2 L430.5 522.9 L429.5 522.5 L428.5 522.1 L427.5 521.8 L426.5 521.5 L425.5 521.2 L424.5 521 L423.5 520.7 L422.5 520.4 L421.5 520 L420.5 519.6 L419.5 519.2 L418.5 518.7 L417.4 518.3 L416.4 517.8 L415.4 517.4 L414.5 516.9 L413.5 516.5 L412.5 516.2 L411.5 515.9 L410.5 515.7 L409.5 515.4 L408.6 515.2 L407.7 514.8 L407 514.2 L406.4 513.5 L406 512.5 L405.7 511.2 L405.5 509.7 L405.5 508.1 L405.4 506.5 L405.4 505.1 L405.4 503.9 L405.4 503Z" fill="url(#rcr)" stroke="none" stroke-width="0.7" fill-opacity="0.9"/>
<path d="M447.8 524.7 L448 525.2 L448.3 525.9 L448.6 526.7 L449 527.6 L449.4 528.6 L449.9 529.7 L450.4 531 L450.9 532.4 L451.5 534 L452.1 535.7 L452.8 537.6 L453.5 539.7 L454.2 541.8 L455 543.8 L455.6 545.9 L456.3 547.9 L456.9 549.8 L457.5 551.8 L458 553.7 L458.6 555.6 L459.2 557.5 L459.7 559.5 L460.3 561.4 L460.9 563.3 L461.5 565.3 L462.2 567.3 L462.9 569.4 L463.5 571.5 L464.2 573.5 L464.9 575.4 L465.6 577.1 L466.3 578.7 L467 580 L467.6 581.2 L468.2 582.2 L468.9 583.1 L469.5 584 L470.2 584.8 L470.9 585.6 L471.7 586.4 L472.6 587.3 L473.6 588.1 L474.7 589 L475.7 589.8 L476.8 590.6 L477.8 591.3 L478.7 592 L479.4 592.6 L479.9 593.1 L480.3 593.4 L480.6 593.7 L480.8 593.9 L481 594.2 L481.2 594.5 L481.4 595 L481.7 595.7 L482.1 596.7 L482.5 597.9 L482.9 599.4 L483.4 600.9 L483.8 602.4 L484.2 603.7 L484.6 604.9 L484.8 605.7" fill="none" stroke="#555" stroke-width="0.7" />
<path d="M484.8 605.7 L483.9 605.1 L482.6 604.2 L481.1 603.1 L479.4 601.9 L477.7 600.7 L476.1 599.6 L474.7 598.5 L473.6 597.6 L472.8 596.9 L472.2 596.2 L471.8 595.7 L471.5 595.2 L471.2 594.7 L471 594.2 L470.6 593.6 L470.2 593 L469.7 592.3 L469.2 591.6 L468.6 590.9 L468 590.1 L467.4 589.3 L466.8 588.5 L466.2 587.7 L465.6 586.8 L465 586 L464.3 585.1 L463.6 584.3 L462.9 583.5 L462.2 582.6 L461.5 581.5 L460.8 580.4 L460.2 579 L459.6 577.4 L459 575.7 L458.4 573.7 L457.9 571.7 L457.3 569.6 L456.7 567.5 L456.2 565.5 L455.6 563.5 L455 561.6 L454.5 559.7 L453.9 557.7 L453.3 555.8 L452.8 553.9 L452.2 552 L451.6 550.1 L450.9 548.2 L450.2 546.2 L449.3 544 L448.4 541.8 L447.6 539.6 L446.7 537.6 L445.9 535.7 L445.3 534.2 L444.8 533" fill="none" stroke="#555" stroke-width="0.7" />
<path d="M463.5 579 L463.9 579.6 L464.4 580.4 L465 581.4 L465.7 582.4 L466.4 583.5 L467.1 584.6 L467.8 585.6 L468.5 586.5 L469.1 587.3 L469.8 588 L470.4 588.7 L471 589.3 L471.7 589.9 L472.3 590.5 L472.9 591 L473.5 591.5 L474.1 591.9 L474.8 592.4 L475.4 592.7 L476.1 593.1 L476.7 593.4 L477.2 593.6 L477.7 593.8 L478 594" fill="none" stroke="#bcd2ec" stroke-width="1.6" stroke-opacity="0.9"/>
<g><circle cx="432.6" cy="534.1" r="4.2" fill="#80f020"/><circle cx="432.8" cy="535.1" r="4.3" fill="#8ef020"/><circle cx="433.1" cy="536.1" r="4.3" fill="#9bf020"/><circle cx="433.3" cy="537" r="4.3" fill="#a9f020"/><circle cx="433.6" cy="538" r="4.3" fill="#b6f020"/><circle cx="434" cy="539" r="4.4" fill="#c4f020"/><circle cx="434.4" cy="539.9" r="4.4" fill="#cbed20"/><circle cx="434.9" cy="540.8" r="4.4" fill="#d2ea20"/><circle cx="435.4" cy="541.6" r="4.4" fill="#d8e720"/><circle cx="436" cy="542.5" r="4.5" fill="#dfe420"/><circle cx="436.5" cy="543.4" r="4.5" fill="#e6e120"/><circle cx="437" cy="544.3" r="4.5" fill="#e9d820"/><circle cx="437.4" cy="545.2" r="4.5" fill="#eace20"/><circle cx="437.8" cy="546.1" r="4.5" fill="#ecc320"/><circle cx="438.3" cy="547" r="4.5" fill="#edb820"/><circle cx="438.8" cy="547.9" r="4.5" fill="#eeae20"/><circle cx="439.3" cy="548.7" r="4.5" fill="#f0a320"/><circle cx="439.9" cy="549.6" r="4.5" fill="#f09820"/><circle cx="440.5" cy="550.4" r="4.5" fill="#f08d20"/><circle cx="441.2" cy="551.1" r="4.5" fill="#f08120"/><circle cx="441.9" cy="551.9" r="4.6" fill="#f07620"/><circle cx="442.7" cy="552.5" r="4.6" fill="#f06a20"/><circle cx="443.5" cy="553.1" r="4.6" fill="#f05f20"/><circle cx="444.3" cy="553.7" r="4.6" fill="#f05620"/><circle cx="445.2" cy="554.1" r="4.6" fill="#f04e20"/><circle cx="446.2" cy="554.5" r="4.7" fill="#f04520"/><circle cx="447.1" cy="554.8" r="4.7" fill="#f03c20"/><circle cx="448.1" cy="555.1" r="4.7" fill="#f03320"/><circle cx="449.1" cy="555.3" r="4.7" fill="#f02d21"/><circle cx="450.1" cy="555.5" r="4.7" fill="#f02922"/><circle cx="451.1" cy="555.6" r="4.7" fill="#f02524"/><circle cx="452.1" cy="555.7" r="4.7" fill="#f02125"/><circle cx="453.1" cy="555.7" r="4.7" fill="#f01d26"/><circle cx="454.1" cy="555.8" r="4.7" fill="#f01928"/><circle cx="455.2" cy="555.8" r="4.7" fill="#f01729"/><circle cx="456.2" cy="555.9" r="4.8" fill="#f0162a"/><circle cx="457.2" cy="555.9" r="4.8" fill="#f0142c"/><circle cx="458.2" cy="555.9" r="4.8" fill="#f0132d"/><circle cx="459.2" cy="555.9" r="4.8" fill="#f0122e"/><circle cx="460.2" cy="556" r="4.8" fill="#f01030"/><circle cx="461.2" cy="556.1" r="4.8" fill="#f01032"/><circle cx="462.2" cy="556.2" r="4.8" fill="#f01035"/><circle cx="463.2" cy="556.3" r="4.8" fill="#f01037"/><circle cx="464.2" cy="556.5" r="4.8" fill="#f0103a"/><circle cx="465.2" cy="556.8" r="4.8" fill="#f0103c"/><circle cx="466.2" cy="557.1" r="4.8" fill="#f0103f"/><circle cx="467.1" cy="557.5" r="4.8" fill="#f01044"/><circle cx="468" cy="558" r="4.8" fill="#f0104a"/><circle cx="468.8" cy="558.7" r="4.8" fill="#f01051"/><circle cx="469.5" cy="559.4" r="4.8" fill="#f01057"/><circle cx="470.2" cy="560.1" r="4.8" fill="#f0105d"/><circle cx="470.8" cy="560.9" r="4.8" fill="#f01066"/><circle cx="471.4" cy="561.7" r="4.8" fill="#f01071"/><circle cx="471.9" cy="562.6" r="4.8" fill="#f0107d"/><circle cx="472.4" cy="563.5" r="4.8" fill="#f01089"/><circle cx="472.8" cy="564.4" r="4.7" fill="#f01094"/><circle cx="473.3" cy="565.3" r="4.7" fill="#f010a0"/><circle cx="473.8" cy="566.2" r="4.7" fill="#f010a6"/><circle cx="474.2" cy="567.1" r="4.7" fill="#f010ad"/><circle cx="474.6" cy="568" r="4.7" fill="#f010b3"/><circle cx="475" cy="569" r="4.6" fill="#f010ba"/><circle cx="475.5" cy="569.9" r="4.6" fill="#f010c0"/><circle cx="475.9" cy="570.8" r="4.6" fill="#f010c7"/><circle cx="476.4" cy="571.7" r="4.6" fill="#ee11cc"/><circle cx="476.8" cy="572.6" r="4.5" fill="#eb12d2"/><circle cx="477.3" cy="573.5" r="4.5" fill="#e814d7"/><circle cx="477.8" cy="574.4" r="4.4" fill="#e615dd"/><circle cx="478.2" cy="575.3" r="4.4" fill="#e317e2"/><circle cx="478.7" cy="576.2" r="4.4" fill="#e018e8"/></g>
<path d="M455 544 L456.3 547.9 L458.8 555.5 L460.9 563.3 L462.5 568 L458 568 L456.3 563.3 L453.8 555.5 L451.6 547.9 L450.3 544Z" fill="url(#rcr)" stroke="none" stroke-width="0.7" fill-opacity="0.6"/>
<path d="M455 544 L455.1 544.3 L455.2 544.6 L455.3 545 L455.5 545.5 L455.7 546 L455.9 546.6 L456.1 547.2 L456.3 547.9 L456.6 548.7 L456.9 549.5 L457.2 550.5 L457.5 551.5 L457.8 552.5 L458.2 553.5 L458.5 554.5 L458.8 555.5 L459.1 556.5 L459.4 557.5 L459.6 558.5 L459.9 559.6 L460.2 560.6 L460.4 561.6 L460.7 562.5 L460.9 563.3 L461.1 564.1 L461.4 564.8 L461.6 565.5 L461.8 566.1 L462 566.7 L462.2 567.2 L462.4 567.7 L462.5 568" fill="none" stroke="#555" stroke-width="0.7" />
<path d="M458 568 L457.9 567.7 L457.7 567.2 L457.5 566.7 L457.3 566.1 L457.1 565.5 L456.8 564.8 L456.6 564.1 L456.3 563.3 L456 562.5 L455.7 561.6 L455.4 560.6 L455.1 559.6 L454.8 558.5 L454.4 557.5 L454.1 556.5 L453.8 555.5 L453.5 554.5 L453.2 553.5 L452.9 552.5 L452.6 551.5 L452.3 550.5 L452.1 549.5 L451.8 548.7 L451.6 547.9 L451.4 547.2 L451.2 546.6 L451 546 L450.8 545.5 L450.7 545 L450.5 544.6 L450.4 544.3 L450.3 544" fill="none" stroke="#555" stroke-width="0.7" />
<text x="292.9" y="517.5" font-size="14.8" font-family='"Liberation Sans", sans-serif' >0.05</text>
<text x="296.3" y="547.2" font-size="14.8" font-family='"Liberation Sans", sans-serif' >Δ<tspan font-style="italic" font-size="10.4" dy="2.8">k</tspan><tspan dy="-2.8">t</tspan></text>
<text x="293.1" y="568.2" font-size="14.8" font-family='"Liberation Sans", sans-serif' >−0.05</text>
<text x="319.9" y="585.2" font-size="14.8" font-family='"Liberation Sans", sans-serif' >−3</text>
<text x="374.5" y="615" font-size="14.8" font-family='"Liberation Sans", sans-serif' ><tspan font-style="italic">k</tspan><tspan font-style="italic" font-size="10.4" dy="2.8">x</tspan></text>
<text x="461.4" y="637.1" font-size="14.8" font-family='"Liberation Sans", sans-serif' >3</text>
<text x="483" y="628.3" font-size="14.8" font-family='"Liberation Sans", sans-serif' >−3</text>
<text x="523.8" y="584.5" font-size="14.8" font-family='"Liberation Sans", sans-serif' ><tspan font-style="italic">k</tspan><tspan font-style="italic" font-size="10.4" dy="2.8">y</tspan></text>
<text x="539.3" y="541.6" font-size="14.8" font-family='"Liberation Sans", sans-serif' >3</text>
<rect x="280" y="625.8" width="82.5" height="21" fill="#fff" stroke="#808080" stroke-width="1"/>
<text x="281.9" y="642.1" font-size="15.6" font-family='"Liberation Serif", serif' ><tspan font-style="italic">k</tspan><tspan font-style="italic" font-size="11.5" dy="3">B</tspan><tspan dy="-3">T=0.2339t</tspan></text>
<line x1="336.7" y1="78.7" x2="344.3" y2="128.4" stroke="#5a5a5a" stroke-width="0.8"/>
<line x1="344.3" y1="128.4" x2="480.4" y2="180.4" stroke="#5a5a5a" stroke-width="0.8"/>
<line x1="480.4" y1="180.4" x2="538.4" y2="91.4" stroke="#5a5a5a" stroke-width="0.8"/>
<line x1="412" y1="154.2" x2="412.6" y2="152" stroke="#5a5a5a" stroke-width="0.6"/>
<line x1="349" y1="130.3" x2="349.6" y2="128.1" stroke="#5a5a5a" stroke-width="0.6"/>
<line x1="476" y1="178.7" x2="476.6" y2="176.5" stroke="#5a5a5a" stroke-width="0.6"/>
<line x1="509.5" y1="136" x2="507.5" y2="135.2" stroke="#5a5a5a" stroke-width="0.6"/>
<line x1="483" y1="176.4" x2="481" y2="175.6" stroke="#5a5a5a" stroke-width="0.6"/>
<line x1="536" y1="95" x2="534" y2="94.2" stroke="#5a5a5a" stroke-width="0.6"/>
<line x1="337.3" y1="83" x2="339.3" y2="82.7" stroke="#5a5a5a" stroke-width="0.6"/>
<line x1="343.6" y1="124" x2="345.6" y2="123.7" stroke="#5a5a5a" stroke-width="0.6"/>
<path d="M431.1 15.9 L431.1 16.3 L431.1 16.9 L431.1 17.5 L431.2 18.3 L431.2 19.1 L431.3 20 L431.4 21 L431.6 22 L431.8 23.1 L432.1 24.4 L432.5 25.8 L432.9 27.2 L433.2 28.7 L433.6 30.1 L434 31.5 L434.4 32.7 L434.7 33.8 L435.1 34.9 L435.4 35.9 L435.7 36.9 L436.1 37.8 L436.4 38.7 L436.9 39.7 L437.3 40.7 L437.8 41.7 L438.4 42.8 L438.9 43.9 L439.6 45 L440.2 46.1 L440.8 47.2 L441.4 48.1 L442 49 L442.6 49.8 L443.1 50.5 L443.7 51.2 L444.2 51.9 L444.8 52.5 L445.3 53 L445.9 53.5 L446.5 54 L447 54.4 L447.4 54.8 L447.7 55.2 L448 55.5 L448.5 55.8 L449.2 56 L450.3 56.2 L451.7 56.3 L453.6 56.4 L456 56.4 L458.6 56.4 L461.5 56.3 L464.5 56.2 L467.6 56.1 L470.6 55.9 L473.4 55.6 L476.1 55.3 L478.8 54.9 L481.5 54.5 L484.2 54 L486.9 53.5 L489.6 53 L492.3 52.4 L495 51.8 L497.8 51.1 L500.7 50.4 L503.6 49.6 L506.5 48.7 L509.3 47.9 L512 47.1 L514.5 46.4 L516.7 45.7 L518.7 45.1 L520.5 44.5 L522.2 44 L523.7 43.5 L525 43.1 L526.2 42.7 L527.2 42.4 L528 42.1 L528.1 43 L528.3 44.1 L528.4 45.5 L528.6 47.1 L528.9 48.7 L529.1 50.3 L529.4 51.9 L529.7 53.4 L530 54.8 L530.4 56.2 L530.8 57.7 L531.2 59.1 L531.6 60.5 L532.1 61.8 L532.5 63.1 L533 64.2 L533.5 65.3 L534.1 66.3 L534.7 67.2 L535.4 68.1 L536 68.9 L536.5 69.6 L537 70.2 L537.3 70.7 L537 71.4 L536.7 72.2 L536.3 73.2 L535.8 74.4 L535.3 75.6 L534.8 76.9 L534.4 78.2 L534 79.4 L533.7 80.7 L533.4 82 L533.1 83.4 L532.9 84.9 L532.6 86.3 L532.4 87.7 L532.1 89 L531.9 90.2 L531.7 91.4 L531.4 92.5 L531.2 93.6 L530.9 94.7 L530.7 95.6 L530.5 96.5 L530.3 97.2 L530.2 97.8 L529.2 98 L528 98.2 L526.5 98.5 L524.8 98.8 L523 99.1 L521 99.4 L518.9 99.7 L516.7 100 L514.4 100.3 L511.8 100.5 L509.2 100.7 L506.4 101 L503.5 101.2 L500.6 101.5 L497.8 101.8 L495 102.1 L492.2 102.5 L489.3 102.8 L486.4 103.3 L483.5 103.7 L480.7 104.1 L478 104.6 L475.6 105 L473.4 105.4 L471.5 105.8 L469.7 106.3 L468 106.7 L466.6 107.2 L465.3 107.6 L464.2 108 L463.3 108.4 L462.5 108.6 L462 107.6 L461.4 106.4 L460.6 104.9 L459.8 103.2 L458.9 101.4 L458 99.5 L457 97.7 L456 96 L455 94.3 L453.9 92.5 L452.8 90.7 L451.7 88.8 L450.5 87 L449.3 85.3 L448.1 83.6 L447 82 L445.9 80.5 L444.8 79.1 L443.7 77.7 L442.6 76.4 L441.4 75.2 L440.3 74.1 L439.2 73 L438 72 L436.8 71.1 L435.6 70.3 L434.4 69.6 L433.2 68.9 L431.9 68.4 L430.7 67.9 L429.3 67.4 L428 67 L426.5 66.7 L424.9 66.4 L423.2 66.3 L421.4 66.2 L419.8 66.1 L418.3 66.1 L417 66 L416.1 66 L415.4 66 L415.4 65.9 L415.3 65.8 L415.3 65.8 L415.3 65.7 L415.2 65.4 L415.2 65 L415.3 64.3 L415.4 63.3 L415.6 61.9 L415.8 60.1 L416.1 58 L416.4 55.7 L416.7 53.4 L417 51.2 L417.3 49.1 L417.6 47.3 L417.9 45.7 L418.2 44.2 L418.5 42.8 L418.8 41.5 L419.1 40.4 L419.4 39.4 L419.6 38.5 L419.8 37.8 L420.1 37.6 L420.6 37.3 L421.1 37 L421.7 36.6 L422.3 36.2 L422.9 35.6 L423.6 35 L424.2 34.2 L424.8 33.2 L425.5 32.1 L426.2 30.8 L426.9 29.4 L427.6 28 L428.2 26.6 L428.8 25.2 L429.3 24 L429.7 22.8 L430 21.6 L430.3 20.5 L430.5 19.3 L430.7 18.3 L430.9 17.3 L431 16.5 L431.1 15.9Z" fill="url(#raf)" stroke="none" stroke-width="0.8" />
<g clip-path="url(#rak)"><circle cx="533" cy="98" r="16" fill="url(#ral)"/><circle cx="534.5" cy="71" r="13" fill="url(#rah)"/></g>
<path d="M528 42.1 L528.1 43 L528.3 44.1 L528.4 45.5 L528.6 47.1 L528.9 48.7 L529.1 50.3 L529.4 51.9 L529.7 53.4 L530 54.8 L530.4 56.2 L530.8 57.7 L531.2 59.1 L531.6 60.5 L532.1 61.8 L532.5 63.1 L533 64.2 L533.5 65.3 L534.1 66.3 L534.7 67.2 L535.4 68.1 L536 68.9 L536.5 69.6 L537 70.2 L537.3 70.7" fill="none" stroke="#555" stroke-width="0.7" />
<path d="M537.3 70.7 L537 71.4 L536.7 72.2 L536.3 73.2 L535.8 74.4 L535.3 75.6 L534.8 76.9 L534.4 78.2 L534 79.4 L533.7 80.7 L533.4 82 L533.1 83.4 L532.9 84.9 L532.6 86.3 L532.4 87.7 L532.1 89 L531.9 90.2 L531.7 91.4 L531.4 92.5 L531.2 93.6 L530.9 94.7 L530.7 95.6 L530.5 96.5 L530.3 97.2 L530.2 97.8" fill="none" stroke="#555" stroke-width="0.7" />
<path d="M415.4 66 L415.4 65.9 L415.3 65.8 L415.3 65.8 L415.3 65.7 L415.2 65.4 L415.2 65 L415.3 64.3 L415.4 63.3 L415.6 61.9 L415.8 60.1 L416.1 58 L416.4 55.7 L416.7 53.4 L417 51.2 L417.3 49.1 L417.6 47.3 L417.9 45.7 L418.2 44.2 L418.5 42.8 L418.8 41.5 L419.1 40.4 L419.4 39.4 L419.6 38.5 L419.8 37.8" fill="none" stroke="#555" stroke-width="0.7" />
<path d="M419.8 37.8 L420.1 37.6 L420.6 37.3 L421.1 37 L421.7 36.6 L422.3 36.2 L422.9 35.6 L423.6 35 L424.2 34.2 L424.8 33.2 L425.5 32.1 L426.2 30.8 L426.9 29.4 L427.6 28 L428.2 26.6 L428.8 25.2 L429.3 24 L429.7 22.8 L430 21.6 L430.3 20.5 L430.5 19.3 L430.7 18.3 L430.9 17.3 L431 16.5 L431.1 15.9" fill="none" stroke="#555" stroke-width="0.7" />
<path d="M431.1 15.9 L431.1 16.3 L431.1 16.9 L431.1 17.5 L431.2 18.3 L431.2 19.1 L431.3 20 L431.4 21 L431.6 22 L431.8 23.1 L432.1 24.4 L432.5 25.8 L432.9 27.2 L433.2 28.7 L433.6 30.1 L434 31.5 L434.4 32.7 L434.8 33.9 L435.2 35.1 L435.6 36.2 L436 37.4 L436.4 38.4 L436.8 39.3 L437.1 40.1 L437.3 40.7" fill="none" stroke="#555" stroke-width="0.7" />
<g><circle cx="479.3" cy="40.2" r="2.6" fill="#f6aa16"/><circle cx="483.9" cy="49.8" r="2.6" fill="#f89118"/><circle cx="483.1" cy="44" r="2.6" fill="#f59d15"/><circle cx="480.8" cy="44" r="2.6" fill="#faa41a"/><circle cx="479.1" cy="36.6" r="2.6" fill="#f9b319"/><circle cx="484.8" cy="45.9" r="2.6" fill="#f69816"/><circle cx="484.2" cy="42.9" r="2.6" fill="#faa31a"/><circle cx="481.9" cy="45.8" r="2.6" fill="#fa9f1a"/><circle cx="480.6" cy="48.7" r="2.6" fill="#f69816"/><circle cx="486.1" cy="49.6" r="2.6" fill="#f79317"/><circle cx="479.9" cy="39" r="2.6" fill="#f7ae17"/><circle cx="482.9" cy="40.2" r="2.6" fill="#f6a616"/><circle cx="480.9" cy="41" r="2.6" fill="#faab1a"/><circle cx="485" cy="44.4" r="2.6" fill="#f69c16"/><circle cx="482.9" cy="51.4" r="2.6" fill="#f59315"/><circle cx="477.6" cy="38" r="2.6" fill="#fab31a"/><circle cx="481.8" cy="42.3" r="2.6" fill="#f6a416"/><circle cx="480.3" cy="41.9" r="2.6" fill="#f9a919"/><circle cx="482" cy="50.5" r="2.6" fill="#f69416"/><circle cx="480" cy="46.3" r="2.6" fill="#faa11a"/><circle cx="476.7" cy="37" r="2.6" fill="#f8b418"/><circle cx="485.7" cy="47.9" r="2.6" fill="#f69316"/><circle cx="483.6" cy="47.8" r="2.6" fill="#fa971a"/><circle cx="475.1" cy="35.1" r="2.6" fill="#f9b719"/><circle cx="477.3" cy="35.3" r="2.6" fill="#fbb91b"/></g>
<g><circle cx="487.8" cy="43.1" r="2.6" fill="#f8a318"/><circle cx="481.4" cy="47.4" r="2.6" fill="#fb9b1b"/><circle cx="482.6" cy="47.9" r="2.6" fill="#f79417"/><circle cx="486.9" cy="40" r="2.6" fill="#fbad1b"/><circle cx="488.1" cy="38.1" r="2.6" fill="#f5ac15"/><circle cx="486.9" cy="49.3" r="2.6" fill="#f59415"/><circle cx="487.9" cy="35.9" r="2.6" fill="#f6b116"/><circle cx="485.9" cy="37.6" r="2.6" fill="#f9b019"/><circle cx="486.5" cy="45" r="2.6" fill="#f89d18"/><circle cx="488" cy="34.4" r="2.6" fill="#f5b415"/><circle cx="484.9" cy="43.5" r="2.6" fill="#f79f17"/><circle cx="483.4" cy="43.5" r="2.6" fill="#f8a018"/><circle cx="482.7" cy="51.3" r="2.6" fill="#f89518"/><circle cx="481.8" cy="49" r="2.6" fill="#f59215"/><circle cx="487.2" cy="32.5" r="2.6" fill="#f9b719"/><circle cx="483.6" cy="49.5" r="2.6" fill="#fb941b"/><circle cx="486.9" cy="47.1" r="2.6" fill="#fa9b1a"/><circle cx="485.4" cy="51" r="2.6" fill="#fb971b"/><circle cx="485.4" cy="39.7" r="2.6" fill="#f7a917"/><circle cx="483.6" cy="45.2" r="2.6" fill="#f79a17"/><circle cx="488.2" cy="45.2" r="2.6" fill="#f89f18"/><circle cx="488.4" cy="41.7" r="2.6" fill="#faa81a"/><circle cx="484" cy="41.5" r="2.6" fill="#f9a619"/><circle cx="486.3" cy="33.6" r="2.6" fill="#fab91a"/><circle cx="484.9" cy="47.7" r="2.6" fill="#fa971a"/><circle cx="486.6" cy="41.2" r="2.6" fill="#f6a516"/></g>
<g><circle cx="504.9" cy="98.5" r="2.6" fill="#f11276"/><circle cx="500.4" cy="102.3" r="2.6" fill="#f11183"/><circle cx="502" cy="98.1" r="2.6" fill="#f21275"/><circle cx="483.6" cy="46.5" r="2.6" fill="#f59521"/><circle cx="501.7" cy="86.6" r="2.6" fill="#f1134a"/><circle cx="487.4" cy="51" r="2.6" fill="#eb7a2c"/><circle cx="503.8" cy="108.4" r="2.6" fill="#ef0f98"/><circle cx="496.3" cy="89.1" r="2.6" fill="#f3134b"/><circle cx="498.8" cy="100.6" r="2.6" fill="#ee0f77"/><circle cx="491.7" cy="84.6" r="2.6" fill="#f2163d"/><circle cx="502.7" cy="110.4" r="2.6" fill="#f212a1"/><circle cx="497.8" cy="98.2" r="2.6" fill="#ee0f6c"/><circle cx="500.1" cy="98.7" r="2.6" fill="#f01073"/><circle cx="494.6" cy="77.5" r="2.6" fill="#f21a33"/><circle cx="485.9" cy="70.1" r="2.6" fill="#e93638"/><circle cx="501.2" cy="108" r="2.6" fill="#ee0e93"/><circle cx="487.8" cy="65.4" r="2.6" fill="#e4463f"/><circle cx="485.5" cy="50.3" r="2.6" fill="#ee832a"/><circle cx="487" cy="60.2" r="2.6" fill="#e1573a"/><circle cx="485.5" cy="42.8" r="2.6" fill="#f4951c"/><circle cx="488.4" cy="75.7" r="2.6" fill="#ee2233"/><circle cx="488.2" cy="61.5" r="2.6" fill="#e1523b"/><circle cx="496" cy="90.8" r="2.6" fill="#ef104e"/><circle cx="485.3" cy="65.6" r="2.6" fill="#e1443a"/><circle cx="485.2" cy="57.7" r="2.6" fill="#e6663a"/><circle cx="489.5" cy="71.7" r="2.6" fill="#ed2833"/><circle cx="499.6" cy="86.7" r="2.6" fill="#ed0e43"/><circle cx="485.9" cy="54.8" r="2.6" fill="#ec7439"/><circle cx="490" cy="69.7" r="2.6" fill="#ed3138"/><circle cx="494.3" cy="85.4" r="2.6" fill="#f1123d"/><circle cx="483.9" cy="57.8" r="2.6" fill="#e9673b"/><circle cx="502.9" cy="96.3" r="2.6" fill="#ef106b"/><circle cx="498.6" cy="97" r="2.6" fill="#ed0d67"/><circle cx="495.1" cy="94.1" r="2.6" fill="#f1125b"/><circle cx="483.8" cy="43" r="2.6" fill="#f79d19"/><circle cx="486.7" cy="56.8" r="2.6" fill="#e7683a"/><circle cx="484.9" cy="56.3" r="2.6" fill="#e66a37"/><circle cx="488.2" cy="54.3" r="2.6" fill="#ea7036"/><circle cx="503.3" cy="111.7" r="2.6" fill="#f2129d"/><circle cx="493" cy="86.6" r="2.6" fill="#f21442"/><circle cx="488.6" cy="56.1" r="2.6" fill="#e76738"/><circle cx="484.9" cy="68.1" r="2.6" fill="#e43c38"/><circle cx="483.1" cy="50.5" r="2.6" fill="#ef842b"/><circle cx="482" cy="44.4" r="2.6" fill="#f5991b"/><circle cx="486.6" cy="45.1" r="2.6" fill="#f69324"/><circle cx="505.1" cy="111.4" r="2.6" fill="#ee0f96"/><circle cx="487.9" cy="69.3" r="2.6" fill="#e73336"/><circle cx="497.5" cy="90.4" r="2.6" fill="#ee0e4c"/><circle cx="482.8" cy="48" r="2.6" fill="#f18d23"/><circle cx="489.5" cy="68.1" r="2.6" fill="#e83739"/><circle cx="500.5" cy="90.8" r="2.6" fill="#ed0e51"/><circle cx="504.9" cy="101.7" r="2.6" fill="#f01181"/><circle cx="484.1" cy="52.4" r="2.6" fill="#eb7a2f"/><circle cx="484" cy="45" r="2.6" fill="#f99d1f"/><circle cx="493.4" cy="82.5" r="2.6" fill="#ef1234"/><circle cx="495.7" cy="83.5" r="2.6" fill="#ee0e36"/><circle cx="500.6" cy="84.6" r="2.6" fill="#f21545"/><circle cx="496.1" cy="86.7" r="2.6" fill="#ef0f40"/><circle cx="499.4" cy="88.6" r="2.6" fill="#f0114b"/><circle cx="502.7" cy="92.2" r="2.6" fill="#f2135e"/><circle cx="504.9" cy="110.2" r="2.6" fill="#ef0f99"/><circle cx="494.4" cy="70.1" r="2.6" fill="#ea2933"/><circle cx="486.3" cy="72.1" r="2.6" fill="#e82c34"/><circle cx="484.7" cy="59.8" r="2.6" fill="#e25b39"/><circle cx="491.6" cy="83" r="2.6" fill="#ee1436"/><circle cx="499.7" cy="105.5" r="2.6" fill="#f2128d"/><circle cx="492.8" cy="80.6" r="2.6" fill="#ee1230"/><circle cx="500.5" cy="111.8" r="2.6" fill="#f01095"/><circle cx="504.6" cy="106.6" r="2.6" fill="#f11193"/><circle cx="495.6" cy="79.1" r="2.6" fill="#ed122f"/><circle cx="496.8" cy="96.7" r="2.6" fill="#f31368"/><circle cx="498.8" cy="85" r="2.6" fill="#f31443"/><circle cx="490" cy="81.6" r="2.6" fill="#ed1634"/><circle cx="496.8" cy="84.8" r="2.6" fill="#f0113d"/><circle cx="491.2" cy="64" r="2.6" fill="#e7473d"/><circle cx="497.5" cy="79.8" r="2.6" fill="#f01435"/><circle cx="499.2" cy="92.3" r="2.6" fill="#f01057"/><circle cx="481.8" cy="52.1" r="2.6" fill="#ef7d31"/><circle cx="491.7" cy="69.5" r="2.6" fill="#ec3037"/><circle cx="498.2" cy="105.5" r="2.6" fill="#ed0e83"/><circle cx="501.2" cy="96.3" r="2.6" fill="#f0106b"/><circle cx="490" cy="73.6" r="2.6" fill="#ee2030"/><circle cx="505.7" cy="103.7" r="2.6" fill="#f01087"/><circle cx="487" cy="67.8" r="2.6" fill="#e73d3b"/><circle cx="498.5" cy="80.7" r="2.6" fill="#f3173b"/><circle cx="480.9" cy="46.8" r="2.6" fill="#f38f23"/><circle cx="482.9" cy="54.6" r="2.6" fill="#e76f32"/><circle cx="491.5" cy="67.7" r="2.6" fill="#e93638"/><circle cx="495.1" cy="75.3" r="2.6" fill="#ee1a31"/><circle cx="498.8" cy="108.5" r="2.6" fill="#ee0e8c"/><circle cx="505.6" cy="100.7" r="2.6" fill="#f0117c"/><circle cx="501.6" cy="104.2" r="2.6" fill="#f2128d"/><circle cx="498.2" cy="82.6" r="2.6" fill="#ee1038"/><circle cx="483.8" cy="62.4" r="2.6" fill="#e7573f"/><circle cx="494.8" cy="81.5" r="2.6" fill="#f11231"/><circle cx="485" cy="64.1" r="2.6" fill="#e44e3e"/><circle cx="485.6" cy="61.9" r="2.6" fill="#e3553e"/><circle cx="496.4" cy="81.6" r="2.6" fill="#f01134"/><circle cx="500.5" cy="94.3" r="2.6" fill="#f11162"/><circle cx="493.1" cy="75.4" r="2.6" fill="#f11d32"/><circle cx="482.8" cy="56.2" r="2.6" fill="#eb6f39"/><circle cx="485.5" cy="46.5" r="2.6" fill="#f18f1f"/><circle cx="484.5" cy="49.2" r="2.6" fill="#f08927"/><circle cx="492.7" cy="76.9" r="2.6" fill="#ef182f"/><circle cx="493.3" cy="78.9" r="2.6" fill="#ee142e"/><circle cx="489.6" cy="61.8" r="2.6" fill="#e34f3b"/><circle cx="487" cy="64.3" r="2.6" fill="#e34b41"/><circle cx="505.9" cy="107.9" r="2.6" fill="#f11193"/><circle cx="497.6" cy="94.6" r="2.6" fill="#ed0e5c"/><circle cx="501.8" cy="90.6" r="2.6" fill="#f21357"/><circle cx="502.3" cy="94.4" r="2.6" fill="#ee0f62"/><circle cx="486.6" cy="52.8" r="2.6" fill="#e97630"/><circle cx="499" cy="103.7" r="2.6" fill="#ee0e81"/><circle cx="496.7" cy="92.4" r="2.6" fill="#ee0f53"/><circle cx="491.4" cy="79" r="2.6" fill="#f21a34"/><circle cx="489.1" cy="60.2" r="2.6" fill="#e4573c"/><circle cx="492.8" cy="71.9" r="2.6" fill="#ef2533"/><circle cx="482.6" cy="60.4" r="2.6" fill="#e75c3b"/><circle cx="490.5" cy="77.3" r="2.6" fill="#ed192f"/><circle cx="500.1" cy="109.7" r="2.6" fill="#f11195"/><circle cx="493.9" cy="88.7" r="2.6" fill="#ee1045"/><circle cx="501.7" cy="106.2" r="2.6" fill="#f31394"/><circle cx="488.1" cy="74.1" r="2.6" fill="#ef2735"/><circle cx="497.6" cy="102.1" r="2.6" fill="#f1127c"/><circle cx="501" cy="100.5" r="2.6" fill="#ef0f7c"/><circle cx="493.9" cy="73.5" r="2.6" fill="#ed1e30"/><circle cx="500.5" cy="92.6" r="2.6" fill="#f3135d"/><circle cx="499.8" cy="82.7" r="2.6" fill="#ed113b"/><circle cx="493.7" cy="91.1" r="2.6" fill="#f0134f"/><circle cx="488.5" cy="63.4" r="2.6" fill="#e34c3f"/><circle cx="491.7" cy="71.6" r="2.6" fill="#ee2633"/><circle cx="486.7" cy="48.8" r="2.6" fill="#ef8527"/><circle cx="491.9" cy="65.6" r="2.6" fill="#e63d39"/><circle cx="502.9" cy="103.7" r="2.6" fill="#f0118a"/><circle cx="488.1" cy="77.1" r="2.6" fill="#ec1e32"/><circle cx="481.4" cy="49.9" r="2.6" fill="#f1852b"/><circle cx="492.2" cy="73" r="2.6" fill="#f12232"/><circle cx="506.4" cy="106.6" r="2.6" fill="#ee0f8c"/><circle cx="490.8" cy="75.6" r="2.6" fill="#ee1c2f"/><circle cx="496.3" cy="77.4" r="2.6" fill="#f21a35"/><circle cx="502.6" cy="102.7" r="2.6" fill="#ed0d83"/><circle cx="497.6" cy="87.3" r="2.6" fill="#ef0f43"/><circle cx="501" cy="88.3" r="2.6" fill="#ef114c"/><circle cx="481" cy="43.3" r="2.6" fill="#f5951e"/><circle cx="503.5" cy="99.8" r="2.6" fill="#ef107a"/><circle cx="488.4" cy="57.9" r="2.6" fill="#e6613a"/><circle cx="490.1" cy="65.7" r="2.6" fill="#e6413c"/></g>
<g><circle cx="499.6" cy="117.4" r="2.6" fill="#f016b2"/><circle cx="500.9" cy="111.6" r="2.6" fill="#ef11a6"/><circle cx="498.7" cy="108" r="2.6" fill="#f112a3"/><circle cx="499.4" cy="109.8" r="2.6" fill="#f213a5"/><circle cx="500.6" cy="108.6" r="2.6" fill="#ee0e9f"/><circle cx="499.8" cy="106.8" r="2.6" fill="#ef0fa0"/><circle cx="500.2" cy="119.4" r="2.6" fill="#ed14b2"/><circle cx="500.8" cy="116" r="2.6" fill="#ee13ad"/><circle cx="500.2" cy="113.8" r="2.6" fill="#f317ae"/><circle cx="498.5" cy="119.2" r="2.6" fill="#f219b7"/><circle cx="499.6" cy="121.1" r="2.6" fill="#f018b7"/><circle cx="498.6" cy="112.2" r="2.6" fill="#ee11a7"/><circle cx="499" cy="116.1" r="2.6" fill="#ee13ad"/></g>
<g><circle cx="507.9" cy="115.7" r="2.6" fill="#ef16b4"/><circle cx="505.7" cy="108.4" r="2.6" fill="#f214a7"/><circle cx="506.9" cy="117.4" r="2.6" fill="#ee16b5"/><circle cx="507.5" cy="112.3" r="2.6" fill="#ed12ab"/><circle cx="504.6" cy="106.3" r="2.6" fill="#f212a2"/><circle cx="508.3" cy="113.7" r="2.6" fill="#f218b3"/><circle cx="507.1" cy="108.5" r="2.6" fill="#f012a7"/><circle cx="506.3" cy="109.4" r="2.6" fill="#f013a7"/><circle cx="507" cy="105.8" r="2.6" fill="#ef10a2"/><circle cx="508.3" cy="117.9" r="2.6" fill="#ef17b7"/><circle cx="505.2" cy="112.2" r="2.6" fill="#f317af"/><circle cx="506.9" cy="113.9" r="2.6" fill="#f117b2"/></g>
<g><circle cx="411" cy="86.2" r="2.6" fill="#e5137c"/><circle cx="444" cy="44.3" r="2.6" fill="#ad3739"/><circle cx="410.5" cy="77.1" r="2.6" fill="#e51275"/><circle cx="408.3" cy="84.6" r="2.6" fill="#e2117f"/><circle cx="406.1" cy="77.3" r="2.6" fill="#e51272"/><circle cx="437.5" cy="51.6" r="2.6" fill="#cb232f"/><circle cx="428.4" cy="57.2" r="2.6" fill="#ed1b2e"/><circle cx="421.6" cy="62" r="2.6" fill="#ef1a3c"/><circle cx="431.3" cy="63.5" r="2.6" fill="#ea162c"/><circle cx="442.5" cy="52.2" r="2.6" fill="#b02d34"/><circle cx="410.2" cy="81.2" r="2.6" fill="#de0d81"/><circle cx="425.8" cy="65.2" r="2.6" fill="#ef1734"/><circle cx="421.4" cy="65.8" r="2.6" fill="#ee173f"/><circle cx="421.9" cy="68.8" r="2.6" fill="#eb1341"/><circle cx="409.4" cy="82.9" r="2.6" fill="#e11187"/><circle cx="443.3" cy="49.7" r="2.6" fill="#a93538"/><circle cx="427.3" cy="63" r="2.6" fill="#f11930"/><circle cx="441.2" cy="54.3" r="2.6" fill="#bf2631"/><circle cx="407.8" cy="85.9" r="2.6" fill="#e21179"/><circle cx="414.4" cy="69.5" r="2.6" fill="#e91256"/><circle cx="448.1" cy="46.3" r="2.6" fill="#a43736"/><circle cx="409.4" cy="75.2" r="2.6" fill="#e5116d"/><circle cx="425" cy="63.8" r="2.6" fill="#f11936"/><circle cx="446.5" cy="52.3" r="2.6" fill="#b43439"/><circle cx="407.6" cy="75.6" r="2.6" fill="#e4116d"/><circle cx="423.9" cy="69.1" r="2.6" fill="#ed1640"/><circle cx="431.9" cy="56.4" r="2.6" fill="#e81829"/><circle cx="436.4" cy="57.6" r="2.6" fill="#de1828"/><circle cx="449.8" cy="46" r="2.6" fill="#a93335"/><circle cx="441.8" cy="49.9" r="2.6" fill="#aa3035"/><circle cx="428.7" cy="61.3" r="2.6" fill="#ed152a"/><circle cx="417.4" cy="76.7" r="2.6" fill="#e71163"/><circle cx="414.3" cy="82.8" r="2.6" fill="#e10e74"/><circle cx="412.1" cy="77" r="2.6" fill="#e20e70"/><circle cx="414.5" cy="80.8" r="2.6" fill="#e61277"/><circle cx="412.4" cy="84" r="2.6" fill="#e10f7b"/><circle cx="447.8" cy="50" r="2.6" fill="#ad3739"/><circle cx="420.7" cy="64.1" r="2.6" fill="#ef183f"/><circle cx="436.6" cy="53.5" r="2.6" fill="#d81b2a"/><circle cx="414.3" cy="84.1" r="2.6" fill="#e41276"/><circle cx="431.4" cy="59.7" r="2.6" fill="#ed1829"/><circle cx="426.4" cy="57.5" r="2.6" fill="#ee1b31"/><circle cx="441.7" cy="45.8" r="2.6" fill="#af3236"/><circle cx="439.3" cy="53.7" r="2.6" fill="#c4222d"/><circle cx="435.6" cy="51.8" r="2.6" fill="#d11c2a"/><circle cx="413.8" cy="71.5" r="2.6" fill="#eb145f"/><circle cx="423.5" cy="65.1" r="2.6" fill="#ef1738"/><circle cx="410" cy="72.8" r="2.6" fill="#e61164"/><circle cx="410.6" cy="84.2" r="2.6" fill="#df0e7e"/><circle cx="418.4" cy="78.3" r="2.6" fill="#e61063"/><circle cx="432.6" cy="53.7" r="2.6" fill="#e31c2c"/><circle cx="413.6" cy="74.4" r="2.6" fill="#e60f65"/><circle cx="416.3" cy="74.6" r="2.6" fill="#e60e5f"/><circle cx="418" cy="66.9" r="2.6" fill="#ee174c"/><circle cx="406.4" cy="80.5" r="2.6" fill="#e00e77"/><circle cx="411.9" cy="78.3" r="2.6" fill="#e51278"/><circle cx="426.8" cy="67.5" r="2.6" fill="#f11a3c"/><circle cx="445.1" cy="52.2" r="2.6" fill="#b03035"/><circle cx="415.3" cy="72.7" r="2.6" fill="#eb1360"/><circle cx="419.8" cy="73.6" r="2.6" fill="#eb1457"/><circle cx="424.8" cy="59.8" r="2.6" fill="#eb1630"/><circle cx="419" cy="76.6" r="2.6" fill="#e9125f"/><circle cx="414.9" cy="76.9" r="2.6" fill="#e6106b"/><circle cx="414.2" cy="78.8" r="2.6" fill="#e51173"/><circle cx="425.8" cy="69.9" r="2.6" fill="#ee1741"/><circle cx="435.6" cy="59.2" r="2.6" fill="#e21829"/><circle cx="411.3" cy="75.3" r="2.6" fill="#e40f6b"/><circle cx="438.8" cy="57.6" r="2.6" fill="#d71e2d"/><circle cx="422.1" cy="67.4" r="2.6" fill="#f01843"/><circle cx="405" cy="78.5" r="2.6" fill="#e31071"/><circle cx="424.8" cy="67.6" r="2.6" fill="#f0193d"/><circle cx="430.6" cy="57.8" r="2.6" fill="#ee1a2b"/><circle cx="410.7" cy="87.9" r="2.6" fill="#e61477"/><circle cx="435.4" cy="56.4" r="2.6" fill="#e51b2b"/><circle cx="417.5" cy="69.3" r="2.6" fill="#ed1552"/><circle cx="426.9" cy="60" r="2.6" fill="#eb152b"/><circle cx="422.7" cy="63.4" r="2.6" fill="#eb1536"/><circle cx="440.3" cy="56.3" r="2.6" fill="#cd222f"/><circle cx="432.4" cy="61.9" r="2.6" fill="#ed1a2e"/><circle cx="445.7" cy="46.2" r="2.6" fill="#a33d39"/><circle cx="408.4" cy="80.4" r="2.6" fill="#e2107e"/><circle cx="437.2" cy="50.3" r="2.6" fill="#c72430"/><circle cx="411.6" cy="82.2" r="2.6" fill="#e00f80"/><circle cx="443.9" cy="45.7" r="2.6" fill="#a63536"/><circle cx="445.1" cy="47.9" r="2.6" fill="#a33937"/><circle cx="434.2" cy="54.2" r="2.6" fill="#e21b2b"/><circle cx="444" cy="54" r="2.6" fill="#b72b33"/><circle cx="415.8" cy="82.2" r="2.6" fill="#e20f6e"/><circle cx="442.4" cy="48.5" r="2.6" fill="#ad3639"/><circle cx="417.4" cy="72.7" r="2.6" fill="#ec145a"/><circle cx="449.2" cy="47.9" r="2.6" fill="#a83435"/><circle cx="413.7" cy="85.9" r="2.6" fill="#e41275"/><circle cx="445.5" cy="49.7" r="2.6" fill="#a83637"/><circle cx="412.2" cy="73.3" r="2.6" fill="#e91367"/><circle cx="423.5" cy="61.3" r="2.6" fill="#ed1734"/><circle cx="419.8" cy="74.7" r="2.6" fill="#eb1459"/><circle cx="442.6" cy="44" r="2.6" fill="#b13438"/><circle cx="447.2" cy="48.5" r="2.6" fill="#a53837"/><circle cx="421" cy="70.7" r="2.6" fill="#ed154d"/><circle cx="428.9" cy="63.4" r="2.6" fill="#f11a31"/><circle cx="418.1" cy="74.8" r="2.6" fill="#e60e5a"/><circle cx="438.8" cy="49.8" r="2.6" fill="#bb2731"/><circle cx="437.9" cy="55.7" r="2.6" fill="#d51a29"/><circle cx="404.6" cy="82.6" r="2.6" fill="#e21074"/><circle cx="433.1" cy="59.7" r="2.6" fill="#e81728"/><circle cx="419.4" cy="65.2" r="2.6" fill="#eb1441"/><circle cx="447.3" cy="44.3" r="2.6" fill="#aa3939"/><circle cx="422.4" cy="70.9" r="2.6" fill="#ea1246"/><circle cx="439.9" cy="47.8" r="2.6" fill="#b83037"/><circle cx="418.4" cy="71.7" r="2.6" fill="#ed1656"/><circle cx="427.8" cy="65.2" r="2.6" fill="#f01934"/><circle cx="429.4" cy="59.9" r="2.6" fill="#f11a2b"/><circle cx="432.5" cy="57.2" r="2.6" fill="#e71626"/><circle cx="420.5" cy="67.2" r="2.6" fill="#ed1543"/><circle cx="412" cy="71.6" r="2.6" fill="#e5105e"/><circle cx="423.9" cy="73.1" r="2.6" fill="#e91349"/><circle cx="417.2" cy="81.2" r="2.6" fill="#e7136d"/><circle cx="415.9" cy="67.4" r="2.6" fill="#ec1651"/><circle cx="409.2" cy="86.3" r="2.6" fill="#e4127b"/><circle cx="433.8" cy="52.4" r="2.6" fill="#dc1d2d"/><circle cx="430.6" cy="62.2" r="2.6" fill="#f01a2e"/><circle cx="434.1" cy="56.1" r="2.6" fill="#e61828"/><circle cx="429" cy="56" r="2.6" fill="#e7172a"/><circle cx="430.4" cy="65.6" r="2.6" fill="#ef1b35"/><circle cx="421.9" cy="73.1" r="2.6" fill="#e8114c"/><circle cx="407.8" cy="77" r="2.6" fill="#e20e70"/><circle cx="425.4" cy="61.3" r="2.6" fill="#f01a33"/><circle cx="407.6" cy="83.2" r="2.6" fill="#e41381"/><circle cx="405.6" cy="84.6" r="2.6" fill="#e41279"/><circle cx="416.3" cy="79.4" r="2.6" fill="#e40f6a"/><circle cx="440.5" cy="51.7" r="2.6" fill="#b82c35"/><circle cx="409.1" cy="78.4" r="2.6" fill="#e41279"/><circle cx="412.7" cy="81.2" r="2.6" fill="#e3117d"/><circle cx="416" cy="71.3" r="2.6" fill="#ea135a"/><circle cx="407.1" cy="79.4" r="2.6" fill="#e00e75"/><circle cx="434.5" cy="58.2" r="2.6" fill="#e81b2b"/><circle cx="418.7" cy="69.4" r="2.6" fill="#eb134d"/></g>
<g><circle cx="437.3" cy="44.5" r="2.5" fill="#a64237"/><circle cx="436" cy="53.3" r="2.5" fill="#aa3538"/><circle cx="436.7" cy="48.1" r="2.5" fill="#a73b3b"/><circle cx="440.8" cy="41" r="2.5" fill="#a84738"/><circle cx="438.7" cy="52" r="2.5" fill="#b03339"/><circle cx="441.6" cy="53.4" r="2.5" fill="#b1333a"/><circle cx="441.6" cy="43" r="2.5" fill="#aa493a"/><circle cx="437.9" cy="53.8" r="2.5" fill="#ae3238"/><circle cx="449" cy="48.4" r="2.5" fill="#a23d33"/><circle cx="435.8" cy="46.3" r="2.5" fill="#aa3f3d"/><circle cx="445.3" cy="44.3" r="2.5" fill="#a34139"/><circle cx="446.3" cy="53.5" r="2.5" fill="#a73e31"/><circle cx="439.8" cy="46.5" r="2.5" fill="#a84139"/><circle cx="447.7" cy="53.6" r="2.5" fill="#a84031"/><circle cx="447" cy="47.8" r="2.5" fill="#9f3e38"/><circle cx="437.2" cy="51.3" r="2.5" fill="#a93738"/><circle cx="442.4" cy="49.7" r="2.5" fill="#a43b38"/><circle cx="444.6" cy="47.9" r="2.5" fill="#9b3b37"/><circle cx="443.2" cy="51.9" r="2.5" fill="#a83636"/><circle cx="439.3" cy="41.6" r="2.5" fill="#a74637"/><circle cx="438.5" cy="48.5" r="2.5" fill="#a73a39"/><circle cx="446.1" cy="50.4" r="2.5" fill="#a23d33"/><circle cx="439.9" cy="53.5" r="2.5" fill="#af2f37"/><circle cx="440.7" cy="44.6" r="2.5" fill="#a64536"/><circle cx="440.7" cy="51.4" r="2.5" fill="#ad3137"/><circle cx="438" cy="42.6" r="2.5" fill="#a64537"/><circle cx="440" cy="43.2" r="2.5" fill="#aa4a3a"/><circle cx="443.8" cy="46.3" r="2.5" fill="#9f3e39"/><circle cx="444.8" cy="51.4" r="2.5" fill="#a63e36"/><circle cx="435.3" cy="48.2" r="2.5" fill="#aa3e3d"/><circle cx="441" cy="55.1" r="2.5" fill="#b03339"/><circle cx="436.5" cy="50.3" r="2.5" fill="#aa3d3d"/><circle cx="447.1" cy="52.1" r="2.5" fill="#a73f2f"/><circle cx="443.7" cy="49.7" r="2.5" fill="#a13d38"/><circle cx="436.2" cy="43.4" r="2.5" fill="#a64137"/><circle cx="439.1" cy="55.4" r="2.5" fill="#ad3137"/><circle cx="444.3" cy="43" r="2.5" fill="#a34137"/><circle cx="441.9" cy="46.6" r="2.5" fill="#a5403a"/><circle cx="436.8" cy="41.7" r="2.5" fill="#a64337"/><circle cx="444.4" cy="53.2" r="2.5" fill="#a93c36"/><circle cx="439.1" cy="44.7" r="2.5" fill="#a9483a"/><circle cx="438.3" cy="46.6" r="2.5" fill="#a63d38"/><circle cx="449.1" cy="51.7" r="2.5" fill="#aa4232"/><circle cx="442.7" cy="55.5" r="2.5" fill="#ab3436"/><circle cx="443" cy="44.5" r="2.5" fill="#a44238"/><circle cx="445.8" cy="46.7" r="2.5" fill="#9d3c37"/><circle cx="441.4" cy="48.3" r="2.5" fill="#a53d39"/><circle cx="447.8" cy="49.5" r="2.5" fill="#a33d32"/><circle cx="437.8" cy="49.6" r="2.5" fill="#a7393a"/><circle cx="442.9" cy="41.6" r="2.5" fill="#a9473a"/><circle cx="450.5" cy="50" r="2.5" fill="#a63f32"/><circle cx="442.5" cy="48.6" r="2.5" fill="#a23d39"/><circle cx="439.6" cy="50.4" r="2.5" fill="#ab3438"/></g>
<g><circle cx="460.2" cy="29" r="2.5" fill="#f9b012"/><circle cx="460.5" cy="39.2" r="2.5" fill="#f8a011"/><circle cx="444.6" cy="37.4" r="2.5" fill="#fa9c12"/><circle cx="463.6" cy="32.2" r="2.5" fill="#f8af10"/><circle cx="449.1" cy="30.5" r="2.5" fill="#f7ab10"/><circle cx="445.3" cy="34.1" r="2.5" fill="#f6ad0e"/><circle cx="444.9" cy="41.2" r="2.5" fill="#f89410"/><circle cx="450.5" cy="30.6" r="2.5" fill="#f7ab11"/><circle cx="461.6" cy="31.7" r="2.5" fill="#f6ad0f"/><circle cx="452.6" cy="30.7" r="2.5" fill="#f8b114"/><circle cx="451.5" cy="31.9" r="2.5" fill="#f9ad13"/><circle cx="448.2" cy="46.4" r="2.5" fill="#f07b11"/><circle cx="455.7" cy="28.8" r="2.5" fill="#f7b213"/><circle cx="448.9" cy="37.3" r="2.5" fill="#fa9a12"/><circle cx="458.2" cy="38.6" r="2.5" fill="#f9a112"/><circle cx="444.2" cy="32.3" r="2.5" fill="#f7ad0f"/><circle cx="465.6" cy="32.5" r="2.5" fill="#f9ae11"/><circle cx="446" cy="31.9" r="2.5" fill="#f9b111"/><circle cx="449.8" cy="32.1" r="2.5" fill="#f8ab11"/><circle cx="453.4" cy="47.3" r="2.5" fill="#f17814"/><circle cx="454.1" cy="42.6" r="2.5" fill="#f88e12"/><circle cx="461.7" cy="28.3" r="2.5" fill="#fab112"/><circle cx="451.4" cy="47.5" r="2.5" fill="#ef7313"/><circle cx="465.1" cy="30.6" r="2.5" fill="#f7ae0f"/><circle cx="453.5" cy="46.1" r="2.5" fill="#f37c15"/><circle cx="463.4" cy="33.6" r="2.5" fill="#f7ac0f"/><circle cx="447.5" cy="40.9" r="2.5" fill="#f7920f"/><circle cx="441.4" cy="37.8" r="2.5" fill="#faa212"/><circle cx="453.3" cy="37.3" r="2.5" fill="#fa9c13"/><circle cx="449.7" cy="39.4" r="2.5" fill="#f99011"/><circle cx="462.9" cy="30.2" r="2.5" fill="#f6ae0e"/><circle cx="451.9" cy="38.9" r="2.5" fill="#f89011"/><circle cx="450" cy="46.5" r="2.5" fill="#f07413"/><circle cx="451.8" cy="46.4" r="2.5" fill="#ee7312"/><circle cx="447.5" cy="44" r="2.5" fill="#f58a10"/><circle cx="454.5" cy="37.1" r="2.5" fill="#f99f12"/><circle cx="444.2" cy="35.8" r="2.5" fill="#f7a410"/><circle cx="455.6" cy="32.1" r="2.5" fill="#f7b113"/><circle cx="456.2" cy="35.1" r="2.5" fill="#f7a210"/><circle cx="454.9" cy="33.5" r="2.5" fill="#faae14"/><circle cx="448.4" cy="39.2" r="2.5" fill="#fa9512"/><circle cx="449.4" cy="33.8" r="2.5" fill="#f7a70f"/><circle cx="458.9" cy="37.7" r="2.5" fill="#f8a010"/><circle cx="457.4" cy="30.2" r="2.5" fill="#fab315"/><circle cx="454.8" cy="41.2" r="2.5" fill="#f5900f"/><circle cx="459.5" cy="36" r="2.5" fill="#f8a110"/><circle cx="452.5" cy="42.9" r="2.5" fill="#f78b11"/><circle cx="450.9" cy="34" r="2.5" fill="#f7a510"/><circle cx="447" cy="37.7" r="2.5" fill="#f7970f"/><circle cx="459" cy="33.5" r="2.5" fill="#f8a711"/><circle cx="445.9" cy="35.9" r="2.5" fill="#f9a712"/><circle cx="446.5" cy="39.4" r="2.5" fill="#f6920e"/><circle cx="448.4" cy="42.3" r="2.5" fill="#f88f11"/><circle cx="464.4" cy="35.5" r="2.5" fill="#f6a60f"/><circle cx="438.6" cy="37.5" r="2.5" fill="#f8a611"/><circle cx="454.9" cy="44.2" r="2.5" fill="#f68913"/><circle cx="460.4" cy="32.4" r="2.5" fill="#f7ab10"/><circle cx="442.1" cy="38.7" r="2.5" fill="#f89b10"/><circle cx="456.2" cy="39.4" r="2.5" fill="#f89d11"/><circle cx="461.7" cy="35.7" r="2.5" fill="#f7a40f"/><circle cx="441.5" cy="33.5" r="2.5" fill="#f9a912"/><circle cx="451.1" cy="44.4" r="2.5" fill="#f48114"/><circle cx="450.8" cy="40.6" r="2.5" fill="#f88c10"/><circle cx="446.5" cy="42.3" r="2.5" fill="#f79210"/><circle cx="444.4" cy="42.3" r="2.5" fill="#f6920f"/><circle cx="460.6" cy="33.8" r="2.5" fill="#f8a811"/><circle cx="453.4" cy="34" r="2.5" fill="#f7a812"/><circle cx="438.4" cy="35.6" r="2.5" fill="#f7a60f"/><circle cx="450.9" cy="37.6" r="2.5" fill="#f6930f"/><circle cx="444" cy="39.3" r="2.5" fill="#f79510"/><circle cx="454.5" cy="30.4" r="2.5" fill="#f7b313"/><circle cx="447.5" cy="33.4" r="2.5" fill="#f6ad0e"/><circle cx="454.5" cy="39.3" r="2.5" fill="#f89711"/><circle cx="452.5" cy="41.3" r="2.5" fill="#f98e11"/><circle cx="440.4" cy="38.9" r="2.5" fill="#f8a011"/><circle cx="459.1" cy="30" r="2.5" fill="#f8ae11"/><circle cx="455.5" cy="42.3" r="2.5" fill="#f69010"/><circle cx="449.8" cy="35.6" r="2.5" fill="#f69e0f"/><circle cx="449" cy="44.5" r="2.5" fill="#f28111"/><circle cx="451.5" cy="35.2" r="2.5" fill="#f8a111"/><circle cx="454.5" cy="32" r="2.5" fill="#f8b214"/><circle cx="456.8" cy="34.3" r="2.5" fill="#f8a511"/><circle cx="454.1" cy="28.6" r="2.5" fill="#f8b214"/><circle cx="452.9" cy="44.1" r="2.5" fill="#f58412"/><circle cx="453.8" cy="35.9" r="2.5" fill="#f69f10"/><circle cx="456.9" cy="37.1" r="2.5" fill="#f9a112"/><circle cx="447.9" cy="35.2" r="2.5" fill="#faa912"/><circle cx="439.4" cy="33.4" r="2.5" fill="#f9a911"/><circle cx="443" cy="37.3" r="2.5" fill="#f89e10"/><circle cx="450.2" cy="42.1" r="2.5" fill="#f68b0f"/><circle cx="458" cy="31.9" r="2.5" fill="#f7ac12"/><circle cx="457.6" cy="28.3" r="2.5" fill="#f6ae11"/><circle cx="447.8" cy="31.9" r="2.5" fill="#f9af12"/><circle cx="457.1" cy="40.9" r="2.5" fill="#f99c12"/><circle cx="458.4" cy="35.4" r="2.5" fill="#f7a00f"/><circle cx="465.3" cy="33.5" r="2.5" fill="#f7ab0f"/><circle cx="460.6" cy="36.9" r="2.5" fill="#f9a212"/><circle cx="443.3" cy="33.4" r="2.5" fill="#f9ac11"/><circle cx="436.8" cy="34.3" r="2.5" fill="#faaa12"/><circle cx="461.5" cy="30.6" r="2.5" fill="#f7ae0f"/><circle cx="448.9" cy="40.6" r="2.5" fill="#f78e0f"/><circle cx="439.7" cy="36" r="2.5" fill="#f7a60f"/><circle cx="441.9" cy="35.1" r="2.5" fill="#f8a610"/></g>
<path d="M345.6 102.6 L345.9 102.4 L346.3 102.2 L346.9 101.9 L347.4 101.6 L348 101.3 L348.6 100.9 L349.1 100.5 L349.5 100 L349.8 99.5 L350.2 98.9 L350.4 98.2 L350.7 97.5 L350.9 96.8 L351.1 96 L351.3 95.3 L351.5 94.5 L351.7 93.7 L351.8 92.9 L351.9 92.1 L351.9 91.3 L352 90.5 L352.1 89.6 L352.2 88.8 L352.3 88 L352.4 87.2 L352.6 86.3 L352.8 85.3 L353 84.4 L353.2 83.6 L353.4 82.8 L353.5 82.2 L353.6 81.7 L354.8 81.2 L356.5 80.5 L358.4 79.6 L360.5 78.7 L362.9 77.7 L365.3 76.8 L367.7 75.9 L370 75.1 L372.3 74.4 L374.8 73.7 L377.3 73 L379.8 72.3 L382.4 71.7 L385 71.1 L387.6 70.6 L390.1 70.1 L392.6 69.7 L395.2 69.4 L397.9 69.1 L400.5 68.9 L403.1 68.7 L405.5 68.5 L407.9 68.3 L410.1 68.1 L412.1 67.9 L414 67.7 L415.8 67.4 L417.6 67.2 L419.2 67.1 L420.8 67 L422.4 66.9 L424 67 L425.6 67.1 L427.2 67.3 L428.7 67.5 L430.2 67.8 L431.7 68.2 L433.2 68.7 L434.6 69.3 L436 70 L437.4 70.9 L438.7 72 L440.1 73.2 L441.4 74.6 L442.6 75.9 L443.8 77.3 L445 78.7 L446 80 L447 81.3 L448 82.6 L449 83.9 L449.9 85.2 L450.7 86.5 L451.3 87.8 L451.8 88.9 L452 90 L452.1 90.9 L452 91.7 L451.8 92.4 L451.5 93.1 L451 93.8 L450.2 94.4 L449.2 95.2 L448 96 L446.5 96.9 L444.6 97.9 L442.4 98.9 L440.1 100 L437.7 101 L435.1 102.1 L432.6 103.2 L430.2 104.2 L427.8 105.2 L425.3 106.3 L422.8 107.3 L420.2 108.4 L417.7 109.4 L415.1 110.4 L412.5 111.3 L410 112.2 L407.5 113 L405 113.7 L402.5 114.4 L400 115.1 L397.5 115.7 L395 116.2 L392.5 116.7 L390 117.2 L387.5 117.6 L384.9 118 L382.2 118.3 L379.6 118.6 L377.1 118.9 L374.6 119.1 L372.2 119.2 L370 119.2 L367.9 119.1 L365.8 118.9 L363.7 118.7 L361.8 118.3 L360 118 L358.4 117.7 L357 117.4 L356 117.2 L355.9 116.8 L355.7 116.4 L355.6 115.8 L355.4 115.1 L355.2 114.5 L354.9 113.8 L354.7 113.1 L354.5 112.5 L354.3 111.9 L354 111.3 L353.8 110.8 L353.6 110.2 L353.3 109.6 L353 109 L352.8 108.5 L352.5 108 L352.2 107.5 L352 107 L351.7 106.5 L351.4 106.1 L351.1 105.7 L350.8 105.2 L350.4 104.9 L350 104.5 L349.5 104.2 L348.9 103.9 L348.3 103.6 L347.6 103.3 L347 103.1 L346.4 102.9 L346 102.7 L345.6 102.6Z" fill="url(#ran)" stroke="none" stroke-width="0.8" />
<path d="M345.6 102.6 L345.9 102.4 L346.3 102.2 L346.9 101.9 L347.4 101.6 L348 101.3 L348.6 100.9 L349.1 100.5 L349.5 100 L349.8 99.5 L350.2 98.9 L350.4 98.2 L350.7 97.5 L350.9 96.8 L351.1 96 L351.3 95.3 L351.5 94.5 L351.7 93.7 L351.8 92.9 L351.9 92.1 L351.9 91.3 L352 90.5 L352.1 89.6 L352.2 88.8 L352.3 88 L352.4 87.2 L352.6 86.3 L352.8 85.3 L353 84.4 L353.2 83.6 L353.4 82.8 L353.5 82.2 L353.6 81.7" fill="none" stroke="#555" stroke-width="0.7" />
<path d="M356 117.2 L355.9 116.8 L355.7 116.4 L355.6 115.8 L355.4 115.1 L355.2 114.5 L354.9 113.8 L354.7 113.1 L354.5 112.5 L354.3 111.9 L354 111.3 L353.8 110.8 L353.6 110.2 L353.3 109.6 L353 109 L352.8 108.5 L352.5 108 L352.2 107.5 L352 107 L351.7 106.5 L351.4 106.1 L351.1 105.7 L350.8 105.2 L350.4 104.9 L350 104.5 L349.5 104.2 L348.9 103.9 L348.3 103.6 L347.6 103.3 L347 103.1 L346.4 102.9 L346 102.7 L345.6 102.6" fill="none" stroke="#555" stroke-width="0.7" />
<path d="M416.1 63.1 L416.9 63.2 L417.8 63.3 L419 63.4 L420.3 63.6 L421.7 63.8 L423.2 64 L424.6 64.2 L426 64.5 L427.4 64.8 L428.9 65 L430.4 65.3 L431.9 65.6 L433.5 66 L435 66.4 L436.4 67 L437.8 67.6 L439.1 68.4 L440.3 69.2 L441.5 70.2 L442.7 71.2 L443.8 72.4 L444.9 73.5 L446 74.7 L447 75.9 L448 77.1 L449 78.4 L449.9 79.7 L450.8 81 L451.7 82.4 L452.6 83.9 L453.5 85.4 L454.4 87 L455.4 88.7 L456.3 90.5 L457.3 92.3 L458.3 94.2 L459.3 96.2 L460.2 98.1 L461.1 100 L461.9 101.9 L462.6 103.7 L463.3 105.6 L463.8 107.4 L464.4 109.2 L464.9 111 L465.4 112.9 L465.9 114.8 L466.5 116.7 L467.1 118.7 L467.7 120.8 L468.3 123 L468.9 125.1 L469.4 127.3 L470 129.4 L470.6 131.4 L471.1 133.3 L471.6 135.1 L472 136.9 L472.4 138.7 L472.7 140.4 L473.1 142 L473.6 143.5 L474.1 145 L474.8 146.3 L475.7 147.5 L476.7 148.4 L477.9 149.3 L479.1 150.1 L480.3 150.8 L481.4 151.7 L482.3 152.6 L483.1 153.7 L483.7 155.1 L484.1 156.7 L484.4 158.4 L484.6 160.2 L484.7 161.9 L484.8 163.4 L484.9 164.7 L485 165.7 L483.7 164.5 L481.8 162.9 L479.7 161 L477.3 158.9 L474.8 156.7 L472.5 154.5 L470.3 152.4 L468.6 150.5 L467.2 148.8 L466 147.1 L465 145.6 L464.1 144 L463.2 142.4 L462.5 140.8 L461.7 139.2 L461 137.5 L460.3 135.7 L459.7 133.9 L459.2 132 L458.7 130.1 L458.2 128.2 L457.7 126.3 L457.2 124.4 L456.6 122.5 L456 120.6 L455.3 118.7 L454.6 116.8 L454 114.9 L453.3 113.1 L452.5 111.3 L451.8 109.6 L451 108 L450.2 106.5 L449.3 105.1 L448.5 103.8 L447.6 102.5 L446.7 101.3 L445.8 100.2 L444.9 99.1 L444 98 L443.1 97 L442.2 96.1 L441.3 95.2 L440.4 94.4 L439.6 93.6 L438.7 92.8 L437.8 91.9 L437 91 L436.2 90 L435.4 89 L434.7 88 L433.9 87 L433.2 85.9 L432.5 84.9 L431.7 83.9 L431 83 L430.3 82.1 L429.6 81.2 L428.9 80.4 L428.2 79.5 L427.5 78.7 L426.7 77.9 L425.9 77.2 L425 76.5 L424 75.9 L422.8 75.3 L421.5 74.9 L420.2 74.4 L418.9 73.9 L417.8 73.4 L416.8 72.8 L416.1 72 L415.7 71 L415.5 69.9 L415.4 68.6 L415.5 67.3 L415.7 66 L415.9 64.8 L416 63.8 L416.1 63.1Z" fill="url(#rar)" stroke="none" stroke-width="0.6" fill-opacity="0.8"/>
<path d="M461.9 101.9 L462.3 103 L462.7 104.5 L463.3 106.3 L463.9 108.3 L464.6 110.4 L465.2 112.5 L465.9 114.7 L466.5 116.7 L467.1 118.7 L467.7 120.8 L468.3 123 L468.9 125.1 L469.4 127.3 L470 129.4 L470.6 131.4 L471.1 133.3 L471.6 135.1 L472 136.9 L472.4 138.7 L472.7 140.4 L473.1 142 L473.6 143.5 L474.1 145 L474.8 146.3 L475.7 147.5 L476.7 148.4 L477.9 149.3 L479.1 150.1 L480.3 150.8 L481.4 151.7 L482.3 152.6 L483.1 153.7 L483.7 155.1 L484.1 156.7 L484.4 158.4 L484.6 160.2 L484.7 161.9 L484.8 163.4 L484.9 164.7 L485 165.7" fill="none" stroke="#555" stroke-width="0.6" />
<path d="M485 165.7 L483.7 164.5 L481.8 162.9 L479.7 161 L477.3 158.9 L474.8 156.7 L472.5 154.5 L470.3 152.4 L468.6 150.5 L467.2 148.8 L466 147.1 L465 145.6 L464.1 144 L463.2 142.4 L462.5 140.8 L461.7 139.2 L461 137.5 L460.3 135.7 L459.7 133.9 L459.2 132 L458.7 130.1 L458.2 128.2 L457.7 126.3 L457.2 124.4 L456.6 122.5 L455.9 120.6 L455.2 118.5 L454.3 116.4 L453.5 114.3 L452.7 112.4 L452 110.6 L451.4 109.1 L451 108" fill="none" stroke="#555" stroke-width="0.6" />
<path d="M464 135 L464.4 136 L464.9 137.3 L465.4 138.8 L466.1 140.6 L466.8 142.3 L467.5 144.1 L468.2 145.7 L469 147 L469.8 148.1 L470.6 149.2 L471.5 150.2 L472.4 151.1 L473.4 151.9 L474.3 152.6 L475.2 153.4 L476 154 L476.8 154.6 L477.7 155.1 L478.6 155.5 L479.4 155.9 L480.2 156.3 L480.9 156.6 L481.5 156.8 L482 157" fill="none" stroke="#bcd2ec" stroke-width="1.4" stroke-opacity="0.8"/>
<g><circle cx="411" cy="86.3" r="2.6" fill="#e4127c"/><circle cx="428.8" cy="63.3" r="2.6" fill="#f21a2e"/><circle cx="415.6" cy="75.1" r="2.6" fill="#e81164"/><circle cx="430.7" cy="62.2" r="2.6" fill="#ef172e"/><circle cx="424.7" cy="63.3" r="2.6" fill="#ed1530"/><circle cx="418.4" cy="78.9" r="2.6" fill="#e50f64"/><circle cx="422.4" cy="63.2" r="2.6" fill="#f0183b"/><circle cx="411.5" cy="78.3" r="2.6" fill="#e20f77"/><circle cx="413" cy="76.6" r="2.6" fill="#e81371"/><circle cx="426.2" cy="61.8" r="2.6" fill="#ee162c"/><circle cx="428.3" cy="61.1" r="2.6" fill="#ef1729"/><circle cx="409.8" cy="82.3" r="2.6" fill="#df0f87"/><circle cx="417.4" cy="68.8" r="2.6" fill="#ee1652"/><circle cx="419.8" cy="63.6" r="2.6" fill="#ef1742"/><circle cx="423.3" cy="73.1" r="2.6" fill="#ec154e"/><circle cx="411" cy="71.8" r="2.6" fill="#e61062"/><circle cx="419.5" cy="69.7" r="2.6" fill="#ee164e"/><circle cx="423" cy="71.8" r="2.6" fill="#eb144a"/><circle cx="415.8" cy="67.6" r="2.6" fill="#e9114f"/><circle cx="410.5" cy="84.7" r="2.6" fill="#df0e7e"/><circle cx="423.3" cy="61.1" r="2.6" fill="#ef1736"/><circle cx="418.5" cy="67.9" r="2.6" fill="#ec154b"/><circle cx="415.9" cy="71" r="2.6" fill="#e81057"/><circle cx="415.3" cy="69.4" r="2.6" fill="#ea1356"/><circle cx="429.7" cy="65.8" r="2.6" fill="#ec1431"/><circle cx="420.8" cy="71" r="2.6" fill="#ec144d"/><circle cx="416.9" cy="80.3" r="2.6" fill="#e5106c"/><circle cx="413.2" cy="73.3" r="2.6" fill="#e71064"/><circle cx="406.8" cy="82.5" r="2.6" fill="#e41280"/><circle cx="408.8" cy="84.3" r="2.6" fill="#df0d7e"/><circle cx="406.3" cy="77.2" r="2.6" fill="#e30f71"/><circle cx="422.2" cy="67.1" r="2.6" fill="#ec143e"/><circle cx="412.6" cy="85" r="2.6" fill="#e00d78"/><circle cx="423.9" cy="65.1" r="2.6" fill="#f21a39"/><circle cx="413.2" cy="71" r="2.6" fill="#e60f5b"/><circle cx="415" cy="72.6" r="2.6" fill="#e91260"/><circle cx="413.7" cy="82.3" r="2.6" fill="#e4117b"/><circle cx="421.1" cy="73.1" r="2.6" fill="#ec1553"/><circle cx="405.4" cy="78.9" r="2.6" fill="#e61378"/><circle cx="427.5" cy="63.4" r="2.6" fill="#ee162a"/><circle cx="405.4" cy="82.7" r="2.6" fill="#e00e77"/><circle cx="429.3" cy="59.5" r="2.6" fill="#f0182f"/><circle cx="416.5" cy="78.9" r="2.6" fill="#e8136e"/><circle cx="421" cy="68.8" r="2.6" fill="#eb1344"/><circle cx="418.8" cy="77" r="2.6" fill="#e6105f"/><circle cx="427.4" cy="68" r="2.6" fill="#ed1538"/><circle cx="408.7" cy="80.8" r="2.6" fill="#df0e7f"/><circle cx="428.5" cy="57.9" r="2.6" fill="#f21a34"/><circle cx="425.2" cy="67.4" r="2.6" fill="#f0183c"/><circle cx="426.1" cy="65" r="2.6" fill="#f01832"/><circle cx="419" cy="72.6" r="2.6" fill="#e81053"/><circle cx="423.7" cy="69.9" r="2.6" fill="#f01846"/><circle cx="427.5" cy="59.5" r="2.6" fill="#ef172d"/><circle cx="411.1" cy="82.4" r="2.6" fill="#e00f84"/><circle cx="410.2" cy="76.4" r="2.6" fill="#e41071"/><circle cx="414.6" cy="81" r="2.6" fill="#e51276"/><circle cx="416.9" cy="77" r="2.6" fill="#e50f64"/><circle cx="413.5" cy="75.5" r="2.6" fill="#e8126c"/><circle cx="420.2" cy="67.8" r="2.6" fill="#ed1547"/><circle cx="417.4" cy="73.4" r="2.6" fill="#e8105b"/><circle cx="405.7" cy="84.3" r="2.6" fill="#e6137c"/><circle cx="424.8" cy="59.6" r="2.6" fill="#f01834"/><circle cx="405.5" cy="81.2" r="2.6" fill="#e20f78"/><circle cx="409.4" cy="74.7" r="2.6" fill="#e5106c"/><circle cx="431" cy="63.3" r="2.6" fill="#ed152e"/><circle cx="410" cy="73" r="2.6" fill="#e61066"/><circle cx="413.6" cy="86.1" r="2.6" fill="#e31076"/><circle cx="421.2" cy="65.2" r="2.6" fill="#ec143d"/><circle cx="409.6" cy="86.6" r="2.6" fill="#e3117b"/><circle cx="412.1" cy="75.1" r="2.6" fill="#e8126d"/><circle cx="407.3" cy="78.7" r="2.6" fill="#e31078"/><circle cx="425.8" cy="69.5" r="2.6" fill="#ef1841"/><circle cx="407.8" cy="76.8" r="2.6" fill="#e51174"/><circle cx="420.4" cy="74.9" r="2.6" fill="#eb1459"/><circle cx="418.3" cy="75.2" r="2.6" fill="#e7105c"/><circle cx="404.4" cy="84.3" r="2.6" fill="#e20f75"/><circle cx="415.1" cy="84.9" r="2.6" fill="#e61276"/><circle cx="409.9" cy="80.3" r="2.6" fill="#e00f7f"/><circle cx="414.9" cy="76.6" r="2.6" fill="#e40e68"/><circle cx="415.7" cy="83.2" r="2.6" fill="#e41073"/><circle cx="413" cy="81.2" r="2.6" fill="#e3117c"/><circle cx="428.2" cy="64.9" r="2.6" fill="#f01831"/><circle cx="418.2" cy="71.1" r="2.6" fill="#ea1252"/><circle cx="424.2" cy="71.8" r="2.6" fill="#ed1548"/><circle cx="413.9" cy="78.5" r="2.6" fill="#e71276"/><circle cx="419.5" cy="65.5" r="2.6" fill="#ec1443"/><circle cx="409.7" cy="78.6" r="2.6" fill="#e5127b"/></g>
<g><circle cx="395.2" cy="97.7" r="2.6" fill="#e1197a"/><circle cx="396.3" cy="103.5" r="2.6" fill="#e01882"/><circle cx="386.9" cy="103.6" r="2.6" fill="#df177b"/><circle cx="392.1" cy="86.3" r="2.6" fill="#e71f67"/><circle cx="392.2" cy="93.5" r="2.6" fill="#e41c6f"/><circle cx="397.5" cy="104.7" r="2.6" fill="#dd1580"/><circle cx="386.5" cy="93.2" r="2.6" fill="#e01871"/><circle cx="391" cy="95" r="2.6" fill="#df1771"/><circle cx="390.3" cy="93.7" r="2.6" fill="#e41c72"/><circle cx="388.1" cy="97.8" r="2.6" fill="#e01879"/><circle cx="386.9" cy="99.7" r="2.6" fill="#e1197a"/><circle cx="389.7" cy="105.7" r="2.6" fill="#e11981"/><circle cx="390.5" cy="89.5" r="2.6" fill="#e31b64"/><circle cx="385.4" cy="95.9" r="2.6" fill="#e01875"/><circle cx="393.7" cy="88" r="2.6" fill="#ea2266"/><circle cx="386.1" cy="101.2" r="2.6" fill="#e21a7c"/><circle cx="396.1" cy="106.9" r="2.6" fill="#de1683"/><circle cx="387.3" cy="96.2" r="2.6" fill="#e01876"/><circle cx="384.4" cy="99.3" r="2.6" fill="#e01878"/><circle cx="395.5" cy="110.8" r="2.6" fill="#e11987"/><circle cx="395" cy="109.5" r="2.6" fill="#e11987"/><circle cx="388.4" cy="90.1" r="2.6" fill="#e21a6a"/><circle cx="388.9" cy="99.8" r="2.6" fill="#e21a7d"/><circle cx="392.3" cy="105.7" r="2.6" fill="#e21a83"/><circle cx="397.5" cy="107.5" r="2.6" fill="#dd1583"/><circle cx="391.2" cy="102.8" r="2.6" fill="#e0187f"/><circle cx="394.7" cy="101.1" r="2.6" fill="#e0187e"/><circle cx="397.8" cy="110.5" r="2.6" fill="#de1686"/><circle cx="399.4" cy="108.9" r="2.6" fill="#de1684"/><circle cx="388.8" cy="92.3" r="2.6" fill="#e41c6f"/><circle cx="391.9" cy="87.6" r="2.6" fill="#e51d61"/><circle cx="393.2" cy="103.1" r="2.6" fill="#e01881"/><circle cx="389.3" cy="103.7" r="2.6" fill="#e0187e"/><circle cx="391.3" cy="107.1" r="2.6" fill="#e01881"/><circle cx="391.6" cy="91.3" r="2.6" fill="#e51d67"/><circle cx="392" cy="97.8" r="2.6" fill="#e21a7b"/><circle cx="387.6" cy="101" r="2.6" fill="#e1197c"/><circle cx="390.3" cy="101.3" r="2.6" fill="#e31b80"/><circle cx="396.3" cy="100.7" r="2.6" fill="#e0187e"/><circle cx="390.5" cy="97.5" r="2.6" fill="#de1677"/><circle cx="397.4" cy="108.9" r="2.6" fill="#e01888"/><circle cx="392.2" cy="101" r="2.6" fill="#dd157b"/><circle cx="392.3" cy="89.7" r="2.6" fill="#e71f62"/><circle cx="387.9" cy="93.9" r="2.6" fill="#e41c75"/><circle cx="391.8" cy="98.9" r="2.6" fill="#e1197c"/><circle cx="394.1" cy="99.1" r="2.6" fill="#df177a"/><circle cx="394.2" cy="104.9" r="2.6" fill="#e01882"/><circle cx="388.6" cy="95.4" r="2.6" fill="#df1775"/><circle cx="385.9" cy="97.9" r="2.6" fill="#e01878"/><circle cx="393.8" cy="107.6" r="2.6" fill="#e21a86"/><circle cx="394.9" cy="90.3" r="2.6" fill="#e9216a"/><circle cx="392.4" cy="108.9" r="2.6" fill="#e21a85"/><circle cx="387" cy="92" r="2.6" fill="#e0186e"/><circle cx="394.1" cy="91.9" r="2.6" fill="#e8206d"/></g>
<g><circle cx="395.3" cy="98.7" r="2.6" fill="#f27d1a"/><circle cx="397" cy="76.3" r="2.6" fill="#f8ab18"/><circle cx="398" cy="92.7" r="2.6" fill="#f37d1b"/><circle cx="395.1" cy="90.7" r="2.6" fill="#f68a1a"/><circle cx="398.3" cy="86.1" r="2.6" fill="#f89518"/><circle cx="395.3" cy="94.8" r="2.6" fill="#f5821d"/><circle cx="398.9" cy="86.9" r="2.6" fill="#f99519"/><circle cx="404.8" cy="92.6" r="2.6" fill="#f47e1c"/><circle cx="405.8" cy="91.2" r="2.6" fill="#f28118"/><circle cx="405.3" cy="95.5" r="2.6" fill="#f47b1e"/><circle cx="398.3" cy="77.9" r="2.6" fill="#f8a918"/><circle cx="399.1" cy="98.5" r="2.6" fill="#f0741c"/><circle cx="401.6" cy="91.4" r="2.6" fill="#f27c19"/><circle cx="398.8" cy="91.8" r="2.6" fill="#f6811d"/><circle cx="395.2" cy="83.5" r="2.6" fill="#f69c16"/><circle cx="403.3" cy="95.3" r="2.6" fill="#f47621"/><circle cx="399.9" cy="100.8" r="2.6" fill="#f37a1d"/><circle cx="400.5" cy="93.5" r="2.6" fill="#f37420"/><circle cx="406.7" cy="96.6" r="2.6" fill="#f57f1e"/><circle cx="402.5" cy="97.1" r="2.6" fill="#f47421"/><circle cx="398.5" cy="89.1" r="2.6" fill="#f58917"/><circle cx="400.4" cy="89.3" r="2.6" fill="#f6881a"/><circle cx="396.8" cy="84.2" r="2.6" fill="#fb9f1b"/><circle cx="403.8" cy="87.5" r="2.6" fill="#f48b17"/><circle cx="395.9" cy="78.4" r="2.6" fill="#faab1a"/><circle cx="397.3" cy="72.5" r="2.6" fill="#fab01a"/><circle cx="396.5" cy="87.5" r="2.6" fill="#f9941a"/><circle cx="404.3" cy="97.4" r="2.6" fill="#f4781f"/><circle cx="395.7" cy="70.7" r="2.6" fill="#f8b018"/><circle cx="404.2" cy="91" r="2.6" fill="#f5821c"/><circle cx="396.5" cy="81.4" r="2.6" fill="#faa61a"/><circle cx="403.3" cy="98.9" r="2.6" fill="#f1751c"/><circle cx="406.7" cy="92.7" r="2.6" fill="#f5821c"/><circle cx="397.1" cy="99.1" r="2.6" fill="#f27b1c"/><circle cx="397.2" cy="95.3" r="2.6" fill="#f57d1f"/><circle cx="396.4" cy="93.4" r="2.6" fill="#f7831e"/><circle cx="400.2" cy="82.1" r="2.6" fill="#f59c15"/><circle cx="396.4" cy="89.1" r="2.6" fill="#f9901c"/><circle cx="405.5" cy="99.2" r="2.6" fill="#f27a1b"/><circle cx="396.5" cy="79.2" r="2.6" fill="#fbab1b"/><circle cx="400.9" cy="96.6" r="2.6" fill="#f16e20"/><circle cx="395.4" cy="75.9" r="2.6" fill="#f5a915"/><circle cx="398.9" cy="83.5" r="2.6" fill="#f89c18"/><circle cx="395.7" cy="74.6" r="2.6" fill="#f6ab16"/><circle cx="401.1" cy="99.2" r="2.6" fill="#f0741c"/><circle cx="394.3" cy="78.1" r="2.6" fill="#fbab1b"/><circle cx="402" cy="87.3" r="2.6" fill="#f78e19"/><circle cx="396.4" cy="85.8" r="2.6" fill="#f59516"/><circle cx="399.5" cy="94.6" r="2.6" fill="#f3741f"/><circle cx="402.1" cy="89.4" r="2.6" fill="#f7881c"/><circle cx="396.6" cy="91.6" r="2.6" fill="#f5841a"/><circle cx="395" cy="79.4" r="2.6" fill="#f6a617"/><circle cx="404.7" cy="89.1" r="2.6" fill="#f88b1d"/><circle cx="395.4" cy="87.6" r="2.6" fill="#f69218"/><circle cx="402.7" cy="93.3" r="2.6" fill="#f4781e"/><circle cx="396.6" cy="97.2" r="2.6" fill="#f17a1b"/><circle cx="399.4" cy="80.4" r="2.6" fill="#faa51a"/><circle cx="399.8" cy="85.2" r="2.6" fill="#fb9a1b"/><circle cx="397.7" cy="97" r="2.6" fill="#f3781e"/><circle cx="401.3" cy="95" r="2.6" fill="#f16d21"/><circle cx="402" cy="101" r="2.6" fill="#f67d20"/><circle cx="398.3" cy="81.7" r="2.6" fill="#faa41a"/><circle cx="397.6" cy="100.6" r="2.6" fill="#f37c1c"/></g>
<g><circle cx="444.3" cy="94.7" r="2.6" fill="#f9b019"/><circle cx="429.4" cy="92.9" r="2.6" fill="#f9b919"/><circle cx="434.7" cy="96.8" r="2.6" fill="#f6b416"/><circle cx="448.8" cy="99.2" r="2.6" fill="#f6ac16"/><circle cx="448" cy="92.6" r="2.6" fill="#f8ad18"/><circle cx="431.1" cy="95.1" r="2.6" fill="#f8b818"/><circle cx="435.6" cy="99.2" r="2.6" fill="#fab71a"/><circle cx="451.1" cy="95.3" r="2.6" fill="#f7aa17"/><circle cx="423.8" cy="94.5" r="2.6" fill="#f8b818"/><circle cx="432" cy="93.2" r="2.6" fill="#f8b718"/><circle cx="434.7" cy="93.1" r="2.6" fill="#f7b517"/><circle cx="427.6" cy="92.8" r="2.6" fill="#f5b515"/><circle cx="438.1" cy="98.4" r="2.6" fill="#fab51a"/><circle cx="440.4" cy="93.1" r="2.6" fill="#f6b016"/><circle cx="446.6" cy="98.7" r="2.6" fill="#f7ad17"/><circle cx="452.3" cy="96.7" r="2.6" fill="#f9ac19"/><circle cx="438.1" cy="95" r="2.6" fill="#f8b418"/><circle cx="448.1" cy="95.3" r="2.6" fill="#f9ad19"/><circle cx="442.3" cy="94.3" r="2.6" fill="#f8b118"/><circle cx="427.1" cy="97.1" r="2.6" fill="#f6b616"/><circle cx="439" cy="96.5" r="2.6" fill="#f5b015"/><circle cx="421.6" cy="94.5" r="2.6" fill="#f9b919"/><circle cx="421" cy="96.3" r="2.6" fill="#f8b818"/><circle cx="430.7" cy="99.1" r="2.6" fill="#f6b516"/><circle cx="440.1" cy="98.5" r="2.6" fill="#f6b016"/><circle cx="451.8" cy="93.5" r="2.6" fill="#f7a917"/><circle cx="456.7" cy="92.7" r="2.6" fill="#fbab1b"/><circle cx="442.4" cy="98.6" r="2.6" fill="#f8b118"/><circle cx="444.6" cy="98.7" r="2.6" fill="#f7ae17"/><circle cx="425.8" cy="97" r="2.6" fill="#f9b919"/><circle cx="426.1" cy="94.6" r="2.6" fill="#f6b616"/><circle cx="436.6" cy="96.8" r="2.6" fill="#f5b215"/><circle cx="446.8" cy="95.3" r="2.6" fill="#f7ad17"/><circle cx="451.1" cy="99" r="2.6" fill="#f8ac18"/><circle cx="421.2" cy="92.6" r="2.6" fill="#faba1a"/><circle cx="442.7" cy="96.8" r="2.6" fill="#f9b119"/><circle cx="458.3" cy="93.4" r="2.6" fill="#faab1a"/><circle cx="425.6" cy="92.8" r="2.6" fill="#f9b919"/><circle cx="445.4" cy="92.8" r="2.6" fill="#fab11a"/><circle cx="423.7" cy="92.7" r="2.6" fill="#f6b616"/><circle cx="456.6" cy="97.4" r="2.6" fill="#f9ab19"/><circle cx="447.7" cy="96.4" r="2.6" fill="#f6ab16"/><circle cx="453.6" cy="96.6" r="2.6" fill="#f5a715"/><circle cx="439.9" cy="94.5" r="2.6" fill="#f9b419"/><circle cx="431.6" cy="97.2" r="2.6" fill="#f6b616"/><circle cx="423.8" cy="97.2" r="2.6" fill="#f5b515"/><circle cx="435.7" cy="94.3" r="2.6" fill="#f9b619"/><circle cx="449.6" cy="97.1" r="2.6" fill="#faae1a"/><circle cx="449.9" cy="93.2" r="2.6" fill="#f7ab17"/><circle cx="430.2" cy="96.6" r="2.6" fill="#f7b717"/><circle cx="429" cy="94.4" r="2.6" fill="#fbbb1b"/><circle cx="452.5" cy="91.5" r="2.6" fill="#f9ac19"/><circle cx="441.2" cy="97" r="2.6" fill="#f7b117"/><circle cx="445.5" cy="96.8" r="2.6" fill="#f8af18"/><circle cx="455.4" cy="94.5" r="2.6" fill="#f8a818"/><circle cx="453" cy="94.6" r="2.6" fill="#faac1a"/><circle cx="433.6" cy="99.3" r="2.6" fill="#fab81a"/><circle cx="433.1" cy="95.4" r="2.6" fill="#faba1a"/><circle cx="439.1" cy="93.4" r="2.6" fill="#fab41a"/><circle cx="420.2" cy="94.5" r="2.6" fill="#f6b616"/><circle cx="457.5" cy="94.5" r="2.6" fill="#f6a716"/><circle cx="453.7" cy="93.2" r="2.6" fill="#f7a817"/><circle cx="429.2" cy="98.5" r="2.6" fill="#faba1a"/><circle cx="436" cy="92.4" r="2.6" fill="#f5b215"/><circle cx="443.5" cy="93.1" r="2.6" fill="#f9b119"/></g>
<g><circle cx="447.6" cy="111.1" r="2.6" fill="#f4601a"/><circle cx="472.3" cy="122.5" r="2.6" fill="#ed1b2b"/><circle cx="447.6" cy="107.2" r="2.6" fill="#f56919"/><circle cx="458.9" cy="119.3" r="2.6" fill="#f23821"/><circle cx="430.1" cy="95.8" r="2.6" fill="#fba81b"/><circle cx="462.1" cy="124.5" r="2.6" fill="#f02a25"/><circle cx="493.1" cy="136.3" r="2.6" fill="#ed0e9d"/><circle cx="449.1" cy="105.9" r="2.6" fill="#f26517"/><circle cx="433.4" cy="101.3" r="2.6" fill="#f9991a"/><circle cx="437.2" cy="103.2" r="2.6" fill="#fa8e1b"/><circle cx="456.7" cy="115.5" r="2.6" fill="#ee3f19"/><circle cx="448.5" cy="99.7" r="2.6" fill="#f5711a"/><circle cx="446" cy="99.7" r="2.6" fill="#f37516"/><circle cx="431.5" cy="97.8" r="2.6" fill="#faa61a"/><circle cx="446.6" cy="105.9" r="2.6" fill="#f6701a"/><circle cx="446.3" cy="107.3" r="2.6" fill="#f16915"/><circle cx="452.7" cy="107.2" r="2.6" fill="#f35a19"/><circle cx="489.8" cy="134.6" r="2.6" fill="#ef0f85"/><circle cx="488.6" cy="136.7" r="2.6" fill="#ef107f"/><circle cx="477.7" cy="128.4" r="2.6" fill="#f31747"/><circle cx="462.8" cy="120.5" r="2.6" fill="#ed2b1f"/><circle cx="436" cy="101.6" r="2.6" fill="#f9931a"/><circle cx="468.6" cy="129" r="2.6" fill="#ef1a2d"/><circle cx="477.8" cy="132.2" r="2.6" fill="#ef1348"/><circle cx="434.4" cy="99.7" r="2.6" fill="#fb9c1b"/><circle cx="450.8" cy="109.2" r="2.6" fill="#f35c19"/><circle cx="492.5" cy="134.4" r="2.6" fill="#f2129f"/><circle cx="445" cy="105.7" r="2.6" fill="#f47117"/><circle cx="436.2" cy="97.7" r="2.6" fill="#f79517"/><circle cx="493.5" cy="132.8" r="2.6" fill="#f3139f"/><circle cx="484.7" cy="132.5" r="2.6" fill="#f21364"/><circle cx="444.2" cy="111.2" r="2.6" fill="#f5681a"/><circle cx="441.8" cy="99.6" r="2.6" fill="#fa881b"/><circle cx="449.3" cy="109.5" r="2.6" fill="#f4601a"/><circle cx="449.9" cy="103.4" r="2.6" fill="#f36718"/><circle cx="457.4" cy="105.6" r="2.6" fill="#f2521b"/><circle cx="456.1" cy="121.1" r="2.6" fill="#f03a20"/><circle cx="454.3" cy="111.1" r="2.6" fill="#f14d19"/><circle cx="470.7" cy="125" r="2.6" fill="#f21b2c"/><circle cx="472.1" cy="130.8" r="2.6" fill="#f11939"/><circle cx="464.7" cy="117.5" r="2.6" fill="#f13122"/><circle cx="464.6" cy="120.5" r="2.6" fill="#ef2921"/><circle cx="440.3" cy="97.6" r="2.6" fill="#f68917"/><circle cx="433" cy="95.9" r="2.6" fill="#f99f19"/><circle cx="461.4" cy="115.5" r="2.6" fill="#f23b20"/><circle cx="430.3" cy="99.9" r="2.6" fill="#fba11b"/><circle cx="469.3" cy="124.5" r="2.6" fill="#ee1a25"/><circle cx="459.8" cy="117.6" r="2.6" fill="#f1381f"/><circle cx="483.9" cy="128.4" r="2.6" fill="#f2155c"/><circle cx="434.7" cy="96.7" r="2.6" fill="#f89a18"/><circle cx="464.5" cy="113.4" r="2.6" fill="#ee351e"/><circle cx="477.6" cy="125.4" r="2.6" fill="#f01841"/><circle cx="446.9" cy="109.9" r="2.6" fill="#f5651a"/><circle cx="453.7" cy="116.9" r="2.6" fill="#f1461d"/><circle cx="462.1" cy="117.4" r="2.6" fill="#f13520"/><circle cx="459.5" cy="111.8" r="2.6" fill="#f1431c"/><circle cx="458.4" cy="120.5" r="2.6" fill="#f03620"/><circle cx="481" cy="131.2" r="2.6" fill="#f01252"/><circle cx="466.5" cy="125.1" r="2.6" fill="#f22228"/><circle cx="489.1" cy="132.3" r="2.6" fill="#ef0f7d"/><circle cx="461.7" cy="119" r="2.6" fill="#f13321"/><circle cx="457.3" cy="107.2" r="2.6" fill="#ee4c18"/><circle cx="491.4" cy="136.7" r="2.6" fill="#ee0f91"/><circle cx="459.8" cy="109.1" r="2.6" fill="#ef451a"/><circle cx="443.1" cy="99.6" r="2.6" fill="#f78219"/><circle cx="431.8" cy="94.5" r="2.6" fill="#faa11b"/><circle cx="449" cy="113.4" r="2.6" fill="#f55a1d"/><circle cx="490.4" cy="132.6" r="2.6" fill="#f21389"/><circle cx="458.8" cy="107.9" r="2.6" fill="#f44e1e"/><circle cx="438.2" cy="106.3" r="2.6" fill="#f9841b"/><circle cx="476.5" cy="130.4" r="2.6" fill="#ed1240"/><circle cx="442.3" cy="98.2" r="2.6" fill="#f58217"/><circle cx="463.5" cy="122.8" r="2.6" fill="#ee2721"/><circle cx="447.4" cy="102.3" r="2.6" fill="#f7731b"/><circle cx="461" cy="122.4" r="2.6" fill="#f23125"/><circle cx="461.4" cy="126.3" r="2.6" fill="#ee2824"/><circle cx="473.5" cy="132.2" r="2.6" fill="#ee153b"/><circle cx="450.8" cy="102.2" r="2.6" fill="#f6691b"/><circle cx="449.6" cy="101.5" r="2.6" fill="#f36a18"/><circle cx="449.8" cy="111.1" r="2.6" fill="#f05716"/><circle cx="479.8" cy="133.1" r="2.6" fill="#ef124f"/><circle cx="478.4" cy="130.1" r="2.6" fill="#f3164a"/><circle cx="437.1" cy="100" r="2.6" fill="#f99519"/><circle cx="455.8" cy="113.7" r="2.6" fill="#ee4318"/><circle cx="466.2" cy="129.1" r="2.6" fill="#f2222f"/><circle cx="439.2" cy="104.1" r="2.6" fill="#f9871a"/><circle cx="455.7" cy="109.5" r="2.6" fill="#f24f1a"/><circle cx="438.1" cy="101.8" r="2.6" fill="#f58a15"/><circle cx="442.5" cy="102.3" r="2.6" fill="#f78119"/><circle cx="470.5" cy="119.6" r="2.6" fill="#ee2227"/><circle cx="434.6" cy="103.9" r="2.6" fill="#f68c17"/><circle cx="475.5" cy="125.2" r="2.6" fill="#f21a3b"/><circle cx="450.3" cy="107.3" r="2.6" fill="#f46219"/><circle cx="463" cy="119" r="2.6" fill="#ee2e1e"/><circle cx="438.7" cy="98.2" r="2.6" fill="#f78f18"/><circle cx="452.8" cy="115.7" r="2.6" fill="#f0491b"/><circle cx="456.3" cy="119.6" r="2.6" fill="#ee3a1d"/><circle cx="438.9" cy="96.3" r="2.6" fill="#fa901b"/><circle cx="467.6" cy="130.1" r="2.6" fill="#f01e2f"/><circle cx="438.7" cy="100.1" r="2.6" fill="#f88f18"/><circle cx="473.5" cy="124.5" r="2.6" fill="#f21b34"/><circle cx="467.2" cy="119" r="2.6" fill="#f02a24"/><circle cx="455.4" cy="106" r="2.6" fill="#f3561b"/><circle cx="494.8" cy="136.1" r="2.6" fill="#f010ae"/><circle cx="457.7" cy="109.8" r="2.6" fill="#ef4819"/><circle cx="494.4" cy="134.2" r="2.6" fill="#ed0da6"/><circle cx="445.9" cy="111.8" r="2.6" fill="#f6651c"/><circle cx="465.8" cy="127.3" r="2.6" fill="#f2232b"/><circle cx="469.4" cy="132.4" r="2.6" fill="#f21d37"/><circle cx="481.1" cy="134.8" r="2.6" fill="#f01358"/><circle cx="454.6" cy="115.2" r="2.6" fill="#f2471c"/><circle cx="458" cy="117.2" r="2.6" fill="#f33e20"/><circle cx="482.9" cy="130.9" r="2.6" fill="#ee1056"/><circle cx="487.9" cy="134.3" r="2.6" fill="#f1117a"/><circle cx="461.1" cy="107.9" r="2.6" fill="#ee441b"/><circle cx="452.9" cy="104" r="2.6" fill="#f5611c"/><circle cx="479.7" cy="128.1" r="2.6" fill="#f3174d"/><circle cx="485.6" cy="134.5" r="2.6" fill="#f1126b"/><circle cx="462.4" cy="113.1" r="2.6" fill="#ee3a1c"/><circle cx="439.8" cy="102.4" r="2.6" fill="#fa8b1a"/><circle cx="476.3" cy="123.1" r="2.6" fill="#f01a3a"/><circle cx="443.8" cy="103.6" r="2.6" fill="#f57a17"/><circle cx="451.9" cy="117" r="2.6" fill="#f44c1f"/><circle cx="495.9" cy="134.4" r="2.6" fill="#f010b3"/><circle cx="457.3" cy="123.3" r="2.6" fill="#ef3421"/><circle cx="465.7" cy="130.9" r="2.6" fill="#f22231"/><circle cx="486.7" cy="135.9" r="2.6" fill="#f31476"/><circle cx="484.6" cy="136.1" r="2.6" fill="#f3156b"/><circle cx="461.8" cy="109.6" r="2.6" fill="#f2441f"/><circle cx="445.2" cy="109.1" r="2.6" fill="#f56c1a"/><circle cx="453.3" cy="105.8" r="2.6" fill="#f05917"/><circle cx="473.7" cy="121.2" r="2.6" fill="#f22033"/><circle cx="490.3" cy="130.9" r="2.6" fill="#f21383"/><circle cx="449.6" cy="115.3" r="2.6" fill="#f2521c"/><circle cx="460.3" cy="112.9" r="2.6" fill="#f3421f"/><circle cx="460" cy="121.3" r="2.6" fill="#f03221"/><circle cx="442.9" cy="105.8" r="2.6" fill="#f87b1b"/><circle cx="464.7" cy="129.1" r="2.6" fill="#f0232c"/><circle cx="463.8" cy="115.7" r="2.6" fill="#ef341f"/><circle cx="470.4" cy="130.2" r="2.6" fill="#f21b35"/><circle cx="487.4" cy="130.2" r="2.6" fill="#ef106c"/><circle cx="497.4" cy="136.5" r="2.6" fill="#f010bb"/><circle cx="443.9" cy="107.8" r="2.6" fill="#f6721a"/><circle cx="474" cy="123.1" r="2.6" fill="#f11d34"/><circle cx="441.6" cy="103.6" r="2.6" fill="#f47e15"/><circle cx="433.2" cy="100.1" r="2.6" fill="#f99c19"/><circle cx="466.8" cy="121.1" r="2.6" fill="#ef2523"/><circle cx="465.7" cy="122.4" r="2.6" fill="#f12825"/><circle cx="477" cy="127" r="2.6" fill="#f21842"/><circle cx="442" cy="107.5" r="2.6" fill="#f6771a"/><circle cx="467.1" cy="117.4" r="2.6" fill="#f33027"/><circle cx="447.8" cy="103.7" r="2.6" fill="#f46d18"/><circle cx="455.1" cy="118.9" r="2.6" fill="#f03f1e"/><circle cx="461.4" cy="112" r="2.6" fill="#f03f1d"/><circle cx="465.6" cy="119" r="2.6" fill="#f32f25"/><circle cx="473.9" cy="134.2" r="2.6" fill="#f01842"/><circle cx="450.8" cy="105.5" r="2.6" fill="#f26117"/><circle cx="486.4" cy="132" r="2.6" fill="#f1116b"/><circle cx="467.6" cy="126.9" r="2.6" fill="#ee1b27"/><circle cx="433.6" cy="97.7" r="2.6" fill="#f89e18"/><circle cx="442.7" cy="109.3" r="2.6" fill="#f26d16"/><circle cx="446.2" cy="104.1" r="2.6" fill="#f47117"/><circle cx="465.4" cy="115.6" r="2.6" fill="#f23423"/><circle cx="475.3" cy="128.1" r="2.6" fill="#ed1339"/><circle cx="475.8" cy="132.5" r="2.6" fill="#ef1543"/><circle cx="460" cy="124.6" r="2.6" fill="#ef2d23"/><circle cx="440.4" cy="106" r="2.6" fill="#f67e19"/><circle cx="471.2" cy="120.6" r="2.6" fill="#f1232d"/><circle cx="483.6" cy="133.9" r="2.6" fill="#ed0e5c"/><circle cx="444.3" cy="97.6" r="2.6" fill="#f77f1a"/><circle cx="454.9" cy="107.2" r="2.6" fill="#f3561b"/><circle cx="469.8" cy="127.3" r="2.6" fill="#f11a2d"/><circle cx="472.1" cy="126.9" r="2.6" fill="#f31a32"/><circle cx="474.8" cy="130.1" r="2.6" fill="#f2173f"/><circle cx="453.3" cy="109.7" r="2.6" fill="#f15318"/><circle cx="476.6" cy="134" r="2.6" fill="#f3184b"/><circle cx="481.2" cy="126.7" r="2.6" fill="#ef144d"/><circle cx="429.6" cy="97.6" r="2.6" fill="#f8a718"/><circle cx="482.5" cy="128.9" r="2.6" fill="#f21457"/><circle cx="471.2" cy="132.6" r="2.6" fill="#ef1939"/><circle cx="457" cy="111.4" r="2.6" fill="#f1481b"/><circle cx="474.2" cy="126.6" r="2.6" fill="#f21938"/><circle cx="469.1" cy="117" r="2.6" fill="#f02b27"/><circle cx="444.3" cy="101.5" r="2.6" fill="#f57b17"/><circle cx="485.2" cy="130.9" r="2.6" fill="#f21364"/><circle cx="453.1" cy="113.2" r="2.6" fill="#f24e1b"/><circle cx="458.9" cy="115.9" r="2.6" fill="#ef3b1c"/><circle cx="436.7" cy="95.9" r="2.6" fill="#f89419"/><circle cx="469.5" cy="121.1" r="2.6" fill="#f02328"/><circle cx="482.1" cy="135.8" r="2.6" fill="#f0135d"/><circle cx="463.6" cy="126.5" r="2.6" fill="#f12729"/><circle cx="482.6" cy="132.5" r="2.6" fill="#ee0f56"/><circle cx="458.6" cy="123.2" r="2.6" fill="#ef3122"/><circle cx="464" cy="124.9" r="2.6" fill="#f32828"/><circle cx="469.8" cy="123.2" r="2.6" fill="#f2202a"/><circle cx="467.4" cy="122.9" r="2.6" fill="#ef2124"/><circle cx="457.9" cy="113.9" r="2.6" fill="#f0401b"/><circle cx="479.1" cy="127" r="2.6" fill="#f01547"/><circle cx="451.8" cy="111.4" r="2.6" fill="#f25419"/><circle cx="478.4" cy="134.6" r="2.6" fill="#f11650"/><circle cx="473.8" cy="128.4" r="2.6" fill="#f01537"/><circle cx="455.9" cy="117.5" r="2.6" fill="#ee3d1a"/><circle cx="454.7" cy="103.6" r="2.6" fill="#f35b1a"/><circle cx="463.4" cy="111.6" r="2.6" fill="#f33f22"/><circle cx="471.6" cy="128.3" r="2.6" fill="#f01731"/><circle cx="451.5" cy="113.4" r="2.6" fill="#f15019"/></g>
<path d="M462.8 104 L466.5 116.7 L470 129 L461 131 L457.2 122.2 L453 112Z" fill="#8a80a8" stroke="none" stroke-width="0.6" fill-opacity="0.35"/>
<text x="296.6" y="79.3" font-size="14.8" font-family='"Liberation Sans", sans-serif' >0.005</text>
<text x="306.8" y="105.3" font-size="14.8" font-family='"Liberation Sans", sans-serif' >Δ<tspan font-style="italic" font-size="10.4" dy="2.8">k</tspan><tspan dy="-2.8">t</tspan></text>
<text x="294.1" y="128.4" font-size="14.8" font-family='"Liberation Sans", sans-serif' >−0.005</text>
<text x="330.3" y="144.2" font-size="14.8" font-family='"Liberation Sans", sans-serif' >−3</text>
<text x="385.4" y="174" font-size="14.8" font-family='"Liberation Sans", sans-serif' ><tspan font-style="italic">k</tspan><tspan font-style="italic" font-size="10.4" dy="2.8">x</tspan></text>
<text x="465.1" y="192.9" font-size="14.8" font-family='"Liberation Sans", sans-serif' >3</text>
<text x="485.8" y="184.6" font-size="14.8" font-family='"Liberation Sans", sans-serif' >−3</text>
<text x="524.3" y="143" font-size="14.8" font-family='"Liberation Sans", sans-serif' ><tspan font-style="italic">k</tspan><tspan font-style="italic" font-size="10.4" dy="2.8">y</tspan></text>
<text x="539" y="102.1" font-size="14.8" font-family='"Liberation Sans", sans-serif' >3</text>
<rect x="280" y="180.4" width="68.9" height="21.3" fill="#fff" stroke="#808080" stroke-width="1"/>
<text x="281.9" y="196.7" font-size="15.6" font-family='"Liberation Serif", serif' ><tspan font-style="italic">k</tspan><tspan font-style="italic" font-size="11.5" dy="3">B</tspan><tspan dy="-3">T=10</tspan><tspan font-size="11.5" dy="-5.4">−4</tspan><tspan dy="5.4">t</tspan></text>
</svg></body></html>
